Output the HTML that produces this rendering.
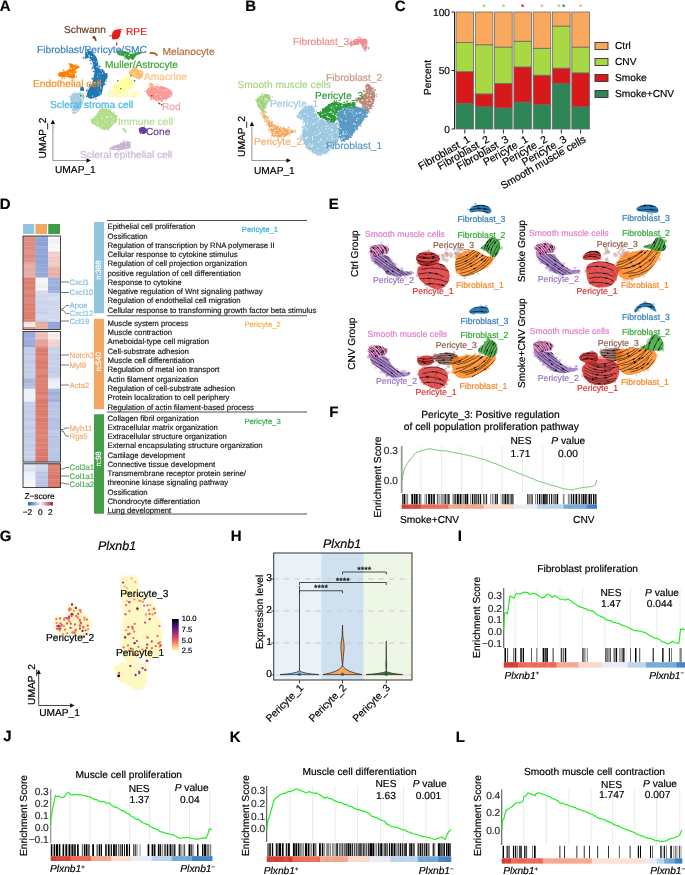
<!DOCTYPE html>
<html><head><meta charset="utf-8"><style>
html,body{margin:0;padding:0;background:#fff;}
svg{display:block;will-change:transform;}
text{font-family:"Liberation Sans", sans-serif;text-rendering:geometricPrecision;stroke-width:0.18px;}
</style></head><body>
<svg width="685" height="875" viewBox="0 0 685 875">
<rect width="685" height="875" fill="#fff"/>
<text x="-0.30" y="10.80" font-size="15" fill="#000" text-anchor="start" font-weight="bold" stroke="#000">A</text>
<text x="245.20" y="11.00" font-size="15" fill="#000" text-anchor="start" font-weight="bold" stroke="#000">B</text>
<text x="394.70" y="11.00" font-size="15" fill="#000" text-anchor="start" font-weight="bold" stroke="#000">C</text>
<text x="-0.30" y="208.80" font-size="15" fill="#000" text-anchor="start" font-weight="bold" stroke="#000">D</text>
<text x="328.80" y="208.80" font-size="15" fill="#000" text-anchor="start" font-weight="bold" stroke="#000">E</text>
<text x="329.20" y="416.80" font-size="15" fill="#000" text-anchor="start" font-weight="bold" stroke="#000">F</text>
<text x="-0.30" y="541.20" font-size="15" fill="#000" text-anchor="start" font-weight="bold" stroke="#000">G</text>
<text x="230.70" y="541.20" font-size="15" fill="#000" text-anchor="start" font-weight="bold" stroke="#000">H</text>
<text x="457.80" y="541.20" font-size="15" fill="#000" text-anchor="start" font-weight="bold" stroke="#000">I</text>
<text x="3.20" y="741.30" font-size="15" fill="#000" text-anchor="start" font-weight="bold" stroke="#000">J</text>
<text x="229.70" y="742.20" font-size="15" fill="#000" text-anchor="start" font-weight="bold" stroke="#000">K</text>
<text x="455.70" y="742.20" font-size="15" fill="#000" text-anchor="start" font-weight="bold" stroke="#000">L</text>
<path d="M84.5 57.7 C84.8 56.4 86.6 52.4 87.7 51.3 C88.8 50.2 89.9 50.8 91.0 51.3 C92.1 51.8 93.3 53.4 94.2 54.5 C95.1 55.6 95.9 56.2 96.6 57.7 C97.3 59.2 97.8 61.6 98.2 63.4 C98.6 65.2 97.9 66.9 99.0 68.2 C100.1 69.5 103.1 70.1 104.6 71.4 C106.1 72.7 107.7 74.6 107.8 76.2 C107.9 77.8 106.2 79.1 105.4 81.0 C104.6 82.9 103.7 85.2 103.0 87.4 C102.3 89.6 102.5 92.3 101.4 93.9 C100.3 95.5 98.5 96.2 96.6 97.0 C94.7 97.8 91.7 99.0 90.1 98.7 C88.5 98.5 87.3 97.1 87.0 95.5 C86.7 93.9 87.7 90.9 88.5 89.0 C89.3 87.1 91.0 86.1 91.8 84.2 C92.6 82.3 93.0 79.9 93.4 77.8 C93.8 75.7 94.2 73.5 94.2 71.4 C94.2 69.3 93.9 66.9 93.4 65.0 C92.9 63.1 91.8 61.3 91.0 60.1 C90.2 58.9 89.3 57.8 88.5 57.7 C87.7 57.6 86.8 59.3 86.1 59.3 C85.4 59.3 84.2 59.0 84.5 57.7 Z" fill="#1F78B4" stroke="none" stroke-width="1"/>
<g fill="#fff" fill-opacity="0.9"><circle cx="95.4" cy="82.7" r="0.4"/><circle cx="89.0" cy="55.5" r="0.7"/><circle cx="93.9" cy="61.2" r="0.5"/><circle cx="91.6" cy="56.6" r="0.7"/><circle cx="100.3" cy="82.8" r="0.7"/><circle cx="94.4" cy="70.5" r="0.6"/><circle cx="97.0" cy="67.7" r="0.4"/><circle cx="86.0" cy="58.4" r="0.6"/><circle cx="99.7" cy="73.8" r="0.5"/><circle cx="92.6" cy="96.1" r="0.7"/><circle cx="100.9" cy="88.0" r="0.7"/><circle cx="88.7" cy="88.9" r="0.6"/><circle cx="105.3" cy="72.5" r="0.7"/><circle cx="89.3" cy="56.6" r="0.7"/><circle cx="99.2" cy="91.9" r="0.5"/><circle cx="97.8" cy="89.4" r="0.4"/><circle cx="97.4" cy="76.7" r="0.5"/><circle cx="100.3" cy="93.7" r="0.5"/><circle cx="86.0" cy="58.3" r="0.4"/><circle cx="94.9" cy="82.8" r="0.6"/><circle cx="99.9" cy="77.4" r="0.4"/><circle cx="97.2" cy="66.4" r="0.6"/><circle cx="94.6" cy="72.9" r="0.5"/><circle cx="94.7" cy="82.9" r="0.5"/><circle cx="102.5" cy="73.3" r="0.7"/><circle cx="94.1" cy="72.7" r="0.5"/><circle cx="101.1" cy="71.1" r="0.5"/><circle cx="98.2" cy="82.8" r="0.7"/><circle cx="96.4" cy="62.0" r="0.6"/><circle cx="97.9" cy="74.1" r="0.4"/><circle cx="87.1" cy="53.2" r="0.6"/><circle cx="93.9" cy="57.6" r="0.4"/><circle cx="93.6" cy="77.8" r="0.4"/></g>
<g fill="#1F78B4"><circle cx="91.6" cy="51.0" r="0.6"/><circle cx="107.0" cy="73.4" r="0.6"/><circle cx="89.5" cy="86.1" r="0.7"/><circle cx="86.8" cy="96.4" r="0.8"/><circle cx="87.2" cy="52.0" r="0.6"/><circle cx="86.6" cy="90.9" r="0.6"/><circle cx="94.0" cy="71.8" r="0.8"/><circle cx="92.5" cy="78.7" r="0.9"/><circle cx="90.0" cy="60.5" r="0.8"/><circle cx="91.0" cy="63.8" r="0.7"/><circle cx="87.9" cy="50.3" r="0.7"/><circle cx="83.4" cy="58.0" r="0.8"/><circle cx="93.1" cy="71.1" r="0.7"/><circle cx="105.8" cy="84.0" r="0.6"/><circle cx="85.9" cy="54.7" r="0.7"/><circle cx="85.8" cy="52.8" r="0.9"/><circle cx="87.8" cy="89.5" r="0.6"/><circle cx="104.5" cy="84.4" r="0.8"/><circle cx="89.7" cy="84.7" r="0.9"/><circle cx="106.5" cy="81.1" r="0.6"/><circle cx="86.6" cy="90.4" r="0.7"/><circle cx="92.5" cy="78.5" r="0.8"/><circle cx="93.2" cy="65.7" r="0.7"/><circle cx="102.5" cy="70.0" r="0.9"/><circle cx="85.7" cy="53.0" r="0.5"/><circle cx="87.9" cy="49.7" r="0.8"/><circle cx="101.4" cy="94.1" r="0.7"/><circle cx="99.6" cy="66.5" r="0.9"/><circle cx="95.9" cy="98.9" r="0.7"/><circle cx="92.1" cy="68.8" r="0.7"/><circle cx="92.3" cy="51.4" r="0.7"/><circle cx="93.1" cy="67.5" r="0.9"/><circle cx="86.3" cy="53.9" r="0.8"/></g>
<path d="M80.5 87.4 C81.0 86.9 83.2 86.9 83.7 87.4 C84.2 88.0 84.2 90.2 83.7 90.7 C83.2 91.2 81.0 91.2 80.5 90.7 C80.0 90.2 80.0 88.0 80.5 87.4 Z" fill="#1F78B4" stroke="none" stroke-width="1"/>
<path d="M58.0 74.6 C58.1 73.9 58.5 72.7 59.6 72.2 C60.7 71.7 63.0 71.8 64.5 71.4 C66.0 71.0 67.6 70.6 68.5 69.8 C69.4 69.0 69.9 67.5 70.0 66.6 C70.1 65.7 69.0 64.7 69.3 64.2 C69.6 63.7 70.9 63.3 71.7 63.4 C72.5 63.5 73.0 64.6 74.1 65.0 C75.2 65.4 77.2 65.4 78.1 65.8 C79.0 66.2 80.0 66.9 79.7 67.4 C79.4 67.9 77.3 68.3 76.5 69.0 C75.7 69.7 75.2 70.2 74.9 71.4 C74.6 72.6 75.2 75.0 74.9 76.2 C74.6 77.4 74.2 78.3 73.3 78.6 C72.4 78.9 70.6 78.1 69.3 77.8 C68.0 77.5 66.6 77.1 65.3 77.0 C63.9 76.9 62.3 77.1 61.2 77.0 C60.1 76.9 59.3 76.6 58.8 76.2 C58.3 75.8 57.9 75.3 58.0 74.6 Z" fill="#FF7F00" stroke="none" stroke-width="1"/>
<g fill="#fff" fill-opacity="0.9"><circle cx="70.1" cy="73.7" r="0.5"/><circle cx="71.8" cy="73.4" r="0.7"/><circle cx="68.2" cy="77.6" r="0.5"/><circle cx="73.8" cy="67.8" r="0.6"/><circle cx="75.1" cy="65.6" r="0.4"/><circle cx="71.2" cy="68.7" r="0.7"/><circle cx="66.2" cy="75.2" r="0.5"/><circle cx="69.5" cy="72.3" r="0.5"/><circle cx="70.0" cy="73.5" r="0.4"/></g>
<g fill="#FF7F00"><circle cx="64.3" cy="78.2" r="0.8"/><circle cx="63.6" cy="70.3" r="0.9"/><circle cx="75.8" cy="64.9" r="0.7"/><circle cx="62.2" cy="78.1" r="0.8"/><circle cx="74.4" cy="77.0" r="0.9"/><circle cx="69.1" cy="63.7" r="0.8"/><circle cx="76.0" cy="71.6" r="0.8"/><circle cx="76.5" cy="76.5" r="0.8"/><circle cx="75.8" cy="72.5" r="0.8"/></g>
<path d="M111.8 34.5 C112.1 33.5 112.5 32.0 113.4 31.2 C114.3 30.4 116.1 29.9 117.4 29.6 C118.8 29.3 121.0 28.8 121.5 29.3 C122.0 29.8 121.0 31.7 120.7 32.8 C120.4 33.9 120.3 35.0 119.9 36.0 C119.5 37.0 119.1 38.0 118.3 38.5 C117.5 39.0 116.0 39.2 115.0 39.3 C114.0 39.4 113.1 39.7 112.6 39.3 C112.1 38.9 111.9 37.7 111.8 36.9 C111.7 36.1 111.5 35.5 111.8 34.5 Z" fill="#E31A1C" stroke="none" stroke-width="1"/>
<g fill="#fff" fill-opacity="0.9"><circle cx="120.6" cy="30.2" r="0.5"/><circle cx="112.9" cy="34.0" r="0.4"/></g>
<g fill="#E31A1C"><circle cx="122.0" cy="29.9" r="0.5"/><circle cx="110.1" cy="35.7" r="0.8"/></g>
<path d="M92.6 37.0 C92.9 36.6 94.0 35.9 94.5 36.0 C95.0 36.1 95.2 36.8 95.5 37.5 C95.8 38.2 96.6 39.9 96.6 40.5 C96.6 41.1 95.9 41.3 95.5 41.0 C95.1 40.7 94.7 39.2 94.2 38.8 C93.8 38.4 93.1 38.8 92.8 38.5 C92.5 38.2 92.3 37.4 92.6 37.0 Z" fill="#6B3A1F" stroke="none" stroke-width="1"/>
<path d="M116.6 51.3 C117.1 50.8 119.2 50.5 120.7 50.5 C122.2 50.5 123.9 50.8 125.5 51.3 C127.1 51.8 128.7 53.4 130.3 53.7 C131.9 54.0 133.5 53.2 135.1 52.9 C136.7 52.6 139.1 52.0 140.0 52.1 C140.9 52.2 141.2 53.2 140.7 53.7 C140.1 54.2 137.8 54.5 136.7 55.3 C135.6 56.1 135.0 57.7 134.3 58.5 C133.6 59.3 133.4 60.1 132.7 60.1 C132.0 60.1 131.1 58.6 130.3 58.5 C129.5 58.4 128.7 59.4 127.9 59.3 C127.1 59.2 126.3 58.2 125.5 57.7 C124.7 57.2 124.1 56.5 123.0 56.1 C121.9 55.7 119.9 55.7 119.0 55.3 C118.1 54.9 117.8 54.4 117.4 53.7 C117.0 53.0 116.0 51.8 116.6 51.3 Z" fill="#33A02C" stroke="none" stroke-width="1"/>
<g fill="#fff" fill-opacity="0.9"><circle cx="123.3" cy="51.1" r="0.4"/><circle cx="129.5" cy="53.8" r="0.5"/><circle cx="125.1" cy="54.4" r="0.5"/><circle cx="129.0" cy="55.5" r="0.7"/><circle cx="124.7" cy="55.1" r="0.5"/><circle cx="120.1" cy="53.0" r="0.6"/></g>
<g fill="#33A02C"><circle cx="127.8" cy="50.7" r="0.6"/><circle cx="125.0" cy="58.8" r="0.7"/><circle cx="129.7" cy="52.3" r="0.6"/><circle cx="120.7" cy="49.8" r="0.8"/><circle cx="140.8" cy="53.4" r="0.6"/><circle cx="128.7" cy="59.2" r="0.9"/></g>
<path d="M149.6 52.5 C149.9 52.2 151.1 52.0 152.0 52.0 C152.9 52.0 154.1 52.2 155.0 52.6 C155.9 53.0 157.3 53.9 157.6 54.5 C157.9 55.1 157.4 56.1 157.0 56.1 C156.6 56.1 155.8 54.9 155.0 54.5 C154.2 54.1 152.8 54.1 152.0 54.0 C151.2 53.9 150.4 54.2 150.0 54.0 C149.6 53.8 149.3 52.8 149.6 52.5 Z" fill="#B15928" stroke="none" stroke-width="1"/>
<path d="M70.9 95.5 C71.6 94.5 72.5 93.4 74.1 93.0 C75.7 92.6 78.8 92.6 80.5 93.0 C82.2 93.4 84.0 94.3 84.5 95.5 C85.0 96.7 84.2 98.4 83.7 100.3 C83.2 102.2 82.2 104.8 81.3 106.7 C80.4 108.6 79.3 110.3 78.1 111.5 C76.9 112.7 75.2 113.9 74.1 114.0 C73.0 114.1 72.0 113.5 71.7 112.3 C71.4 111.1 72.6 108.4 72.5 106.7 C72.4 105.0 71.3 103.2 70.9 101.9 C70.5 100.6 70.1 99.8 70.1 98.7 C70.1 97.6 70.2 96.5 70.9 95.5 Z" fill="#A6CEE3" stroke="none" stroke-width="1"/>
<g fill="#fff" fill-opacity="0.9"><circle cx="79.9" cy="101.0" r="0.5"/><circle cx="82.6" cy="98.7" r="0.5"/><circle cx="81.5" cy="98.0" r="0.7"/><circle cx="83.7" cy="99.4" r="0.5"/><circle cx="74.2" cy="110.9" r="0.5"/><circle cx="82.4" cy="101.2" r="0.6"/><circle cx="72.7" cy="111.5" r="0.7"/><circle cx="75.9" cy="111.5" r="0.7"/><circle cx="76.6" cy="99.8" r="0.4"/></g>
<g fill="#A6CEE3"><circle cx="71.5" cy="106.6" r="0.8"/><circle cx="84.0" cy="104.1" r="0.7"/><circle cx="73.5" cy="93.4" r="0.7"/><circle cx="71.4" cy="108.2" r="0.6"/><circle cx="75.1" cy="91.3" r="0.6"/><circle cx="83.7" cy="93.9" r="0.7"/><circle cx="80.0" cy="92.2" r="0.8"/><circle cx="69.2" cy="96.4" r="0.7"/><circle cx="85.6" cy="95.4" r="0.5"/></g>
<path d="M114.2 84.2 C114.9 83.1 116.1 83.4 117.4 82.6 C118.8 81.8 121.0 80.5 122.3 79.4 C123.6 78.3 124.4 76.5 125.5 76.2 C126.6 75.9 127.6 77.0 128.7 77.8 C129.8 78.6 131.1 79.7 131.9 81.0 C132.7 82.3 133.8 84.5 133.5 85.8 C133.2 87.1 131.6 88.2 130.3 89.0 C129.0 89.8 127.1 90.2 125.5 90.7 C123.9 91.2 122.3 92.0 120.7 92.3 C119.1 92.6 117.0 92.8 115.8 92.3 C114.6 91.8 113.7 90.3 113.4 89.0 C113.1 87.7 113.5 85.3 114.2 84.2 Z" fill="#FFFF99" stroke="none" stroke-width="1"/>
<g fill="#fff" fill-opacity="0.9"><circle cx="126.0" cy="77.9" r="0.6"/><circle cx="119.5" cy="88.1" r="0.6"/><circle cx="116.1" cy="84.5" r="0.6"/><circle cx="120.9" cy="85.7" r="0.5"/><circle cx="121.5" cy="86.9" r="0.4"/><circle cx="119.4" cy="83.7" r="0.7"/><circle cx="118.0" cy="84.6" r="0.7"/><circle cx="126.3" cy="84.8" r="0.4"/><circle cx="120.1" cy="90.3" r="0.7"/></g>
<g fill="#FFFF99"><circle cx="133.6" cy="81.4" r="0.7"/><circle cx="118.4" cy="93.2" r="0.8"/><circle cx="131.2" cy="78.7" r="0.6"/><circle cx="129.8" cy="77.4" r="0.5"/><circle cx="117.0" cy="93.7" r="0.9"/><circle cx="134.6" cy="85.5" r="0.6"/><circle cx="114.2" cy="91.8" r="0.8"/><circle cx="133.2" cy="83.5" r="0.5"/><circle cx="132.3" cy="81.1" r="0.7"/></g>
<path d="M128.7 73.0 C128.7 71.7 130.8 69.1 131.9 68.2 C133.0 67.3 134.0 67.1 135.1 67.4 C136.2 67.7 137.0 69.1 138.3 69.8 C139.6 70.5 142.4 70.3 143.1 71.4 C143.8 72.5 143.0 74.9 142.3 76.2 C141.6 77.5 140.3 79.1 139.1 79.4 C137.9 79.7 136.3 78.3 135.1 77.8 C133.9 77.3 133.0 77.0 131.9 76.2 C130.8 75.4 128.7 74.3 128.7 73.0 Z" fill="#FDBF6F" stroke="none" stroke-width="1"/>
<g fill="#fff" fill-opacity="0.9"><circle cx="141.0" cy="72.6" r="0.7"/><circle cx="135.8" cy="75.5" r="0.6"/><circle cx="133.9" cy="73.4" r="0.7"/><circle cx="132.6" cy="68.5" r="0.7"/><circle cx="131.2" cy="69.7" r="0.5"/></g>
<g fill="#FDBF6F"><circle cx="141.9" cy="76.9" r="0.8"/><circle cx="140.9" cy="70.0" r="0.6"/><circle cx="137.5" cy="69.0" r="0.8"/><circle cx="137.4" cy="67.3" r="0.6"/><circle cx="129.9" cy="68.8" r="0.5"/></g>
<path d="M146.0 91.3 C146.1 90.1 147.3 88.9 148.4 88.1 C149.5 87.3 150.7 86.9 152.4 86.5 C154.2 86.1 156.8 85.6 158.9 85.7 C161.1 85.8 163.3 86.5 165.3 87.3 C167.3 88.1 169.7 89.4 170.9 90.5 C172.1 91.6 172.6 92.6 172.5 93.7 C172.4 94.8 171.3 96.0 170.1 96.9 C168.9 97.8 166.9 98.6 165.3 99.3 C163.7 100.0 162.1 100.9 160.5 101.0 C158.9 101.1 157.3 100.5 155.7 100.1 C154.1 99.7 152.2 99.3 150.8 98.5 C149.5 97.7 148.4 96.5 147.6 95.3 C146.8 94.1 145.9 92.5 146.0 91.3 Z" fill="#FB9A99" stroke="none" stroke-width="1"/>
<g fill="#fff" fill-opacity="0.9"><circle cx="155.3" cy="86.9" r="0.5"/><circle cx="158.0" cy="89.0" r="0.5"/><circle cx="160.6" cy="96.5" r="0.7"/><circle cx="157.3" cy="88.0" r="0.5"/><circle cx="152.6" cy="98.8" r="0.4"/><circle cx="151.6" cy="94.0" r="0.4"/><circle cx="170.5" cy="95.9" r="0.7"/><circle cx="159.1" cy="86.5" r="0.7"/><circle cx="156.2" cy="94.4" r="0.6"/><circle cx="149.5" cy="89.3" r="0.5"/><circle cx="163.2" cy="90.7" r="0.6"/><circle cx="166.2" cy="90.5" r="0.7"/></g>
<g fill="#FB9A99"><circle cx="166.7" cy="98.9" r="0.8"/><circle cx="144.8" cy="91.5" r="0.7"/><circle cx="162.1" cy="101.0" r="0.7"/><circle cx="150.7" cy="86.4" r="0.6"/><circle cx="157.4" cy="84.1" r="0.7"/><circle cx="157.9" cy="101.6" r="0.7"/><circle cx="166.0" cy="99.8" r="0.8"/><circle cx="171.9" cy="96.0" r="0.8"/><circle cx="156.2" cy="100.4" r="0.8"/><circle cx="169.9" cy="97.3" r="0.7"/><circle cx="161.6" cy="101.4" r="0.7"/><circle cx="150.8" cy="99.4" r="0.9"/></g>
<path d="M149.0 84.0 C149.2 83.4 150.2 82.7 151.0 82.8 C151.8 82.9 153.8 83.8 154.0 84.5 C154.2 85.2 153.2 86.5 152.5 86.8 C151.8 87.1 150.6 87.0 150.0 86.5 C149.4 86.0 148.8 84.6 149.0 84.0 Z" fill="#FDBF6F" stroke="none" stroke-width="1"/>
<path d="M91.4 119.4 C91.9 118.5 93.5 118.1 94.6 117.0 C95.7 115.9 97.0 114.2 97.8 113.0 C98.6 111.8 98.7 110.6 99.5 109.8 C100.3 109.0 101.1 108.2 102.7 108.2 C104.3 108.2 107.4 109.0 109.1 109.8 C110.8 110.6 111.9 112.1 113.1 113.0 C114.3 113.9 115.6 114.1 116.3 115.4 C117.0 116.7 117.4 119.7 117.1 121.0 C116.8 122.3 115.5 122.6 114.7 123.4 C113.9 124.2 113.2 124.8 112.3 125.8 C111.4 126.8 110.4 128.4 109.1 129.1 C107.8 129.8 105.9 130.2 104.3 129.9 C102.7 129.6 101.1 128.2 99.5 127.4 C97.9 126.6 95.9 125.8 94.6 125.0 C93.2 124.2 91.9 123.5 91.4 122.6 C90.9 121.7 90.9 120.3 91.4 119.4 Z" fill="#B2DF8A" stroke="none" stroke-width="1"/>
<g fill="#fff" fill-opacity="0.9"><circle cx="101.9" cy="118.4" r="0.7"/><circle cx="107.8" cy="122.0" r="0.5"/><circle cx="107.7" cy="117.3" r="0.7"/><circle cx="106.9" cy="128.7" r="0.5"/><circle cx="111.1" cy="116.7" r="0.7"/><circle cx="113.3" cy="123.5" r="0.4"/><circle cx="97.6" cy="123.2" r="0.7"/><circle cx="94.7" cy="117.5" r="0.4"/><circle cx="112.9" cy="122.9" r="0.4"/><circle cx="102.7" cy="125.2" r="0.5"/><circle cx="101.1" cy="110.1" r="0.4"/><circle cx="105.3" cy="121.4" r="0.5"/><circle cx="112.0" cy="122.5" r="0.6"/><circle cx="113.7" cy="119.1" r="0.5"/><circle cx="111.3" cy="123.2" r="0.4"/><circle cx="106.7" cy="117.0" r="0.7"/></g>
<g fill="#B2DF8A"><circle cx="117.3" cy="116.1" r="0.8"/><circle cx="113.9" cy="112.3" r="0.7"/><circle cx="92.1" cy="123.7" r="0.6"/><circle cx="110.2" cy="110.2" r="0.9"/><circle cx="102.3" cy="107.6" r="0.8"/><circle cx="94.2" cy="116.9" r="0.6"/><circle cx="100.9" cy="108.8" r="0.6"/><circle cx="108.4" cy="130.1" r="0.8"/><circle cx="109.0" cy="108.4" r="0.5"/><circle cx="99.8" cy="128.6" r="0.7"/><circle cx="117.0" cy="116.0" r="0.7"/><circle cx="97.0" cy="113.3" r="0.5"/><circle cx="90.8" cy="119.9" r="0.6"/><circle cx="102.2" cy="129.2" r="0.7"/><circle cx="106.3" cy="108.3" r="0.8"/><circle cx="117.8" cy="119.3" r="0.6"/></g>
<path d="M122.0 128.5 C121.8 127.8 123.2 127.7 124.0 128.2 C124.8 128.7 126.6 130.8 126.8 131.5 C127.0 132.2 125.8 132.8 125.0 132.3 C124.2 131.8 122.2 129.2 122.0 128.5 Z" fill="#B2DF8A" stroke="none" stroke-width="1"/>
<path d="M138.8 129.0 C138.9 128.0 139.6 127.7 140.5 127.4 C141.4 127.1 142.9 126.9 144.0 127.2 C145.1 127.5 146.4 128.1 146.8 129.0 C147.2 129.9 147.1 131.7 146.5 132.5 C145.9 133.3 144.6 133.7 143.5 133.9 C142.4 134.1 140.8 134.3 140.0 133.5 C139.2 132.7 138.7 130.0 138.8 129.0 Z" fill="#6A3D9A" stroke="none" stroke-width="1"/>
<g fill="#fff" fill-opacity="0.9"><circle cx="141.3" cy="133.1" r="0.6"/></g>
<g fill="#6A3D9A"><circle cx="144.1" cy="126.3" r="0.5"/></g>
<path d="M109.1 149.1 C109.0 148.4 111.5 146.8 113.1 146.0 C114.7 145.2 117.0 145.0 118.7 144.3 C120.4 143.6 122.0 142.4 123.5 141.9 C125.0 141.4 126.5 140.8 127.6 141.1 C128.7 141.4 129.5 142.4 130.0 143.5 C130.5 144.6 131.3 146.6 130.8 147.5 C130.3 148.4 128.6 148.7 126.8 149.1 C125.0 149.5 122.4 149.8 120.3 150.0 C118.2 150.2 115.8 150.2 113.9 150.0 C112.0 149.8 109.2 149.8 109.1 149.1 Z" fill="#CAB2D6" stroke="none" stroke-width="1"/>
<g fill="#fff" fill-opacity="0.9"><circle cx="119.8" cy="144.0" r="0.5"/><circle cx="126.6" cy="147.2" r="0.6"/><circle cx="117.6" cy="148.4" r="0.5"/><circle cx="126.2" cy="142.3" r="0.7"/><circle cx="115.5" cy="148.2" r="0.7"/></g>
<g fill="#CAB2D6"><circle cx="120.9" cy="143.0" r="0.8"/><circle cx="118.7" cy="151.0" r="0.8"/><circle cx="123.3" cy="140.6" r="0.8"/><circle cx="129.7" cy="142.6" r="0.7"/><circle cx="130.5" cy="142.5" r="0.7"/></g>
<rect x="116.00" y="42.50" width="1.20" height="3.00" fill="#E31A1C"/>
<rect x="130.00" y="75.00" width="1.40" height="1.40" fill="#33A02C"/>
<rect x="117.00" y="80.00" width="1.40" height="1.40" fill="#33A02C"/>
<rect x="120.00" y="88.00" width="1.40" height="1.40" fill="#33A02C"/>
<rect x="134.00" y="80.00" width="1.40" height="1.40" fill="#1F78B4"/>
<rect x="151.00" y="95.00" width="1.40" height="1.40" fill="#6B3A1F"/>
<rect x="159.00" y="103.00" width="1.40" height="1.40" fill="#E31A1C"/>
<rect x="161.00" y="104.00" width="1.40" height="1.40" fill="#6A3D9A"/>
<rect x="158.00" y="102.50" width="1.40" height="1.40" fill="#33A02C"/>
<rect x="80.00" y="95.00" width="1.40" height="1.40" fill="#33A02C"/>
<text x="64.00" y="33.00" font-size="10.2" fill="#6B3A1F" stroke="#6B3A1F" text-anchor="start">Schwann</text>
<text x="126.00" y="35.00" font-size="10.2" fill="#E31A1C" stroke="#E31A1C" text-anchor="start">RPE</text>
<text x="37.00" y="53.20" font-size="10.2" fill="#3D84C0" stroke="#3D84C0" text-anchor="start">Fibroblast/Pericyte/SMC</text>
<text x="162.50" y="55.00" font-size="10.2" fill="#B86A35" stroke="#B86A35" text-anchor="start">Melanocyte</text>
<text x="105.00" y="67.50" font-size="10.2" fill="#3DA435" stroke="#3DA435" text-anchor="start">Muller/Astrocyte</text>
<text x="144.00" y="80.00" font-size="10.2" fill="#FCC27A" stroke="#FCC27A" text-anchor="start">Amacrine</text>
<text x="33.00" y="87.00" font-size="10.2" fill="#FA8A1E" stroke="#FA8A1E" text-anchor="start">Endothelial cell</text>
<text x="108.00" y="97.00" font-size="10.2" fill="#FFF98E" stroke="#FFF98E" text-anchor="start">Bipolar</text>
<text x="50.00" y="108.30" font-size="10.2" fill="#45B4E4" stroke="#45B4E4" text-anchor="start">Scleral stroma cell</text>
<text x="162.00" y="110.00" font-size="10.2" fill="#F9A3A2" stroke="#F9A3A2" text-anchor="start">Rod</text>
<text x="118.00" y="124.50" font-size="10.2" fill="#B5DE90" stroke="#B5DE90" text-anchor="start">Immune cell</text>
<text x="146.00" y="135.20" font-size="10.2" fill="#6A3D9A" stroke="#6A3D9A" text-anchor="start">Cone</text>
<text x="80.00" y="158.00" font-size="10.2" fill="#CBB6D8" stroke="#CBB6D8" text-anchor="start">Scleral epithelial cell</text>
<line x1="52.90" y1="160.50" x2="52.90" y2="123.00" stroke="#8a8a8a" stroke-width="0.9"/>
<line x1="52.90" y1="160.50" x2="87.00" y2="160.50" stroke="#8a8a8a" stroke-width="0.9"/>
<path d="M50.7 124.0 L52.9 119.5 L55.1 124.0 Z" fill="#111" stroke="none" stroke-width="1"/>
<path d="M86.5 158.3 L91.0 160.5 L86.5 162.7 Z" fill="#111" stroke="none" stroke-width="1"/>
<text x="55.00" y="172.50" font-size="10.2" fill="#000" text-anchor="start" stroke="#000">UMAP_1</text>
<text font-size="10.2" text-anchor="middle" transform="translate(45.5 138) rotate(-90)" stroke="#000">UMAP_2</text>
<path d="M349.3 43.4 C349.2 42.7 349.6 41.8 350.2 41.4 C350.8 41.0 352.1 41.1 352.8 40.8 C353.5 40.4 353.8 39.6 354.6 39.3 C355.4 39.0 356.2 38.9 357.5 38.8 C358.8 38.7 360.7 38.8 362.2 38.8 C363.7 38.8 365.4 38.6 366.3 39.1 C367.2 39.6 367.5 40.7 367.7 41.7 C367.9 42.7 367.5 44.0 367.4 45.2 C367.3 46.4 367.2 47.6 366.9 48.7 C366.6 49.8 366.1 51.2 365.7 51.6 C365.3 52.0 364.9 51.5 364.5 51.0 C364.1 50.5 363.8 49.4 363.4 48.7 C363.0 48.0 362.3 47.6 361.9 46.9 C361.5 46.2 361.4 45.1 361.0 44.6 C360.6 44.1 359.7 43.6 359.3 43.7 C358.9 43.9 359.0 45.4 358.7 45.5 C358.4 45.6 358.1 44.6 357.5 44.6 C356.9 44.6 356.0 45.1 355.2 45.2 C354.4 45.4 353.6 45.4 352.8 45.5 C352.0 45.6 351.1 46.1 350.5 45.8 C349.9 45.4 349.4 44.1 349.3 43.4 Z" fill="#F08C8C" stroke="none" stroke-width="1"/>
<g fill="#fff" fill-opacity="0.9"><circle cx="363.4" cy="47.1" r="0.5"/><circle cx="367.1" cy="44.3" r="0.7"/><circle cx="353.0" cy="45.1" r="0.6"/><circle cx="365.0" cy="45.5" r="0.7"/><circle cx="355.3" cy="40.4" r="0.5"/><circle cx="350.0" cy="42.0" r="0.5"/><circle cx="365.8" cy="49.9" r="0.7"/><circle cx="350.0" cy="42.1" r="0.4"/><circle cx="366.1" cy="40.4" r="0.4"/><circle cx="352.8" cy="42.5" r="0.7"/><circle cx="367.7" cy="41.9" r="0.5"/><circle cx="359.8" cy="43.3" r="0.4"/><circle cx="359.5" cy="43.3" r="0.5"/><circle cx="367.2" cy="46.3" r="0.4"/></g>
<g fill="#F08C8C"><circle cx="351.4" cy="46.2" r="0.6"/><circle cx="357.8" cy="37.4" r="0.7"/><circle cx="360.8" cy="38.0" r="0.7"/><circle cx="359.7" cy="37.1" r="0.7"/><circle cx="368.4" cy="47.7" r="0.7"/><circle cx="350.7" cy="40.0" r="0.7"/><circle cx="368.8" cy="47.5" r="0.6"/><circle cx="368.6" cy="48.6" r="0.9"/></g>
<path d="M256.6 99.0 C257.4 97.7 259.5 96.0 261.4 95.2 C263.3 94.4 266.4 93.9 268.0 94.2 C269.6 94.5 270.6 96.0 270.9 97.1 C271.2 98.2 270.5 99.8 269.9 100.9 C269.3 102.0 267.9 102.4 267.1 103.7 C266.3 105.0 265.7 106.9 265.2 108.5 C264.7 110.1 264.8 112.7 264.2 113.2 C263.6 113.7 262.3 112.2 261.4 111.3 C260.4 110.3 259.3 108.9 258.5 107.5 C257.7 106.1 256.9 104.2 256.6 102.8 C256.3 101.4 255.8 100.3 256.6 99.0 Z" fill="#A3D47F" stroke="none" stroke-width="1"/>
<g fill="#fff" fill-opacity="0.9"><circle cx="268.1" cy="101.2" r="0.5"/><circle cx="263.3" cy="95.2" r="0.6"/><circle cx="264.5" cy="109.2" r="0.5"/><circle cx="264.9" cy="98.5" r="0.7"/><circle cx="259.4" cy="98.0" r="0.4"/><circle cx="268.2" cy="99.7" r="0.4"/><circle cx="270.4" cy="96.9" r="0.7"/><circle cx="260.9" cy="108.8" r="0.5"/><circle cx="261.8" cy="107.1" r="0.4"/><circle cx="260.7" cy="104.7" r="0.5"/><circle cx="266.5" cy="99.2" r="0.7"/><circle cx="266.1" cy="102.0" r="0.6"/><circle cx="267.2" cy="99.6" r="0.7"/><circle cx="264.4" cy="100.7" r="0.6"/><circle cx="261.4" cy="98.0" r="0.6"/><circle cx="259.0" cy="102.7" r="0.7"/></g>
<g fill="#A3D47F"><circle cx="261.3" cy="112.9" r="0.8"/><circle cx="255.7" cy="100.1" r="0.7"/><circle cx="266.3" cy="107.1" r="0.5"/><circle cx="265.9" cy="111.9" r="0.9"/><circle cx="265.9" cy="107.5" r="0.6"/><circle cx="272.1" cy="97.0" r="0.7"/><circle cx="264.2" cy="114.9" r="0.7"/><circle cx="266.1" cy="112.4" r="0.6"/><circle cx="262.2" cy="93.7" r="0.9"/></g>
<path d="M262.5 113.8 C263.4 114.0 266.0 116.0 267.5 117.5 C269.0 119.0 269.8 121.2 271.2 122.5 C272.7 123.8 274.2 124.6 276.2 125.5 C278.3 126.4 281.2 127.3 283.8 128.0 C286.2 128.7 289.2 128.8 291.2 129.5 C293.3 130.2 296.5 131.3 296.2 132.0 C296.0 132.7 291.7 133.0 290.0 133.8 C288.3 134.5 287.9 135.6 286.2 136.2 C284.6 136.9 281.9 137.4 280.0 137.5 C278.1 137.6 276.5 137.6 275.0 137.0 C273.5 136.4 272.1 135.1 271.2 133.8 C270.4 132.4 270.6 130.2 270.0 128.8 C269.4 127.3 268.3 126.5 267.5 125.0 C266.7 123.5 265.9 121.5 265.0 120.0 C264.1 118.5 262.4 117.3 262.0 116.2 C261.6 115.2 261.6 113.5 262.5 113.8 Z" fill="#F5A962" stroke="none" stroke-width="1"/>
<g fill="#fff" fill-opacity="0.9"><circle cx="268.0" cy="119.3" r="0.6"/><circle cx="274.0" cy="126.5" r="0.7"/><circle cx="275.0" cy="130.6" r="0.5"/><circle cx="281.1" cy="136.2" r="0.4"/><circle cx="273.3" cy="132.7" r="0.6"/><circle cx="270.5" cy="127.8" r="0.7"/><circle cx="266.6" cy="119.9" r="0.4"/><circle cx="281.9" cy="129.3" r="0.6"/><circle cx="282.3" cy="128.0" r="0.4"/><circle cx="294.3" cy="131.3" r="0.7"/><circle cx="278.2" cy="128.4" r="0.4"/><circle cx="287.8" cy="129.1" r="0.5"/><circle cx="275.8" cy="127.2" r="0.4"/><circle cx="267.5" cy="120.9" r="0.6"/><circle cx="282.4" cy="130.6" r="0.6"/><circle cx="276.7" cy="134.4" r="0.6"/><circle cx="289.5" cy="129.6" r="0.7"/><circle cx="275.6" cy="130.8" r="0.4"/><circle cx="283.9" cy="131.5" r="0.6"/><circle cx="279.7" cy="127.3" r="0.7"/><circle cx="277.3" cy="130.4" r="0.6"/><circle cx="276.2" cy="136.5" r="0.7"/><circle cx="272.3" cy="128.0" r="0.6"/><circle cx="274.5" cy="136.5" r="0.5"/><circle cx="267.4" cy="123.1" r="0.7"/><circle cx="274.5" cy="132.1" r="0.7"/><circle cx="274.3" cy="134.6" r="0.5"/><circle cx="289.6" cy="132.1" r="0.6"/><circle cx="271.8" cy="127.4" r="0.6"/><circle cx="271.4" cy="132.1" r="0.7"/><circle cx="280.7" cy="132.7" r="0.7"/><circle cx="280.5" cy="128.4" r="0.4"/><circle cx="284.9" cy="132.7" r="0.6"/><circle cx="269.4" cy="121.4" r="0.4"/><circle cx="279.6" cy="132.8" r="0.6"/><circle cx="263.1" cy="115.6" r="0.6"/><circle cx="283.0" cy="127.8" r="0.5"/><circle cx="270.5" cy="124.1" r="0.6"/><circle cx="288.9" cy="131.1" r="0.7"/><circle cx="265.9" cy="118.3" r="0.7"/><circle cx="275.0" cy="132.2" r="0.4"/><circle cx="267.1" cy="119.6" r="0.6"/><circle cx="262.8" cy="115.0" r="0.5"/><circle cx="272.6" cy="128.1" r="0.7"/><circle cx="290.1" cy="130.0" r="0.7"/><circle cx="282.3" cy="136.2" r="0.7"/><circle cx="273.9" cy="134.1" r="0.7"/><circle cx="277.3" cy="134.9" r="0.4"/></g>
<g fill="#F5A962"><circle cx="264.5" cy="121.3" r="0.6"/><circle cx="282.7" cy="138.6" r="0.7"/><circle cx="289.4" cy="135.2" r="0.6"/><circle cx="266.8" cy="115.8" r="0.6"/><circle cx="268.9" cy="130.7" r="0.6"/><circle cx="273.9" cy="136.2" r="0.9"/><circle cx="288.4" cy="127.2" r="0.6"/><circle cx="271.5" cy="135.7" r="0.7"/><circle cx="271.6" cy="121.8" r="0.7"/><circle cx="264.0" cy="113.4" r="0.8"/><circle cx="260.9" cy="114.0" r="0.6"/><circle cx="270.1" cy="129.9" r="0.8"/><circle cx="284.3" cy="137.0" r="0.6"/><circle cx="289.3" cy="127.9" r="0.6"/><circle cx="287.2" cy="128.2" r="0.5"/><circle cx="272.8" cy="122.1" r="0.7"/><circle cx="280.5" cy="126.9" r="0.5"/><circle cx="269.9" cy="132.1" r="0.5"/><circle cx="295.3" cy="129.9" r="0.7"/><circle cx="266.3" cy="125.1" r="0.6"/><circle cx="268.6" cy="129.1" r="0.7"/><circle cx="272.2" cy="122.2" r="0.6"/><circle cx="284.0" cy="127.1" r="0.8"/><circle cx="278.4" cy="139.1" r="0.8"/><circle cx="268.1" cy="117.1" r="0.9"/><circle cx="272.6" cy="135.3" r="0.6"/><circle cx="278.1" cy="125.9" r="0.6"/><circle cx="265.0" cy="115.2" r="0.8"/></g>
<path d="M298.4 113.2 C299.0 111.6 301.4 109.8 303.1 108.5 C304.8 107.2 307.1 105.8 308.8 105.6 C310.6 105.4 312.5 106.2 313.6 107.5 C314.7 108.8 314.7 111.5 315.5 113.2 C316.3 115.0 316.9 116.9 318.3 118.0 C319.7 119.1 321.8 119.3 324.0 119.9 C326.2 120.5 329.4 120.9 331.6 121.8 C333.8 122.7 336.0 123.3 337.3 125.5 C338.6 127.7 339.2 132.2 339.2 135.0 C339.2 137.8 338.6 140.4 337.3 142.6 C336.0 144.8 333.5 146.6 331.6 148.3 C329.7 150.1 328.1 152.2 325.9 153.1 C323.7 154.0 320.8 154.3 318.3 154.0 C315.8 153.7 312.9 152.8 310.7 151.2 C308.5 149.6 306.4 146.9 305.0 144.5 C303.6 142.1 302.5 139.4 302.2 136.9 C301.9 134.4 302.6 131.5 303.1 129.3 C303.6 127.1 305.0 125.3 305.0 123.7 C305.0 122.1 304.1 120.9 303.1 119.9 C302.2 119.0 300.1 119.1 299.3 118.0 C298.5 116.9 297.8 114.8 298.4 113.2 Z" fill="#9CC7E0" stroke="none" stroke-width="1"/>
<g fill="#fff" fill-opacity="0.9"><circle cx="322.8" cy="143.6" r="0.4"/><circle cx="321.2" cy="140.7" r="0.6"/><circle cx="320.0" cy="146.2" r="0.4"/><circle cx="314.6" cy="112.5" r="0.7"/><circle cx="320.5" cy="132.9" r="0.5"/><circle cx="307.7" cy="146.3" r="0.6"/><circle cx="326.0" cy="126.4" r="0.6"/><circle cx="307.8" cy="123.1" r="0.6"/><circle cx="312.6" cy="136.5" r="0.5"/><circle cx="307.8" cy="137.3" r="0.7"/><circle cx="306.3" cy="120.9" r="0.4"/><circle cx="312.7" cy="143.8" r="0.5"/><circle cx="325.0" cy="132.5" r="0.6"/><circle cx="332.6" cy="146.2" r="0.5"/><circle cx="311.3" cy="150.6" r="0.7"/><circle cx="309.8" cy="125.0" r="0.6"/><circle cx="312.6" cy="137.7" r="0.6"/><circle cx="333.6" cy="140.4" r="0.4"/><circle cx="312.1" cy="145.4" r="0.7"/><circle cx="311.7" cy="121.1" r="0.4"/><circle cx="320.3" cy="132.6" r="0.6"/><circle cx="327.8" cy="126.0" r="0.7"/><circle cx="307.6" cy="107.0" r="0.6"/><circle cx="306.3" cy="108.8" r="0.5"/><circle cx="328.5" cy="128.2" r="0.4"/><circle cx="329.5" cy="144.1" r="0.7"/><circle cx="326.5" cy="122.8" r="0.6"/><circle cx="332.1" cy="137.9" r="0.5"/><circle cx="332.5" cy="139.1" r="0.6"/><circle cx="329.8" cy="149.3" r="0.5"/><circle cx="304.3" cy="113.7" r="0.7"/><circle cx="311.4" cy="146.8" r="0.7"/><circle cx="312.1" cy="123.8" r="0.4"/><circle cx="318.1" cy="120.8" r="0.6"/><circle cx="314.5" cy="134.7" r="0.5"/><circle cx="306.3" cy="138.0" r="0.7"/><circle cx="336.1" cy="132.9" r="0.4"/><circle cx="324.2" cy="150.5" r="0.5"/><circle cx="312.6" cy="139.3" r="0.7"/><circle cx="335.9" cy="138.3" r="0.4"/><circle cx="315.8" cy="131.7" r="0.4"/><circle cx="307.2" cy="123.4" r="0.7"/><circle cx="309.4" cy="145.4" r="0.5"/><circle cx="301.9" cy="118.0" r="0.5"/><circle cx="319.1" cy="133.6" r="0.6"/><circle cx="321.7" cy="127.1" r="0.5"/><circle cx="315.1" cy="151.0" r="0.5"/><circle cx="307.6" cy="120.0" r="0.6"/><circle cx="301.2" cy="116.9" r="0.5"/><circle cx="306.9" cy="129.3" r="0.7"/><circle cx="327.8" cy="138.9" r="0.5"/><circle cx="327.5" cy="132.4" r="0.4"/><circle cx="318.6" cy="142.3" r="0.7"/><circle cx="318.0" cy="122.4" r="0.5"/><circle cx="321.0" cy="139.3" r="0.7"/><circle cx="326.1" cy="129.1" r="0.7"/><circle cx="330.6" cy="142.8" r="0.4"/><circle cx="324.8" cy="146.0" r="0.7"/><circle cx="325.3" cy="145.3" r="0.7"/><circle cx="333.3" cy="146.2" r="0.7"/><circle cx="312.5" cy="146.1" r="0.6"/><circle cx="323.1" cy="125.9" r="0.4"/><circle cx="329.8" cy="128.2" r="0.5"/><circle cx="305.1" cy="127.6" r="0.6"/><circle cx="329.4" cy="148.1" r="0.7"/><circle cx="338.5" cy="133.9" r="0.4"/><circle cx="322.1" cy="145.6" r="0.6"/><circle cx="306.9" cy="114.6" r="0.6"/><circle cx="332.9" cy="129.2" r="0.5"/><circle cx="312.3" cy="112.7" r="0.4"/><circle cx="310.3" cy="111.4" r="0.4"/><circle cx="303.1" cy="118.9" r="0.5"/><circle cx="318.5" cy="152.5" r="0.6"/><circle cx="321.9" cy="152.5" r="0.4"/><circle cx="329.7" cy="134.7" r="0.7"/><circle cx="315.0" cy="122.9" r="0.7"/><circle cx="329.8" cy="145.6" r="0.5"/><circle cx="315.8" cy="117.8" r="0.5"/><circle cx="335.0" cy="142.9" r="0.4"/><circle cx="331.7" cy="129.1" r="0.7"/><circle cx="322.5" cy="128.3" r="0.4"/><circle cx="305.6" cy="137.7" r="0.6"/><circle cx="317.9" cy="148.8" r="0.7"/><circle cx="322.8" cy="130.8" r="0.4"/><circle cx="336.7" cy="131.5" r="0.6"/><circle cx="313.3" cy="118.7" r="0.5"/><circle cx="338.0" cy="134.1" r="0.4"/><circle cx="309.7" cy="144.0" r="0.7"/><circle cx="305.7" cy="128.6" r="0.4"/><circle cx="331.5" cy="136.0" r="0.6"/><circle cx="325.4" cy="135.9" r="0.4"/><circle cx="317.2" cy="127.2" r="0.5"/><circle cx="332.4" cy="133.6" r="0.4"/><circle cx="326.2" cy="138.0" r="0.4"/><circle cx="310.3" cy="116.7" r="0.4"/><circle cx="316.9" cy="135.4" r="0.6"/><circle cx="308.5" cy="116.4" r="0.6"/><circle cx="337.9" cy="138.1" r="0.6"/><circle cx="332.1" cy="125.8" r="0.4"/><circle cx="337.7" cy="129.4" r="0.5"/><circle cx="337.1" cy="126.6" r="0.4"/><circle cx="319.6" cy="119.5" r="0.7"/><circle cx="332.5" cy="133.4" r="0.5"/><circle cx="317.3" cy="127.2" r="0.5"/><circle cx="332.9" cy="137.3" r="0.4"/><circle cx="326.6" cy="149.3" r="0.7"/><circle cx="324.4" cy="141.5" r="0.5"/><circle cx="332.7" cy="145.2" r="0.5"/><circle cx="336.6" cy="127.0" r="0.4"/><circle cx="328.4" cy="121.5" r="0.4"/><circle cx="313.1" cy="124.2" r="0.7"/><circle cx="325.3" cy="121.2" r="0.7"/><circle cx="307.5" cy="140.3" r="0.4"/><circle cx="305.6" cy="138.9" r="0.5"/><circle cx="319.5" cy="130.1" r="0.5"/><circle cx="331.8" cy="130.7" r="0.7"/><circle cx="299.8" cy="115.6" r="0.5"/><circle cx="301.2" cy="114.8" r="0.6"/></g>
<g fill="#9CC7E0"><circle cx="316.4" cy="111.4" r="0.7"/><circle cx="333.7" cy="122.2" r="0.7"/><circle cx="321.4" cy="154.7" r="0.6"/><circle cx="331.9" cy="148.7" r="0.8"/><circle cx="329.8" cy="150.4" r="0.6"/><circle cx="338.6" cy="125.2" r="0.9"/><circle cx="338.4" cy="139.7" r="0.6"/><circle cx="320.9" cy="155.2" r="0.7"/><circle cx="306.4" cy="146.5" r="0.6"/><circle cx="328.0" cy="153.1" r="0.6"/><circle cx="299.8" cy="118.5" r="0.5"/><circle cx="307.6" cy="147.7" r="0.8"/><circle cx="319.5" cy="154.2" r="0.8"/><circle cx="301.5" cy="136.9" r="0.6"/><circle cx="297.5" cy="116.4" r="0.8"/><circle cx="309.1" cy="149.4" r="0.9"/><circle cx="308.0" cy="148.1" r="0.8"/><circle cx="303.1" cy="124.6" r="0.5"/><circle cx="326.9" cy="120.6" r="0.8"/><circle cx="302.0" cy="131.1" r="0.7"/><circle cx="302.5" cy="126.9" r="0.8"/><circle cx="313.6" cy="152.3" r="0.8"/><circle cx="322.0" cy="119.2" r="0.9"/><circle cx="304.0" cy="143.5" r="0.7"/><circle cx="303.5" cy="123.9" r="0.6"/><circle cx="324.4" cy="154.2" r="0.6"/><circle cx="305.6" cy="106.8" r="0.6"/><circle cx="298.1" cy="117.4" r="0.9"/><circle cx="302.7" cy="121.1" r="0.7"/><circle cx="303.5" cy="122.1" r="0.5"/><circle cx="331.7" cy="120.9" r="0.6"/><circle cx="303.9" cy="144.1" r="0.6"/><circle cx="340.1" cy="136.4" r="0.9"/><circle cx="333.1" cy="148.5" r="0.9"/><circle cx="297.2" cy="116.1" r="0.9"/><circle cx="307.4" cy="147.9" r="0.6"/><circle cx="300.5" cy="136.1" r="0.6"/><circle cx="305.5" cy="107.1" r="0.5"/><circle cx="301.9" cy="139.3" r="0.6"/><circle cx="301.0" cy="119.2" r="0.8"/><circle cx="339.6" cy="128.7" r="0.8"/><circle cx="326.9" cy="153.6" r="0.7"/><circle cx="306.5" cy="106.6" r="0.5"/><circle cx="315.3" cy="110.4" r="0.6"/><circle cx="303.0" cy="127.6" r="0.8"/><circle cx="308.5" cy="104.3" r="0.5"/><circle cx="312.4" cy="153.0" r="0.5"/><circle cx="311.7" cy="105.4" r="0.7"/><circle cx="303.9" cy="121.8" r="0.7"/><circle cx="314.3" cy="152.9" r="0.7"/><circle cx="336.4" cy="124.5" r="0.6"/><circle cx="302.3" cy="135.5" r="0.7"/><circle cx="339.1" cy="133.5" r="0.8"/><circle cx="300.8" cy="134.3" r="0.5"/><circle cx="304.9" cy="106.5" r="0.6"/><circle cx="319.5" cy="118.0" r="0.7"/><circle cx="317.7" cy="154.4" r="0.8"/><circle cx="306.3" cy="147.0" r="0.9"/><circle cx="301.1" cy="137.8" r="0.7"/><circle cx="333.1" cy="121.4" r="0.8"/><circle cx="336.3" cy="123.9" r="0.8"/><circle cx="320.5" cy="155.0" r="0.5"/><circle cx="324.9" cy="153.4" r="0.7"/><circle cx="317.0" cy="155.2" r="0.8"/><circle cx="317.9" cy="117.1" r="0.6"/><circle cx="335.3" cy="145.7" r="0.6"/><circle cx="318.6" cy="155.3" r="0.6"/><circle cx="302.1" cy="108.0" r="0.8"/><circle cx="302.6" cy="126.3" r="0.5"/></g>
<path d="M339.2 108.5 C340.5 107.4 342.7 106.1 344.9 105.6 C347.1 105.1 350.0 105.3 352.5 105.6 C355.0 105.9 357.9 107.0 360.1 107.5 C362.3 108.0 364.4 107.9 365.8 108.5 C367.2 109.1 368.6 109.9 368.6 111.3 C368.6 112.7 367.1 114.9 365.8 117.0 C364.5 119.1 362.6 121.7 361.0 123.7 C359.4 125.8 357.7 127.4 356.3 129.3 C354.9 131.2 354.1 133.2 352.5 135.0 C350.9 136.8 348.7 138.9 346.8 139.8 C344.9 140.8 342.4 141.5 341.1 140.7 C339.8 139.9 339.5 137.5 339.2 135.0 C338.9 132.5 339.5 128.3 339.2 125.5 C338.9 122.7 337.6 120.2 337.3 118.0 C337.0 115.8 337.0 113.9 337.3 112.3 C337.6 110.7 337.9 109.6 339.2 108.5 Z" fill="#5A9AC5" stroke="none" stroke-width="1"/>
<g fill="#fff" fill-opacity="0.9"><circle cx="345.5" cy="133.9" r="0.7"/><circle cx="343.2" cy="137.7" r="0.5"/><circle cx="355.1" cy="128.2" r="0.6"/><circle cx="358.1" cy="113.6" r="0.5"/><circle cx="346.4" cy="131.7" r="0.6"/><circle cx="343.4" cy="107.7" r="0.7"/><circle cx="364.4" cy="118.6" r="0.6"/><circle cx="353.4" cy="116.0" r="0.5"/><circle cx="340.8" cy="128.4" r="0.7"/><circle cx="346.3" cy="114.8" r="0.4"/><circle cx="351.9" cy="112.1" r="0.5"/><circle cx="340.4" cy="118.4" r="0.4"/><circle cx="345.2" cy="120.9" r="0.5"/><circle cx="359.8" cy="112.7" r="0.7"/><circle cx="363.9" cy="108.6" r="0.6"/><circle cx="345.4" cy="113.7" r="0.4"/><circle cx="341.3" cy="139.4" r="0.6"/><circle cx="342.7" cy="133.7" r="0.7"/><circle cx="353.0" cy="110.7" r="0.5"/><circle cx="346.0" cy="120.8" r="0.6"/><circle cx="339.0" cy="123.2" r="0.4"/><circle cx="356.3" cy="113.3" r="0.7"/><circle cx="355.1" cy="114.9" r="0.5"/><circle cx="339.3" cy="126.8" r="0.4"/><circle cx="361.8" cy="112.0" r="0.4"/><circle cx="363.1" cy="114.7" r="0.6"/><circle cx="354.1" cy="132.6" r="0.4"/><circle cx="350.9" cy="136.0" r="0.5"/><circle cx="344.4" cy="113.6" r="0.6"/><circle cx="344.0" cy="137.9" r="0.7"/><circle cx="344.6" cy="111.8" r="0.6"/><circle cx="353.8" cy="123.8" r="0.7"/><circle cx="366.7" cy="114.2" r="0.6"/><circle cx="367.0" cy="111.8" r="0.5"/><circle cx="343.4" cy="134.1" r="0.6"/><circle cx="340.2" cy="119.1" r="0.4"/><circle cx="341.6" cy="119.8" r="0.6"/><circle cx="359.1" cy="124.9" r="0.4"/><circle cx="341.8" cy="138.8" r="0.7"/><circle cx="359.1" cy="118.7" r="0.4"/><circle cx="349.7" cy="111.2" r="0.5"/><circle cx="355.3" cy="124.5" r="0.6"/><circle cx="350.1" cy="109.5" r="0.5"/><circle cx="347.2" cy="134.0" r="0.5"/><circle cx="349.2" cy="134.0" r="0.4"/><circle cx="343.3" cy="132.0" r="0.6"/><circle cx="338.7" cy="117.0" r="0.4"/><circle cx="360.4" cy="112.9" r="0.5"/><circle cx="345.4" cy="115.4" r="0.4"/><circle cx="356.7" cy="120.2" r="0.7"/><circle cx="352.8" cy="113.7" r="0.4"/><circle cx="352.1" cy="109.5" r="0.5"/><circle cx="340.4" cy="135.3" r="0.6"/><circle cx="340.7" cy="110.4" r="0.5"/><circle cx="362.1" cy="117.7" r="0.4"/><circle cx="344.8" cy="134.2" r="0.4"/><circle cx="357.5" cy="118.5" r="0.6"/><circle cx="347.6" cy="108.5" r="0.5"/><circle cx="346.9" cy="109.0" r="0.4"/><circle cx="356.6" cy="118.9" r="0.4"/><circle cx="343.6" cy="131.6" r="0.5"/><circle cx="355.7" cy="107.4" r="0.5"/><circle cx="343.0" cy="109.1" r="0.6"/><circle cx="338.7" cy="117.7" r="0.4"/><circle cx="340.4" cy="110.5" r="0.4"/></g>
<g fill="#5A9AC5"><circle cx="353.5" cy="105.2" r="0.6"/><circle cx="365.3" cy="108.1" r="0.6"/><circle cx="362.2" cy="106.4" r="0.6"/><circle cx="350.6" cy="137.4" r="0.9"/><circle cx="336.8" cy="119.9" r="0.6"/><circle cx="361.4" cy="123.5" r="0.6"/><circle cx="351.9" cy="135.8" r="0.8"/><circle cx="338.9" cy="129.6" r="0.8"/><circle cx="367.2" cy="116.4" r="0.9"/><circle cx="338.2" cy="128.4" r="0.6"/><circle cx="366.0" cy="117.1" r="0.6"/><circle cx="357.2" cy="129.3" r="0.9"/><circle cx="363.1" cy="107.5" r="0.8"/><circle cx="337.8" cy="110.1" r="0.7"/><circle cx="348.2" cy="139.2" r="0.8"/><circle cx="336.8" cy="111.2" r="0.7"/><circle cx="339.3" cy="136.7" r="0.7"/><circle cx="357.4" cy="128.9" r="0.8"/><circle cx="339.4" cy="107.9" r="0.7"/><circle cx="339.1" cy="137.3" r="0.7"/><circle cx="343.8" cy="140.8" r="0.8"/><circle cx="339.1" cy="130.0" r="0.5"/><circle cx="350.1" cy="104.5" r="0.7"/><circle cx="354.9" cy="104.6" r="0.6"/><circle cx="348.1" cy="105.0" r="0.8"/><circle cx="369.2" cy="112.6" r="0.6"/><circle cx="337.2" cy="111.2" r="0.6"/><circle cx="368.4" cy="111.0" r="0.7"/><circle cx="336.5" cy="111.2" r="0.8"/><circle cx="344.3" cy="141.2" r="0.5"/><circle cx="337.2" cy="123.4" r="0.8"/><circle cx="360.3" cy="125.5" r="0.8"/><circle cx="349.9" cy="104.4" r="0.8"/><circle cx="360.4" cy="125.5" r="0.8"/><circle cx="341.5" cy="141.1" r="0.9"/><circle cx="350.7" cy="137.4" r="0.7"/><circle cx="336.3" cy="112.3" r="0.7"/><circle cx="336.7" cy="111.4" r="0.7"/></g>
<path d="M320.2 111.3 C321.5 109.9 324.0 108.0 325.9 106.6 C327.8 105.2 329.7 103.6 331.6 102.8 C333.5 102.0 335.4 101.6 337.3 101.8 C339.2 102.0 341.1 103.5 343.0 103.7 C344.9 103.9 346.8 103.1 348.7 102.8 C350.6 102.5 353.3 101.3 354.4 101.8 C355.5 102.3 356.2 104.6 355.3 105.6 C354.4 106.5 351.1 107.0 348.7 107.5 C346.3 108.0 343.0 107.5 341.1 108.5 C339.2 109.5 338.1 111.5 337.3 113.2 C336.5 114.9 337.0 117.3 336.4 118.9 C335.8 120.5 334.9 122.4 333.5 122.7 C332.1 123.0 329.7 121.6 327.8 120.8 C325.9 120.0 323.7 119.0 322.1 118.0 C320.5 117.0 318.6 116.2 318.3 115.1 C318.0 114.0 318.9 112.7 320.2 111.3 Z" fill="#2E9A3A" stroke="none" stroke-width="1"/>
<g fill="#fff" fill-opacity="0.9"><circle cx="334.9" cy="112.1" r="0.4"/><circle cx="332.0" cy="110.8" r="0.4"/><circle cx="342.5" cy="105.0" r="0.5"/><circle cx="336.5" cy="116.7" r="0.6"/><circle cx="332.8" cy="114.7" r="0.4"/><circle cx="327.9" cy="116.2" r="0.4"/><circle cx="333.2" cy="109.0" r="0.5"/><circle cx="330.6" cy="111.8" r="0.7"/><circle cx="338.4" cy="103.1" r="0.7"/><circle cx="331.7" cy="112.3" r="0.6"/><circle cx="336.1" cy="106.0" r="0.7"/><circle cx="334.0" cy="108.6" r="0.4"/><circle cx="327.8" cy="117.5" r="0.6"/><circle cx="351.6" cy="103.0" r="0.6"/><circle cx="338.2" cy="111.3" r="0.7"/><circle cx="344.1" cy="107.6" r="0.4"/><circle cx="328.9" cy="117.4" r="0.5"/><circle cx="351.1" cy="102.9" r="0.4"/><circle cx="349.0" cy="106.1" r="0.4"/><circle cx="333.7" cy="106.8" r="0.4"/><circle cx="341.5" cy="105.5" r="0.6"/><circle cx="339.4" cy="106.5" r="0.4"/><circle cx="331.8" cy="107.3" r="0.4"/><circle cx="331.0" cy="107.1" r="0.5"/><circle cx="351.6" cy="106.3" r="0.5"/><circle cx="331.4" cy="107.7" r="0.6"/><circle cx="328.8" cy="117.4" r="0.5"/><circle cx="325.1" cy="113.6" r="0.7"/><circle cx="334.9" cy="110.5" r="0.5"/><circle cx="329.8" cy="112.5" r="0.6"/><circle cx="333.0" cy="113.7" r="0.6"/><circle cx="321.4" cy="111.7" r="0.6"/><circle cx="327.1" cy="116.4" r="0.7"/><circle cx="321.5" cy="110.5" r="0.5"/><circle cx="336.1" cy="114.5" r="0.5"/><circle cx="332.3" cy="106.0" r="0.4"/><circle cx="337.1" cy="113.8" r="0.5"/><circle cx="329.4" cy="120.5" r="0.6"/><circle cx="336.9" cy="105.3" r="0.4"/><circle cx="322.3" cy="114.5" r="0.7"/><circle cx="330.3" cy="118.5" r="0.5"/><circle cx="333.4" cy="114.6" r="0.6"/><circle cx="335.4" cy="115.6" r="0.6"/><circle cx="328.0" cy="112.7" r="0.4"/><circle cx="329.1" cy="112.6" r="0.4"/><circle cx="336.8" cy="115.9" r="0.4"/></g>
<g fill="#2E9A3A"><circle cx="316.7" cy="115.0" r="0.6"/><circle cx="337.5" cy="118.0" r="0.6"/><circle cx="320.5" cy="117.4" r="0.6"/><circle cx="322.3" cy="108.6" r="0.5"/><circle cx="344.1" cy="102.2" r="0.8"/><circle cx="317.7" cy="113.0" r="0.9"/><circle cx="344.4" cy="109.0" r="0.6"/><circle cx="337.9" cy="114.6" r="0.7"/><circle cx="328.8" cy="104.6" r="0.8"/><circle cx="338.7" cy="115.8" r="0.5"/><circle cx="340.5" cy="109.6" r="0.8"/><circle cx="337.1" cy="118.9" r="0.8"/><circle cx="318.0" cy="113.5" r="0.5"/><circle cx="351.8" cy="108.4" r="0.5"/><circle cx="327.0" cy="121.4" r="0.6"/><circle cx="336.6" cy="100.6" r="0.6"/><circle cx="319.0" cy="113.0" r="0.9"/><circle cx="353.8" cy="106.4" r="0.7"/><circle cx="344.4" cy="102.3" r="0.6"/><circle cx="334.4" cy="100.5" r="0.6"/><circle cx="318.6" cy="113.1" r="0.6"/><circle cx="329.1" cy="122.5" r="0.7"/><circle cx="334.5" cy="101.1" r="0.6"/><circle cx="355.0" cy="107.1" r="0.9"/><circle cx="354.1" cy="100.4" r="0.6"/><circle cx="334.4" cy="101.6" r="0.7"/><circle cx="347.2" cy="101.5" r="0.9"/></g>
<path d="M366.7 83.8 C367.3 83.2 368.5 83.8 369.6 84.7 C370.7 85.7 372.4 87.8 373.4 89.5 C374.3 91.2 375.1 93.3 375.3 95.2 C375.5 97.1 374.9 99.0 374.3 100.9 C373.7 102.8 372.4 105.0 371.5 106.6 C370.6 108.2 369.7 110.1 368.6 110.4 C367.5 110.7 365.9 109.5 364.8 108.5 C363.7 107.5 363.1 105.8 362.0 104.7 C360.9 103.6 359.1 102.8 358.2 101.8 C357.2 100.8 356.0 99.8 356.3 99.0 C356.6 98.2 358.7 98.0 360.1 97.1 C361.5 96.1 363.9 94.7 364.8 93.3 C365.8 91.9 365.5 90.1 365.8 88.5 C366.1 86.9 366.1 84.4 366.7 83.8 Z" fill="#BC8A78" stroke="none" stroke-width="1"/>
<g fill="#fff" fill-opacity="0.9"><circle cx="367.8" cy="94.7" r="0.7"/><circle cx="367.5" cy="87.7" r="0.6"/><circle cx="367.3" cy="100.0" r="0.7"/><circle cx="359.4" cy="97.9" r="0.6"/><circle cx="374.3" cy="98.3" r="0.6"/><circle cx="371.9" cy="102.1" r="0.5"/><circle cx="369.1" cy="98.6" r="0.4"/><circle cx="365.6" cy="92.2" r="0.7"/><circle cx="371.0" cy="107.2" r="0.4"/><circle cx="371.6" cy="95.2" r="0.4"/><circle cx="371.1" cy="100.4" r="0.7"/><circle cx="371.2" cy="100.5" r="0.6"/><circle cx="372.5" cy="90.4" r="0.7"/><circle cx="362.6" cy="100.4" r="0.6"/><circle cx="367.8" cy="96.1" r="0.4"/><circle cx="366.2" cy="105.9" r="0.6"/><circle cx="360.5" cy="97.7" r="0.5"/><circle cx="370.4" cy="95.6" r="0.7"/><circle cx="358.6" cy="101.4" r="0.6"/><circle cx="368.4" cy="107.2" r="0.7"/><circle cx="370.8" cy="92.7" r="0.5"/><circle cx="366.7" cy="100.6" r="0.5"/><circle cx="367.6" cy="102.9" r="0.5"/><circle cx="368.2" cy="90.9" r="0.4"/><circle cx="372.8" cy="90.9" r="0.4"/><circle cx="369.6" cy="103.4" r="0.6"/><circle cx="362.0" cy="100.1" r="0.6"/><circle cx="368.5" cy="91.1" r="0.4"/><circle cx="370.1" cy="98.8" r="0.6"/><circle cx="370.0" cy="103.3" r="0.5"/></g>
<g fill="#BC8A78"><circle cx="365.7" cy="85.9" r="0.6"/><circle cx="364.9" cy="91.7" r="0.7"/><circle cx="365.2" cy="86.9" r="0.5"/><circle cx="356.8" cy="102.0" r="0.8"/><circle cx="355.9" cy="98.4" r="0.8"/><circle cx="362.9" cy="106.8" r="0.6"/><circle cx="369.0" cy="111.5" r="0.6"/><circle cx="373.6" cy="87.8" r="0.6"/><circle cx="375.0" cy="89.9" r="0.9"/><circle cx="363.8" cy="91.0" r="0.9"/><circle cx="366.1" cy="110.2" r="0.7"/><circle cx="376.4" cy="94.5" r="0.8"/><circle cx="372.6" cy="106.3" r="0.9"/><circle cx="372.7" cy="88.4" r="0.6"/><circle cx="373.3" cy="103.3" r="0.8"/><circle cx="376.8" cy="96.5" r="0.6"/><circle cx="371.3" cy="108.3" r="0.9"/></g>
<text x="293.00" y="45.00" font-size="10.2" fill="#F08C8C" stroke="#F08C8C" text-anchor="start">Fibroblast_3</text>
<text x="326.00" y="80.50" font-size="10.2" fill="#C49A86" stroke="#C49A86" text-anchor="start">Fibroblast_2</text>
<text x="237.50" y="87.50" font-size="10.2" fill="#A8D68A" stroke="#A8D68A" text-anchor="start">Smooth muscle cells</text>
<text x="315.00" y="99.00" font-size="10.2" fill="#2E9A3A" stroke="#2E9A3A" text-anchor="start">Pericyte_3</text>
<text x="270.00" y="107.00" font-size="10.2" fill="#9DC8E2" stroke="#9DC8E2" text-anchor="start">Pericyte_1</text>
<text x="254.00" y="145.00" font-size="10.2" fill="#F5AE6E" stroke="#F5AE6E" text-anchor="start">Pericyte_2</text>
<text x="326.00" y="149.00" font-size="10.2" fill="#5A9AC5" stroke="#5A9AC5" text-anchor="start">Fibroblast_1</text>
<line x1="251.90" y1="160.50" x2="251.90" y2="125.00" stroke="#8a8a8a" stroke-width="0.9"/>
<line x1="251.90" y1="160.50" x2="287.00" y2="160.50" stroke="#8a8a8a" stroke-width="0.9"/>
<path d="M249.7 126.0 L251.9 121.5 L254.1 126.0 Z" fill="#111" stroke="none" stroke-width="1"/>
<path d="M286.5 158.3 L291.0 160.5 L286.5 162.7 Z" fill="#111" stroke="none" stroke-width="1"/>
<text x="254.00" y="173.50" font-size="10.2" fill="#000" text-anchor="start" stroke="#000">UMAP_1</text>
<text font-size="10.2" text-anchor="middle" transform="translate(244.5 136.5) rotate(-90)" stroke="#000">UMAP_2</text>
<rect x="456.00" y="103.26" width="17.60" height="25.74" fill="#2E8555" stroke="#6b6b6b" stroke-width="0.8"/>
<rect x="456.00" y="71.67" width="17.60" height="31.59" fill="#D7191C" stroke="#6b6b6b" stroke-width="0.8"/>
<rect x="456.00" y="42.42" width="17.60" height="29.25" fill="#A8D844" stroke="#6b6b6b" stroke-width="0.8"/>
<rect x="456.00" y="12.00" width="17.60" height="30.42" fill="#F9A85E" stroke="#6b6b6b" stroke-width="0.8"/>
<rect x="475.30" y="106.77" width="17.60" height="22.23" fill="#2E8555" stroke="#6b6b6b" stroke-width="0.8"/>
<rect x="475.30" y="93.90" width="17.60" height="12.87" fill="#D7191C" stroke="#6b6b6b" stroke-width="0.8"/>
<rect x="475.30" y="44.76" width="17.60" height="49.14" fill="#A8D844" stroke="#6b6b6b" stroke-width="0.8"/>
<rect x="475.30" y="12.00" width="17.60" height="32.76" fill="#F9A85E" stroke="#6b6b6b" stroke-width="0.8"/>
<rect x="494.60" y="107.94" width="17.60" height="21.06" fill="#2E8555" stroke="#6b6b6b" stroke-width="0.8"/>
<rect x="494.60" y="83.37" width="17.60" height="24.57" fill="#D7191C" stroke="#6b6b6b" stroke-width="0.8"/>
<rect x="494.60" y="47.10" width="17.60" height="36.27" fill="#A8D844" stroke="#6b6b6b" stroke-width="0.8"/>
<rect x="494.60" y="12.00" width="17.60" height="35.10" fill="#F9A85E" stroke="#6b6b6b" stroke-width="0.8"/>
<rect x="513.90" y="102.09" width="17.60" height="26.91" fill="#2E8555" stroke="#6b6b6b" stroke-width="0.8"/>
<rect x="513.90" y="66.99" width="17.60" height="35.10" fill="#D7191C" stroke="#6b6b6b" stroke-width="0.8"/>
<rect x="513.90" y="41.25" width="17.60" height="25.74" fill="#A8D844" stroke="#6b6b6b" stroke-width="0.8"/>
<rect x="513.90" y="12.00" width="17.60" height="29.25" fill="#F9A85E" stroke="#6b6b6b" stroke-width="0.8"/>
<rect x="533.20" y="104.43" width="17.60" height="24.57" fill="#2E8555" stroke="#6b6b6b" stroke-width="0.8"/>
<rect x="533.20" y="75.18" width="17.60" height="29.25" fill="#D7191C" stroke="#6b6b6b" stroke-width="0.8"/>
<rect x="533.20" y="48.27" width="17.60" height="26.91" fill="#A8D844" stroke="#6b6b6b" stroke-width="0.8"/>
<rect x="533.20" y="12.00" width="17.60" height="36.27" fill="#F9A85E" stroke="#6b6b6b" stroke-width="0.8"/>
<rect x="552.50" y="83.37" width="17.60" height="45.63" fill="#2E8555" stroke="#6b6b6b" stroke-width="0.8"/>
<rect x="552.50" y="68.16" width="17.60" height="15.21" fill="#D7191C" stroke="#6b6b6b" stroke-width="0.8"/>
<rect x="552.50" y="26.04" width="17.60" height="42.12" fill="#A8D844" stroke="#6b6b6b" stroke-width="0.8"/>
<rect x="552.50" y="12.00" width="17.60" height="14.04" fill="#F9A85E" stroke="#6b6b6b" stroke-width="0.8"/>
<rect x="571.80" y="106.77" width="17.60" height="22.23" fill="#2E8555" stroke="#6b6b6b" stroke-width="0.8"/>
<rect x="571.80" y="72.84" width="17.60" height="33.93" fill="#D7191C" stroke="#6b6b6b" stroke-width="0.8"/>
<rect x="571.80" y="47.10" width="17.60" height="25.74" fill="#A8D844" stroke="#6b6b6b" stroke-width="0.8"/>
<rect x="571.80" y="12.00" width="17.60" height="35.10" fill="#F9A85E" stroke="#6b6b6b" stroke-width="0.8"/>
<line x1="454.50" y1="12.00" x2="454.50" y2="129.00" stroke="#222" stroke-width="1"/>
<line x1="451.50" y1="129.00" x2="454.50" y2="129.00" stroke="#222" stroke-width="1"/>
<text x="450.00" y="132.57" font-size="10.2" fill="#000" text-anchor="end" stroke="#000">0</text>
<line x1="451.50" y1="70.50" x2="454.50" y2="70.50" stroke="#222" stroke-width="1"/>
<text x="450.00" y="74.07" font-size="10.2" fill="#000" text-anchor="end" stroke="#000">50</text>
<line x1="451.50" y1="12.00" x2="454.50" y2="12.00" stroke="#222" stroke-width="1"/>
<text x="450.00" y="15.57" font-size="10.2" fill="#000" text-anchor="end" stroke="#000">100</text>
<text x="0.00" y="0.00" font-size="10.2" fill="#000" text-anchor="middle" transform="translate(430.5 77.5) rotate(-90)" stroke="#000">Percent</text>
<line x1="464.80" y1="129.50" x2="464.80" y2="133.50" stroke="#222" stroke-width="1"/>
<line x1="484.10" y1="129.50" x2="484.10" y2="133.50" stroke="#222" stroke-width="1"/>
<line x1="503.40" y1="129.50" x2="503.40" y2="133.50" stroke="#222" stroke-width="1"/>
<line x1="522.70" y1="129.50" x2="522.70" y2="133.50" stroke="#222" stroke-width="1"/>
<line x1="542.00" y1="129.50" x2="542.00" y2="133.50" stroke="#222" stroke-width="1"/>
<line x1="561.30" y1="129.50" x2="561.30" y2="133.50" stroke="#222" stroke-width="1"/>
<line x1="580.60" y1="129.50" x2="580.60" y2="133.50" stroke="#222" stroke-width="1"/>
<text font-size="10.5" text-anchor="end" transform="translate(470.80 141.3) rotate(-30)" stroke="#000">Fibroblast_1</text>
<text font-size="10.5" text-anchor="end" transform="translate(490.10 141.3) rotate(-30)" stroke="#000">Fibroblast_2</text>
<text font-size="10.5" text-anchor="end" transform="translate(509.40 141.3) rotate(-30)" stroke="#000">Fibroblast_3</text>
<text font-size="10.5" text-anchor="end" transform="translate(528.70 141.3) rotate(-30)" stroke="#000">Pericyte_1</text>
<text font-size="10.5" text-anchor="end" transform="translate(548.00 141.3) rotate(-30)" stroke="#000">Pericyte_2</text>
<text font-size="10.5" text-anchor="end" transform="translate(567.30 141.3) rotate(-30)" stroke="#000">Pericyte_3</text>
<text font-size="10.5" text-anchor="end" transform="translate(586.60 141.3) rotate(-30)" stroke="#000">Smooth muscle cells</text>
<text x="484.10" y="10.40" font-size="8.5" fill="#A8D844" stroke="#A8D844" text-anchor="middle">*</text>
<text x="503.40" y="10.40" font-size="8.5" fill="#A8D844" stroke="#A8D844" text-anchor="middle">*</text>
<text x="522.70" y="10.40" font-size="8.5" fill="#D7191C" stroke="#D7191C" text-anchor="middle">*</text>
<text x="542.00" y="10.40" font-size="8.5" fill="#F9A85E" stroke="#F9A85E" text-anchor="middle">*</text>
<text x="580.60" y="10.40" font-size="8.5" fill="#F9A85E" stroke="#F9A85E" text-anchor="middle">*</text>
<text x="559.00" y="10.40" font-size="8.5" fill="#A8D844" stroke="#A8D844" text-anchor="middle">*</text>
<text x="563.60" y="10.40" font-size="8.5" fill="#2E8555" stroke="#2E8555" text-anchor="middle">*</text>
<rect x="595.00" y="42.50" width="13.00" height="7.00" fill="#F9A85E" stroke="#333" stroke-width="0.9"/>
<text x="615.00" y="49.17" font-size="10.2" fill="#000" text-anchor="start" stroke="#000">Ctrl</text>
<rect x="595.00" y="58.50" width="13.00" height="7.00" fill="#A8D844" stroke="#333" stroke-width="0.9"/>
<text x="615.00" y="65.17" font-size="10.2" fill="#000" text-anchor="start" stroke="#000">CNV</text>
<rect x="595.00" y="74.50" width="13.00" height="7.00" fill="#D7191C" stroke="#333" stroke-width="0.9"/>
<text x="615.00" y="81.17" font-size="10.2" fill="#000" text-anchor="start" stroke="#000">Smoke</text>
<rect x="595.00" y="90.50" width="13.00" height="7.00" fill="#2E8555" stroke="#333" stroke-width="0.9"/>
<text x="615.00" y="97.17" font-size="10.2" fill="#000" text-anchor="start" stroke="#000">Smoke+CNV</text>
<rect x="23.00" y="224.00" width="11.25" height="10.00" fill="#92C5DE"/>
<rect x="35.50" y="224.00" width="11.50" height="10.00" fill="#F4A765"/>
<rect x="48.25" y="224.00" width="11.75" height="10.00" fill="#3E9E48"/>
<rect x="23.00" y="236.00" width="12.80" height="2.90" fill="#e08f83"/>
<rect x="23.00" y="238.60" width="12.80" height="2.90" fill="#de8a7e"/>
<rect x="23.00" y="241.20" width="12.80" height="2.90" fill="#df8d81"/>
<rect x="23.00" y="243.80" width="12.80" height="2.90" fill="#de8a7d"/>
<rect x="23.00" y="246.40" width="12.80" height="2.90" fill="#de897d"/>
<rect x="23.00" y="249.00" width="12.80" height="2.90" fill="#e09286"/>
<rect x="23.00" y="251.60" width="12.80" height="2.90" fill="#e09387"/>
<rect x="23.00" y="254.20" width="12.80" height="2.90" fill="#dd8679"/>
<rect x="23.00" y="256.80" width="12.80" height="2.90" fill="#e08f83"/>
<rect x="23.00" y="259.40" width="12.80" height="2.90" fill="#e08f83"/>
<rect x="23.00" y="262.00" width="12.80" height="2.90" fill="#e5a59c"/>
<rect x="23.00" y="264.60" width="12.80" height="2.90" fill="#e7ada6"/>
<rect x="23.00" y="267.20" width="12.80" height="2.90" fill="#e6a89f"/>
<rect x="23.00" y="269.80" width="12.80" height="2.90" fill="#e7ada5"/>
<rect x="23.00" y="272.40" width="12.80" height="2.90" fill="#e6aba3"/>
<rect x="23.00" y="275.00" width="12.80" height="2.90" fill="#e8b2ab"/>
<rect x="23.00" y="277.60" width="12.80" height="2.90" fill="#dc8072"/>
<rect x="23.00" y="280.20" width="12.80" height="2.90" fill="#db7c6e"/>
<rect x="23.00" y="282.80" width="12.80" height="2.90" fill="#dc8274"/>
<rect x="23.00" y="285.40" width="12.80" height="2.90" fill="#db7e70"/>
<rect x="23.00" y="288.00" width="12.80" height="2.90" fill="#dc7f71"/>
<rect x="23.00" y="290.60" width="12.80" height="2.90" fill="#de897c"/>
<rect x="23.00" y="293.20" width="12.80" height="2.90" fill="#db7e70"/>
<rect x="23.00" y="295.80" width="12.80" height="2.90" fill="#dc8073"/>
<rect x="23.00" y="298.40" width="12.80" height="2.90" fill="#dd8578"/>
<rect x="23.00" y="301.00" width="12.80" height="2.90" fill="#de897c"/>
<rect x="23.00" y="303.60" width="12.80" height="2.90" fill="#db7c6e"/>
<rect x="23.00" y="306.20" width="12.80" height="2.90" fill="#dc8275"/>
<rect x="23.00" y="308.80" width="12.80" height="2.90" fill="#dc7f70"/>
<rect x="23.00" y="311.40" width="12.80" height="2.90" fill="#db7c6e"/>
<rect x="23.00" y="314.00" width="12.80" height="2.90" fill="#dc7f71"/>
<rect x="23.00" y="316.60" width="12.80" height="2.90" fill="#db7b6d"/>
<rect x="23.00" y="319.20" width="12.80" height="2.90" fill="#dd8376"/>
<rect x="23.00" y="321.80" width="12.80" height="2.90" fill="#f4e3e2"/>
<rect x="23.00" y="324.40" width="12.80" height="2.90" fill="#f6e8e8"/>
<rect x="23.00" y="327.00" width="12.80" height="2.80" fill="#e2978c"/>
<rect x="35.50" y="236.00" width="12.80" height="2.90" fill="#98aad9"/>
<rect x="35.50" y="238.60" width="12.80" height="2.90" fill="#8da1d4"/>
<rect x="35.50" y="241.20" width="12.80" height="2.90" fill="#8da2d5"/>
<rect x="35.50" y="243.80" width="12.80" height="2.90" fill="#8ea2d5"/>
<rect x="35.50" y="246.40" width="12.80" height="2.90" fill="#99abd9"/>
<rect x="35.50" y="249.00" width="12.80" height="2.90" fill="#91a5d6"/>
<rect x="35.50" y="251.60" width="12.80" height="2.90" fill="#94a7d7"/>
<rect x="35.50" y="254.20" width="12.80" height="2.90" fill="#8fa3d6"/>
<rect x="35.50" y="256.80" width="12.80" height="2.90" fill="#92a6d7"/>
<rect x="35.50" y="259.40" width="12.80" height="2.90" fill="#91a4d6"/>
<rect x="35.50" y="262.00" width="12.80" height="2.90" fill="#90a4d6"/>
<rect x="35.50" y="264.60" width="12.80" height="2.90" fill="#94a7d7"/>
<rect x="35.50" y="267.20" width="12.80" height="2.90" fill="#94a7d7"/>
<rect x="35.50" y="269.80" width="12.80" height="2.90" fill="#98aad9"/>
<rect x="35.50" y="272.40" width="12.80" height="2.90" fill="#95a8d8"/>
<rect x="35.50" y="275.00" width="12.80" height="2.90" fill="#98abd9"/>
<rect x="35.50" y="277.60" width="12.80" height="2.90" fill="#f4f5fa"/>
<rect x="35.50" y="280.20" width="12.80" height="2.90" fill="#f6f6fa"/>
<rect x="35.50" y="282.80" width="12.80" height="2.90" fill="#f1f3f9"/>
<rect x="35.50" y="285.40" width="12.80" height="2.90" fill="#eaedf6"/>
<rect x="35.50" y="288.00" width="12.80" height="2.90" fill="#f4f5fa"/>
<rect x="35.50" y="290.60" width="12.80" height="2.90" fill="#d3daee"/>
<rect x="35.50" y="293.20" width="12.80" height="2.90" fill="#d2d9ed"/>
<rect x="35.50" y="295.80" width="12.80" height="2.90" fill="#cdd5ec"/>
<rect x="35.50" y="298.40" width="12.80" height="2.90" fill="#cfd7ec"/>
<rect x="35.50" y="301.00" width="12.80" height="2.90" fill="#c8d1ea"/>
<rect x="35.50" y="303.60" width="12.80" height="2.90" fill="#d1d8ed"/>
<rect x="35.50" y="306.20" width="12.80" height="2.90" fill="#cdd5ec"/>
<rect x="35.50" y="308.80" width="12.80" height="2.90" fill="#c9d2ea"/>
<rect x="35.50" y="311.40" width="12.80" height="2.90" fill="#c6cfe9"/>
<rect x="35.50" y="314.00" width="12.80" height="2.90" fill="#d1d9ed"/>
<rect x="35.50" y="316.60" width="12.80" height="2.90" fill="#d3daee"/>
<rect x="35.50" y="319.20" width="12.80" height="2.90" fill="#c6d0e9"/>
<rect x="35.50" y="321.80" width="12.80" height="2.90" fill="#e6a8a0"/>
<rect x="35.50" y="324.40" width="12.80" height="2.90" fill="#e7aea7"/>
<rect x="35.50" y="327.00" width="12.80" height="2.80" fill="#e8b2ab"/>
<rect x="48.00" y="236.00" width="12.80" height="2.90" fill="#f9f7f9"/>
<rect x="48.00" y="238.60" width="12.80" height="2.90" fill="#f7f0f0"/>
<rect x="48.00" y="241.20" width="12.80" height="2.90" fill="#f7eeef"/>
<rect x="48.00" y="243.80" width="12.80" height="2.90" fill="#f9f9fc"/>
<rect x="48.00" y="246.40" width="12.80" height="2.90" fill="#f8f2f3"/>
<rect x="48.00" y="249.00" width="12.80" height="2.90" fill="#f9f9fc"/>
<rect x="48.00" y="251.60" width="12.80" height="2.90" fill="#efccc7"/>
<rect x="48.00" y="254.20" width="12.80" height="2.90" fill="#f0d1ce"/>
<rect x="48.00" y="256.80" width="12.80" height="2.90" fill="#eec9c5"/>
<rect x="48.00" y="259.40" width="12.80" height="2.90" fill="#eec7c3"/>
<rect x="48.00" y="262.00" width="12.80" height="2.90" fill="#efcfcb"/>
<rect x="48.00" y="264.60" width="12.80" height="2.90" fill="#edc7c3"/>
<rect x="48.00" y="267.20" width="12.80" height="2.90" fill="#e8b0a8"/>
<rect x="48.00" y="269.80" width="12.80" height="2.90" fill="#e9b4ac"/>
<rect x="48.00" y="272.40" width="12.80" height="2.90" fill="#e7aba3"/>
<rect x="48.00" y="275.00" width="12.80" height="2.90" fill="#e9b4ad"/>
<rect x="48.00" y="277.60" width="12.80" height="2.90" fill="#9caeda"/>
<rect x="48.00" y="280.20" width="12.80" height="2.90" fill="#9fb0db"/>
<rect x="48.00" y="282.80" width="12.80" height="2.90" fill="#a2b3dc"/>
<rect x="48.00" y="285.40" width="12.80" height="2.90" fill="#9cadda"/>
<rect x="48.00" y="288.00" width="12.80" height="2.90" fill="#9aacd9"/>
<rect x="48.00" y="290.60" width="12.80" height="2.90" fill="#a6b6de"/>
<rect x="48.00" y="293.20" width="12.80" height="2.90" fill="#ccd5eb"/>
<rect x="48.00" y="295.80" width="12.80" height="2.90" fill="#d5dcef"/>
<rect x="48.00" y="298.40" width="12.80" height="2.90" fill="#d5dcee"/>
<rect x="48.00" y="301.00" width="12.80" height="2.90" fill="#cdd5ec"/>
<rect x="48.00" y="303.60" width="12.80" height="2.90" fill="#ced6ec"/>
<rect x="48.00" y="306.20" width="12.80" height="2.90" fill="#cfd7ed"/>
<rect x="48.00" y="308.80" width="12.80" height="2.90" fill="#d1d9ed"/>
<rect x="48.00" y="311.40" width="12.80" height="2.90" fill="#d0d8ed"/>
<rect x="48.00" y="314.00" width="12.80" height="2.90" fill="#d0d8ed"/>
<rect x="48.00" y="316.60" width="12.80" height="2.90" fill="#d1d8ed"/>
<rect x="48.00" y="319.20" width="12.80" height="2.90" fill="#d5dcef"/>
<rect x="48.00" y="321.80" width="12.80" height="2.90" fill="#92a6d7"/>
<rect x="48.00" y="324.40" width="12.80" height="2.90" fill="#91a5d6"/>
<rect x="48.00" y="327.00" width="12.80" height="2.80" fill="#95a8d8"/>
<rect x="23.00" y="236.00" width="37.50" height="93.50" fill="none" stroke="#333" stroke-width="0.9"/>
<rect x="23.00" y="331.50" width="12.80" height="2.90" fill="#97aad8"/>
<rect x="23.00" y="334.10" width="12.80" height="2.90" fill="#98aad9"/>
<rect x="23.00" y="336.70" width="12.80" height="2.90" fill="#a2b2dc"/>
<rect x="23.00" y="339.30" width="12.80" height="2.90" fill="#9badda"/>
<rect x="23.00" y="341.90" width="12.80" height="2.90" fill="#9cadda"/>
<rect x="23.00" y="344.50" width="12.80" height="2.90" fill="#94a7d7"/>
<rect x="23.00" y="347.10" width="12.80" height="2.90" fill="#c2cde8"/>
<rect x="23.00" y="349.70" width="12.80" height="2.90" fill="#c4cee9"/>
<rect x="23.00" y="352.30" width="12.80" height="2.90" fill="#bcc8e6"/>
<rect x="23.00" y="354.90" width="12.80" height="2.90" fill="#c5cfe9"/>
<rect x="23.00" y="357.50" width="12.80" height="2.90" fill="#c5cfe9"/>
<rect x="23.00" y="360.10" width="12.80" height="2.90" fill="#bdc8e6"/>
<rect x="23.00" y="362.70" width="12.80" height="2.90" fill="#c5cfe9"/>
<rect x="23.00" y="365.30" width="12.80" height="2.90" fill="#c3cde8"/>
<rect x="23.00" y="367.90" width="12.80" height="2.90" fill="#c6d0e9"/>
<rect x="23.00" y="370.50" width="12.80" height="2.90" fill="#c1cce7"/>
<rect x="23.00" y="373.10" width="12.80" height="2.90" fill="#c6d0e9"/>
<rect x="23.00" y="375.70" width="12.80" height="2.90" fill="#c7d0e9"/>
<rect x="23.00" y="378.30" width="12.80" height="2.90" fill="#a8b8de"/>
<rect x="23.00" y="380.90" width="12.80" height="2.90" fill="#a9b8df"/>
<rect x="23.00" y="383.50" width="12.80" height="2.90" fill="#b2bfe2"/>
<rect x="23.00" y="386.10" width="12.80" height="2.90" fill="#b6c3e3"/>
<rect x="23.00" y="388.70" width="12.80" height="2.90" fill="#eceff7"/>
<rect x="23.00" y="391.30" width="12.80" height="2.90" fill="#eff1f8"/>
<rect x="23.00" y="393.90" width="12.80" height="2.90" fill="#f1f3f9"/>
<rect x="23.00" y="396.50" width="12.80" height="2.90" fill="#edf0f7"/>
<rect x="23.00" y="399.10" width="12.80" height="2.90" fill="#eef0f8"/>
<rect x="23.00" y="401.70" width="12.80" height="2.90" fill="#c2cde8"/>
<rect x="23.00" y="404.30" width="12.80" height="2.90" fill="#c3cde8"/>
<rect x="23.00" y="406.90" width="12.80" height="2.90" fill="#c6d0e9"/>
<rect x="23.00" y="409.50" width="12.80" height="2.90" fill="#c2cce8"/>
<rect x="23.00" y="412.10" width="12.80" height="2.90" fill="#c3cde8"/>
<rect x="23.00" y="414.70" width="12.80" height="2.90" fill="#c9d2ea"/>
<rect x="23.00" y="417.30" width="12.80" height="2.90" fill="#bec9e6"/>
<rect x="23.00" y="419.90" width="12.80" height="2.90" fill="#c6d0e9"/>
<rect x="23.00" y="422.50" width="12.80" height="2.90" fill="#c8d1ea"/>
<rect x="23.00" y="425.10" width="12.80" height="2.90" fill="#c2cce8"/>
<rect x="23.00" y="427.70" width="12.80" height="2.90" fill="#c1cbe7"/>
<rect x="23.00" y="430.30" width="12.80" height="2.90" fill="#c9d2ea"/>
<rect x="23.00" y="432.90" width="12.80" height="2.90" fill="#c1cce7"/>
<rect x="23.00" y="435.50" width="12.80" height="2.90" fill="#c0cbe7"/>
<rect x="23.00" y="438.10" width="12.80" height="2.90" fill="#c4cee8"/>
<rect x="23.00" y="440.70" width="12.80" height="2.90" fill="#c8d1ea"/>
<rect x="23.00" y="443.30" width="12.80" height="2.90" fill="#bfcae7"/>
<rect x="23.00" y="445.90" width="12.80" height="2.90" fill="#c2cde8"/>
<rect x="23.00" y="448.50" width="12.80" height="2.90" fill="#c2cde8"/>
<rect x="23.00" y="451.10" width="12.80" height="2.90" fill="#cad3ea"/>
<rect x="23.00" y="453.70" width="12.80" height="2.90" fill="#c4cee8"/>
<rect x="23.00" y="456.30" width="12.80" height="2.90" fill="#cad3eb"/>
<rect x="23.00" y="458.90" width="12.80" height="2.90" fill="#c0cbe7"/>
<rect x="23.00" y="461.50" width="12.80" height="0.80" fill="#c2cde8"/>
<rect x="35.50" y="331.50" width="12.80" height="2.90" fill="#ecc2bc"/>
<rect x="35.50" y="334.10" width="12.80" height="2.90" fill="#ebbeb8"/>
<rect x="35.50" y="336.70" width="12.80" height="2.90" fill="#edc5c0"/>
<rect x="35.50" y="339.30" width="12.80" height="2.90" fill="#e4a298"/>
<rect x="35.50" y="341.90" width="12.80" height="2.90" fill="#e5a39a"/>
<rect x="35.50" y="344.50" width="12.80" height="2.90" fill="#e39d93"/>
<rect x="35.50" y="347.10" width="12.80" height="2.90" fill="#dd8476"/>
<rect x="35.50" y="349.70" width="12.80" height="2.90" fill="#da7a6b"/>
<rect x="35.50" y="352.30" width="12.80" height="2.90" fill="#da7a6b"/>
<rect x="35.50" y="354.90" width="12.80" height="2.90" fill="#dd8476"/>
<rect x="35.50" y="357.50" width="12.80" height="2.90" fill="#dc8275"/>
<rect x="35.50" y="360.10" width="12.80" height="2.90" fill="#da7a6b"/>
<rect x="35.50" y="362.70" width="12.80" height="2.90" fill="#db7d6e"/>
<rect x="35.50" y="365.30" width="12.80" height="2.90" fill="#da7a6b"/>
<rect x="35.50" y="367.90" width="12.80" height="2.90" fill="#dc8173"/>
<rect x="35.50" y="370.50" width="12.80" height="2.90" fill="#dd8577"/>
<rect x="35.50" y="373.10" width="12.80" height="2.90" fill="#dc8274"/>
<rect x="35.50" y="375.70" width="12.80" height="2.90" fill="#da7a6c"/>
<rect x="35.50" y="378.30" width="12.80" height="2.90" fill="#dc8275"/>
<rect x="35.50" y="380.90" width="12.80" height="2.90" fill="#dc8173"/>
<rect x="35.50" y="383.50" width="12.80" height="2.90" fill="#dc8072"/>
<rect x="35.50" y="386.10" width="12.80" height="2.90" fill="#dc8072"/>
<rect x="35.50" y="388.70" width="12.80" height="2.90" fill="#dc8072"/>
<rect x="35.50" y="391.30" width="12.80" height="2.90" fill="#da7869"/>
<rect x="35.50" y="393.90" width="12.80" height="2.90" fill="#dd8477"/>
<rect x="35.50" y="396.50" width="12.80" height="2.90" fill="#dd8679"/>
<rect x="35.50" y="399.10" width="12.80" height="2.90" fill="#da7869"/>
<rect x="35.50" y="401.70" width="12.80" height="2.90" fill="#da796a"/>
<rect x="35.50" y="404.30" width="12.80" height="2.90" fill="#da7768"/>
<rect x="35.50" y="406.90" width="12.80" height="2.90" fill="#dc8072"/>
<rect x="35.50" y="409.50" width="12.80" height="2.90" fill="#da7869"/>
<rect x="35.50" y="412.10" width="12.80" height="2.90" fill="#da7869"/>
<rect x="35.50" y="414.70" width="12.80" height="2.90" fill="#dd8376"/>
<rect x="35.50" y="417.30" width="12.80" height="2.90" fill="#db7b6d"/>
<rect x="35.50" y="419.90" width="12.80" height="2.90" fill="#da7a6b"/>
<rect x="35.50" y="422.50" width="12.80" height="2.90" fill="#db7c6e"/>
<rect x="35.50" y="425.10" width="12.80" height="2.90" fill="#dc7f70"/>
<rect x="35.50" y="427.70" width="12.80" height="2.90" fill="#dc8274"/>
<rect x="35.50" y="430.30" width="12.80" height="2.90" fill="#dc8174"/>
<rect x="35.50" y="432.90" width="12.80" height="2.90" fill="#dd8376"/>
<rect x="35.50" y="435.50" width="12.80" height="2.90" fill="#dd8578"/>
<rect x="35.50" y="438.10" width="12.80" height="2.90" fill="#db7d6f"/>
<rect x="35.50" y="440.70" width="12.80" height="2.90" fill="#dc8275"/>
<rect x="35.50" y="443.30" width="12.80" height="2.90" fill="#da7a6b"/>
<rect x="35.50" y="445.90" width="12.80" height="2.90" fill="#dd8679"/>
<rect x="35.50" y="448.50" width="12.80" height="2.90" fill="#da796a"/>
<rect x="35.50" y="451.10" width="12.80" height="2.90" fill="#db7c6d"/>
<rect x="35.50" y="453.70" width="12.80" height="2.90" fill="#da7869"/>
<rect x="35.50" y="456.30" width="12.80" height="2.90" fill="#da796a"/>
<rect x="35.50" y="458.90" width="12.80" height="2.90" fill="#da796a"/>
<rect x="35.50" y="461.50" width="12.80" height="0.80" fill="#db7e6f"/>
<rect x="48.00" y="331.50" width="12.80" height="2.90" fill="#f8f2f3"/>
<rect x="48.00" y="334.10" width="12.80" height="2.90" fill="#f5e7e6"/>
<rect x="48.00" y="336.70" width="12.80" height="2.90" fill="#f7f0f0"/>
<rect x="48.00" y="339.30" width="12.80" height="2.90" fill="#f1d7d4"/>
<rect x="48.00" y="341.90" width="12.80" height="2.90" fill="#f0d1ce"/>
<rect x="48.00" y="344.50" width="12.80" height="2.90" fill="#f0d3d0"/>
<rect x="48.00" y="347.10" width="12.80" height="2.90" fill="#c5cfe9"/>
<rect x="48.00" y="349.70" width="12.80" height="2.90" fill="#ccd5ec"/>
<rect x="48.00" y="352.30" width="12.80" height="2.90" fill="#c8d1ea"/>
<rect x="48.00" y="354.90" width="12.80" height="2.90" fill="#c4cee8"/>
<rect x="48.00" y="357.50" width="12.80" height="2.90" fill="#c3cde8"/>
<rect x="48.00" y="360.10" width="12.80" height="2.90" fill="#cbd4eb"/>
<rect x="48.00" y="362.70" width="12.80" height="2.90" fill="#c6d0e9"/>
<rect x="48.00" y="365.30" width="12.80" height="2.90" fill="#cad3eb"/>
<rect x="48.00" y="367.90" width="12.80" height="2.90" fill="#c4cee9"/>
<rect x="48.00" y="370.50" width="12.80" height="2.90" fill="#c2cce8"/>
<rect x="48.00" y="373.10" width="12.80" height="2.90" fill="#c7d0e9"/>
<rect x="48.00" y="375.70" width="12.80" height="2.90" fill="#cbd4eb"/>
<rect x="48.00" y="378.30" width="12.80" height="2.90" fill="#e4e8f4"/>
<rect x="48.00" y="380.90" width="12.80" height="2.90" fill="#edeff7"/>
<rect x="48.00" y="383.50" width="12.80" height="2.90" fill="#eff1f8"/>
<rect x="48.00" y="386.10" width="12.80" height="2.90" fill="#edf0f7"/>
<rect x="48.00" y="388.70" width="12.80" height="2.90" fill="#a8b8de"/>
<rect x="48.00" y="391.30" width="12.80" height="2.90" fill="#9daeda"/>
<rect x="48.00" y="393.90" width="12.80" height="2.90" fill="#a5b5dd"/>
<rect x="48.00" y="396.50" width="12.80" height="2.90" fill="#a9b8df"/>
<rect x="48.00" y="399.10" width="12.80" height="2.90" fill="#9dafda"/>
<rect x="48.00" y="401.70" width="12.80" height="2.90" fill="#b7c4e4"/>
<rect x="48.00" y="404.30" width="12.80" height="2.90" fill="#b7c4e4"/>
<rect x="48.00" y="406.90" width="12.80" height="2.90" fill="#bbc7e5"/>
<rect x="48.00" y="409.50" width="12.80" height="2.90" fill="#bac6e5"/>
<rect x="48.00" y="412.10" width="12.80" height="2.90" fill="#bac6e5"/>
<rect x="48.00" y="414.70" width="12.80" height="2.90" fill="#bfcae7"/>
<rect x="48.00" y="417.30" width="12.80" height="2.90" fill="#b3c1e3"/>
<rect x="48.00" y="419.90" width="12.80" height="2.90" fill="#b4c1e3"/>
<rect x="48.00" y="422.50" width="12.80" height="2.90" fill="#b5c2e3"/>
<rect x="48.00" y="425.10" width="12.80" height="2.90" fill="#b5c2e3"/>
<rect x="48.00" y="427.70" width="12.80" height="2.90" fill="#b4c1e3"/>
<rect x="48.00" y="430.30" width="12.80" height="2.90" fill="#c1cce8"/>
<rect x="48.00" y="432.90" width="12.80" height="2.90" fill="#c0cbe7"/>
<rect x="48.00" y="435.50" width="12.80" height="2.90" fill="#b5c2e3"/>
<rect x="48.00" y="438.10" width="12.80" height="2.90" fill="#bbc7e5"/>
<rect x="48.00" y="440.70" width="12.80" height="2.90" fill="#b8c4e4"/>
<rect x="48.00" y="443.30" width="12.80" height="2.90" fill="#b8c4e4"/>
<rect x="48.00" y="445.90" width="12.80" height="2.90" fill="#b8c5e4"/>
<rect x="48.00" y="448.50" width="12.80" height="2.90" fill="#bdc8e6"/>
<rect x="48.00" y="451.10" width="12.80" height="2.90" fill="#bcc8e6"/>
<rect x="48.00" y="453.70" width="12.80" height="2.90" fill="#b9c5e4"/>
<rect x="48.00" y="456.30" width="12.80" height="2.90" fill="#b6c3e4"/>
<rect x="48.00" y="458.90" width="12.80" height="2.90" fill="#b8c5e4"/>
<rect x="48.00" y="461.50" width="12.80" height="0.80" fill="#b5c2e3"/>
<rect x="23.00" y="331.50" width="37.50" height="130.50" fill="none" stroke="#333" stroke-width="0.9"/>
<rect x="23.00" y="463.75" width="12.80" height="2.90" fill="#dee3f2"/>
<rect x="23.00" y="466.35" width="12.80" height="2.90" fill="#e0e5f3"/>
<rect x="23.00" y="468.95" width="12.80" height="2.90" fill="#dbe1f1"/>
<rect x="23.00" y="471.55" width="12.80" height="2.90" fill="#edeff7"/>
<rect x="23.00" y="474.15" width="12.80" height="2.90" fill="#eef0f8"/>
<rect x="23.00" y="476.75" width="12.80" height="2.90" fill="#f1f3f9"/>
<rect x="23.00" y="479.35" width="12.80" height="2.90" fill="#f4f5fa"/>
<rect x="23.00" y="481.95" width="12.80" height="2.90" fill="#f7f7fb"/>
<rect x="23.00" y="484.55" width="12.80" height="2.90" fill="#f9f4f5"/>
<rect x="23.00" y="487.15" width="12.80" height="0.65" fill="#f7eeee"/>
<rect x="35.50" y="463.75" width="12.80" height="2.90" fill="#d1d8ed"/>
<rect x="35.50" y="466.35" width="12.80" height="2.90" fill="#ced6ec"/>
<rect x="35.50" y="468.95" width="12.80" height="2.90" fill="#cdd5ec"/>
<rect x="35.50" y="471.55" width="12.80" height="2.90" fill="#b9c5e5"/>
<rect x="35.50" y="474.15" width="12.80" height="2.90" fill="#bcc8e6"/>
<rect x="35.50" y="476.75" width="12.80" height="2.90" fill="#b8c4e4"/>
<rect x="35.50" y="479.35" width="12.80" height="2.90" fill="#bcc8e6"/>
<rect x="35.50" y="481.95" width="12.80" height="2.90" fill="#b9c5e4"/>
<rect x="35.50" y="484.55" width="12.80" height="2.90" fill="#b6c2e3"/>
<rect x="35.50" y="487.15" width="12.80" height="0.65" fill="#bac6e5"/>
<rect x="48.00" y="463.75" width="12.80" height="2.90" fill="#db7c6d"/>
<rect x="48.00" y="466.35" width="12.80" height="2.90" fill="#dd8578"/>
<rect x="48.00" y="468.95" width="12.80" height="2.90" fill="#dc8072"/>
<rect x="48.00" y="471.55" width="12.80" height="2.90" fill="#dc8072"/>
<rect x="48.00" y="474.15" width="12.80" height="2.90" fill="#da796a"/>
<rect x="48.00" y="476.75" width="12.80" height="2.90" fill="#da7869"/>
<rect x="48.00" y="479.35" width="12.80" height="2.90" fill="#dc8173"/>
<rect x="48.00" y="481.95" width="12.80" height="2.90" fill="#da796a"/>
<rect x="48.00" y="484.55" width="12.80" height="2.90" fill="#da7a6c"/>
<rect x="48.00" y="487.15" width="12.80" height="0.65" fill="#dd8275"/>
<rect x="23.00" y="463.75" width="37.50" height="23.75" fill="none" stroke="#333" stroke-width="0.9"/>
<line x1="60.50" y1="282.00" x2="69.00" y2="282.00" stroke="#555" stroke-width="0.8"/>
<text x="69.50" y="284.73" font-size="7.8" fill="#86BEDD" stroke="#86BEDD" text-anchor="start">Cxcl1</text>
<line x1="60.50" y1="292.50" x2="69.00" y2="292.50" stroke="#555" stroke-width="0.8"/>
<text x="69.50" y="295.23" font-size="7.8" fill="#86BEDD" stroke="#86BEDD" text-anchor="start">Cxcl10</text>
<path d="M60.5 309.00 L63 309.00 L66 305.50 L69 305.50" fill="none" stroke="#555" stroke-width="0.8"/>
<text x="69.50" y="308.23" font-size="7.8" fill="#86BEDD" stroke="#86BEDD" text-anchor="start">Apoe</text>
<path d="M60.5 310.00 L63 310.00 L66 313.50 L69 313.50" fill="none" stroke="#555" stroke-width="0.8"/>
<text x="69.50" y="316.23" font-size="7.8" fill="#86BEDD" stroke="#86BEDD" text-anchor="start">Cxcl12</text>
<line x1="60.50" y1="321.00" x2="69.00" y2="321.00" stroke="#555" stroke-width="0.8"/>
<text x="69.50" y="323.73" font-size="7.8" fill="#86BEDD" stroke="#86BEDD" text-anchor="start">Ccl19</text>
<line x1="60.50" y1="355.00" x2="69.00" y2="355.00" stroke="#555" stroke-width="0.8"/>
<text x="69.50" y="357.73" font-size="7.8" fill="#F3AA6A" stroke="#F3AA6A" text-anchor="start">Notch3</text>
<line x1="60.50" y1="365.00" x2="69.00" y2="365.00" stroke="#555" stroke-width="0.8"/>
<text x="69.50" y="367.73" font-size="7.8" fill="#F3AA6A" stroke="#F3AA6A" text-anchor="start">Myl9</text>
<line x1="60.50" y1="385.00" x2="69.00" y2="385.00" stroke="#555" stroke-width="0.8"/>
<text x="69.50" y="387.73" font-size="7.8" fill="#F3AA6A" stroke="#F3AA6A" text-anchor="start">Acta2</text>
<path d="M60.5 429.50 L63 429.50 L66 428.00 L69 428.00" fill="none" stroke="#555" stroke-width="0.8"/>
<text x="69.50" y="430.73" font-size="7.8" fill="#F3AA6A" stroke="#F3AA6A" text-anchor="start">Myh11</text>
<path d="M60.5 431.00 L63 431.00 L66 436.00 L69 436.00" fill="none" stroke="#555" stroke-width="0.8"/>
<text x="69.50" y="438.73" font-size="7.8" fill="#F3AA6A" stroke="#F3AA6A" text-anchor="start">Rgs5</text>
<path d="M60.5 469.00 L63 469.00 L66 467.50 L69 467.50" fill="none" stroke="#555" stroke-width="0.8"/>
<text x="69.50" y="470.23" font-size="7.8" fill="#4CAF50" stroke="#4CAF50" text-anchor="start">Col3a1</text>
<line x1="60.50" y1="476.00" x2="69.00" y2="476.00" stroke="#555" stroke-width="0.8"/>
<text x="69.50" y="478.73" font-size="7.8" fill="#4CAF50" stroke="#4CAF50" text-anchor="start">Col1a1</text>
<path d="M60.5 483.00 L63 483.00 L66 484.00 L69 484.00" fill="none" stroke="#555" stroke-width="0.8"/>
<text x="69.50" y="486.73" font-size="7.8" fill="#4CAF50" stroke="#4CAF50" text-anchor="start">Col1a2</text>
<rect x="94.00" y="222.00" width="10.00" height="91.25" fill="#92C5DE"/>
<rect x="94.00" y="318.75" width="10.00" height="90.50" fill="#F4A765"/>
<rect x="94.00" y="414.25" width="10.00" height="99.50" fill="#44A048"/>
<text font-size="7.7" fill="#fff" text-anchor="middle" transform="translate(100.9 270.2) rotate(-90)" stroke="#fff">n:388</text>
<text font-size="7.7" fill="#fff" text-anchor="middle" transform="translate(100.9 361.5) rotate(-90)" stroke="#fff">n:540</text>
<text font-size="7.7" fill="#fff" text-anchor="middle" transform="translate(100.9 459) rotate(-90)" stroke="#fff">n:98</text>
<text x="107.50" y="229.25" font-size="7.75" fill="#1a1a1a" stroke="#1a1a1a" text-anchor="start">Epithelial cell proliferation</text>
<text x="107.50" y="238.50" font-size="7.75" fill="#1a1a1a" stroke="#1a1a1a" text-anchor="start">Ossification</text>
<text x="107.50" y="247.75" font-size="7.75" fill="#1a1a1a" stroke="#1a1a1a" text-anchor="start">Regulation of transcription by RNA polymerase II</text>
<text x="107.50" y="257.00" font-size="7.75" fill="#1a1a1a" stroke="#1a1a1a" text-anchor="start">Cellular response to cytokine stimulus</text>
<text x="107.50" y="266.25" font-size="7.75" fill="#1a1a1a" stroke="#1a1a1a" text-anchor="start">Regulation of cell projection organization</text>
<text x="107.50" y="275.50" font-size="7.75" fill="#1a1a1a" stroke="#1a1a1a" text-anchor="start">positive regulation of cell differentiation</text>
<text x="107.50" y="284.75" font-size="7.75" fill="#1a1a1a" stroke="#1a1a1a" text-anchor="start">Response to cytokine</text>
<text x="107.50" y="294.00" font-size="7.75" fill="#1a1a1a" stroke="#1a1a1a" text-anchor="start">Negative regulation of Wnt signaling pathway</text>
<text x="107.50" y="303.25" font-size="7.75" fill="#1a1a1a" stroke="#1a1a1a" text-anchor="start">Regulation of endothelial cell migration</text>
<text x="107.50" y="312.50" font-size="7.75" fill="#1a1a1a" stroke="#1a1a1a" text-anchor="start">Cellular response to transforming growth factor beta stimulus</text>
<text x="107.50" y="325.50" font-size="7.75" fill="#1a1a1a" stroke="#1a1a1a" text-anchor="start">Muscle system process</text>
<text x="107.50" y="334.84" font-size="7.75" fill="#1a1a1a" stroke="#1a1a1a" text-anchor="start">Muscle contraction</text>
<text x="107.50" y="344.18" font-size="7.75" fill="#1a1a1a" stroke="#1a1a1a" text-anchor="start">Ameboidal-type cell migration</text>
<text x="107.50" y="353.52" font-size="7.75" fill="#1a1a1a" stroke="#1a1a1a" text-anchor="start">Cell-substrate adhesion</text>
<text x="107.50" y="362.86" font-size="7.75" fill="#1a1a1a" stroke="#1a1a1a" text-anchor="start">Muscle cell differentiation</text>
<text x="107.50" y="372.20" font-size="7.75" fill="#1a1a1a" stroke="#1a1a1a" text-anchor="start">Regulation of metal ion transport</text>
<text x="107.50" y="381.54" font-size="7.75" fill="#1a1a1a" stroke="#1a1a1a" text-anchor="start">Actin filament organization</text>
<text x="107.50" y="390.88" font-size="7.75" fill="#1a1a1a" stroke="#1a1a1a" text-anchor="start">Regulation of cell-substrate adhesion</text>
<text x="107.50" y="400.22" font-size="7.75" fill="#1a1a1a" stroke="#1a1a1a" text-anchor="start">Protein localization to cell periphery</text>
<text x="107.50" y="409.56" font-size="7.75" fill="#1a1a1a" stroke="#1a1a1a" text-anchor="start">Regulation of actin filament-based process</text>
<text x="107.50" y="420.50" font-size="7.75" fill="#1a1a1a" stroke="#1a1a1a" text-anchor="start">Collagen fibril organization</text>
<text x="107.50" y="429.75" font-size="7.75" fill="#1a1a1a" stroke="#1a1a1a" text-anchor="start">Extracellular matrix organization</text>
<text x="107.50" y="439.00" font-size="7.75" fill="#1a1a1a" stroke="#1a1a1a" text-anchor="start">Extracellular structure organization</text>
<text x="107.50" y="448.25" font-size="7.75" fill="#1a1a1a" stroke="#1a1a1a" text-anchor="start">External encapsulating structure organization</text>
<text x="107.50" y="457.50" font-size="7.75" fill="#1a1a1a" stroke="#1a1a1a" text-anchor="start">Cartilage development</text>
<text x="107.50" y="466.75" font-size="7.75" fill="#1a1a1a" stroke="#1a1a1a" text-anchor="start">Connective tissue development</text>
<text x="107.50" y="476.00" font-size="7.75" fill="#1a1a1a" stroke="#1a1a1a" text-anchor="start">Transmembrane receptor protein serine/</text>
<text x="107.50" y="485.25" font-size="7.75" fill="#1a1a1a" stroke="#1a1a1a" text-anchor="start">threonine kinase signaling pathway</text>
<text x="107.50" y="494.50" font-size="7.75" fill="#1a1a1a" stroke="#1a1a1a" text-anchor="start">Ossification</text>
<text x="107.50" y="503.75" font-size="7.75" fill="#1a1a1a" stroke="#1a1a1a" text-anchor="start">Chondrocyte differentiation</text>
<text x="107.50" y="513.00" font-size="7.75" fill="#1a1a1a" stroke="#1a1a1a" text-anchor="start">Lung development</text>
<line x1="107.00" y1="220.50" x2="307.00" y2="220.50" stroke="#3a3a3a" stroke-width="0.9"/>
<line x1="107.00" y1="315.75" x2="307.00" y2="315.75" stroke="#3a3a3a" stroke-width="0.9"/>
<line x1="107.00" y1="412.00" x2="307.00" y2="412.00" stroke="#3a3a3a" stroke-width="0.9"/>
<line x1="107.00" y1="514.00" x2="307.00" y2="514.00" stroke="#3a3a3a" stroke-width="0.9"/>
<text x="241.75" y="232.00" font-size="7.7" fill="#29A9E0" stroke="#29A9E0" text-anchor="start">Pericyte_1</text>
<text x="244.40" y="326.50" font-size="7.7" fill="#F5B041" stroke="#F5B041" text-anchor="start">Pericyte_2</text>
<text x="244.40" y="423.50" font-size="7.7" fill="#2EAA4E" stroke="#2EAA4E" text-anchor="start">Pericyte_3</text>
<text x="39.50" y="499.00" font-size="8.3" fill="#000" text-anchor="middle" stroke="#000">Z−score</text>
<defs><linearGradient id="zg" x1="0" x2="1" y1="0" y2="0"><stop offset="0" stop-color="#2A5DA8"/><stop offset="0.5" stop-color="#f7f7f7"/><stop offset="1" stop-color="#B2182B"/></linearGradient></defs>
<rect x="28.00" y="502.00" width="25.00" height="3.50" fill="url(#zg)"/>
<text x="27.50" y="515.00" font-size="8.3" fill="#000" text-anchor="middle" stroke="#000">−2</text>
<text x="40.20" y="515.00" font-size="8.3" fill="#000" text-anchor="middle" stroke="#000">0</text>
<text x="50.20" y="515.00" font-size="8.3" fill="#000" text-anchor="middle" stroke="#000">2</text>
<clipPath id="vc1"><path d="M469.5 209.2 C470.1 208.2 471.7 206.7 473.9 206.0 C476.1 205.3 480.1 204.7 482.6 204.9 C485.2 205.1 487.7 205.9 489.2 207.0 C490.7 208.1 491.6 210.3 491.4 211.4 C491.2 212.5 489.6 213.6 488.1 213.6 C486.6 213.6 484.6 211.8 482.6 211.4 C480.6 211.0 478.0 211.3 476.0 211.4 C474.0 211.5 471.7 212.5 470.6 212.1 C469.5 211.7 468.9 210.2 469.5 209.2 Z"/></clipPath>
<g fill="#1F77B4" fill-opacity="0.35"><circle cx="479.2" cy="210.0" r="1.7"/><circle cx="479.6" cy="209.3" r="1.5"/><circle cx="472.3" cy="209.4" r="1.5"/><circle cx="475.4" cy="204.1" r="1.6"/><circle cx="484.4" cy="210.7" r="1.1"/><circle cx="467.9" cy="209.6" r="1.0"/><circle cx="472.4" cy="206.0" r="1.0"/><circle cx="479.5" cy="208.5" r="1.7"/><circle cx="480.9" cy="211.0" r="1.4"/><circle cx="484.7" cy="208.7" r="1.2"/></g>
<path d="M469.5 209.2 C470.1 208.2 471.7 206.7 473.9 206.0 C476.1 205.3 480.1 204.7 482.6 204.9 C485.2 205.1 487.7 205.9 489.2 207.0 C490.7 208.1 491.6 210.3 491.4 211.4 C491.2 212.5 489.6 213.6 488.1 213.6 C486.6 213.6 484.6 211.8 482.6 211.4 C480.6 211.0 478.0 211.3 476.0 211.4 C474.0 211.5 471.7 212.5 470.6 212.1 C469.5 211.7 468.9 210.2 469.5 209.2 Z" fill="#1F77B4" stroke="none" stroke-width="1" fill-opacity="0.95"/>
<g clip-path="url(#vc1)" fill="none" stroke="#000" stroke-width="0.55"><path d="M473.0 206.7 Q480.9 204.1 488.8 206.7"/><path d="M469.7 209.5 Q479.2 207.3 488.8 209.5"/><path d="M470.1 212.5 Q479.1 210.3 488.0 212.5"/><path d="M480.2 205.4 L477.5 206.4 L477.4 204.9 Z" fill="#000" stroke="none"/><path d="M485.5 205.8 L482.6 206.2 L482.8 204.7 Z" fill="#000" stroke="none"/><path d="M480.6 208.4 L477.8 209.1 L477.8 207.6 Z" fill="#000" stroke="none"/><path d="M486.8 209.0 L483.9 209.4 L484.2 207.9 Z" fill="#000" stroke="none"/><path d="M485.5 211.9 L482.6 212.3 L482.8 210.8 Z" fill="#000" stroke="none"/></g>
<clipPath id="vc2"><path d="M370.3 253.1 C370.8 252.2 373.2 255.1 376.0 255.5 C378.8 255.9 384.8 254.9 387.3 255.8 C389.9 256.7 389.3 258.8 391.3 261.0 C393.3 263.2 396.8 267.1 399.2 268.9 C401.6 270.6 403.5 271.1 405.7 271.5 C407.9 271.9 411.4 271.0 412.3 271.5 C413.2 272.0 412.3 273.8 411.0 274.5 C409.7 275.2 406.6 275.5 404.4 275.8 C402.2 276.1 400.5 276.8 397.9 276.5 C395.3 276.2 391.5 275.7 388.7 274.2 C385.9 272.7 383.4 269.8 380.8 267.6 C378.2 265.4 374.6 263.4 372.9 261.0 C371.1 258.6 369.8 254.0 370.3 253.1 Z"/></clipPath>
<g fill="#9467BD" fill-opacity="0.35"><circle cx="372.3" cy="260.2" r="1.8"/><circle cx="379.6" cy="253.9" r="1.0"/><circle cx="394.0" cy="263.4" r="1.2"/><circle cx="387.7" cy="256.9" r="1.2"/><circle cx="413.0" cy="273.1" r="1.2"/><circle cx="383.4" cy="259.2" r="1.1"/><circle cx="379.5" cy="267.6" r="1.3"/><circle cx="390.6" cy="266.8" r="1.7"/><circle cx="376.7" cy="255.3" r="1.7"/><circle cx="381.8" cy="255.9" r="1.6"/><circle cx="371.5" cy="257.4" r="1.4"/><circle cx="380.7" cy="263.3" r="1.0"/><circle cx="376.4" cy="261.2" r="1.5"/><circle cx="374.4" cy="261.0" r="1.7"/><circle cx="400.5" cy="277.5" r="1.0"/><circle cx="393.4" cy="271.3" r="1.7"/><circle cx="402.2" cy="270.4" r="1.6"/><circle cx="399.8" cy="275.8" r="1.7"/><circle cx="387.5" cy="272.8" r="1.7"/><circle cx="394.6" cy="268.2" r="1.3"/><circle cx="395.1" cy="267.8" r="1.1"/><circle cx="397.7" cy="278.3" r="1.7"/><circle cx="388.6" cy="274.1" r="1.1"/><circle cx="396.0" cy="264.3" r="1.2"/><circle cx="396.6" cy="276.3" r="1.2"/><circle cx="388.1" cy="273.2" r="1.7"/><circle cx="406.8" cy="274.4" r="1.6"/><circle cx="376.1" cy="263.4" r="1.2"/><circle cx="378.1" cy="262.4" r="1.5"/><circle cx="391.0" cy="259.7" r="1.7"/><circle cx="371.7" cy="252.0" r="1.7"/><circle cx="374.6" cy="263.6" r="1.0"/><circle cx="397.3" cy="269.0" r="1.6"/><circle cx="377.5" cy="264.1" r="1.1"/><circle cx="380.8" cy="260.6" r="1.6"/><circle cx="392.2" cy="267.9" r="1.6"/><circle cx="386.4" cy="272.8" r="1.7"/><circle cx="389.2" cy="268.2" r="1.7"/><circle cx="385.6" cy="266.7" r="1.7"/><circle cx="405.0" cy="277.0" r="1.4"/><circle cx="401.5" cy="273.5" r="1.5"/><circle cx="410.2" cy="274.5" r="1.3"/><circle cx="393.6" cy="272.1" r="1.4"/><circle cx="376.3" cy="260.3" r="1.6"/><circle cx="374.8" cy="255.2" r="1.4"/><circle cx="401.6" cy="274.1" r="1.6"/><circle cx="378.5" cy="265.5" r="1.2"/><circle cx="401.8" cy="268.6" r="1.4"/><circle cx="382.6" cy="261.5" r="1.7"/><circle cx="392.4" cy="266.8" r="1.2"/><circle cx="393.0" cy="264.9" r="1.5"/><circle cx="392.0" cy="262.1" r="1.6"/><circle cx="394.2" cy="264.6" r="1.6"/><circle cx="388.2" cy="273.5" r="1.7"/></g>
<path d="M370.3 253.1 C370.8 252.2 373.2 255.1 376.0 255.5 C378.8 255.9 384.8 254.9 387.3 255.8 C389.9 256.7 389.3 258.8 391.3 261.0 C393.3 263.2 396.8 267.1 399.2 268.9 C401.6 270.6 403.5 271.1 405.7 271.5 C407.9 271.9 411.4 271.0 412.3 271.5 C413.2 272.0 412.3 273.8 411.0 274.5 C409.7 275.2 406.6 275.5 404.4 275.8 C402.2 276.1 400.5 276.8 397.9 276.5 C395.3 276.2 391.5 275.7 388.7 274.2 C385.9 272.7 383.4 269.8 380.8 267.6 C378.2 265.4 374.6 263.4 372.9 261.0 C371.1 258.6 369.8 254.0 370.3 253.1 Z" fill="#9467BD" stroke="none" stroke-width="1" fill-opacity="0.75"/>
<g clip-path="url(#vc2)" fill="none" stroke="#000" stroke-width="0.55"><path d="M374.7 247.0 Q389.9 260.6 408.1 269.8"/><path d="M378.2 251.9 Q392.9 264.2 409.7 273.5"/><path d="M372.7 251.1 Q389.9 265.4 409.5 276.3"/><path d="M371.2 252.4 Q386.4 265.6 404.3 275.1"/><path d="M374.9 257.8 Q386.6 269.0 401.3 275.8"/><path d="M374.7 261.1 Q389.4 273.2 406.1 282.5"/><path d="M372.8 261.9 Q387.9 274.6 405.2 284.0"/><path d="M386.1 256.3 L383.5 255.2 L384.4 254.0 Z" fill="#000" stroke="none"/><path d="M402.5 266.8 L399.7 266.1 L400.4 264.7 Z" fill="#000" stroke="none"/><path d="M400.1 267.9 L397.3 267.0 L398.2 265.7 Z" fill="#000" stroke="none"/><path d="M387.6 262.6 L384.9 261.6 L385.8 260.3 Z" fill="#000" stroke="none"/><path d="M400.2 270.9 L397.4 270.0 L398.2 268.7 Z" fill="#000" stroke="none"/><path d="M394.4 272.3 L391.6 271.5 L392.4 270.2 Z" fill="#000" stroke="none"/><path d="M389.4 272.2 L386.7 271.2 L387.6 269.9 Z" fill="#000" stroke="none"/><path d="M387.6 273.2 L384.9 272.2 L385.8 271.0 Z" fill="#000" stroke="none"/></g>
<clipPath id="vc3"><path d="M370.3 246.6 C371.2 245.2 373.9 245.1 376.0 244.8 C378.1 244.5 380.9 244.4 383.0 245.0 C385.1 245.6 387.9 247.1 388.7 248.5 C389.4 249.9 388.8 252.4 387.5 253.5 C386.2 254.6 382.9 254.5 381.0 255.0 C379.1 255.5 377.4 256.0 376.0 256.5 C374.6 257.0 373.8 258.6 372.9 258.0 C371.9 257.4 370.7 254.9 370.3 253.0 C369.9 251.1 369.4 248.0 370.3 246.6 Z"/></clipPath>
<g fill="#E377C2" fill-opacity="0.35"><circle cx="370.9" cy="251.5" r="1.6"/><circle cx="379.6" cy="254.6" r="1.2"/><circle cx="369.1" cy="252.3" r="1.4"/><circle cx="381.0" cy="245.3" r="1.1"/><circle cx="372.9" cy="257.3" r="1.8"/><circle cx="378.7" cy="256.0" r="1.3"/><circle cx="378.8" cy="251.7" r="1.3"/><circle cx="381.8" cy="243.0" r="1.6"/><circle cx="387.2" cy="245.9" r="1.4"/><circle cx="384.9" cy="249.8" r="1.2"/><circle cx="372.0" cy="251.6" r="1.0"/><circle cx="382.4" cy="249.8" r="1.5"/><circle cx="386.3" cy="247.2" r="1.7"/></g>
<path d="M370.3 246.6 C371.2 245.2 373.9 245.1 376.0 244.8 C378.1 244.5 380.9 244.4 383.0 245.0 C385.1 245.6 387.9 247.1 388.7 248.5 C389.4 249.9 388.8 252.4 387.5 253.5 C386.2 254.6 382.9 254.5 381.0 255.0 C379.1 255.5 377.4 256.0 376.0 256.5 C374.6 257.0 373.8 258.6 372.9 258.0 C371.9 257.4 370.7 254.9 370.3 253.0 C369.9 251.1 369.4 248.0 370.3 246.6 Z" fill="#E377C2" stroke="none" stroke-width="1" fill-opacity="0.75"/>
<g clip-path="url(#vc3)" fill="none" stroke="#000" stroke-width="0.55"><path d="M380.4 240.0 Q387.3 243.3 388.9 250.7"/><path d="M377.9 240.1 Q384.7 244.6 387.6 252.3"/><path d="M376.9 242.0 Q385.8 245.6 387.3 255.0"/><path d="M374.8 242.5 Q382.4 245.7 383.8 253.8"/><path d="M374.0 244.9 Q381.7 249.1 384.0 257.5"/><path d="M373.1 246.5 Q380.4 249.8 381.9 257.6"/><path d="M369.1 245.4 Q377.8 249.6 379.9 259.0"/><path d="M368.9 247.7 Q375.8 252.2 378.7 259.9"/><path d="M366.7 248.4 Q374.7 252.4 376.8 261.2"/><path d="M383.4 244.9 L380.9 243.5 L382.1 242.4 Z" fill="#000" stroke="none"/><path d="M386.6 249.9 L384.5 247.8 L385.9 247.1 Z" fill="#000" stroke="none"/><path d="M383.5 252.2 L381.9 249.9 L383.3 249.3 Z" fill="#000" stroke="none"/><path d="M379.4 248.9 L376.8 247.6 L377.8 246.4 Z" fill="#000" stroke="none"/><path d="M382.8 254.0 L380.8 251.9 L382.1 251.2 Z" fill="#000" stroke="none"/><path d="M375.0 249.5 L372.4 248.2 L373.4 247.1 Z" fill="#000" stroke="none"/><path d="M379.5 257.5 L377.9 255.1 L379.3 254.6 Z" fill="#000" stroke="none"/><path d="M375.6 254.0 L373.3 252.4 L374.5 251.4 Z" fill="#000" stroke="none"/><path d="M372.7 252.9 L370.2 251.5 L371.3 250.4 Z" fill="#000" stroke="none"/><path d="M376.3 259.1 L374.5 256.9 L375.9 256.3 Z" fill="#000" stroke="none"/></g>
<g fill="#C9A29A" fill-opacity="0.55"><circle cx="446.6" cy="249.2" r="1.4"/><circle cx="458.4" cy="253.3" r="2.1"/><circle cx="458.2" cy="249.3" r="2.2"/><circle cx="462.7" cy="249.6" r="2.1"/><circle cx="450.9" cy="254.3" r="2.2"/><circle cx="446.6" cy="254.9" r="2.1"/><circle cx="457.6" cy="254.2" r="2.2"/><circle cx="459.8" cy="255.8" r="1.3"/><circle cx="455.4" cy="254.1" r="1.4"/><circle cx="442.2" cy="254.9" r="1.3"/><circle cx="451.2" cy="256.6" r="1.7"/><circle cx="447.0" cy="255.6" r="1.6"/><circle cx="458.9" cy="255.0" r="2.2"/><circle cx="462.9" cy="257.4" r="1.4"/><circle cx="443.6" cy="259.2" r="2.0"/><circle cx="455.4" cy="252.9" r="1.5"/><circle cx="456.8" cy="255.4" r="1.8"/><circle cx="455.6" cy="257.6" r="1.4"/><circle cx="446.7" cy="260.3" r="2.1"/><circle cx="461.2" cy="249.2" r="1.3"/><circle cx="447.2" cy="253.7" r="1.8"/><circle cx="443.4" cy="255.1" r="1.3"/><circle cx="443.0" cy="256.7" r="1.8"/><circle cx="455.5" cy="253.1" r="1.7"/><circle cx="445.8" cy="252.8" r="1.9"/><circle cx="460.3" cy="249.6" r="1.3"/></g>
<clipPath id="vc4"><path d="M456.3 258.5 C457.6 256.3 460.3 253.4 462.9 251.9 C465.5 250.4 469.0 249.7 471.7 249.7 C474.4 249.7 476.8 250.8 479.3 251.9 C481.9 253.0 484.6 255.4 487.0 256.3 C489.4 257.2 492.9 256.3 493.6 257.4 C494.3 258.5 492.9 261.1 491.4 262.9 C489.9 264.7 487.4 266.8 484.8 268.4 C482.2 270.0 478.9 271.4 476.0 272.7 C473.1 274.0 469.9 275.4 467.3 276.0 C464.8 276.6 462.5 276.7 460.7 276.0 C458.9 275.3 457.2 273.4 456.3 271.6 C455.4 269.8 455.2 267.3 455.2 265.1 C455.2 262.9 455.0 260.7 456.3 258.5 Z"/></clipPath>
<g fill="#FF7F0E" fill-opacity="0.35"><circle cx="487.5" cy="266.6" r="1.6"/><circle cx="462.2" cy="260.6" r="1.2"/><circle cx="487.5" cy="258.9" r="1.5"/><circle cx="495.1" cy="257.6" r="1.4"/><circle cx="471.3" cy="258.9" r="1.1"/><circle cx="456.7" cy="264.8" r="1.4"/><circle cx="482.3" cy="256.8" r="1.6"/><circle cx="466.1" cy="269.7" r="1.6"/><circle cx="465.2" cy="252.0" r="1.3"/><circle cx="484.0" cy="258.8" r="1.1"/><circle cx="483.3" cy="264.9" r="1.7"/><circle cx="471.8" cy="272.0" r="1.2"/><circle cx="466.7" cy="259.8" r="1.7"/><circle cx="491.1" cy="255.2" r="1.3"/><circle cx="468.7" cy="258.7" r="1.3"/><circle cx="469.6" cy="253.6" r="1.5"/><circle cx="487.0" cy="264.1" r="1.7"/><circle cx="477.1" cy="253.1" r="1.6"/><circle cx="490.6" cy="256.2" r="1.0"/><circle cx="475.1" cy="264.2" r="1.5"/><circle cx="476.4" cy="271.6" r="1.1"/><circle cx="456.7" cy="270.0" r="1.7"/><circle cx="456.8" cy="266.9" r="1.1"/><circle cx="484.8" cy="267.4" r="1.2"/><circle cx="462.5" cy="270.9" r="1.4"/><circle cx="485.6" cy="259.6" r="1.3"/><circle cx="474.1" cy="264.0" r="1.6"/><circle cx="470.6" cy="272.7" r="1.5"/><circle cx="475.4" cy="269.2" r="1.6"/><circle cx="471.1" cy="260.4" r="1.1"/><circle cx="469.1" cy="252.8" r="1.2"/><circle cx="471.2" cy="256.5" r="1.8"/><circle cx="458.1" cy="267.3" r="1.6"/><circle cx="472.7" cy="265.4" r="1.7"/><circle cx="461.0" cy="254.3" r="1.2"/><circle cx="483.6" cy="265.7" r="1.2"/><circle cx="461.0" cy="256.2" r="1.1"/><circle cx="485.3" cy="257.1" r="1.4"/><circle cx="487.8" cy="262.2" r="1.2"/><circle cx="467.7" cy="264.3" r="1.8"/><circle cx="473.7" cy="254.4" r="1.0"/><circle cx="469.5" cy="263.7" r="1.4"/><circle cx="464.8" cy="277.7" r="1.5"/><circle cx="473.2" cy="259.0" r="1.6"/><circle cx="483.4" cy="266.1" r="1.1"/><circle cx="459.9" cy="257.5" r="1.2"/><circle cx="490.1" cy="263.3" r="1.5"/><circle cx="475.9" cy="252.3" r="1.6"/><circle cx="473.6" cy="261.9" r="1.8"/><circle cx="478.1" cy="273.7" r="1.2"/><circle cx="486.7" cy="260.3" r="1.7"/><circle cx="457.1" cy="272.7" r="1.2"/><circle cx="476.2" cy="263.6" r="1.1"/><circle cx="488.5" cy="257.1" r="1.2"/><circle cx="456.4" cy="257.0" r="1.4"/><circle cx="483.5" cy="258.6" r="1.5"/></g>
<path d="M456.3 258.5 C457.6 256.3 460.3 253.4 462.9 251.9 C465.5 250.4 469.0 249.7 471.7 249.7 C474.4 249.7 476.8 250.8 479.3 251.9 C481.9 253.0 484.6 255.4 487.0 256.3 C489.4 257.2 492.9 256.3 493.6 257.4 C494.3 258.5 492.9 261.1 491.4 262.9 C489.9 264.7 487.4 266.8 484.8 268.4 C482.2 270.0 478.9 271.4 476.0 272.7 C473.1 274.0 469.9 275.4 467.3 276.0 C464.8 276.6 462.5 276.7 460.7 276.0 C458.9 275.3 457.2 273.4 456.3 271.6 C455.4 269.8 455.2 267.3 455.2 265.1 C455.2 262.9 455.0 260.7 456.3 258.5 Z" fill="#FF7F0E" stroke="none" stroke-width="1" fill-opacity="0.78"/>
<g clip-path="url(#vc4)" fill="none" stroke="#000" stroke-width="0.55"><path d="M451.4 260.1 Q470.6 258.1 481.1 241.9"/><path d="M451.7 263.5 Q470.0 259.5 481.8 245.0"/><path d="M453.4 265.3 Q472.5 261.3 484.7 246.1"/><path d="M453.9 267.7 Q471.3 263.6 482.9 249.9"/><path d="M454.5 270.8 Q474.4 264.1 489.4 249.4"/><path d="M460.1 270.4 Q478.3 265.3 491.2 251.3"/><path d="M460.0 273.5 Q478.2 270.6 489.0 255.7"/><path d="M457.7 277.4 Q478.2 273.4 491.1 257.0"/><path d="M461.5 277.7 Q480.8 274.1 492.7 258.6"/><path d="M465.5 279.0 Q484.7 276.1 495.9 260.4"/><path d="M468.7 254.4 L466.7 256.4 L465.9 255.1 Z" fill="#000" stroke="none"/><path d="M477.1 247.2 L475.8 249.7 L474.6 248.7 Z" fill="#000" stroke="none"/><path d="M479.2 248.1 L477.7 250.6 L476.6 249.5 Z" fill="#000" stroke="none"/><path d="M467.6 260.3 L465.4 262.2 L464.8 260.8 Z" fill="#000" stroke="none"/><path d="M478.2 254.9 L476.6 257.3 L475.6 256.1 Z" fill="#000" stroke="none"/><path d="M472.2 262.7 L470.2 264.7 L469.4 263.4 Z" fill="#000" stroke="none"/><path d="M484.1 254.2 L482.4 256.6 L481.5 255.4 Z" fill="#000" stroke="none"/><path d="M472.9 265.4 L470.8 267.3 L470.1 265.9 Z" fill="#000" stroke="none"/><path d="M483.5 258.6 L481.7 260.9 L480.8 259.6 Z" fill="#000" stroke="none"/><path d="M476.3 267.7 L474.2 269.7 L473.5 268.3 Z" fill="#000" stroke="none"/><path d="M485.8 259.7 L484.4 262.3 L483.3 261.2 Z" fill="#000" stroke="none"/><path d="M474.5 273.6 L472.3 275.4 L471.7 274.0 Z" fill="#000" stroke="none"/><path d="M483.4 272.5 L481.4 274.6 L480.6 273.2 Z" fill="#000" stroke="none"/><path d="M491.1 266.1 L489.7 268.6 L488.6 267.5 Z" fill="#000" stroke="none"/></g>
<clipPath id="vc5"><path d="M489.2 238.8 C490.8 237.7 493.1 237.3 494.7 237.7 C496.3 238.1 498.1 239.4 499.0 241.0 C499.9 242.6 500.3 245.3 500.1 247.5 C499.9 249.7 499.1 252.4 498.0 254.1 C496.9 255.8 495.1 257.4 493.6 257.4 C492.1 257.4 490.7 255.4 489.2 254.1 C487.7 252.8 486.3 250.6 484.8 249.7 C483.3 248.8 480.4 249.5 480.4 248.6 C480.4 247.7 483.3 245.9 484.8 244.3 C486.3 242.7 487.6 239.9 489.2 238.8 Z"/></clipPath>
<g fill="#2CA02C" fill-opacity="0.35"><circle cx="501.8" cy="247.9" r="1.6"/><circle cx="498.2" cy="240.4" r="1.8"/><circle cx="493.3" cy="240.4" r="1.1"/><circle cx="484.2" cy="249.4" r="1.6"/><circle cx="487.0" cy="246.7" r="1.1"/><circle cx="499.8" cy="248.6" r="1.4"/><circle cx="491.7" cy="242.0" r="1.7"/><circle cx="492.7" cy="238.6" r="1.7"/><circle cx="484.1" cy="249.3" r="1.7"/><circle cx="482.8" cy="248.7" r="1.1"/><circle cx="494.0" cy="243.0" r="1.5"/><circle cx="495.9" cy="244.7" r="1.5"/><circle cx="483.1" cy="246.8" r="1.1"/><circle cx="487.6" cy="249.2" r="1.1"/><circle cx="490.7" cy="241.9" r="1.5"/><circle cx="486.3" cy="250.9" r="1.0"/><circle cx="494.3" cy="239.1" r="1.8"/><circle cx="492.6" cy="246.8" r="1.3"/><circle cx="493.2" cy="252.0" r="1.6"/><circle cx="496.2" cy="247.2" r="1.8"/><circle cx="488.1" cy="246.0" r="1.5"/></g>
<path d="M489.2 238.8 C490.8 237.7 493.1 237.3 494.7 237.7 C496.3 238.1 498.1 239.4 499.0 241.0 C499.9 242.6 500.3 245.3 500.1 247.5 C499.9 249.7 499.1 252.4 498.0 254.1 C496.9 255.8 495.1 257.4 493.6 257.4 C492.1 257.4 490.7 255.4 489.2 254.1 C487.7 252.8 486.3 250.6 484.8 249.7 C483.3 248.8 480.4 249.5 480.4 248.6 C480.4 247.7 483.3 245.9 484.8 244.3 C486.3 242.7 487.6 239.9 489.2 238.8 Z" fill="#2CA02C" stroke="none" stroke-width="1" fill-opacity="0.78"/>
<g clip-path="url(#vc5)" fill="none" stroke="#000" stroke-width="0.55"><path d="M480.9 250.5 Q482.2 241.2 488.9 234.7"/><path d="M483.5 251.5 Q485.2 243.4 490.8 237.3"/><path d="M485.3 253.4 Q487.3 243.2 494.3 235.5"/><path d="M486.7 255.8 Q487.9 246.5 494.7 240.1"/><path d="M490.4 254.2 Q491.3 245.6 497.7 239.9"/><path d="M491.7 258.7 Q494.6 248.4 501.2 240.0"/><path d="M494.4 258.2 Q496.9 249.5 502.4 242.4"/><path d="M486.2 243.7 L485.8 246.5 L484.4 245.9 Z" fill="#000" stroke="none"/><path d="M488.3 240.3 L487.5 243.1 L486.1 242.3 Z" fill="#000" stroke="none"/><path d="M488.4 244.2 L487.9 247.0 L486.5 246.4 Z" fill="#000" stroke="none"/><path d="M491.4 239.1 L490.5 241.9 L489.2 241.1 Z" fill="#000" stroke="none"/><path d="M489.4 246.9 L488.9 249.8 L487.5 249.1 Z" fill="#000" stroke="none"/><path d="M492.0 247.6 L491.8 250.5 L490.4 250.0 Z" fill="#000" stroke="none"/><path d="M496.4 241.0 L495.2 243.7 L494.0 242.7 Z" fill="#000" stroke="none"/><path d="M496.8 251.7 L496.4 254.5 L495.0 253.9 Z" fill="#000" stroke="none"/><path d="M501.5 243.6 L500.5 246.3 L499.3 245.5 Z" fill="#000" stroke="none"/></g>
<clipPath id="vc6"><path d="M418.0 268.0 C419.2 266.2 422.2 264.8 425.0 264.0 C427.8 263.2 431.8 262.8 435.0 263.0 C438.2 263.2 441.7 263.5 444.0 265.0 C446.3 266.5 448.2 269.5 449.0 272.0 C449.8 274.5 449.8 277.5 449.0 280.0 C448.2 282.5 446.2 285.5 444.0 287.0 C441.8 288.5 438.7 289.2 436.0 289.0 C433.3 288.8 430.5 287.3 428.0 286.0 C425.5 284.7 422.7 282.8 421.0 281.0 C419.3 279.2 418.5 277.2 418.0 275.0 C417.5 272.8 416.8 269.8 418.0 268.0 Z"/></clipPath>
<g fill="#D62728" fill-opacity="0.35"><circle cx="432.5" cy="267.2" r="1.2"/><circle cx="428.4" cy="275.2" r="1.1"/><circle cx="423.1" cy="280.0" r="1.2"/><circle cx="446.4" cy="282.4" r="1.1"/><circle cx="440.4" cy="289.1" r="1.4"/><circle cx="418.8" cy="267.7" r="1.2"/><circle cx="440.9" cy="266.9" r="1.1"/><circle cx="424.2" cy="280.9" r="1.6"/><circle cx="429.0" cy="280.9" r="1.7"/><circle cx="436.6" cy="267.9" r="1.2"/><circle cx="448.4" cy="281.0" r="1.2"/><circle cx="438.4" cy="263.7" r="1.8"/><circle cx="431.4" cy="276.8" r="1.4"/><circle cx="426.0" cy="268.5" r="1.6"/><circle cx="419.1" cy="269.6" r="1.6"/><circle cx="424.6" cy="269.4" r="1.4"/><circle cx="432.2" cy="283.5" r="1.3"/><circle cx="448.5" cy="276.0" r="1.1"/><circle cx="435.5" cy="280.3" r="1.3"/><circle cx="439.0" cy="284.5" r="1.4"/><circle cx="433.7" cy="286.4" r="1.5"/><circle cx="434.2" cy="289.5" r="1.1"/><circle cx="443.3" cy="266.0" r="1.5"/><circle cx="424.2" cy="274.2" r="1.6"/><circle cx="443.5" cy="284.7" r="1.2"/><circle cx="433.1" cy="267.6" r="1.5"/><circle cx="433.5" cy="262.1" r="1.5"/><circle cx="441.0" cy="278.2" r="1.7"/><circle cx="422.3" cy="265.6" r="1.0"/><circle cx="433.4" cy="274.0" r="1.4"/><circle cx="425.2" cy="285.0" r="1.1"/><circle cx="447.8" cy="278.1" r="1.4"/><circle cx="443.7" cy="268.1" r="1.1"/><circle cx="426.9" cy="262.3" r="1.3"/><circle cx="437.7" cy="276.8" r="1.2"/><circle cx="436.6" cy="263.7" r="1.7"/><circle cx="422.0" cy="268.6" r="1.1"/><circle cx="440.2" cy="285.9" r="1.6"/><circle cx="418.1" cy="273.3" r="1.3"/><circle cx="417.5" cy="275.7" r="1.6"/><circle cx="431.9" cy="283.3" r="1.0"/><circle cx="421.0" cy="272.8" r="1.2"/><circle cx="430.9" cy="263.3" r="1.0"/><circle cx="441.7" cy="267.9" r="1.2"/></g>
<path d="M418.0 268.0 C419.2 266.2 422.2 264.8 425.0 264.0 C427.8 263.2 431.8 262.8 435.0 263.0 C438.2 263.2 441.7 263.5 444.0 265.0 C446.3 266.5 448.2 269.5 449.0 272.0 C449.8 274.5 449.8 277.5 449.0 280.0 C448.2 282.5 446.2 285.5 444.0 287.0 C441.8 288.5 438.7 289.2 436.0 289.0 C433.3 288.8 430.5 287.3 428.0 286.0 C425.5 284.7 422.7 282.8 421.0 281.0 C419.3 279.2 418.5 277.2 418.0 275.0 C417.5 272.8 416.8 269.8 418.0 268.0 Z" fill="#D62728" stroke="none" stroke-width="1" fill-opacity="0.78"/>
<g clip-path="url(#vc6)" fill="none" stroke="#000" stroke-width="0.55"><path d="M420.1 263.9 Q433.0 259.9 444.9 266.4"/><path d="M421.1 269.3 Q436.7 265.7 451.3 272.3"/><path d="M418.5 274.3 Q432.1 270.3 444.5 276.9"/><path d="M416.2 279.3 Q433.1 276.3 449.1 282.6"/><path d="M421.2 285.1 Q435.4 281.2 448.6 287.8"/><path d="M442.6 265.2 L439.7 264.9 L440.3 263.4 Z" fill="#000" stroke="none"/><path d="M432.2 272.9 L429.3 273.5 L429.4 272.0 Z" fill="#000" stroke="none"/><path d="M438.2 274.2 L435.3 274.3 L435.7 272.8 Z" fill="#000" stroke="none"/><path d="M430.9 278.4 L428.0 279.1 L428.1 277.5 Z" fill="#000" stroke="none"/><path d="M431.6 283.6 L428.8 284.5 L428.7 282.9 Z" fill="#000" stroke="none"/><path d="M444.4 285.9 L441.5 285.8 L442.0 284.3 Z" fill="#000" stroke="none"/></g>
<clipPath id="vc7"><path d="M416.0 258.0 C416.0 256.0 418.0 254.1 420.0 253.0 C422.0 251.9 425.3 251.3 428.0 251.5 C430.7 251.7 434.0 252.8 436.0 254.0 C438.0 255.2 440.0 257.3 440.0 259.0 C440.0 260.7 438.0 262.8 436.0 264.0 C434.0 265.2 430.7 265.8 428.0 266.0 C425.3 266.2 422.0 266.3 420.0 265.0 C418.0 263.7 416.0 260.0 416.0 258.0 Z"/></clipPath>
<g fill="#D62728" fill-opacity="0.35"><circle cx="421.3" cy="256.8" r="1.7"/><circle cx="434.0" cy="254.5" r="1.3"/><circle cx="424.1" cy="263.7" r="1.6"/><circle cx="423.0" cy="256.6" r="1.1"/><circle cx="438.7" cy="255.5" r="1.6"/><circle cx="428.5" cy="250.5" r="1.3"/><circle cx="418.2" cy="260.5" r="1.0"/><circle cx="422.7" cy="257.3" r="1.4"/><circle cx="417.8" cy="262.6" r="1.2"/><circle cx="434.3" cy="261.8" r="1.1"/><circle cx="419.7" cy="254.7" r="1.6"/><circle cx="425.3" cy="256.7" r="1.7"/><circle cx="420.3" cy="254.9" r="1.3"/><circle cx="429.8" cy="264.5" r="1.8"/><circle cx="422.3" cy="261.9" r="1.7"/><circle cx="420.1" cy="262.3" r="1.5"/><circle cx="420.6" cy="261.2" r="1.1"/><circle cx="426.0" cy="256.8" r="1.0"/><circle cx="424.7" cy="255.6" r="1.4"/></g>
<path d="M416.0 258.0 C416.0 256.0 418.0 254.1 420.0 253.0 C422.0 251.9 425.3 251.3 428.0 251.5 C430.7 251.7 434.0 252.8 436.0 254.0 C438.0 255.2 440.0 257.3 440.0 259.0 C440.0 260.7 438.0 262.8 436.0 264.0 C434.0 265.2 430.7 265.8 428.0 266.0 C425.3 266.2 422.0 266.3 420.0 265.0 C418.0 263.7 416.0 260.0 416.0 258.0 Z" fill="#D62728" stroke="none" stroke-width="1" fill-opacity="0.85"/>
<g clip-path="url(#vc7)" fill="none" stroke="#000" stroke-width="0.55"><path d="M416.4 252.3 Q427.8 256.5 439.1 252.3"/><path d="M414.9 254.5 Q426.7 260.7 438.5 254.5"/><path d="M414.4 256.6 Q427.0 260.4 439.6 256.6"/><path d="M414.1 258.6 Q427.0 265.4 439.9 258.6"/><path d="M417.7 260.8 Q427.0 265.7 436.3 260.8"/><path d="M416.5 263.0 Q428.0 267.6 439.5 263.0"/><path d="M414.8 264.6 Q426.9 269.3 439.0 264.6"/><path d="M427.8 254.4 L424.9 255.0 L425.0 253.5 Z" fill="#000" stroke="none"/><path d="M433.8 253.8 L431.1 255.0 L430.9 253.5 Z" fill="#000" stroke="none"/><path d="M426.1 257.6 L423.2 258.2 L423.4 256.6 Z" fill="#000" stroke="none"/><path d="M435.0 256.1 L432.5 257.7 L432.1 256.2 Z" fill="#000" stroke="none"/><path d="M425.9 258.5 L423.1 259.1 L423.2 257.5 Z" fill="#000" stroke="none"/><path d="M435.2 257.7 L432.6 258.9 L432.3 257.4 Z" fill="#000" stroke="none"/><path d="M433.7 261.1 L431.2 262.4 L430.8 260.9 Z" fill="#000" stroke="none"/><path d="M428.7 265.3 L425.9 266.0 L425.9 264.5 Z" fill="#000" stroke="none"/><path d="M425.3 266.9 L422.4 267.4 L422.6 265.9 Z" fill="#000" stroke="none"/><path d="M436.7 265.4 L434.2 266.9 L433.8 265.4 Z" fill="#000" stroke="none"/></g>
<clipPath id="vc8"><path d="M636.7 208.1 C637.6 207.1 640.7 205.4 643.2 204.9 C645.8 204.4 649.6 204.4 652.0 204.9 C654.4 205.4 656.6 206.8 657.5 208.1 C658.4 209.4 658.8 211.8 657.5 212.5 C656.2 213.2 652.2 212.7 649.8 212.5 C647.4 212.3 645.2 211.7 643.2 211.4 C641.2 211.1 638.9 211.4 637.8 210.8 C636.7 210.2 635.8 209.1 636.7 208.1 Z"/></clipPath>
<g fill="#1F77B4" fill-opacity="0.35"><circle cx="640.4" cy="210.8" r="1.2"/><circle cx="644.5" cy="205.7" r="1.4"/><circle cx="650.8" cy="209.3" r="1.5"/><circle cx="648.6" cy="212.5" r="1.8"/><circle cx="643.0" cy="206.9" r="1.7"/><circle cx="642.5" cy="211.2" r="1.6"/><circle cx="651.7" cy="214.1" r="1.7"/><circle cx="638.7" cy="210.1" r="1.4"/></g>
<path d="M636.7 208.1 C637.6 207.1 640.7 205.4 643.2 204.9 C645.8 204.4 649.6 204.4 652.0 204.9 C654.4 205.4 656.6 206.8 657.5 208.1 C658.4 209.4 658.8 211.8 657.5 212.5 C656.2 213.2 652.2 212.7 649.8 212.5 C647.4 212.3 645.2 211.7 643.2 211.4 C641.2 211.1 638.9 211.4 637.8 210.8 C636.7 210.2 635.8 209.1 636.7 208.1 Z" fill="#1F77B4" stroke="none" stroke-width="1" fill-opacity="0.95"/>
<g clip-path="url(#vc8)" fill="none" stroke="#000" stroke-width="0.55"><path d="M636.6 206.9 Q647.3 204.2 658.0 206.9"/><path d="M637.4 210.3 Q648.1 208.7 658.8 210.3"/><path d="M646.8 205.5 L644.1 206.4 L644.0 204.9 Z" fill="#000" stroke="none"/><path d="M653.0 205.9 L650.2 206.4 L650.3 204.9 Z" fill="#000" stroke="none"/><path d="M653.3 209.7 L650.4 210.3 L650.5 208.8 Z" fill="#000" stroke="none"/></g>
<clipPath id="vc9"><path d="M535.8 251.6 C536.3 250.7 538.8 253.6 541.8 254.0 C544.8 254.4 551.0 253.4 553.7 254.3 C556.3 255.2 555.8 257.3 557.9 259.5 C559.9 261.7 563.6 265.6 566.1 267.4 C568.7 269.1 570.7 269.6 573.0 270.0 C575.3 270.4 579.0 269.5 579.9 270.0 C580.8 270.5 579.9 272.3 578.5 273.0 C577.2 273.7 573.9 274.0 571.6 274.3 C569.3 274.6 567.5 275.3 564.8 275.0 C562.0 274.7 558.1 274.2 555.1 272.7 C552.1 271.2 549.6 268.3 546.8 266.1 C544.1 263.9 540.4 261.9 538.5 259.5 C536.7 257.1 535.3 252.5 535.8 251.6 Z"/></clipPath>
<g fill="#9467BD" fill-opacity="0.35"><circle cx="555.5" cy="270.8" r="1.4"/><circle cx="546.0" cy="263.5" r="1.6"/><circle cx="552.7" cy="269.2" r="1.2"/><circle cx="549.9" cy="270.4" r="1.7"/><circle cx="554.0" cy="269.0" r="1.5"/><circle cx="573.8" cy="271.6" r="1.1"/><circle cx="551.9" cy="267.9" r="1.2"/><circle cx="562.0" cy="275.4" r="1.8"/><circle cx="554.0" cy="266.9" r="1.3"/><circle cx="559.9" cy="262.8" r="1.3"/><circle cx="552.6" cy="266.5" r="1.6"/><circle cx="542.2" cy="252.5" r="1.7"/><circle cx="545.9" cy="263.0" r="1.1"/><circle cx="544.7" cy="262.8" r="1.3"/><circle cx="542.6" cy="262.8" r="1.8"/><circle cx="557.1" cy="261.0" r="1.6"/><circle cx="560.3" cy="267.6" r="1.5"/><circle cx="555.1" cy="272.4" r="1.6"/><circle cx="541.9" cy="252.9" r="1.1"/><circle cx="551.1" cy="270.2" r="1.2"/><circle cx="572.8" cy="271.3" r="1.6"/><circle cx="553.0" cy="271.6" r="1.7"/><circle cx="553.1" cy="268.9" r="1.2"/><circle cx="552.5" cy="259.7" r="1.5"/><circle cx="549.9" cy="269.9" r="1.2"/><circle cx="538.9" cy="253.5" r="1.3"/><circle cx="558.0" cy="260.7" r="1.3"/><circle cx="559.6" cy="275.7" r="1.2"/><circle cx="553.4" cy="268.9" r="1.1"/><circle cx="546.9" cy="268.2" r="1.8"/><circle cx="549.3" cy="254.6" r="1.3"/><circle cx="563.4" cy="273.9" r="1.7"/><circle cx="564.0" cy="263.4" r="1.5"/><circle cx="552.3" cy="255.9" r="1.5"/><circle cx="561.3" cy="263.7" r="1.0"/><circle cx="562.3" cy="265.9" r="1.7"/><circle cx="541.1" cy="262.4" r="1.8"/><circle cx="578.9" cy="272.3" r="1.6"/><circle cx="559.6" cy="273.3" r="1.2"/><circle cx="547.2" cy="267.2" r="1.1"/><circle cx="560.5" cy="271.2" r="1.4"/><circle cx="574.9" cy="270.7" r="1.4"/><circle cx="577.4" cy="271.4" r="1.1"/><circle cx="551.4" cy="252.3" r="1.0"/><circle cx="542.5" cy="260.2" r="1.7"/><circle cx="563.5" cy="274.3" r="1.1"/><circle cx="564.1" cy="273.6" r="1.6"/><circle cx="550.1" cy="258.2" r="1.5"/><circle cx="547.2" cy="266.1" r="1.6"/><circle cx="542.5" cy="253.1" r="1.6"/><circle cx="567.1" cy="269.8" r="1.3"/><circle cx="548.7" cy="260.8" r="1.1"/><circle cx="555.8" cy="263.5" r="1.8"/><circle cx="550.5" cy="268.9" r="1.2"/><circle cx="574.9" cy="268.1" r="1.4"/><circle cx="554.0" cy="257.3" r="1.4"/><circle cx="567.2" cy="268.0" r="1.2"/></g>
<path d="M535.8 251.6 C536.3 250.7 538.8 253.6 541.8 254.0 C544.8 254.4 551.0 253.4 553.7 254.3 C556.3 255.2 555.8 257.3 557.9 259.5 C559.9 261.7 563.6 265.6 566.1 267.4 C568.7 269.1 570.7 269.6 573.0 270.0 C575.3 270.4 579.0 269.5 579.9 270.0 C580.8 270.5 579.9 272.3 578.5 273.0 C577.2 273.7 573.9 274.0 571.6 274.3 C569.3 274.6 567.5 275.3 564.8 275.0 C562.0 274.7 558.1 274.2 555.1 272.7 C552.1 271.2 549.6 268.3 546.8 266.1 C544.1 263.9 540.4 261.9 538.5 259.5 C536.7 257.1 535.3 252.5 535.8 251.6 Z" fill="#9467BD" stroke="none" stroke-width="1" fill-opacity="0.75"/>
<g clip-path="url(#vc9)" fill="none" stroke="#000" stroke-width="0.55"><path d="M547.9 249.2 Q562.3 261.5 579.1 270.5"/><path d="M538.6 246.0 Q554.1 258.5 571.3 268.4"/><path d="M545.2 253.1 Q556.6 262.7 569.5 269.8"/><path d="M541.7 253.5 Q555.1 266.1 571.6 274.0"/><path d="M540.5 255.8 Q552.6 265.9 566.3 273.5"/><path d="M534.3 254.7 Q551.7 268.6 571.0 279.8"/><path d="M537.2 259.1 Q550.7 270.6 566.2 279.0"/><path d="M556.4 261.7 L553.7 260.7 L554.6 259.4 Z" fill="#000" stroke="none"/><path d="M564.3 266.8 L561.5 266.0 L562.3 264.6 Z" fill="#000" stroke="none"/><path d="M557.0 265.6 L554.2 264.7 L555.1 263.4 Z" fill="#000" stroke="none"/><path d="M560.3 270.0 L557.5 269.2 L558.3 267.9 Z" fill="#000" stroke="none"/><path d="M549.0 265.7 L546.3 264.7 L547.1 263.5 Z" fill="#000" stroke="none"/><path d="M564.6 276.0 L561.8 275.2 L562.6 273.8 Z" fill="#000" stroke="none"/><path d="M561.2 276.2 L558.5 275.4 L559.2 274.1 Z" fill="#000" stroke="none"/></g>
<clipPath id="vc10"><path d="M535.8 245.1 C536.8 243.7 539.6 243.6 541.8 243.3 C544.0 243.0 546.9 242.9 549.1 243.5 C551.4 244.1 554.3 245.6 555.1 247.0 C555.9 248.4 555.2 250.9 553.9 252.0 C552.5 253.1 549.0 253.0 547.0 253.5 C545.0 254.0 543.2 254.5 541.8 255.0 C540.4 255.5 539.5 257.1 538.5 256.5 C537.5 255.9 536.3 253.4 535.8 251.5 C535.3 249.6 534.8 246.5 535.8 245.1 Z"/></clipPath>
<g fill="#E377C2" fill-opacity="0.35"><circle cx="544.7" cy="241.6" r="1.7"/><circle cx="534.4" cy="247.3" r="1.4"/><circle cx="546.2" cy="243.2" r="1.6"/><circle cx="540.8" cy="250.0" r="1.1"/><circle cx="547.0" cy="243.5" r="1.1"/><circle cx="545.7" cy="246.4" r="1.6"/><circle cx="539.6" cy="248.4" r="1.0"/><circle cx="538.9" cy="249.1" r="1.4"/><circle cx="544.5" cy="255.9" r="1.1"/><circle cx="543.3" cy="251.8" r="1.7"/><circle cx="556.3" cy="248.4" r="1.0"/><circle cx="537.4" cy="255.4" r="1.6"/><circle cx="550.4" cy="244.0" r="1.4"/><circle cx="534.9" cy="248.5" r="1.1"/></g>
<path d="M535.8 245.1 C536.8 243.7 539.6 243.6 541.8 243.3 C544.0 243.0 546.9 242.9 549.1 243.5 C551.4 244.1 554.3 245.6 555.1 247.0 C555.9 248.4 555.2 250.9 553.9 252.0 C552.5 253.1 549.0 253.0 547.0 253.5 C545.0 254.0 543.2 254.5 541.8 255.0 C540.4 255.5 539.5 257.1 538.5 256.5 C537.5 255.9 536.3 253.4 535.8 251.5 C535.3 249.6 534.8 246.5 535.8 245.1 Z" fill="#E377C2" stroke="none" stroke-width="1" fill-opacity="0.75"/>
<g clip-path="url(#vc10)" fill="none" stroke="#000" stroke-width="0.55"><path d="M545.1 235.8 Q552.8 240.1 555.3 248.6"/><path d="M544.3 238.5 Q551.6 242.1 553.5 250.1"/><path d="M542.7 239.6 Q550.8 244.1 553.3 253.1"/><path d="M541.1 241.2 Q548.7 245.9 551.5 254.3"/><path d="M540.2 243.0 Q547.0 247.5 549.8 255.2"/><path d="M537.1 243.5 Q544.9 247.8 547.4 256.5"/><path d="M536.1 245.0 Q543.0 249.4 545.7 257.1"/><path d="M535.4 247.4 Q542.7 251.4 545.0 259.5"/><path d="M532.4 246.9 Q540.9 250.4 542.3 259.4"/><path d="M549.9 242.7 L547.4 241.3 L548.4 240.2 Z" fill="#000" stroke="none"/><path d="M553.1 248.4 L551.3 246.1 L552.7 245.5 Z" fill="#000" stroke="none"/><path d="M551.7 248.8 L549.6 246.8 L550.9 246.0 Z" fill="#000" stroke="none"/><path d="M546.6 245.6 L544.0 244.2 L545.1 243.1 Z" fill="#000" stroke="none"/><path d="M550.3 251.3 L548.3 249.2 L549.6 248.4 Z" fill="#000" stroke="none"/><path d="M545.8 248.0 L543.4 246.5 L544.5 245.5 Z" fill="#000" stroke="none"/><path d="M546.7 254.1 L544.8 251.9 L546.1 251.3 Z" fill="#000" stroke="none"/><path d="M541.1 249.2 L538.6 247.8 L539.7 246.7 Z" fill="#000" stroke="none"/><path d="M541.2 255.2 L539.2 253.1 L540.6 252.4 Z" fill="#000" stroke="none"/></g>
<g fill="#C9A29A" fill-opacity="0.55"><circle cx="621.5" cy="255.4" r="2.1"/><circle cx="621.9" cy="246.9" r="2.1"/><circle cx="625.1" cy="255.9" r="1.2"/><circle cx="624.6" cy="253.3" r="1.9"/><circle cx="631.5" cy="261.4" r="1.3"/><circle cx="625.9" cy="253.6" r="2.0"/><circle cx="614.6" cy="253.8" r="1.6"/><circle cx="607.3" cy="251.7" r="1.9"/><circle cx="606.0" cy="248.4" r="2.0"/><circle cx="622.7" cy="255.4" r="1.3"/><circle cx="607.3" cy="251.5" r="2.2"/><circle cx="619.7" cy="261.4" r="1.4"/><circle cx="615.6" cy="255.2" r="2.0"/><circle cx="607.5" cy="260.7" r="1.7"/><circle cx="604.9" cy="253.5" r="1.6"/><circle cx="622.9" cy="261.5" r="1.7"/><circle cx="623.3" cy="252.8" r="2.0"/><circle cx="606.9" cy="258.5" r="1.4"/><circle cx="620.4" cy="249.8" r="1.5"/><circle cx="608.6" cy="252.2" r="1.8"/><circle cx="618.6" cy="252.8" r="1.8"/><circle cx="627.6" cy="252.3" r="1.8"/><circle cx="617.5" cy="262.4" r="1.5"/><circle cx="623.5" cy="250.3" r="1.5"/><circle cx="624.5" cy="255.8" r="1.5"/><circle cx="605.8" cy="259.9" r="1.6"/></g>
<clipPath id="vc11"><path d="M617.0 262.9 C618.5 260.3 622.1 256.1 625.7 254.1 C629.4 252.1 634.5 251.5 638.9 250.8 C643.3 250.1 648.4 249.9 652.0 249.7 C655.6 249.5 659.5 248.6 660.8 249.7 C662.1 250.8 660.8 253.7 659.7 256.3 C658.6 258.9 656.6 262.2 654.2 265.1 C651.8 268.0 648.7 271.6 645.4 273.8 C642.1 276.0 637.8 277.3 634.5 278.2 C631.2 279.1 628.2 279.7 625.7 279.3 C623.2 278.9 620.7 277.6 619.2 276.0 C617.8 274.4 617.4 271.6 617.0 269.4 C616.6 267.2 615.5 265.4 617.0 262.9 Z"/></clipPath>
<g fill="#FF7F0E" fill-opacity="0.35"><circle cx="649.2" cy="262.2" r="1.5"/><circle cx="638.3" cy="255.5" r="1.6"/><circle cx="619.9" cy="258.0" r="1.7"/><circle cx="616.7" cy="271.2" r="1.5"/><circle cx="641.4" cy="258.9" r="1.1"/><circle cx="653.5" cy="251.0" r="1.6"/><circle cx="625.4" cy="254.4" r="1.4"/><circle cx="644.1" cy="251.8" r="1.6"/><circle cx="632.4" cy="279.7" r="1.6"/><circle cx="628.9" cy="276.5" r="1.6"/><circle cx="627.7" cy="256.1" r="1.0"/><circle cx="640.7" cy="256.2" r="1.2"/><circle cx="627.1" cy="252.1" r="1.4"/><circle cx="628.0" cy="257.3" r="1.2"/><circle cx="639.3" cy="277.1" r="1.1"/><circle cx="644.1" cy="266.0" r="1.6"/><circle cx="640.6" cy="269.9" r="1.7"/><circle cx="652.1" cy="256.4" r="1.0"/><circle cx="652.6" cy="255.5" r="1.4"/><circle cx="632.7" cy="272.2" r="1.8"/><circle cx="639.2" cy="266.7" r="1.3"/><circle cx="626.1" cy="279.6" r="1.1"/><circle cx="619.9" cy="266.7" r="1.1"/><circle cx="656.7" cy="249.8" r="1.5"/><circle cx="652.5" cy="265.2" r="1.1"/><circle cx="640.2" cy="253.9" r="1.4"/><circle cx="631.9" cy="264.5" r="1.2"/><circle cx="648.7" cy="261.7" r="1.4"/><circle cx="618.8" cy="264.1" r="1.4"/><circle cx="621.4" cy="257.8" r="1.3"/><circle cx="659.7" cy="248.4" r="1.4"/><circle cx="643.2" cy="270.7" r="1.5"/><circle cx="619.1" cy="265.1" r="1.8"/><circle cx="639.8" cy="267.2" r="1.6"/><circle cx="653.6" cy="247.7" r="1.1"/><circle cx="654.8" cy="261.4" r="1.3"/><circle cx="651.8" cy="256.5" r="1.5"/><circle cx="640.1" cy="259.0" r="1.5"/><circle cx="636.7" cy="255.6" r="1.7"/><circle cx="627.1" cy="263.8" r="1.6"/><circle cx="630.9" cy="255.7" r="1.5"/><circle cx="627.4" cy="265.3" r="1.2"/><circle cx="656.9" cy="253.9" r="1.2"/><circle cx="629.4" cy="258.8" r="1.6"/><circle cx="640.8" cy="250.3" r="1.6"/><circle cx="626.7" cy="255.0" r="1.3"/><circle cx="632.0" cy="278.3" r="1.8"/><circle cx="633.5" cy="252.3" r="1.6"/><circle cx="652.4" cy="259.1" r="1.6"/><circle cx="633.1" cy="257.3" r="1.5"/><circle cx="650.4" cy="263.7" r="1.7"/><circle cx="615.7" cy="264.5" r="1.3"/><circle cx="659.5" cy="259.2" r="1.7"/><circle cx="621.8" cy="271.7" r="1.8"/><circle cx="636.7" cy="260.2" r="1.1"/><circle cx="628.0" cy="279.2" r="1.1"/><circle cx="623.8" cy="259.4" r="1.0"/><circle cx="629.7" cy="253.8" r="1.1"/><circle cx="640.2" cy="265.9" r="1.5"/><circle cx="651.4" cy="265.4" r="1.8"/><circle cx="639.1" cy="253.1" r="1.3"/><circle cx="642.2" cy="257.6" r="1.6"/><circle cx="643.8" cy="276.1" r="1.4"/><circle cx="624.1" cy="279.4" r="1.8"/><circle cx="650.2" cy="254.8" r="1.0"/><circle cx="625.5" cy="274.6" r="1.4"/><circle cx="646.2" cy="263.3" r="1.1"/><circle cx="644.6" cy="260.1" r="1.4"/><circle cx="644.8" cy="258.4" r="1.3"/><circle cx="634.9" cy="265.8" r="1.4"/><circle cx="630.9" cy="278.4" r="1.2"/><circle cx="657.2" cy="253.2" r="1.4"/></g>
<path d="M617.0 262.9 C618.5 260.3 622.1 256.1 625.7 254.1 C629.4 252.1 634.5 251.5 638.9 250.8 C643.3 250.1 648.4 249.9 652.0 249.7 C655.6 249.5 659.5 248.6 660.8 249.7 C662.1 250.8 660.8 253.7 659.7 256.3 C658.6 258.9 656.6 262.2 654.2 265.1 C651.8 268.0 648.7 271.6 645.4 273.8 C642.1 276.0 637.8 277.3 634.5 278.2 C631.2 279.1 628.2 279.7 625.7 279.3 C623.2 278.9 620.7 277.6 619.2 276.0 C617.8 274.4 617.4 271.6 617.0 269.4 C616.6 267.2 615.5 265.4 617.0 262.9 Z" fill="#FF7F0E" stroke="none" stroke-width="1" fill-opacity="0.78"/>
<g clip-path="url(#vc11)" fill="none" stroke="#000" stroke-width="0.55"><path d="M613.5 263.7 Q638.5 259.0 654.0 238.8"/><path d="M612.6 266.7 Q634.9 261.4 649.7 243.9"/><path d="M613.0 269.7 Q636.6 263.2 653.2 245.1"/><path d="M619.5 269.0 Q641.8 267.6 653.1 248.4"/><path d="M624.5 268.9 Q642.1 265.9 652.8 251.6"/><path d="M622.6 273.9 Q643.8 268.9 657.8 252.3"/><path d="M627.3 273.5 Q646.9 273.8 655.5 256.2"/><path d="M628.7 276.4 Q651.3 273.9 663.8 254.9"/><path d="M625.2 281.5 Q646.4 278.5 658.6 260.9"/><path d="M624.2 285.4 Q646.3 283.5 658.1 264.6"/><path d="M631.1 257.9 L628.8 259.8 L628.2 258.4 Z" fill="#000" stroke="none"/><path d="M642.9 251.0 L641.3 253.4 L640.3 252.2 Z" fill="#000" stroke="none"/><path d="M632.7 261.6 L630.6 263.6 L629.9 262.2 Z" fill="#000" stroke="none"/><path d="M646.5 251.6 L644.9 254.0 L643.9 252.8 Z" fill="#000" stroke="none"/><path d="M635.4 265.2 L633.1 267.0 L632.5 265.6 Z" fill="#000" stroke="none"/><path d="M641.1 262.6 L639.1 264.7 L638.3 263.4 Z" fill="#000" stroke="none"/><path d="M642.2 265.9 L640.2 268.0 L639.4 266.7 Z" fill="#000" stroke="none"/><path d="M651.5 258.9 L649.9 261.3 L648.9 260.1 Z" fill="#000" stroke="none"/><path d="M656.4 263.8 L654.9 266.3 L653.9 265.1 Z" fill="#000" stroke="none"/><path d="M655.4 265.2 L654.1 267.8 L652.9 266.7 Z" fill="#000" stroke="none"/></g>
<clipPath id="vc12"><path d="M656.4 237.7 C658.0 237.0 660.4 237.9 661.9 238.8 C663.4 239.7 664.6 241.4 665.1 243.2 C665.6 245.0 666.6 248.4 665.1 249.7 C663.6 251.0 659.3 251.0 656.4 250.8 C653.5 250.6 649.8 249.3 647.6 248.6 C645.4 247.9 642.5 247.4 643.2 246.5 C643.9 245.6 649.8 244.7 652.0 243.2 C654.2 241.7 654.8 238.4 656.4 237.7 Z"/></clipPath>
<g fill="#2CA02C" fill-opacity="0.35"><circle cx="666.7" cy="246.4" r="1.1"/><circle cx="660.0" cy="236.7" r="1.7"/><circle cx="661.1" cy="249.1" r="1.7"/><circle cx="655.9" cy="251.8" r="1.5"/><circle cx="653.9" cy="242.3" r="1.3"/><circle cx="661.8" cy="239.6" r="1.5"/><circle cx="661.3" cy="247.6" r="1.4"/><circle cx="646.1" cy="246.8" r="1.5"/><circle cx="665.6" cy="241.4" r="1.7"/><circle cx="664.8" cy="240.7" r="1.8"/><circle cx="657.2" cy="252.2" r="1.6"/><circle cx="654.7" cy="244.0" r="1.0"/><circle cx="663.5" cy="244.9" r="1.4"/><circle cx="660.5" cy="240.0" r="1.2"/><circle cx="656.2" cy="239.8" r="1.3"/></g>
<path d="M656.4 237.7 C658.0 237.0 660.4 237.9 661.9 238.8 C663.4 239.7 664.6 241.4 665.1 243.2 C665.6 245.0 666.6 248.4 665.1 249.7 C663.6 251.0 659.3 251.0 656.4 250.8 C653.5 250.6 649.8 249.3 647.6 248.6 C645.4 247.9 642.5 247.4 643.2 246.5 C643.9 245.6 649.8 244.7 652.0 243.2 C654.2 241.7 654.8 238.4 656.4 237.7 Z" fill="#2CA02C" stroke="none" stroke-width="1" fill-opacity="0.78"/>
<g clip-path="url(#vc12)" fill="none" stroke="#000" stroke-width="0.55"><path d="M643.8 247.5 Q649.8 241.6 651.0 233.3"/><path d="M647.4 246.8 Q652.7 240.9 654.3 233.2"/><path d="M650.0 248.3 Q655.3 242.6 656.8 235.0"/><path d="M650.4 251.8 Q655.8 245.1 658.0 236.9"/><path d="M654.1 251.3 Q659.3 245.5 660.9 238.0"/><path d="M654.9 254.4 Q661.1 247.4 663.1 238.3"/><path d="M658.4 254.7 Q663.9 249.0 665.3 241.1"/><path d="M660.3 255.4 Q665.6 248.3 668.2 239.9"/><path d="M648.8 240.7 L648.1 243.5 L646.7 242.7 Z" fill="#000" stroke="none"/><path d="M650.5 236.1 L650.3 239.0 L648.9 238.5 Z" fill="#000" stroke="none"/><path d="M655.0 240.8 L654.4 243.7 L653.1 243.0 Z" fill="#000" stroke="none"/><path d="M655.3 244.3 L654.6 247.1 L653.3 246.3 Z" fill="#000" stroke="none"/><path d="M659.9 247.4 L659.1 250.2 L657.8 249.4 Z" fill="#000" stroke="none"/><path d="M664.4 244.8 L664.1 247.7 L662.7 247.1 Z" fill="#000" stroke="none"/><path d="M664.7 248.5 L664.0 251.3 L662.6 250.6 Z" fill="#000" stroke="none"/></g>
<clipPath id="vc13"><path d="M587.0 266.0 C588.3 263.3 591.8 262.7 595.0 262.0 C598.2 261.3 602.7 261.5 606.0 262.0 C609.3 262.5 613.0 263.3 615.0 265.0 C617.0 266.7 617.8 269.5 618.0 272.0 C618.2 274.5 617.3 277.7 616.0 280.0 C614.7 282.3 612.7 284.8 610.0 286.0 C607.3 287.2 603.2 287.7 600.0 287.5 C596.8 287.3 593.2 286.6 591.0 285.0 C588.8 283.4 587.7 281.2 587.0 278.0 C586.3 274.8 585.7 268.7 587.0 266.0 Z"/></clipPath>
<g fill="#D62728" fill-opacity="0.35"><circle cx="614.8" cy="274.4" r="1.5"/><circle cx="589.2" cy="269.0" r="1.2"/><circle cx="615.3" cy="275.0" r="1.3"/><circle cx="599.0" cy="286.2" r="1.2"/><circle cx="612.7" cy="280.9" r="1.4"/><circle cx="597.8" cy="272.9" r="1.4"/><circle cx="596.0" cy="278.4" r="1.3"/><circle cx="595.6" cy="282.8" r="1.4"/><circle cx="601.6" cy="285.9" r="1.4"/><circle cx="598.2" cy="286.5" r="1.8"/><circle cx="612.5" cy="271.8" r="1.5"/><circle cx="610.9" cy="268.7" r="1.6"/><circle cx="608.4" cy="272.8" r="1.5"/><circle cx="592.9" cy="282.7" r="1.4"/><circle cx="599.6" cy="282.6" r="1.2"/><circle cx="606.5" cy="266.5" r="1.3"/><circle cx="605.4" cy="284.2" r="1.7"/><circle cx="598.7" cy="277.4" r="1.6"/><circle cx="611.7" cy="282.0" r="1.5"/><circle cx="593.8" cy="280.8" r="1.4"/><circle cx="589.8" cy="283.0" r="1.3"/><circle cx="594.6" cy="276.7" r="1.4"/><circle cx="602.3" cy="264.9" r="1.5"/><circle cx="616.3" cy="279.6" r="1.2"/><circle cx="613.2" cy="272.4" r="1.1"/><circle cx="606.2" cy="273.6" r="1.4"/><circle cx="618.4" cy="270.4" r="1.6"/><circle cx="587.6" cy="268.9" r="1.6"/><circle cx="609.2" cy="284.4" r="1.3"/><circle cx="594.6" cy="270.6" r="1.4"/><circle cx="585.8" cy="271.0" r="1.5"/><circle cx="590.2" cy="269.2" r="1.7"/><circle cx="617.7" cy="267.4" r="1.1"/><circle cx="612.8" cy="281.8" r="1.2"/><circle cx="602.1" cy="280.5" r="1.0"/><circle cx="592.4" cy="280.8" r="1.6"/><circle cx="596.8" cy="285.9" r="1.2"/><circle cx="601.6" cy="269.3" r="1.4"/><circle cx="613.4" cy="276.8" r="1.5"/><circle cx="592.8" cy="278.3" r="1.1"/><circle cx="618.7" cy="270.1" r="1.4"/><circle cx="600.1" cy="284.4" r="1.7"/><circle cx="608.7" cy="265.1" r="1.3"/></g>
<path d="M587.0 266.0 C588.3 263.3 591.8 262.7 595.0 262.0 C598.2 261.3 602.7 261.5 606.0 262.0 C609.3 262.5 613.0 263.3 615.0 265.0 C617.0 266.7 617.8 269.5 618.0 272.0 C618.2 274.5 617.3 277.7 616.0 280.0 C614.7 282.3 612.7 284.8 610.0 286.0 C607.3 287.2 603.2 287.7 600.0 287.5 C596.8 287.3 593.2 286.6 591.0 285.0 C588.8 283.4 587.7 281.2 587.0 278.0 C586.3 274.8 585.7 268.7 587.0 266.0 Z" fill="#D62728" stroke="none" stroke-width="1" fill-opacity="0.78"/>
<g clip-path="url(#vc13)" fill="none" stroke="#000" stroke-width="0.55"><path d="M592.3 263.0 Q603.5 259.5 613.8 265.2"/><path d="M585.3 267.9 Q600.0 263.5 613.5 270.7"/><path d="M589.0 273.7 Q601.3 270.9 612.8 276.1"/><path d="M589.0 278.4 Q601.8 274.7 613.6 280.9"/><path d="M585.2 283.3 Q601.2 280.1 616.3 286.4"/><path d="M608.9 263.0 L606.0 263.0 L606.4 261.5 Z" fill="#000" stroke="none"/><path d="M598.8 266.3 L596.0 267.0 L596.1 265.5 Z" fill="#000" stroke="none"/><path d="M605.9 267.6 L603.0 267.7 L603.3 266.2 Z" fill="#000" stroke="none"/><path d="M606.2 273.8 L603.3 274.0 L603.6 272.5 Z" fill="#000" stroke="none"/><path d="M608.1 278.5 L605.2 278.5 L605.6 277.0 Z" fill="#000" stroke="none"/><path d="M609.0 283.9 L606.1 284.0 L606.4 282.5 Z" fill="#000" stroke="none"/></g>
<clipPath id="vc14"><path d="M583.0 256.0 C583.7 254.8 585.7 252.8 588.0 252.0 C590.3 251.2 594.8 250.5 597.0 251.0 C599.2 251.5 600.7 253.6 601.0 255.0 C601.3 256.4 600.8 258.7 599.0 259.5 C597.2 260.3 592.5 260.0 590.0 260.0 C587.5 260.0 585.2 260.2 584.0 259.5 C582.8 258.8 582.3 257.2 583.0 256.0 Z"/></clipPath>
<g fill="#D62728" fill-opacity="0.35"><circle cx="591.3" cy="255.7" r="1.2"/><circle cx="600.5" cy="258.8" r="1.5"/><circle cx="595.5" cy="258.0" r="1.4"/><circle cx="590.1" cy="254.1" r="1.4"/><circle cx="591.3" cy="255.9" r="1.4"/><circle cx="598.3" cy="260.6" r="1.2"/><circle cx="594.6" cy="252.7" r="1.2"/><circle cx="596.0" cy="258.0" r="1.6"/><circle cx="591.0" cy="254.2" r="1.4"/></g>
<path d="M583.0 256.0 C583.7 254.8 585.7 252.8 588.0 252.0 C590.3 251.2 594.8 250.5 597.0 251.0 C599.2 251.5 600.7 253.6 601.0 255.0 C601.3 256.4 600.8 258.7 599.0 259.5 C597.2 260.3 592.5 260.0 590.0 260.0 C587.5 260.0 585.2 260.2 584.0 259.5 C582.8 258.8 582.3 257.2 583.0 256.0 Z" fill="#D62728" stroke="none" stroke-width="1" fill-opacity="0.85"/>
<g clip-path="url(#vc14)" fill="none" stroke="#000" stroke-width="0.55"><path d="M585.1 252.5 Q592.2 249.6 599.2 252.5"/><path d="M584.9 254.2 Q592.8 248.8 600.7 254.2"/><path d="M583.9 256.5 Q593.2 252.3 602.5 256.5"/><path d="M581.8 258.9 Q591.3 253.8 600.9 258.9"/><path d="M591.5 251.0 L588.9 252.1 L588.7 250.6 Z" fill="#000" stroke="none"/><path d="M598.5 252.2 L595.6 252.1 L596.0 250.7 Z" fill="#000" stroke="none"/><path d="M591.3 251.5 L588.8 253.0 L588.4 251.5 Z" fill="#000" stroke="none"/><path d="M599.6 253.5 L596.8 253.0 L597.5 251.6 Z" fill="#000" stroke="none"/><path d="M591.6 256.3 L588.9 257.3 L588.8 255.7 Z" fill="#000" stroke="none"/><path d="M596.5 257.1 L593.6 257.3 L593.9 255.7 Z" fill="#000" stroke="none"/></g>
<clipPath id="vc15"><path d="M469.5 310.3 C470.4 309.2 473.3 307.6 476.0 307.0 C478.7 306.4 483.7 306.3 485.9 307.0 C488.1 307.7 489.2 310.3 489.2 311.4 C489.2 312.5 488.1 313.2 485.9 313.6 C483.7 314.0 478.6 313.6 476.0 313.6 C473.4 313.6 471.7 314.2 470.6 313.6 C469.5 313.1 468.6 311.4 469.5 310.3 Z"/></clipPath>
<g fill="#1F77B4" fill-opacity="0.35"><circle cx="475.5" cy="311.1" r="1.5"/><circle cx="483.1" cy="307.3" r="1.1"/><circle cx="485.6" cy="308.5" r="1.8"/><circle cx="480.7" cy="306.1" r="1.5"/><circle cx="473.7" cy="313.6" r="1.6"/><circle cx="485.5" cy="305.6" r="1.0"/><circle cx="486.4" cy="306.5" r="1.2"/></g>
<path d="M469.5 310.3 C470.4 309.2 473.3 307.6 476.0 307.0 C478.7 306.4 483.7 306.3 485.9 307.0 C488.1 307.7 489.2 310.3 489.2 311.4 C489.2 312.5 488.1 313.2 485.9 313.6 C483.7 314.0 478.6 313.6 476.0 313.6 C473.4 313.6 471.7 314.2 470.6 313.6 C469.5 313.1 468.6 311.4 469.5 310.3 Z" fill="#1F77B4" stroke="none" stroke-width="1" fill-opacity="0.95"/>
<g clip-path="url(#vc15)" fill="none" stroke="#000" stroke-width="0.55"><path d="M468.3 308.3 Q478.6 305.5 488.9 308.3"/><path d="M470.5 312.1 Q478.6 310.6 486.6 312.1"/><path d="M484.2 307.3 L481.4 307.7 L481.5 306.2 Z" fill="#000" stroke="none"/><path d="M483.7 311.6 L480.9 312.1 L481.0 310.6 Z" fill="#000" stroke="none"/></g>
<clipPath id="vc16"><path d="M368.8 354.1 C369.3 353.2 371.6 356.1 374.4 356.5 C377.2 356.9 383.0 355.9 385.5 356.8 C388.0 357.7 387.4 359.8 389.4 362.0 C391.3 364.2 394.8 368.1 397.1 369.9 C399.5 371.6 401.4 372.1 403.5 372.5 C405.6 372.9 409.1 372.0 410.0 372.5 C410.8 373.0 410.0 374.8 408.7 375.5 C407.4 376.2 404.4 376.5 402.2 376.8 C400.1 377.1 398.4 377.8 395.8 377.5 C393.3 377.2 389.6 376.7 386.8 375.2 C384.0 373.7 381.7 370.8 379.1 368.6 C376.5 366.4 373.1 364.4 371.3 362.0 C369.6 359.6 368.3 355.0 368.8 354.1 Z"/></clipPath>
<g fill="#9467BD" fill-opacity="0.35"><circle cx="377.6" cy="359.7" r="1.7"/><circle cx="375.2" cy="358.6" r="1.2"/><circle cx="404.9" cy="371.3" r="1.8"/><circle cx="397.0" cy="369.3" r="1.3"/><circle cx="384.1" cy="366.6" r="1.0"/><circle cx="383.6" cy="361.1" r="1.1"/><circle cx="393.6" cy="377.2" r="1.1"/><circle cx="389.4" cy="365.8" r="1.6"/><circle cx="368.3" cy="357.3" r="1.4"/><circle cx="400.5" cy="373.0" r="1.6"/><circle cx="373.5" cy="356.5" r="1.0"/><circle cx="394.0" cy="377.2" r="1.0"/><circle cx="371.9" cy="360.0" r="1.2"/><circle cx="371.9" cy="357.6" r="1.5"/><circle cx="374.4" cy="356.7" r="1.4"/><circle cx="383.8" cy="356.2" r="1.5"/><circle cx="389.7" cy="362.7" r="1.4"/><circle cx="375.5" cy="361.3" r="1.0"/><circle cx="384.5" cy="366.9" r="1.8"/><circle cx="372.8" cy="362.6" r="1.6"/><circle cx="383.6" cy="371.5" r="1.7"/><circle cx="402.2" cy="371.3" r="1.7"/><circle cx="375.2" cy="362.9" r="1.7"/><circle cx="394.1" cy="378.4" r="1.7"/><circle cx="392.9" cy="376.5" r="1.8"/><circle cx="385.0" cy="367.6" r="1.1"/><circle cx="381.4" cy="368.7" r="1.2"/><circle cx="387.0" cy="375.6" r="1.8"/><circle cx="378.7" cy="362.1" r="1.6"/><circle cx="375.8" cy="367.4" r="1.3"/><circle cx="388.5" cy="371.9" r="1.7"/><circle cx="381.1" cy="363.0" r="1.3"/><circle cx="402.2" cy="378.6" r="1.2"/><circle cx="392.6" cy="370.6" r="1.8"/><circle cx="369.4" cy="354.8" r="1.0"/><circle cx="387.5" cy="374.7" r="1.5"/><circle cx="391.5" cy="375.6" r="1.3"/><circle cx="368.1" cy="356.5" r="1.1"/><circle cx="394.1" cy="374.7" r="1.3"/><circle cx="399.7" cy="376.3" r="1.4"/><circle cx="393.1" cy="375.7" r="1.5"/><circle cx="388.3" cy="359.3" r="1.5"/><circle cx="389.8" cy="366.1" r="1.0"/><circle cx="397.6" cy="379.2" r="1.6"/><circle cx="379.9" cy="364.6" r="1.4"/><circle cx="384.8" cy="365.2" r="1.3"/><circle cx="373.5" cy="363.7" r="1.5"/><circle cx="380.1" cy="362.2" r="1.7"/><circle cx="372.8" cy="355.8" r="1.7"/><circle cx="386.9" cy="368.7" r="1.0"/><circle cx="407.5" cy="373.8" r="1.2"/><circle cx="388.0" cy="360.4" r="1.7"/><circle cx="381.3" cy="371.9" r="1.7"/></g>
<path d="M368.8 354.1 C369.3 353.2 371.6 356.1 374.4 356.5 C377.2 356.9 383.0 355.9 385.5 356.8 C388.0 357.7 387.4 359.8 389.4 362.0 C391.3 364.2 394.8 368.1 397.1 369.9 C399.5 371.6 401.4 372.1 403.5 372.5 C405.6 372.9 409.1 372.0 410.0 372.5 C410.8 373.0 410.0 374.8 408.7 375.5 C407.4 376.2 404.4 376.5 402.2 376.8 C400.1 377.1 398.4 377.8 395.8 377.5 C393.3 377.2 389.6 376.7 386.8 375.2 C384.0 373.7 381.7 370.8 379.1 368.6 C376.5 366.4 373.1 364.4 371.3 362.0 C369.6 359.6 368.3 355.0 368.8 354.1 Z" fill="#9467BD" stroke="none" stroke-width="1" fill-opacity="0.75"/>
<g clip-path="url(#vc16)" fill="none" stroke="#000" stroke-width="0.55"><path d="M375.9 350.3 Q394.3 360.3 410.3 373.9"/><path d="M371.2 350.4 Q388.5 359.4 403.2 372.3"/><path d="M369.2 352.3 Q389.3 364.2 407.7 378.6"/><path d="M368.4 354.7 Q384.5 363.1 398.1 375.1"/><path d="M370.8 359.8 Q385.6 366.8 397.4 378.1"/><path d="M369.9 361.9 Q386.5 371.1 401.0 383.2"/><path d="M394.6 361.8 L391.8 360.9 L392.7 359.6 Z" fill="#000" stroke="none"/><path d="M399.6 372.4 L396.9 371.4 L397.8 370.1 Z" fill="#000" stroke="none"/><path d="M382.9 366.5 L380.1 365.7 L380.9 364.4 Z" fill="#000" stroke="none"/><path d="M393.2 374.3 L390.6 373.1 L391.6 371.9 Z" fill="#000" stroke="none"/></g>
<clipPath id="vc17"><path d="M368.8 347.6 C369.7 346.2 372.3 346.1 374.4 345.8 C376.5 345.5 379.2 345.4 381.2 346.0 C383.3 346.6 386.1 348.1 386.8 349.5 C387.6 350.9 386.9 353.4 385.7 354.5 C384.4 355.6 381.2 355.5 379.3 356.0 C377.4 356.5 375.7 357.0 374.4 357.5 C373.1 358.0 372.3 359.6 371.3 359.0 C370.4 358.4 369.2 355.9 368.8 354.0 C368.4 352.1 367.9 349.0 368.8 347.6 Z"/></clipPath>
<g fill="#E377C2" fill-opacity="0.35"><circle cx="375.3" cy="354.9" r="1.2"/><circle cx="373.7" cy="345.5" r="1.6"/><circle cx="387.1" cy="349.0" r="1.3"/><circle cx="369.4" cy="346.2" r="1.5"/><circle cx="372.4" cy="356.9" r="1.2"/><circle cx="386.1" cy="349.9" r="1.4"/><circle cx="371.2" cy="348.8" r="1.3"/><circle cx="372.9" cy="356.3" r="1.0"/><circle cx="380.9" cy="357.6" r="1.3"/><circle cx="371.0" cy="345.9" r="1.1"/><circle cx="384.3" cy="354.2" r="1.0"/><circle cx="376.8" cy="354.1" r="1.3"/><circle cx="367.6" cy="351.0" r="1.3"/></g>
<path d="M368.8 347.6 C369.7 346.2 372.3 346.1 374.4 345.8 C376.5 345.5 379.2 345.4 381.2 346.0 C383.3 346.6 386.1 348.1 386.8 349.5 C387.6 350.9 386.9 353.4 385.7 354.5 C384.4 355.6 381.2 355.5 379.3 356.0 C377.4 356.5 375.7 357.0 374.4 357.5 C373.1 358.0 372.3 359.6 371.3 359.0 C370.4 358.4 369.2 355.9 368.8 354.0 C368.4 352.1 367.9 349.0 368.8 347.6 Z" fill="#E377C2" stroke="none" stroke-width="1" fill-opacity="0.75"/>
<g clip-path="url(#vc17)" fill="none" stroke="#000" stroke-width="0.55"><path d="M377.5 340.0 Q385.6 343.0 386.7 351.6"/><path d="M375.5 340.2 Q384.1 345.6 387.4 355.2"/><path d="M375.4 343.7 Q382.6 347.1 384.3 354.9"/><path d="M373.5 343.9 Q381.3 347.3 382.9 355.7"/><path d="M371.0 343.6 Q380.6 348.1 382.8 358.5"/><path d="M371.1 347.2 Q379.4 350.5 380.7 359.3"/><path d="M367.4 346.5 Q376.5 351.1 379.0 361.0"/><path d="M367.3 348.6 Q375.7 352.8 377.8 362.0"/><path d="M364.3 348.6 Q372.7 352.2 374.2 361.1"/><path d="M385.9 347.9 L384.0 345.8 L385.4 345.1 Z" fill="#000" stroke="none"/><path d="M381.8 348.8 L379.3 347.2 L380.5 346.2 Z" fill="#000" stroke="none"/><path d="M383.8 353.1 L382.0 350.8 L383.5 350.2 Z" fill="#000" stroke="none"/><path d="M382.6 354.0 L380.9 351.7 L382.3 351.2 Z" fill="#000" stroke="none"/><path d="M378.0 348.7 L375.5 347.3 L376.6 346.2 Z" fill="#000" stroke="none"/><path d="M378.2 352.5 L375.8 350.9 L377.0 349.9 Z" fill="#000" stroke="none"/><path d="M379.7 355.1 L377.6 353.0 L379.0 352.3 Z" fill="#000" stroke="none"/><path d="M374.9 352.4 L372.4 350.9 L373.5 349.8 Z" fill="#000" stroke="none"/><path d="M378.2 358.4 L376.3 356.1 L377.8 355.5 Z" fill="#000" stroke="none"/><path d="M373.1 352.8 L370.5 351.5 L371.6 350.4 Z" fill="#000" stroke="none"/><path d="M376.5 357.9 L374.5 355.8 L375.8 355.1 Z" fill="#000" stroke="none"/></g>
<clipPath id="vc18"><path d="M432.3 356.3 C433.0 354.7 439.9 353.6 443.2 353.0 C446.5 352.4 449.4 352.4 452.0 353.0 C454.6 353.6 457.8 354.7 458.5 356.3 C459.2 357.9 458.1 361.4 456.3 362.9 C454.5 364.4 450.5 365.1 447.6 365.1 C444.7 365.1 441.4 364.4 438.8 362.9 C436.2 361.4 431.6 357.9 432.3 356.3 Z"/></clipPath>
<g fill="#8C564B" fill-opacity="0.35"><circle cx="435.3" cy="354.7" r="1.7"/><circle cx="457.8" cy="358.6" r="1.1"/><circle cx="440.9" cy="354.9" r="1.5"/><circle cx="452.0" cy="363.5" r="1.3"/><circle cx="444.1" cy="358.5" r="1.3"/><circle cx="444.0" cy="362.0" r="1.6"/><circle cx="440.2" cy="360.1" r="1.1"/><circle cx="431.7" cy="357.2" r="1.3"/><circle cx="439.9" cy="356.9" r="1.2"/><circle cx="455.6" cy="357.1" r="1.1"/><circle cx="453.4" cy="354.7" r="1.6"/><circle cx="454.2" cy="352.3" r="1.2"/><circle cx="439.8" cy="363.4" r="1.6"/><circle cx="439.4" cy="358.3" r="1.3"/><circle cx="444.5" cy="363.8" r="1.2"/><circle cx="448.5" cy="366.4" r="1.8"/><circle cx="434.0" cy="355.9" r="1.4"/></g>
<path d="M432.3 356.3 C433.0 354.7 439.9 353.6 443.2 353.0 C446.5 352.4 449.4 352.4 452.0 353.0 C454.6 353.6 457.8 354.7 458.5 356.3 C459.2 357.9 458.1 361.4 456.3 362.9 C454.5 364.4 450.5 365.1 447.6 365.1 C444.7 365.1 441.4 364.4 438.8 362.9 C436.2 361.4 431.6 357.9 432.3 356.3 Z" fill="#8C564B" stroke="none" stroke-width="1" fill-opacity="0.75"/>
<g clip-path="url(#vc18)" fill="none" stroke="#000" stroke-width="0.55"><path d="M431.6 354.4 Q443.1 351.4 454.6 354.4"/><path d="M436.5 356.6 Q446.5 353.7 456.6 356.6"/><path d="M430.7 358.8 Q445.4 356.6 460.2 358.8"/><path d="M434.7 361.1 Q446.5 358.7 458.3 361.1"/><path d="M431.1 363.7 Q445.7 361.4 460.3 363.7"/><path d="M442.4 352.9 L439.6 353.8 L439.6 352.2 Z" fill="#000" stroke="none"/><path d="M448.3 353.2 L445.5 353.7 L445.6 352.2 Z" fill="#000" stroke="none"/><path d="M452.0 355.5 L449.2 356.0 L449.4 354.4 Z" fill="#000" stroke="none"/><path d="M453.7 358.1 L450.9 358.6 L451.0 357.1 Z" fill="#000" stroke="none"/><path d="M445.1 359.9 L442.3 360.8 L442.3 359.3 Z" fill="#000" stroke="none"/><path d="M452.8 360.2 L450.0 360.8 L450.1 359.2 Z" fill="#000" stroke="none"/><path d="M441.4 362.7 L438.7 363.6 L438.6 362.1 Z" fill="#000" stroke="none"/><path d="M456.7 363.2 L453.9 363.7 L454.0 362.2 Z" fill="#000" stroke="none"/></g>
<clipPath id="vc19"><path d="M452.0 360.7 C453.4 358.9 457.1 357.2 460.7 356.3 C464.3 355.4 469.5 355.2 473.9 355.2 C478.3 355.2 483.4 355.9 487.0 356.3 C490.6 356.7 495.1 355.9 495.8 357.4 C496.5 358.9 493.6 362.7 491.4 365.1 C489.2 367.5 485.9 369.6 482.6 371.6 C479.3 373.6 475.4 376.0 471.7 377.1 C468.0 378.2 463.6 378.8 460.7 378.2 C457.8 377.6 455.6 375.6 454.2 373.8 C452.8 372.0 452.4 369.5 452.0 367.3 C451.6 365.1 450.6 362.5 452.0 360.7 Z"/></clipPath>
<g fill="#FF7F0E" fill-opacity="0.35"><circle cx="475.1" cy="353.8" r="1.1"/><circle cx="487.5" cy="368.2" r="1.4"/><circle cx="466.4" cy="373.5" r="1.4"/><circle cx="482.2" cy="365.7" r="1.4"/><circle cx="477.7" cy="367.4" r="1.7"/><circle cx="485.9" cy="369.8" r="1.5"/><circle cx="472.7" cy="363.3" r="1.8"/><circle cx="457.9" cy="368.4" r="1.1"/><circle cx="486.0" cy="366.4" r="1.6"/><circle cx="464.7" cy="377.1" r="1.0"/><circle cx="460.7" cy="373.0" r="1.7"/><circle cx="487.2" cy="360.6" r="1.1"/><circle cx="475.2" cy="354.1" r="1.4"/><circle cx="466.2" cy="356.0" r="1.7"/><circle cx="494.7" cy="356.6" r="1.4"/><circle cx="463.1" cy="371.4" r="1.1"/><circle cx="465.9" cy="364.3" r="1.4"/><circle cx="470.8" cy="369.3" r="1.8"/><circle cx="489.6" cy="359.4" r="1.2"/><circle cx="472.0" cy="370.6" r="1.5"/><circle cx="454.3" cy="358.9" r="1.6"/><circle cx="461.3" cy="359.7" r="1.6"/><circle cx="492.9" cy="360.3" r="1.1"/><circle cx="484.3" cy="366.0" r="1.6"/><circle cx="486.7" cy="367.0" r="1.2"/><circle cx="475.1" cy="371.1" r="1.3"/><circle cx="480.6" cy="357.2" r="1.8"/><circle cx="460.1" cy="359.3" r="1.8"/><circle cx="489.3" cy="368.5" r="1.1"/><circle cx="452.9" cy="372.9" r="1.4"/><circle cx="471.4" cy="371.4" r="1.5"/><circle cx="483.2" cy="363.1" r="1.5"/><circle cx="472.1" cy="358.7" r="1.4"/><circle cx="482.5" cy="368.0" r="1.1"/><circle cx="450.2" cy="363.9" r="1.2"/><circle cx="460.8" cy="359.2" r="1.3"/><circle cx="485.0" cy="369.8" r="1.3"/><circle cx="466.2" cy="355.1" r="1.5"/><circle cx="452.6" cy="371.6" r="1.7"/><circle cx="481.9" cy="369.6" r="1.6"/><circle cx="479.3" cy="363.0" r="1.0"/><circle cx="492.9" cy="363.9" r="1.0"/><circle cx="465.6" cy="362.7" r="1.8"/><circle cx="468.9" cy="360.6" r="1.6"/><circle cx="454.6" cy="361.4" r="1.3"/><circle cx="455.9" cy="369.3" r="1.3"/><circle cx="488.3" cy="362.4" r="1.8"/><circle cx="459.4" cy="367.5" r="1.2"/><circle cx="450.7" cy="361.3" r="1.7"/><circle cx="463.9" cy="366.4" r="1.4"/><circle cx="462.7" cy="367.6" r="1.1"/><circle cx="466.7" cy="360.9" r="1.7"/><circle cx="485.4" cy="354.7" r="1.1"/><circle cx="457.5" cy="368.5" r="1.5"/><circle cx="478.9" cy="356.8" r="1.8"/></g>
<path d="M452.0 360.7 C453.4 358.9 457.1 357.2 460.7 356.3 C464.3 355.4 469.5 355.2 473.9 355.2 C478.3 355.2 483.4 355.9 487.0 356.3 C490.6 356.7 495.1 355.9 495.8 357.4 C496.5 358.9 493.6 362.7 491.4 365.1 C489.2 367.5 485.9 369.6 482.6 371.6 C479.3 373.6 475.4 376.0 471.7 377.1 C468.0 378.2 463.6 378.8 460.7 378.2 C457.8 377.6 455.6 375.6 454.2 373.8 C452.8 372.0 452.4 369.5 452.0 367.3 C451.6 365.1 450.6 362.5 452.0 360.7 Z" fill="#FF7F0E" stroke="none" stroke-width="1" fill-opacity="0.78"/>
<g clip-path="url(#vc19)" fill="none" stroke="#000" stroke-width="0.55"><path d="M449.2 363.9 Q467.3 360.5 478.5 346.0"/><path d="M453.7 363.9 Q473.9 360.8 485.9 344.2"/><path d="M457.0 364.8 Q477.1 361.3 489.4 345.0"/><path d="M455.7 369.0 Q478.2 365.2 491.7 346.9"/><path d="M452.2 373.8 Q471.9 367.6 486.4 352.9"/><path d="M460.0 372.3 Q480.0 369.9 491.3 353.1"/><path d="M462.9 373.1 Q482.0 371.3 492.2 355.1"/><path d="M465.3 375.0 Q481.0 371.3 491.5 359.0"/><path d="M460.3 381.3 Q481.3 375.2 496.2 359.2"/><path d="M467.5 379.3 Q486.6 377.8 496.6 361.4"/><path d="M461.3 360.1 L459.0 361.9 L458.4 360.5 Z" fill="#000" stroke="none"/><path d="M474.4 350.7 L472.9 353.2 L471.9 352.1 Z" fill="#000" stroke="none"/><path d="M481.6 353.4 L479.9 355.8 L478.9 354.6 Z" fill="#000" stroke="none"/><path d="M487.8 351.7 L486.4 354.3 L485.3 353.2 Z" fill="#000" stroke="none"/><path d="M482.6 356.6 L481.0 359.0 L480.0 357.8 Z" fill="#000" stroke="none"/><path d="M476.5 367.1 L474.4 369.1 L473.7 367.7 Z" fill="#000" stroke="none"/><path d="M485.7 360.0 L484.2 362.5 L483.2 361.4 Z" fill="#000" stroke="none"/><path d="M477.3 369.1 L475.1 371.0 L474.4 369.6 Z" fill="#000" stroke="none"/><path d="M474.8 375.5 L472.6 377.5 L472.0 376.1 Z" fill="#000" stroke="none"/><path d="M486.4 368.2 L484.7 370.4 L483.7 369.2 Z" fill="#000" stroke="none"/><path d="M482.8 374.9 L480.7 376.8 L480.0 375.5 Z" fill="#000" stroke="none"/></g>
<clipPath id="vc20"><path d="M487.0 339.9 C488.6 339.0 490.9 339.0 492.5 339.9 C494.1 340.8 496.2 343.2 496.9 345.4 C497.6 347.6 497.8 351.0 496.9 353.0 C496.0 355.0 493.8 357.2 491.4 357.4 C489.0 357.6 484.8 355.4 482.6 354.1 C480.4 352.8 478.2 351.1 478.2 349.7 C478.2 348.2 481.1 347.0 482.6 345.4 C484.1 343.8 485.4 340.8 487.0 339.9 Z"/></clipPath>
<g fill="#2CA02C" fill-opacity="0.35"><circle cx="492.1" cy="342.9" r="1.5"/><circle cx="495.1" cy="353.5" r="1.2"/><circle cx="488.5" cy="339.0" r="1.3"/><circle cx="496.2" cy="345.5" r="1.1"/><circle cx="484.3" cy="342.3" r="1.3"/><circle cx="490.2" cy="352.0" r="1.1"/><circle cx="488.3" cy="339.1" r="1.4"/><circle cx="494.5" cy="343.5" r="1.7"/><circle cx="481.7" cy="346.4" r="1.6"/><circle cx="488.4" cy="353.3" r="1.8"/><circle cx="492.0" cy="342.7" r="1.2"/><circle cx="487.1" cy="343.9" r="1.4"/><circle cx="480.1" cy="353.5" r="1.8"/><circle cx="494.4" cy="350.9" r="1.4"/><circle cx="478.8" cy="351.7" r="1.1"/><circle cx="479.2" cy="350.7" r="1.5"/><circle cx="494.4" cy="355.7" r="1.1"/><circle cx="487.4" cy="338.5" r="1.7"/></g>
<path d="M487.0 339.9 C488.6 339.0 490.9 339.0 492.5 339.9 C494.1 340.8 496.2 343.2 496.9 345.4 C497.6 347.6 497.8 351.0 496.9 353.0 C496.0 355.0 493.8 357.2 491.4 357.4 C489.0 357.6 484.8 355.4 482.6 354.1 C480.4 352.8 478.2 351.1 478.2 349.7 C478.2 348.2 481.1 347.0 482.6 345.4 C484.1 343.8 485.4 340.8 487.0 339.9 Z" fill="#2CA02C" stroke="none" stroke-width="1" fill-opacity="0.78"/>
<g clip-path="url(#vc20)" fill="none" stroke="#000" stroke-width="0.55"><path d="M478.7 352.0 Q479.7 344.0 485.6 338.5"/><path d="M481.1 351.9 Q481.9 343.4 488.2 337.8"/><path d="M484.1 352.9 Q485.4 346.0 490.2 340.9"/><path d="M484.8 356.8 Q487.4 348.0 493.0 340.6"/><path d="M488.7 355.3 Q490.2 347.4 495.7 341.5"/><path d="M489.8 357.8 Q492.5 348.6 498.4 340.9"/><path d="M493.2 357.6 Q495.0 350.1 500.0 344.2"/><path d="M481.3 343.8 L480.8 346.6 L479.4 345.9 Z" fill="#000" stroke="none"/><path d="M484.5 339.5 L483.3 342.2 L482.1 341.2 Z" fill="#000" stroke="none"/><path d="M487.9 348.7 L487.5 351.6 L486.1 350.9 Z" fill="#000" stroke="none"/><path d="M494.6 342.6 L493.6 345.3 L492.3 344.4 Z" fill="#000" stroke="none"/><path d="M492.4 350.7 L492.0 353.6 L490.6 353.0 Z" fill="#000" stroke="none"/></g>
<clipPath id="vc21"><path d="M419.0 370.0 C420.3 368.3 423.8 367.5 427.0 367.0 C430.2 366.5 434.8 366.3 438.0 367.0 C441.2 367.7 444.3 369.2 446.0 371.0 C447.7 372.8 448.2 375.7 448.0 378.0 C447.8 380.3 446.7 383.2 445.0 385.0 C443.3 386.8 440.5 388.7 438.0 389.0 C435.5 389.3 432.5 388.0 430.0 387.0 C427.5 386.0 424.8 384.7 423.0 383.0 C421.2 381.3 419.7 379.2 419.0 377.0 C418.3 374.8 417.7 371.7 419.0 370.0 Z"/></clipPath>
<g fill="#D62728" fill-opacity="0.35"><circle cx="437.9" cy="366.2" r="1.2"/><circle cx="431.2" cy="386.9" r="1.8"/><circle cx="436.5" cy="371.7" r="1.0"/><circle cx="435.4" cy="375.6" r="1.7"/><circle cx="423.8" cy="370.3" r="1.0"/><circle cx="445.7" cy="369.0" r="1.0"/><circle cx="436.0" cy="371.4" r="1.5"/><circle cx="447.1" cy="384.4" r="1.2"/><circle cx="437.0" cy="372.5" r="1.6"/><circle cx="439.4" cy="388.2" r="1.3"/><circle cx="448.5" cy="380.1" r="1.2"/><circle cx="438.3" cy="373.1" r="1.1"/><circle cx="425.0" cy="367.6" r="1.6"/><circle cx="426.0" cy="374.4" r="1.7"/><circle cx="444.3" cy="386.7" r="1.8"/><circle cx="436.9" cy="389.3" r="1.5"/><circle cx="436.2" cy="373.4" r="1.3"/><circle cx="435.8" cy="371.4" r="1.5"/><circle cx="445.5" cy="383.7" r="1.2"/><circle cx="417.9" cy="374.5" r="1.3"/><circle cx="444.9" cy="379.2" r="1.4"/><circle cx="437.0" cy="379.4" r="1.5"/><circle cx="435.4" cy="379.4" r="1.2"/><circle cx="421.1" cy="376.4" r="1.7"/><circle cx="448.2" cy="372.6" r="1.5"/><circle cx="434.1" cy="376.8" r="1.1"/><circle cx="424.5" cy="372.2" r="1.2"/><circle cx="423.4" cy="367.1" r="1.4"/><circle cx="422.7" cy="381.7" r="1.5"/><circle cx="437.6" cy="377.5" r="1.5"/><circle cx="426.8" cy="377.1" r="1.6"/><circle cx="424.1" cy="384.1" r="1.5"/><circle cx="435.1" cy="385.0" r="1.2"/><circle cx="429.3" cy="376.2" r="1.6"/><circle cx="440.7" cy="369.8" r="1.8"/></g>
<path d="M419.0 370.0 C420.3 368.3 423.8 367.5 427.0 367.0 C430.2 366.5 434.8 366.3 438.0 367.0 C441.2 367.7 444.3 369.2 446.0 371.0 C447.7 372.8 448.2 375.7 448.0 378.0 C447.8 380.3 446.7 383.2 445.0 385.0 C443.3 386.8 440.5 388.7 438.0 389.0 C435.5 389.3 432.5 388.0 430.0 387.0 C427.5 386.0 424.8 384.7 423.0 383.0 C421.2 381.3 419.7 379.2 419.0 377.0 C418.3 374.8 417.7 371.7 419.0 370.0 Z" fill="#D62728" stroke="none" stroke-width="1" fill-opacity="0.78"/>
<g clip-path="url(#vc21)" fill="none" stroke="#000" stroke-width="0.55"><path d="M424.6 368.4 Q435.8 364.6 446.1 370.6"/><path d="M422.4 373.8 Q435.3 368.8 446.9 376.2"/><path d="M416.8 378.7 Q431.3 374.0 444.6 381.5"/><path d="M418.2 384.3 Q433.7 379.1 447.8 387.2"/><path d="M434.6 371.8 L431.8 372.6 L431.8 371.0 Z" fill="#000" stroke="none"/><path d="M429.3 376.9 L426.5 377.7 L426.5 376.1 Z" fill="#000" stroke="none"/><path d="M441.8 380.0 L439.0 379.7 L439.6 378.2 Z" fill="#000" stroke="none"/><path d="M430.0 382.2 L427.2 383.1 L427.1 381.6 Z" fill="#000" stroke="none"/><path d="M443.3 385.0 L440.4 384.7 L441.0 383.3 Z" fill="#000" stroke="none"/></g>
<clipPath id="vc22"><path d="M417.0 360.0 C417.3 358.5 419.7 356.7 422.0 356.0 C424.3 355.3 429.0 355.2 431.0 356.0 C433.0 356.8 434.2 359.5 434.0 361.0 C433.8 362.5 432.3 364.3 430.0 365.0 C427.7 365.7 422.2 365.8 420.0 365.0 C417.8 364.2 416.7 361.5 417.0 360.0 Z"/></clipPath>
<g fill="#D62728" fill-opacity="0.35"><circle cx="424.4" cy="362.3" r="1.4"/><circle cx="418.4" cy="358.6" r="1.4"/><circle cx="426.3" cy="360.1" r="1.4"/><circle cx="431.6" cy="361.8" r="1.3"/><circle cx="435.0" cy="361.8" r="1.2"/><circle cx="426.5" cy="365.3" r="1.0"/><circle cx="428.6" cy="360.3" r="1.2"/><circle cx="418.3" cy="357.0" r="1.4"/></g>
<path d="M417.0 360.0 C417.3 358.5 419.7 356.7 422.0 356.0 C424.3 355.3 429.0 355.2 431.0 356.0 C433.0 356.8 434.2 359.5 434.0 361.0 C433.8 362.5 432.3 364.3 430.0 365.0 C427.7 365.7 422.2 365.8 420.0 365.0 C417.8 364.2 416.7 361.5 417.0 360.0 Z" fill="#D62728" stroke="none" stroke-width="1" fill-opacity="0.85"/>
<g clip-path="url(#vc22)" fill="none" stroke="#000" stroke-width="0.55"><path d="M416.1 357.2 Q424.8 361.0 433.4 357.2"/><path d="M416.4 359.4 Q425.7 363.8 434.9 359.4"/><path d="M418.7 361.4 Q426.4 365.0 434.1 361.4"/><path d="M418.2 364.2 Q426.9 369.3 435.6 364.2"/><path d="M425.6 359.1 L422.7 359.8 L422.8 358.3 Z" fill="#000" stroke="none"/><path d="M425.1 361.6 L422.2 362.1 L422.4 360.6 Z" fill="#000" stroke="none"/><path d="M426.6 363.3 L423.8 363.8 L423.9 362.3 Z" fill="#000" stroke="none"/><path d="M431.2 366.2 L428.6 367.5 L428.3 366.0 Z" fill="#000" stroke="none"/></g>
<clipPath id="vc23"><path d="M634.5 310.3 C635.0 309.0 636.9 306.2 638.9 304.9 C640.9 303.6 644.1 302.7 646.5 302.7 C648.9 302.7 651.5 303.4 653.1 304.9 C654.8 306.3 656.4 310.5 656.4 311.4 C656.4 312.3 654.8 311.0 653.1 310.3 C651.5 309.6 648.7 307.4 646.5 307.0 C644.3 306.6 641.8 307.2 640.0 308.1 C638.2 309.0 636.5 312.1 635.6 312.5 C634.7 312.9 634.0 311.6 634.5 310.3 Z"/></clipPath>
<g fill="#1F77B4" fill-opacity="0.35"><circle cx="640.7" cy="307.5" r="1.8"/><circle cx="649.9" cy="304.0" r="1.3"/><circle cx="644.9" cy="302.2" r="1.7"/><circle cx="645.0" cy="303.5" r="1.4"/><circle cx="653.4" cy="304.5" r="1.5"/><circle cx="637.4" cy="307.7" r="1.6"/><circle cx="638.4" cy="310.2" r="1.5"/><circle cx="644.3" cy="307.7" r="1.1"/><circle cx="634.7" cy="309.6" r="1.1"/><circle cx="646.6" cy="303.4" r="1.2"/><circle cx="652.4" cy="306.9" r="1.1"/></g>
<path d="M634.5 310.3 C635.0 309.0 636.9 306.2 638.9 304.9 C640.9 303.6 644.1 302.7 646.5 302.7 C648.9 302.7 651.5 303.4 653.1 304.9 C654.8 306.3 656.4 310.5 656.4 311.4 C656.4 312.3 654.8 311.0 653.1 310.3 C651.5 309.6 648.7 307.4 646.5 307.0 C644.3 306.6 641.8 307.2 640.0 308.1 C638.2 309.0 636.5 312.1 635.6 312.5 C634.7 312.9 634.0 311.6 634.5 310.3 Z" fill="#1F77B4" stroke="none" stroke-width="1" fill-opacity="0.95"/>
<g clip-path="url(#vc23)" fill="none" stroke="#000" stroke-width="0.55"><path d="M637.9 304.5 Q646.5 302.2 655.0 304.5"/><path d="M636.8 307.4 Q647.3 305.6 657.8 307.4"/><path d="M634.9 311.2 Q644.4 308.2 653.9 311.2"/><path d="M652.7 306.7 L649.9 307.3 L650.0 305.8 Z" fill="#000" stroke="none"/><path d="M643.8 309.7 L641.1 310.6 L641.0 309.1 Z" fill="#000" stroke="none"/><path d="M651.7 310.5 L648.8 310.8 L649.1 309.2 Z" fill="#000" stroke="none"/></g>
<clipPath id="vc24"><path d="M533.8 349.6 C534.3 348.7 536.8 351.6 539.7 352.0 C542.6 352.4 548.7 351.4 551.3 352.3 C553.9 353.2 553.4 355.3 555.4 357.5 C557.5 359.7 561.1 363.6 563.6 365.4 C566.0 367.1 568.0 367.6 570.3 368.0 C572.5 368.4 576.2 367.5 577.1 368.0 C578.0 368.5 577.1 370.3 575.7 371.0 C574.4 371.7 571.2 372.0 568.9 372.3 C566.7 372.6 564.9 373.3 562.2 373.0 C559.5 372.7 555.7 372.2 552.8 370.7 C549.8 369.2 547.3 366.3 544.6 364.1 C541.9 361.9 538.3 359.9 536.5 357.5 C534.7 355.1 533.3 350.5 533.8 349.6 Z"/></clipPath>
<g fill="#9467BD" fill-opacity="0.35"><circle cx="575.4" cy="366.4" r="1.3"/><circle cx="556.6" cy="357.4" r="1.3"/><circle cx="554.6" cy="361.6" r="1.1"/><circle cx="550.9" cy="354.4" r="1.5"/><circle cx="552.2" cy="366.3" r="1.3"/><circle cx="543.8" cy="355.8" r="1.8"/><circle cx="554.5" cy="367.8" r="1.1"/><circle cx="542.3" cy="351.1" r="1.0"/><circle cx="566.5" cy="365.8" r="1.0"/><circle cx="555.8" cy="369.5" r="1.5"/><circle cx="535.0" cy="352.7" r="1.4"/><circle cx="560.0" cy="360.2" r="1.5"/><circle cx="558.5" cy="365.3" r="1.3"/><circle cx="570.9" cy="368.8" r="1.6"/><circle cx="543.5" cy="364.4" r="1.4"/><circle cx="543.1" cy="355.9" r="1.6"/><circle cx="546.6" cy="359.9" r="1.3"/><circle cx="561.7" cy="368.3" r="1.6"/><circle cx="570.0" cy="367.5" r="1.8"/><circle cx="553.0" cy="359.8" r="1.5"/><circle cx="551.5" cy="362.9" r="1.4"/><circle cx="545.0" cy="360.6" r="1.8"/><circle cx="577.8" cy="369.3" r="1.2"/><circle cx="535.0" cy="355.8" r="1.8"/><circle cx="563.6" cy="370.2" r="1.7"/><circle cx="540.2" cy="361.4" r="1.1"/><circle cx="549.7" cy="361.2" r="1.7"/><circle cx="545.5" cy="365.9" r="1.1"/><circle cx="559.3" cy="363.7" r="1.6"/><circle cx="545.6" cy="362.7" r="1.5"/><circle cx="577.0" cy="366.2" r="1.0"/><circle cx="561.5" cy="371.0" r="1.4"/><circle cx="543.9" cy="360.5" r="1.4"/><circle cx="548.4" cy="363.5" r="1.1"/><circle cx="543.8" cy="350.8" r="1.0"/><circle cx="556.6" cy="367.8" r="1.3"/><circle cx="576.8" cy="366.3" r="1.1"/><circle cx="550.0" cy="358.0" r="1.3"/><circle cx="548.9" cy="352.0" r="1.3"/><circle cx="548.5" cy="367.1" r="1.3"/><circle cx="565.1" cy="370.6" r="1.7"/><circle cx="549.0" cy="356.6" r="1.5"/><circle cx="554.7" cy="370.7" r="1.5"/><circle cx="542.9" cy="364.5" r="1.3"/><circle cx="544.6" cy="356.1" r="1.8"/><circle cx="548.3" cy="354.3" r="1.4"/><circle cx="563.5" cy="373.4" r="1.1"/><circle cx="547.4" cy="367.4" r="1.4"/><circle cx="564.5" cy="366.1" r="1.1"/><circle cx="534.2" cy="352.5" r="1.2"/><circle cx="540.4" cy="355.5" r="1.1"/><circle cx="535.6" cy="351.4" r="1.4"/><circle cx="555.7" cy="361.9" r="1.3"/><circle cx="550.2" cy="370.3" r="1.1"/><circle cx="552.2" cy="362.4" r="1.1"/><circle cx="557.5" cy="367.7" r="1.5"/></g>
<path d="M533.8 349.6 C534.3 348.7 536.8 351.6 539.7 352.0 C542.6 352.4 548.7 351.4 551.3 352.3 C553.9 353.2 553.4 355.3 555.4 357.5 C557.5 359.7 561.1 363.6 563.6 365.4 C566.0 367.1 568.0 367.6 570.3 368.0 C572.5 368.4 576.2 367.5 577.1 368.0 C578.0 368.5 577.1 370.3 575.7 371.0 C574.4 371.7 571.2 372.0 568.9 372.3 C566.7 372.6 564.9 373.3 562.2 373.0 C559.5 372.7 555.7 372.2 552.8 370.7 C549.8 369.2 547.3 366.3 544.6 364.1 C541.9 361.9 538.3 359.9 536.5 357.5 C534.7 355.1 533.3 350.5 533.8 349.6 Z" fill="#9467BD" stroke="none" stroke-width="1" fill-opacity="0.75"/>
<g clip-path="url(#vc24)" fill="none" stroke="#000" stroke-width="0.55"><path d="M543.1 345.8 Q557.4 358.5 574.4 367.3"/><path d="M538.2 345.5 Q552.8 358.1 569.7 367.1"/><path d="M543.6 351.6 Q554.5 361.6 567.7 368.1"/><path d="M538.8 351.4 Q553.5 364.3 570.8 373.3"/><path d="M536.7 352.7 Q553.8 366.6 572.9 377.5"/><path d="M537.3 356.1 Q549.4 367.7 564.6 374.8"/><path d="M531.6 354.8 Q547.2 368.4 565.5 378.0"/><path d="M553.4 354.2 L550.7 353.1 L551.6 351.9 Z" fill="#000" stroke="none"/><path d="M550.2 355.0 L547.5 353.9 L548.4 352.7 Z" fill="#000" stroke="none"/><path d="M562.0 362.7 L559.2 361.9 L560.0 360.6 Z" fill="#000" stroke="none"/><path d="M562.7 365.5 L559.9 364.8 L560.7 363.4 Z" fill="#000" stroke="none"/><path d="M551.2 361.3 L548.5 360.2 L549.4 359.0 Z" fill="#000" stroke="none"/><path d="M564.6 369.9 L561.8 369.2 L562.6 367.8 Z" fill="#000" stroke="none"/><path d="M553.5 365.3 L550.7 364.3 L551.6 363.1 Z" fill="#000" stroke="none"/><path d="M557.9 371.4 L555.1 370.7 L555.9 369.3 Z" fill="#000" stroke="none"/><path d="M557.8 373.8 L555.1 373.0 L555.9 371.7 Z" fill="#000" stroke="none"/></g>
<clipPath id="vc25"><path d="M533.8 343.1 C534.8 341.7 537.5 341.6 539.7 341.3 C541.9 341.0 544.7 340.9 546.9 341.5 C549.1 342.1 552.0 343.6 552.8 345.0 C553.5 346.4 552.8 348.9 551.5 350.0 C550.2 351.1 546.8 351.0 544.8 351.5 C542.8 352.0 541.1 352.5 539.7 353.0 C538.3 353.5 537.5 355.1 536.5 354.5 C535.5 353.9 534.2 351.4 533.8 349.5 C533.4 347.6 532.8 344.5 533.8 343.1 Z"/></clipPath>
<g fill="#E377C2" fill-opacity="0.35"><circle cx="545.9" cy="347.7" r="1.4"/><circle cx="541.3" cy="342.4" r="1.2"/><circle cx="550.0" cy="348.2" r="1.0"/><circle cx="546.7" cy="342.4" r="1.8"/><circle cx="536.0" cy="348.0" r="1.4"/><circle cx="535.6" cy="343.9" r="1.1"/><circle cx="546.6" cy="350.8" r="1.2"/><circle cx="553.6" cy="346.6" r="1.4"/><circle cx="542.5" cy="352.1" r="1.6"/><circle cx="538.9" cy="340.5" r="1.6"/><circle cx="549.0" cy="349.6" r="1.1"/><circle cx="548.9" cy="342.3" r="1.6"/><circle cx="546.1" cy="350.3" r="1.1"/></g>
<path d="M533.8 343.1 C534.8 341.7 537.5 341.6 539.7 341.3 C541.9 341.0 544.7 340.9 546.9 341.5 C549.1 342.1 552.0 343.6 552.8 345.0 C553.5 346.4 552.8 348.9 551.5 350.0 C550.2 351.1 546.8 351.0 544.8 351.5 C542.8 352.0 541.1 352.5 539.7 353.0 C538.3 353.5 537.5 355.1 536.5 354.5 C535.5 353.9 534.2 351.4 533.8 349.5 C533.4 347.6 532.8 344.5 533.8 343.1 Z" fill="#E377C2" stroke="none" stroke-width="1" fill-opacity="0.75"/>
<g clip-path="url(#vc25)" fill="none" stroke="#000" stroke-width="0.55"><path d="M544.4 336.0 Q551.7 341.0 554.9 349.3"/><path d="M543.2 337.5 Q550.7 340.1 551.6 348.0"/><path d="M541.8 339.2 Q549.1 343.9 551.9 352.0"/><path d="M539.8 340.8 Q546.8 343.4 547.7 350.8"/><path d="M537.1 340.6 Q544.4 344.0 546.0 351.8"/><path d="M534.7 341.2 Q543.2 344.5 544.5 353.5"/><path d="M533.8 343.4 Q541.9 346.7 543.3 355.3"/><path d="M532.2 343.8 Q540.1 347.6 542.0 356.2"/><path d="M531.3 346.7 Q539.0 351.4 541.8 359.9"/><path d="M554.3 347.7 L552.4 345.6 L553.7 344.9 Z" fill="#000" stroke="none"/><path d="M548.7 340.9 L546.1 339.7 L547.1 338.5 Z" fill="#000" stroke="none"/><path d="M551.5 346.5 L549.9 344.1 L551.3 343.6 Z" fill="#000" stroke="none"/><path d="M548.4 345.2 L546.0 343.6 L547.2 342.6 Z" fill="#000" stroke="none"/><path d="M551.3 350.3 L549.4 348.2 L550.7 347.5 Z" fill="#000" stroke="none"/><path d="M539.6 347.2 L537.0 345.9 L538.0 344.8 Z" fill="#000" stroke="none"/><path d="M542.9 353.2 L541.2 350.9 L542.6 350.3 Z" fill="#000" stroke="none"/><path d="M540.5 356.6 L538.4 354.5 L539.8 353.8 Z" fill="#000" stroke="none"/></g>
<clipPath id="vc26"><path d="M599.4 351.9 C599.4 349.9 604.9 349.2 608.2 348.6 C611.5 348.1 616.7 347.7 619.2 348.6 C621.8 349.5 623.9 352.1 623.5 354.1 C623.1 356.1 619.5 359.6 617.0 360.7 C614.5 361.8 611.1 362.2 608.2 360.7 C605.3 359.2 599.4 353.9 599.4 351.9 Z"/></clipPath>
<g fill="#8C564B" fill-opacity="0.35"><circle cx="614.4" cy="356.3" r="1.4"/><circle cx="612.1" cy="351.5" r="1.2"/><circle cx="601.8" cy="354.4" r="1.3"/><circle cx="613.9" cy="357.5" r="1.2"/><circle cx="614.5" cy="350.8" r="1.6"/><circle cx="603.1" cy="356.2" r="1.6"/><circle cx="619.9" cy="355.1" r="1.7"/><circle cx="607.5" cy="350.9" r="1.5"/><circle cx="601.0" cy="349.4" r="1.1"/><circle cx="615.7" cy="352.8" r="1.7"/><circle cx="620.1" cy="355.2" r="1.3"/><circle cx="606.4" cy="347.4" r="1.1"/><circle cx="621.9" cy="351.4" r="1.0"/><circle cx="619.2" cy="353.9" r="1.8"/><circle cx="615.6" cy="347.0" r="1.7"/><circle cx="606.9" cy="357.5" r="1.1"/></g>
<path d="M599.4 351.9 C599.4 349.9 604.9 349.2 608.2 348.6 C611.5 348.1 616.7 347.7 619.2 348.6 C621.8 349.5 623.9 352.1 623.5 354.1 C623.1 356.1 619.5 359.6 617.0 360.7 C614.5 361.8 611.1 362.2 608.2 360.7 C605.3 359.2 599.4 353.9 599.4 351.9 Z" fill="#8C564B" stroke="none" stroke-width="1" fill-opacity="0.75"/>
<g clip-path="url(#vc26)" fill="none" stroke="#000" stroke-width="0.55"><path d="M602.2 349.5 Q611.0 352.2 619.8 349.5"/><path d="M601.2 352.5 Q611.7 354.1 622.1 352.5"/><path d="M597.7 355.0 Q609.3 356.6 620.9 355.0"/><path d="M599.8 357.1 Q611.6 358.8 623.4 357.1"/><path d="M600.0 359.2 Q611.7 361.9 623.4 359.2"/><path d="M615.5 350.6 L612.8 351.6 L612.6 350.1 Z" fill="#000" stroke="none"/><path d="M609.6 353.3 L606.8 353.9 L606.8 352.4 Z" fill="#000" stroke="none"/><path d="M616.6 353.1 L613.9 354.1 L613.8 352.5 Z" fill="#000" stroke="none"/><path d="M606.6 355.8 L603.8 356.4 L603.9 354.9 Z" fill="#000" stroke="none"/><path d="M611.4 360.6 L608.6 361.2 L608.6 359.7 Z" fill="#000" stroke="none"/><path d="M617.6 360.2 L614.9 361.2 L614.7 359.7 Z" fill="#000" stroke="none"/></g>
<clipPath id="vc27"><path d="M617.0 351.9 C618.8 349.1 623.5 349.2 627.9 348.6 C632.3 348.1 638.8 348.2 643.2 348.6 C647.6 349.0 652.0 349.2 654.2 350.8 C656.4 352.4 657.1 355.8 656.4 358.5 C655.7 361.2 652.7 364.9 649.8 367.3 C646.9 369.7 642.5 371.4 638.9 372.7 C635.2 374.0 630.8 375.1 627.9 374.9 C625.0 374.7 623.1 373.2 621.3 371.6 C619.5 370.0 617.7 368.4 617.0 365.1 C616.3 361.8 615.2 354.6 617.0 351.9 Z"/></clipPath>
<g fill="#FF7F0E" fill-opacity="0.35"><circle cx="637.3" cy="348.7" r="1.1"/><circle cx="637.1" cy="362.9" r="1.2"/><circle cx="640.3" cy="356.0" r="1.6"/><circle cx="634.5" cy="351.8" r="1.2"/><circle cx="642.3" cy="349.5" r="1.7"/><circle cx="624.6" cy="359.0" r="1.1"/><circle cx="623.1" cy="352.0" r="1.4"/><circle cx="642.8" cy="350.9" r="1.2"/><circle cx="641.2" cy="353.9" r="1.0"/><circle cx="624.2" cy="356.0" r="1.5"/><circle cx="641.7" cy="365.6" r="1.4"/><circle cx="625.1" cy="353.8" r="1.1"/><circle cx="617.5" cy="364.2" r="1.1"/><circle cx="642.1" cy="346.8" r="1.3"/><circle cx="630.7" cy="356.0" r="1.1"/><circle cx="634.5" cy="361.2" r="1.2"/><circle cx="636.7" cy="370.9" r="1.3"/><circle cx="647.7" cy="370.2" r="1.3"/><circle cx="647.1" cy="357.2" r="1.1"/><circle cx="633.2" cy="350.0" r="1.6"/><circle cx="625.9" cy="361.7" r="1.6"/><circle cx="646.5" cy="367.6" r="1.6"/><circle cx="640.8" cy="366.6" r="1.4"/><circle cx="628.0" cy="352.4" r="1.4"/><circle cx="628.5" cy="368.2" r="1.5"/><circle cx="615.1" cy="352.9" r="1.5"/><circle cx="632.2" cy="367.2" r="1.4"/><circle cx="619.8" cy="367.5" r="1.8"/><circle cx="619.0" cy="365.3" r="1.5"/><circle cx="641.6" cy="361.9" r="1.4"/><circle cx="633.9" cy="371.2" r="1.5"/><circle cx="618.1" cy="353.0" r="1.2"/><circle cx="624.8" cy="361.3" r="1.7"/><circle cx="646.4" cy="364.4" r="1.7"/><circle cx="656.9" cy="355.4" r="1.5"/><circle cx="647.7" cy="355.5" r="1.2"/><circle cx="642.2" cy="369.0" r="1.8"/><circle cx="646.5" cy="355.1" r="1.1"/><circle cx="622.5" cy="354.4" r="1.5"/><circle cx="629.0" cy="351.1" r="1.1"/><circle cx="644.8" cy="371.3" r="1.1"/><circle cx="630.7" cy="362.8" r="1.6"/><circle cx="648.6" cy="368.9" r="1.3"/><circle cx="636.3" cy="375.1" r="1.0"/><circle cx="618.6" cy="366.0" r="1.8"/><circle cx="621.5" cy="352.3" r="1.4"/><circle cx="649.2" cy="363.7" r="1.5"/><circle cx="617.2" cy="352.6" r="1.5"/><circle cx="646.4" cy="349.4" r="1.1"/><circle cx="628.6" cy="359.2" r="1.3"/><circle cx="622.4" cy="348.8" r="1.5"/><circle cx="641.7" cy="357.7" r="1.7"/><circle cx="641.0" cy="365.2" r="1.7"/><circle cx="634.0" cy="349.2" r="1.4"/><circle cx="624.7" cy="367.8" r="1.3"/><circle cx="620.5" cy="354.7" r="1.4"/><circle cx="646.1" cy="350.2" r="1.5"/></g>
<path d="M617.0 351.9 C618.8 349.1 623.5 349.2 627.9 348.6 C632.3 348.1 638.8 348.2 643.2 348.6 C647.6 349.0 652.0 349.2 654.2 350.8 C656.4 352.4 657.1 355.8 656.4 358.5 C655.7 361.2 652.7 364.9 649.8 367.3 C646.9 369.7 642.5 371.4 638.9 372.7 C635.2 374.0 630.8 375.1 627.9 374.9 C625.0 374.7 623.1 373.2 621.3 371.6 C619.5 370.0 617.7 368.4 617.0 365.1 C616.3 361.8 615.2 354.6 617.0 351.9 Z" fill="#FF7F0E" stroke="none" stroke-width="1" fill-opacity="0.78"/>
<g clip-path="url(#vc27)" fill="none" stroke="#000" stroke-width="0.55"><path d="M614.3 354.7 Q633.0 349.6 646.0 335.3"/><path d="M614.2 357.9 Q634.2 354.3 646.4 338.2"/><path d="M616.5 359.9 Q632.9 357.1 642.9 343.8"/><path d="M617.6 361.5 Q636.0 356.7 648.6 342.5"/><path d="M617.4 364.7 Q638.1 361.2 650.5 344.4"/><path d="M620.8 365.6 Q637.7 364.4 646.4 349.9"/><path d="M618.0 370.5 Q637.4 364.1 651.8 349.7"/><path d="M620.4 372.3 Q639.2 366.9 652.6 352.6"/><path d="M628.7 369.7 Q642.6 369.3 649.3 357.1"/><path d="M630.4 372.1 Q644.0 370.0 652.1 358.8"/><path d="M630.1 375.4 Q645.8 374.0 654.1 360.7"/><path d="M628.7 378.8 Q647.1 377.0 657.0 361.4"/><path d="M629.4 352.8 L627.2 354.7 L626.6 353.3 Z" fill="#000" stroke="none"/><path d="M639.3 345.9 L637.7 348.3 L636.7 347.1 Z" fill="#000" stroke="none"/><path d="M630.4 355.1 L628.3 357.0 L627.6 355.7 Z" fill="#000" stroke="none"/><path d="M641.4 349.5 L639.7 351.8 L638.7 350.6 Z" fill="#000" stroke="none"/><path d="M635.2 358.4 L633.2 360.4 L632.4 359.0 Z" fill="#000" stroke="none"/><path d="M647.0 348.7 L645.7 351.3 L644.5 350.2 Z" fill="#000" stroke="none"/><path d="M636.2 360.8 L634.2 362.8 L633.4 361.5 Z" fill="#000" stroke="none"/><path d="M640.5 357.4 L638.9 359.8 L637.9 358.6 Z" fill="#000" stroke="none"/><path d="M636.6 361.9 L634.6 364.0 L633.8 362.6 Z" fill="#000" stroke="none"/><path d="M643.7 356.9 L641.9 359.2 L641.0 358.0 Z" fill="#000" stroke="none"/><path d="M638.9 367.5 L636.6 369.2 L636.0 367.8 Z" fill="#000" stroke="none"/><path d="M645.1 363.0 L643.5 365.5 L642.5 364.3 Z" fill="#000" stroke="none"/><path d="M643.8 367.0 L641.9 369.1 L641.1 367.8 Z" fill="#000" stroke="none"/><path d="M649.2 362.4 L647.7 364.9 L646.7 363.8 Z" fill="#000" stroke="none"/><path d="M640.4 372.9 L638.0 374.6 L637.5 373.2 Z" fill="#000" stroke="none"/><path d="M652.1 367.8 L650.6 370.3 L649.5 369.2 Z" fill="#000" stroke="none"/></g>
<clipPath id="vc28"><path d="M652.0 335.5 C653.8 334.2 656.8 334.4 658.6 335.5 C660.4 336.6 662.3 339.9 663.0 342.1 C663.7 344.3 664.1 347.2 663.0 348.6 C661.9 350.1 659.0 350.6 656.4 350.8 C653.8 351.0 650.1 350.2 647.6 349.7 C645.1 349.2 641.1 348.7 641.1 347.6 C641.1 346.5 645.8 345.2 647.6 343.2 C649.4 341.2 650.2 336.8 652.0 335.5 Z"/></clipPath>
<g fill="#2CA02C" fill-opacity="0.35"><circle cx="648.1" cy="339.7" r="1.0"/><circle cx="651.5" cy="334.7" r="1.2"/><circle cx="659.1" cy="339.2" r="1.1"/><circle cx="650.2" cy="344.7" r="1.1"/><circle cx="648.9" cy="344.2" r="1.6"/><circle cx="645.7" cy="348.0" r="1.1"/><circle cx="662.8" cy="344.0" r="1.1"/><circle cx="660.2" cy="350.5" r="1.1"/><circle cx="648.3" cy="348.8" r="1.6"/><circle cx="653.8" cy="341.0" r="1.3"/><circle cx="660.2" cy="348.6" r="1.8"/><circle cx="657.4" cy="337.7" r="1.0"/><circle cx="662.2" cy="348.6" r="1.6"/><circle cx="647.7" cy="342.0" r="1.7"/><circle cx="641.5" cy="347.4" r="1.6"/><circle cx="651.1" cy="351.9" r="1.5"/><circle cx="649.7" cy="339.1" r="1.4"/><circle cx="662.7" cy="350.0" r="1.8"/></g>
<path d="M652.0 335.5 C653.8 334.2 656.8 334.4 658.6 335.5 C660.4 336.6 662.3 339.9 663.0 342.1 C663.7 344.3 664.1 347.2 663.0 348.6 C661.9 350.1 659.0 350.6 656.4 350.8 C653.8 351.0 650.1 350.2 647.6 349.7 C645.1 349.2 641.1 348.7 641.1 347.6 C641.1 346.5 645.8 345.2 647.6 343.2 C649.4 341.2 650.2 336.8 652.0 335.5 Z" fill="#2CA02C" stroke="none" stroke-width="1" fill-opacity="0.78"/>
<g clip-path="url(#vc28)" fill="none" stroke="#000" stroke-width="0.55"><path d="M642.8 350.2 Q645.2 340.0 652.0 332.1"/><path d="M647.7 350.4 Q649.0 340.6 656.2 333.8"/><path d="M652.8 352.6 Q654.5 343.6 660.7 336.9"/><path d="M656.6 356.1 Q659.0 346.2 665.6 338.5"/><path d="M645.3 342.5 L645.0 345.4 L643.6 344.8 Z" fill="#000" stroke="none"/><path d="M650.7 333.6 L649.7 336.3 L648.4 335.4 Z" fill="#000" stroke="none"/><path d="M650.5 341.2 L650.1 344.1 L648.7 343.4 Z" fill="#000" stroke="none"/><path d="M653.7 336.4 L652.7 339.1 L651.4 338.2 Z" fill="#000" stroke="none"/><path d="M655.3 344.7 L654.9 347.5 L653.5 346.9 Z" fill="#000" stroke="none"/><path d="M659.6 338.1 L658.6 340.7 L657.3 339.8 Z" fill="#000" stroke="none"/><path d="M659.5 347.9 L659.1 350.8 L657.6 350.2 Z" fill="#000" stroke="none"/></g>
<clipPath id="vc29"><path d="M582.0 368.0 C582.8 365.2 586.8 362.6 590.0 361.0 C593.2 359.4 597.3 358.6 601.0 358.5 C604.7 358.4 609.0 359.1 612.0 360.5 C615.0 361.9 618.0 364.2 619.0 367.0 C620.0 369.8 619.2 374.3 618.0 377.0 C616.8 379.7 614.8 381.7 612.0 383.0 C609.2 384.3 604.3 384.8 601.0 385.0 C597.7 385.2 594.7 385.2 592.0 384.0 C589.3 382.8 586.7 380.7 585.0 378.0 C583.3 375.3 581.2 370.8 582.0 368.0 Z"/></clipPath>
<g fill="#D62728" fill-opacity="0.35"><circle cx="609.3" cy="367.0" r="1.6"/><circle cx="594.6" cy="375.5" r="1.1"/><circle cx="593.0" cy="373.6" r="1.5"/><circle cx="599.0" cy="357.6" r="1.4"/><circle cx="615.5" cy="364.8" r="1.2"/><circle cx="605.5" cy="363.6" r="1.1"/><circle cx="583.0" cy="375.6" r="1.7"/><circle cx="611.6" cy="374.5" r="1.7"/><circle cx="614.8" cy="364.7" r="1.3"/><circle cx="606.3" cy="375.7" r="1.3"/><circle cx="583.7" cy="366.5" r="1.2"/><circle cx="605.9" cy="376.5" r="1.5"/><circle cx="595.2" cy="384.4" r="1.4"/><circle cx="612.8" cy="362.1" r="1.3"/><circle cx="612.8" cy="365.4" r="1.6"/><circle cx="604.6" cy="376.5" r="1.0"/><circle cx="595.4" cy="365.0" r="1.8"/><circle cx="604.2" cy="377.7" r="1.4"/><circle cx="605.6" cy="368.4" r="1.2"/><circle cx="591.9" cy="363.4" r="1.6"/><circle cx="600.8" cy="386.7" r="1.6"/><circle cx="607.4" cy="379.1" r="1.2"/><circle cx="600.9" cy="357.0" r="1.4"/><circle cx="584.9" cy="367.0" r="1.4"/><circle cx="586.1" cy="376.3" r="1.8"/><circle cx="593.0" cy="378.9" r="1.7"/><circle cx="611.2" cy="380.5" r="1.6"/><circle cx="597.3" cy="374.0" r="1.7"/><circle cx="603.4" cy="357.3" r="1.4"/><circle cx="615.7" cy="378.1" r="1.4"/><circle cx="589.2" cy="377.9" r="1.7"/><circle cx="597.7" cy="382.4" r="1.0"/><circle cx="593.1" cy="365.8" r="1.2"/><circle cx="607.0" cy="380.8" r="1.5"/><circle cx="591.8" cy="368.7" r="1.6"/><circle cx="615.8" cy="372.7" r="1.6"/><circle cx="613.6" cy="372.4" r="1.5"/><circle cx="615.0" cy="381.9" r="1.1"/><circle cx="613.4" cy="362.3" r="1.7"/><circle cx="611.0" cy="361.5" r="1.1"/><circle cx="607.0" cy="375.5" r="1.1"/><circle cx="585.0" cy="377.9" r="1.4"/><circle cx="617.5" cy="370.0" r="1.3"/><circle cx="589.6" cy="382.3" r="1.3"/><circle cx="593.2" cy="374.5" r="1.3"/><circle cx="600.2" cy="381.0" r="1.0"/><circle cx="586.7" cy="363.5" r="1.7"/><circle cx="595.5" cy="368.3" r="1.7"/><circle cx="615.2" cy="363.8" r="1.6"/><circle cx="594.6" cy="379.9" r="1.5"/><circle cx="582.9" cy="370.8" r="1.3"/><circle cx="598.8" cy="373.4" r="1.6"/><circle cx="596.5" cy="372.3" r="1.7"/><circle cx="607.9" cy="362.4" r="1.1"/></g>
<path d="M582.0 368.0 C582.8 365.2 586.8 362.6 590.0 361.0 C593.2 359.4 597.3 358.6 601.0 358.5 C604.7 358.4 609.0 359.1 612.0 360.5 C615.0 361.9 618.0 364.2 619.0 367.0 C620.0 369.8 619.2 374.3 618.0 377.0 C616.8 379.7 614.8 381.7 612.0 383.0 C609.2 384.3 604.3 384.8 601.0 385.0 C597.7 385.2 594.7 385.2 592.0 384.0 C589.3 382.8 586.7 380.7 585.0 378.0 C583.3 375.3 581.2 370.8 582.0 368.0 Z" fill="#D62728" stroke="none" stroke-width="1" fill-opacity="0.78"/>
<g clip-path="url(#vc29)" fill="none" stroke="#000" stroke-width="0.55"><path d="M584.5 358.4 Q598.1 368.5 613.5 361.3"/><path d="M585.3 360.9 Q599.6 369.8 615.5 363.9"/><path d="M587.6 363.3 Q602.8 370.9 619.2 366.5"/><path d="M587.4 365.9 Q599.5 373.8 612.9 368.5"/><path d="M584.5 367.6 Q597.4 375.7 611.6 370.4"/><path d="M584.3 370.0 Q599.7 379.0 616.6 373.2"/><path d="M583.8 372.5 Q597.6 382.6 613.1 375.4"/><path d="M581.1 374.8 Q598.1 383.5 616.4 378.3"/><path d="M583.4 376.8 Q599.4 385.4 616.7 380.2"/><path d="M585.7 379.7 Q599.5 386.7 614.3 382.6"/><path d="M586.4 382.7 Q598.3 391.0 611.7 385.2"/><path d="M606.6 363.7 L604.0 364.9 L603.7 363.4 Z" fill="#000" stroke="none"/><path d="M607.2 366.0 L604.4 367.0 L604.3 365.5 Z" fill="#000" stroke="none"/><path d="M599.9 367.5 L597.0 367.7 L597.3 366.1 Z" fill="#000" stroke="none"/><path d="M615.5 367.4 L612.9 368.5 L612.6 367.0 Z" fill="#000" stroke="none"/><path d="M596.9 370.1 L594.0 370.1 L594.4 368.6 Z" fill="#000" stroke="none"/><path d="M607.1 370.2 L604.5 371.4 L604.3 369.8 Z" fill="#000" stroke="none"/><path d="M604.3 372.3 L601.6 373.3 L601.5 371.7 Z" fill="#000" stroke="none"/><path d="M599.0 375.2 L596.1 375.5 L596.4 374.0 Z" fill="#000" stroke="none"/><path d="M606.8 375.4 L604.0 376.3 L604.0 374.7 Z" fill="#000" stroke="none"/><path d="M598.0 378.3 L595.1 378.6 L595.4 377.1 Z" fill="#000" stroke="none"/><path d="M607.7 377.5 L605.1 378.8 L604.8 377.3 Z" fill="#000" stroke="none"/><path d="M594.7 379.5 L591.8 379.7 L592.2 378.1 Z" fill="#000" stroke="none"/><path d="M610.2 381.7 L607.6 382.8 L607.4 381.2 Z" fill="#000" stroke="none"/><path d="M600.8 384.1 L597.9 384.5 L598.1 383.0 Z" fill="#000" stroke="none"/><path d="M606.9 384.0 L604.1 384.9 L604.1 383.4 Z" fill="#000" stroke="none"/><path d="M597.7 387.4 L594.8 387.6 L595.1 386.1 Z" fill="#000" stroke="none"/><path d="M605.5 387.2 L602.8 388.3 L602.6 386.8 Z" fill="#000" stroke="none"/></g>
<clipPath id="vc30"><path d="M579.0 358.0 C578.7 356.3 581.5 354.0 584.0 353.0 C586.5 352.0 591.7 351.5 594.0 352.0 C596.3 352.5 597.7 354.3 598.0 356.0 C598.3 357.7 598.0 360.8 596.0 362.0 C594.0 363.2 588.8 363.7 586.0 363.0 C583.2 362.3 579.3 359.7 579.0 358.0 Z"/></clipPath>
<g fill="#D62728" fill-opacity="0.35"><circle cx="596.2" cy="358.3" r="1.8"/><circle cx="595.4" cy="358.2" r="1.5"/><circle cx="586.6" cy="363.6" r="1.7"/><circle cx="592.6" cy="355.4" r="1.6"/><circle cx="586.7" cy="360.4" r="1.4"/><circle cx="591.5" cy="363.8" r="1.7"/><circle cx="588.0" cy="355.8" r="1.6"/><circle cx="592.3" cy="351.4" r="1.4"/><circle cx="583.4" cy="359.7" r="1.1"/><circle cx="583.9" cy="353.8" r="1.2"/><circle cx="590.0" cy="362.9" r="1.5"/></g>
<path d="M579.0 358.0 C578.7 356.3 581.5 354.0 584.0 353.0 C586.5 352.0 591.7 351.5 594.0 352.0 C596.3 352.5 597.7 354.3 598.0 356.0 C598.3 357.7 598.0 360.8 596.0 362.0 C594.0 363.2 588.8 363.7 586.0 363.0 C583.2 362.3 579.3 359.7 579.0 358.0 Z" fill="#D62728" stroke="none" stroke-width="1" fill-opacity="0.85"/>
<g clip-path="url(#vc30)" fill="none" stroke="#000" stroke-width="0.55"><path d="M578.9 353.3 Q588.4 348.6 598.0 353.3"/><path d="M581.3 355.0 Q590.1 351.7 598.9 355.0"/><path d="M579.5 357.5 Q588.6 352.9 597.6 357.5"/><path d="M580.0 359.7 Q589.8 356.6 599.5 359.7"/><path d="M579.3 361.7 Q588.6 356.1 597.8 361.7"/><path d="M590.3 353.3 L587.6 354.2 L587.5 352.7 Z" fill="#000" stroke="none"/><path d="M589.1 358.1 L586.4 359.1 L586.3 357.5 Z" fill="#000" stroke="none"/><path d="M593.7 359.7 L590.8 359.8 L591.2 358.3 Z" fill="#000" stroke="none"/></g>
<text x="365.00" y="237.04" font-size="8.7" fill="#E07BCB" stroke="#E07BCB" text-anchor="start">Smooth muscle cells</text>
<text x="457.50" y="222.04" font-size="8.7" fill="#2F7DBA" stroke="#2F7DBA" text-anchor="start">Fibroblast_3</text>
<text x="457.50" y="237.54" font-size="8.7" fill="#34A534" stroke="#34A534" text-anchor="start">Fibroblast_2</text>
<text x="433.00" y="247.54" font-size="8.7" fill="#8C5A48" stroke="#8C5A48" text-anchor="start">Pericyte_3</text>
<text x="373.00" y="282.55" font-size="8.7" fill="#9C72C4" stroke="#9C72C4" text-anchor="start">Pericyte_2</text>
<text x="412.50" y="294.05" font-size="8.7" fill="#D83535" stroke="#D83535" text-anchor="start">Pericyte_1</text>
<text x="456.00" y="288.05" font-size="8.7" fill="#FA8625" stroke="#FA8625" text-anchor="start">Fibroblast_1</text>
<text x="529.00" y="235.74" font-size="8.7" fill="#E07BCB" stroke="#E07BCB" text-anchor="start">Smooth muscle cells</text>
<text x="622.00" y="221.44" font-size="8.7" fill="#2F7DBA" stroke="#2F7DBA" text-anchor="start">Fibroblast_3</text>
<text x="622.00" y="236.24" font-size="8.7" fill="#34A534" stroke="#34A534" text-anchor="start">Fibroblast_2</text>
<text x="596.70" y="246.54" font-size="8.7" fill="#8C5A48" stroke="#8C5A48" text-anchor="start">Pericyte_3</text>
<text x="537.80" y="282.05" font-size="8.7" fill="#9C72C4" stroke="#9C72C4" text-anchor="start">Pericyte_2</text>
<text x="576.50" y="293.55" font-size="8.7" fill="#D83535" stroke="#D83535" text-anchor="start">Pericyte_1</text>
<text x="621.00" y="287.65" font-size="8.7" fill="#FA8625" stroke="#FA8625" text-anchor="start">Fibroblast_1</text>
<text x="367.50" y="336.75" font-size="8.7" fill="#E07BCB" stroke="#E07BCB" text-anchor="start">Smooth muscle cells</text>
<text x="460.50" y="323.75" font-size="8.7" fill="#2F7DBA" stroke="#2F7DBA" text-anchor="start">Fibroblast_3</text>
<text x="460.50" y="338.05" font-size="8.7" fill="#34A534" stroke="#34A534" text-anchor="start">Fibroblast_2</text>
<text x="435.75" y="348.05" font-size="8.7" fill="#8C5A48" stroke="#8C5A48" text-anchor="start">Pericyte_3</text>
<text x="376.00" y="383.75" font-size="8.7" fill="#9C72C4" stroke="#9C72C4" text-anchor="start">Pericyte_2</text>
<text x="415.50" y="395.05" font-size="8.7" fill="#D83535" stroke="#D83535" text-anchor="start">Pericyte_1</text>
<text x="459.50" y="389.05" font-size="8.7" fill="#FA8625" stroke="#FA8625" text-anchor="start">Fibroblast_1</text>
<text x="529.70" y="334.05" font-size="8.7" fill="#E07BCB" stroke="#E07BCB" text-anchor="start">Smooth muscle cells</text>
<text x="622.00" y="319.94" font-size="8.7" fill="#2F7DBA" stroke="#2F7DBA" text-anchor="start">Fibroblast_3</text>
<text x="622.00" y="335.35" font-size="8.7" fill="#34A534" stroke="#34A534" text-anchor="start">Fibroblast_2</text>
<text x="597.80" y="345.55" font-size="8.7" fill="#8C5A48" stroke="#8C5A48" text-anchor="start">Pericyte_3</text>
<text x="537.80" y="380.65" font-size="8.7" fill="#9C72C4" stroke="#9C72C4" text-anchor="start">Pericyte_2</text>
<text x="577.00" y="391.05" font-size="8.7" fill="#D83535" stroke="#D83535" text-anchor="start">Pericyte_1</text>
<text x="621.00" y="384.75" font-size="8.7" fill="#FA8625" stroke="#FA8625" text-anchor="start">Fibroblast_1</text>
<text font-size="10.1" text-anchor="middle" transform="translate(358.2 253.6) rotate(-90)" stroke="#000">Ctrl Group</text>
<text font-size="10.1" text-anchor="middle" transform="translate(525.2 251.2) rotate(-90)" stroke="#000">Smoke Group</text>
<text font-size="10.1" text-anchor="middle" transform="translate(354.7 343.7) rotate(-90)" stroke="#000">CNV Group</text>
<text font-size="10.1" text-anchor="middle" transform="translate(525.4 343.2) rotate(-90)" stroke="#000">Smoke+CNV Group</text>
<line x1="421.00" y1="446.00" x2="421.00" y2="493.00" stroke="#e6e6e6" stroke-width="0.8"/>
<line x1="441.30" y1="446.00" x2="441.30" y2="493.00" stroke="#e6e6e6" stroke-width="0.8"/>
<line x1="461.60" y1="446.00" x2="461.60" y2="493.00" stroke="#e6e6e6" stroke-width="0.8"/>
<line x1="481.90" y1="446.00" x2="481.90" y2="493.00" stroke="#e6e6e6" stroke-width="0.8"/>
<line x1="502.20" y1="446.00" x2="502.20" y2="493.00" stroke="#e6e6e6" stroke-width="0.8"/>
<line x1="522.50" y1="446.00" x2="522.50" y2="493.00" stroke="#e6e6e6" stroke-width="0.8"/>
<line x1="542.80" y1="446.00" x2="542.80" y2="493.00" stroke="#e6e6e6" stroke-width="0.8"/>
<line x1="563.10" y1="446.00" x2="563.10" y2="493.00" stroke="#e6e6e6" stroke-width="0.8"/>
<line x1="583.40" y1="446.00" x2="583.40" y2="493.00" stroke="#e6e6e6" stroke-width="0.8"/>
<line x1="401.70" y1="446.00" x2="401.70" y2="493.00" stroke="#9a9a9a" stroke-width="1.8"/>
<text x="398.00" y="453.57" font-size="10.2" fill="#2b2b2b" stroke="#2b2b2b" text-anchor="end">0.3</text>
<text x="398.00" y="483.57" font-size="10.2" fill="#2b2b2b" stroke="#2b2b2b" text-anchor="end">0.0</text>
<path d="M402.00 480.00 L402.40 477.40 L403.23 473.97 L404.07 470.63 L404.90 467.30 L405.73 466.21 L406.57 464.96 L407.40 463.71 L408.23 462.44 L409.07 461.19 L409.90 459.94 L410.79 458.82 L411.67 457.75 L412.56 456.68 L413.44 455.53 L414.33 454.46 L415.21 453.39 L416.10 452.49 L417.00 452.20 L417.90 451.92 L418.80 451.64 L419.70 451.35 L420.60 451.06 L421.50 450.69 L422.40 450.40 L423.23 450.23 L424.07 450.05 L424.90 449.87 L425.73 449.69 L426.57 449.43 L427.40 449.25 L428.23 449.08 L429.07 448.83 L429.90 448.65 L430.72 448.81 L431.54 449.07 L432.37 449.23 L433.19 449.38 L434.01 449.60 L434.83 449.76 L435.66 449.91 L436.48 449.92 L437.30 450.07 L438.13 450.15 L438.97 450.45 L439.80 450.54 L440.63 450.62 L441.47 450.54 L442.30 450.62 L443.13 450.70 L443.97 450.79 L444.80 450.87 L445.63 450.95 L446.47 450.98 L447.30 451.06 L448.13 451.23 L448.97 451.68 L449.80 451.85 L450.63 452.02 L451.47 452.10 L452.30 452.27 L453.13 452.44 L453.97 452.65 L454.80 452.81 L455.63 452.98 L456.47 453.07 L457.30 453.23 L458.13 453.40 L458.97 453.39 L459.80 453.56 L460.63 453.73 L461.47 453.98 L462.30 454.15 L463.13 454.32 L463.97 454.53 L464.80 454.70 L465.63 454.87 L466.47 454.92 L467.30 455.08 L468.13 455.25 L468.97 455.67 L469.80 455.84 L470.63 456.00 L471.47 455.99 L472.30 456.16 L473.13 456.41 L473.97 456.59 L474.80 456.84 L475.63 457.08 L476.47 457.53 L477.30 457.78 L478.13 458.02 L478.97 458.06 L479.80 458.31 L480.63 458.55 L481.47 459.04 L482.30 459.29 L483.13 459.54 L483.97 459.64 L484.80 459.89 L485.64 460.20 L486.49 460.54 L487.33 460.85 L488.18 461.16 L489.02 461.41 L489.87 461.72 L490.71 462.03 L491.56 462.38 L492.40 462.70 L493.24 463.01 L494.09 463.23 L494.93 463.54 L495.78 463.85 L496.62 464.12 L497.47 464.43 L498.31 464.74 L499.16 465.30 L500.00 465.61 L500.84 465.96 L501.69 466.12 L502.53 466.47 L503.38 466.82 L504.22 467.33 L505.06 467.68 L505.91 468.03 L506.75 468.21 L507.59 468.56 L508.44 468.91 L509.28 469.49 L510.12 469.84 L510.97 470.19 L511.81 470.52 L512.66 470.87 L513.50 471.22 L514.34 471.51 L515.19 471.85 L516.03 472.19 L516.88 472.53 L517.72 472.87 L518.56 473.20 L519.41 473.49 L520.25 473.82 L521.09 474.16 L521.94 474.54 L522.78 474.88 L523.62 475.22 L524.47 475.37 L525.31 475.71 L526.16 476.05 L527.00 476.49 L527.84 476.83 L528.69 477.17 L529.53 477.61 L530.38 477.95 L531.22 478.29 L532.06 478.44 L532.91 478.77 L533.75 479.11 L534.59 479.66 L535.44 480.00 L536.28 480.34 L537.12 480.67 L537.97 481.00 L538.81 481.34 L539.66 481.54 L540.50 481.87 L541.34 482.12 L542.19 482.36 L543.03 482.61 L543.88 482.86 L544.72 483.14 L545.56 483.39 L546.41 483.64 L547.25 483.87 L548.09 484.12 L548.94 484.37 L549.78 484.80 L550.62 485.05 L551.47 485.30 L552.31 485.37 L553.16 485.62 L554.00 485.87 L554.86 486.00 L555.73 486.25 L556.59 486.49 L557.45 486.76 L558.32 487.01 L559.18 487.25 L560.05 487.68 L560.91 487.93 L561.77 488.17 L562.64 488.50 L563.50 488.75 L564.31 488.89 L565.12 488.88 L565.93 489.02 L566.74 489.16 L567.55 489.30 L568.36 489.44 L569.17 489.58 L569.98 489.74 L570.79 489.88 L571.60 490.02 L572.45 489.87 L573.31 489.67 L574.16 489.47 L575.02 489.12 L575.87 488.92 L576.73 488.72 L577.58 488.63 L578.44 488.43 L579.29 488.23 L580.15 488.02 L581.00 487.82 L581.84 487.72 L582.68 487.65 L583.52 487.56 L584.35 487.47 L585.19 487.24 L586.03 487.15 L586.87 487.06 L587.71 486.96 L588.55 486.87 L589.38 486.78 L590.22 486.74 L591.06 486.65 L591.90 486.55 L592.80 486.20 L593.70 485.68 L594.60 485.15 L595.50 484.45 L596.80 480.00" fill="none" stroke="#5DB85D" stroke-width="0.9" stroke-linejoin="round"/>
<path fill="#000" d="M402.30 494.0h1.00v10.5h-1.00zM403.75 494.0h1.61v10.5h-1.61zM411.36 494.0h1.75v10.5h-1.75zM413.84 494.0h1.74v10.5h-1.74zM416.04 494.0h1.61v10.5h-1.61zM418.80 494.0h0.94v10.5h-0.94zM420.52 494.0h0.69v10.5h-0.69zM426.34 494.0h0.64v10.5h-0.64zM428.13 494.0h1.75v10.5h-1.75zM430.66 494.0h1.70v10.5h-1.70zM433.24 494.0h1.60v10.5h-1.60zM441.60 494.0h0.72v10.5h-0.72zM444.52 494.0h1.30v10.5h-1.30zM446.66 494.0h0.82v10.5h-0.82zM448.22 494.0h1.32v10.5h-1.32zM452.73 494.0h0.61v10.5h-0.61zM455.26 494.0h1.01v10.5h-1.01zM457.01 494.0h1.77v10.5h-1.77zM459.64 494.0h1.83v10.5h-1.83zM464.65 494.0h1.28v10.5h-1.28zM466.39 494.0h1.87v10.5h-1.87zM471.88 494.0h1.41v10.5h-1.41zM474.27 494.0h1.27v10.5h-1.27zM476.31 494.0h0.66v10.5h-0.66zM480.06 494.0h1.10v10.5h-1.10zM494.80 494.0h1.01v10.5h-1.01zM496.55 494.0h1.32v10.5h-1.32zM502.43 494.0h1.04v10.5h-1.04zM504.48 494.0h1.84v10.5h-1.84zM506.95 494.0h0.80v10.5h-0.80zM508.33 494.0h0.96v10.5h-0.96zM510.54 494.0h1.17v10.5h-1.17zM512.36 494.0h1.10v10.5h-1.10zM529.51 494.0h0.84v10.5h-0.84zM536.93 494.0h0.84v10.5h-0.84zM538.91 494.0h1.41v10.5h-1.41zM541.44 494.0h0.95v10.5h-0.95zM543.06 494.0h1.76v10.5h-1.76zM545.27 494.0h1.48v10.5h-1.48zM547.40 494.0h0.65v10.5h-0.65zM549.06 494.0h0.81v10.5h-0.81zM551.10 494.0h1.13v10.5h-1.13zM554.58 494.0h1.06v10.5h-1.06zM556.61 494.0h1.52v10.5h-1.52zM570.79 494.0h1.06v10.5h-1.06zM572.79 494.0h1.44v10.5h-1.44zM575.47 494.0h1.75v10.5h-1.75zM581.32 494.0h0.71v10.5h-0.71zM582.59 494.0h1.66v10.5h-1.66zM584.76 494.0h1.15v10.5h-1.15zM586.34 494.0h0.87v10.5h-0.87zM588.45 494.0h1.76v10.5h-1.76zM590.72 494.0h1.15v10.5h-1.15zM592.97 494.0h1.45v10.5h-1.45zM595.20 494.0h1.24v10.5h-1.24z"/>
<path fill="#888" d="M406.38 494.0h1.77v10.5h-1.77zM424.53 494.0h0.93v10.5h-0.93zM439.26 494.0h1.13v10.5h-1.13zM462.41 494.0h1.55v10.5h-1.55zM490.17 494.0h0.92v10.5h-0.92zM491.83 494.0h1.67v10.5h-1.67zM500.66 494.0h0.74v10.5h-0.74zM562.90 494.0h1.61v10.5h-1.61zM567.85 494.0h1.82v10.5h-1.82z"/>
<path fill="#555" d="M436.89 494.0h1.44v10.5h-1.44zM442.74 494.0h0.78v10.5h-0.78zM470.10 494.0h0.70v10.5h-0.70zM527.01 494.0h1.63v10.5h-1.63zM531.25 494.0h1.64v10.5h-1.64zM535.15 494.0h0.70v10.5h-0.70zM553.29 494.0h0.70v10.5h-0.70z"/>
<path fill="#2a2a2a" d="M453.80 494.0h0.83v10.5h-0.83zM477.59 494.0h1.66v10.5h-1.66zM483.26 494.0h1.24v10.5h-1.24zM485.70 494.0h1.41v10.5h-1.41zM578.52 494.0h1.61v10.5h-1.61z"/>
<rect x="401.70" y="504.50" width="19.80" height="4.30" fill="#D33A2F"/><rect x="421.20" y="504.50" width="27.60" height="4.30" fill="#EC6550"/><rect x="448.50" y="504.50" width="35.40" height="4.30" fill="#F3A487"/><rect x="483.60" y="504.50" width="30.53" height="4.30" fill="#FAD8CA"/><rect x="513.83" y="504.50" width="23.70" height="4.30" fill="#E9EBF6"/><rect x="537.23" y="504.50" width="26.63" height="4.30" fill="#BAD3EA"/><rect x="563.55" y="504.50" width="23.70" height="4.30" fill="#6FA6D6"/><rect x="586.95" y="504.50" width="10.05" height="4.30" fill="#3A7EC1"/>
<rect x="401.70" y="504.50" width="2.65" height="4.30" fill="#fff" fill-opacity="0.00"/><rect x="404.35" y="504.50" width="3.56" height="4.30" fill="#fff" fill-opacity="0.06"/><rect x="407.90" y="504.50" width="3.51" height="4.30" fill="#fff" fill-opacity="0.07"/><rect x="411.41" y="504.50" width="3.33" height="4.30" fill="#fff" fill-opacity="0.10"/><rect x="414.74" y="504.50" width="2.44" height="4.30" fill="#fff" fill-opacity="0.04"/><rect x="417.18" y="504.50" width="1.51" height="4.30" fill="#fff" fill-opacity="0.07"/><rect x="418.69" y="504.50" width="2.95" height="4.30" fill="#fff" fill-opacity="0.06"/><rect x="421.64" y="504.50" width="3.99" height="4.30" fill="#fff" fill-opacity="0.02"/><rect x="425.64" y="504.50" width="2.07" height="4.30" fill="#fff" fill-opacity="0.07"/><rect x="427.71" y="504.50" width="3.53" height="4.30" fill="#fff" fill-opacity="0.05"/><rect x="431.24" y="504.50" width="1.64" height="4.30" fill="#fff" fill-opacity="0.04"/><rect x="432.87" y="504.50" width="3.57" height="4.30" fill="#fff" fill-opacity="0.05"/><rect x="436.44" y="504.50" width="2.65" height="4.30" fill="#fff" fill-opacity="0.04"/><rect x="439.09" y="504.50" width="3.07" height="4.30" fill="#fff" fill-opacity="0.06"/><rect x="442.16" y="504.50" width="3.23" height="4.30" fill="#fff" fill-opacity="0.09"/><rect x="445.40" y="504.50" width="3.38" height="4.30" fill="#fff" fill-opacity="0.04"/><rect x="448.78" y="504.50" width="2.13" height="4.30" fill="#fff" fill-opacity="0.08"/><rect x="450.90" y="504.50" width="3.48" height="4.30" fill="#fff" fill-opacity="0.09"/><rect x="454.38" y="504.50" width="2.00" height="4.30" fill="#fff" fill-opacity="0.08"/><rect x="456.38" y="504.50" width="3.73" height="4.30" fill="#fff" fill-opacity="0.01"/><rect x="460.11" y="504.50" width="2.27" height="4.30" fill="#fff" fill-opacity="0.06"/><rect x="462.38" y="504.50" width="1.87" height="4.30" fill="#fff" fill-opacity="0.08"/><rect x="464.24" y="504.50" width="2.16" height="4.30" fill="#fff" fill-opacity="0.07"/><rect x="466.40" y="504.50" width="2.24" height="4.30" fill="#fff" fill-opacity="0.02"/><rect x="468.64" y="504.50" width="2.02" height="4.30" fill="#fff" fill-opacity="0.05"/><rect x="470.66" y="504.50" width="3.28" height="4.30" fill="#fff" fill-opacity="0.02"/><rect x="473.94" y="504.50" width="3.22" height="4.30" fill="#fff" fill-opacity="0.03"/><rect x="477.16" y="504.50" width="3.12" height="4.30" fill="#fff" fill-opacity="0.04"/><rect x="480.28" y="504.50" width="1.98" height="4.30" fill="#fff" fill-opacity="0.01"/><rect x="482.27" y="504.50" width="1.64" height="4.30" fill="#fff" fill-opacity="0.07"/><rect x="483.91" y="504.50" width="2.53" height="4.30" fill="#fff" fill-opacity="0.01"/><rect x="486.45" y="504.50" width="3.70" height="4.30" fill="#fff" fill-opacity="0.07"/><rect x="490.15" y="504.50" width="1.55" height="4.30" fill="#fff" fill-opacity="0.07"/><rect x="491.70" y="504.50" width="2.99" height="4.30" fill="#fff" fill-opacity="0.04"/><rect x="494.69" y="504.50" width="2.75" height="4.30" fill="#fff" fill-opacity="0.10"/><rect x="497.44" y="504.50" width="2.43" height="4.30" fill="#fff" fill-opacity="0.06"/><rect x="499.87" y="504.50" width="3.09" height="4.30" fill="#fff" fill-opacity="0.04"/><rect x="502.96" y="504.50" width="2.37" height="4.30" fill="#fff" fill-opacity="0.08"/><rect x="505.33" y="504.50" width="3.09" height="4.30" fill="#fff" fill-opacity="0.05"/><rect x="508.42" y="504.50" width="2.78" height="4.30" fill="#fff" fill-opacity="0.02"/><rect x="511.20" y="504.50" width="3.47" height="4.30" fill="#fff" fill-opacity="0.00"/><rect x="514.68" y="504.50" width="3.11" height="4.30" fill="#fff" fill-opacity="0.05"/><rect x="517.78" y="504.50" width="2.05" height="4.30" fill="#fff" fill-opacity="0.06"/><rect x="519.84" y="504.50" width="2.96" height="4.30" fill="#fff" fill-opacity="0.01"/><rect x="522.79" y="504.50" width="2.73" height="4.30" fill="#fff" fill-opacity="0.02"/><rect x="525.52" y="504.50" width="3.50" height="4.30" fill="#fff" fill-opacity="0.03"/><rect x="529.02" y="504.50" width="2.32" height="4.30" fill="#fff" fill-opacity="0.02"/><rect x="531.34" y="504.50" width="1.62" height="4.30" fill="#fff" fill-opacity="0.02"/><rect x="532.96" y="504.50" width="1.88" height="4.30" fill="#fff" fill-opacity="0.06"/><rect x="534.84" y="504.50" width="3.62" height="4.30" fill="#fff" fill-opacity="0.02"/><rect x="538.46" y="504.50" width="1.78" height="4.30" fill="#fff" fill-opacity="0.05"/><rect x="540.24" y="504.50" width="1.79" height="4.30" fill="#fff" fill-opacity="0.04"/><rect x="542.02" y="504.50" width="3.40" height="4.30" fill="#fff" fill-opacity="0.02"/><rect x="545.43" y="504.50" width="3.25" height="4.30" fill="#fff" fill-opacity="0.05"/><rect x="548.68" y="504.50" width="1.71" height="4.30" fill="#fff" fill-opacity="0.02"/><rect x="550.39" y="504.50" width="3.00" height="4.30" fill="#fff" fill-opacity="0.01"/><rect x="553.39" y="504.50" width="2.01" height="4.30" fill="#fff" fill-opacity="0.06"/><rect x="555.40" y="504.50" width="3.55" height="4.30" fill="#fff" fill-opacity="0.05"/><rect x="558.94" y="504.50" width="3.16" height="4.30" fill="#fff" fill-opacity="0.00"/><rect x="562.10" y="504.50" width="2.26" height="4.30" fill="#fff" fill-opacity="0.03"/><rect x="564.36" y="504.50" width="3.78" height="4.30" fill="#fff" fill-opacity="0.04"/><rect x="568.14" y="504.50" width="3.46" height="4.30" fill="#fff" fill-opacity="0.00"/><rect x="571.60" y="504.50" width="2.75" height="4.30" fill="#fff" fill-opacity="0.09"/><rect x="574.35" y="504.50" width="3.43" height="4.30" fill="#fff" fill-opacity="0.06"/><rect x="577.78" y="504.50" width="1.96" height="4.30" fill="#fff" fill-opacity="0.09"/><rect x="579.73" y="504.50" width="1.70" height="4.30" fill="#fff" fill-opacity="0.10"/><rect x="581.43" y="504.50" width="3.44" height="4.30" fill="#fff" fill-opacity="0.07"/><rect x="584.87" y="504.50" width="2.83" height="4.30" fill="#fff" fill-opacity="0.02"/><rect x="587.70" y="504.50" width="2.35" height="4.30" fill="#fff" fill-opacity="0.07"/><rect x="590.05" y="504.50" width="3.14" height="4.30" fill="#fff" fill-opacity="0.04"/><rect x="593.19" y="504.50" width="3.50" height="4.30" fill="#fff" fill-opacity="0.01"/>
<text x="490.50" y="417.61" font-size="10.3" fill="#000" text-anchor="middle" stroke="#000">Pericyte_3: Positive regulation</text>
<text x="491.30" y="430.11" font-size="10.3" fill="#000" text-anchor="middle" stroke="#000">of cell population proliferation pathway</text>
<text x="521.00" y="444.07" font-size="10.2" fill="#000" text-anchor="middle" stroke="#000">NES</text>
<text x="520.50" y="456.57" font-size="10.2" fill="#000" text-anchor="middle" stroke="#000">1.71</text>
<text x="568.00" y="456.57" font-size="10.2" fill="#000" text-anchor="middle" stroke="#000">0.00</text>
<text x="400.00" y="522.57" font-size="10.2" fill="#000" text-anchor="start" stroke="#000">Smoke+CNV</text>
<text x="594.60" y="522.57" font-size="10.2" fill="#000" text-anchor="end" stroke="#000">CNV</text>
<text font-size="10.2" text-anchor="middle" transform="translate(381.1 477) rotate(-90)" stroke="#000">Enrichment Score</text>
<text x="551.30" y="444.07" font-size="10.2" stroke="#000"><tspan font-style="italic">P</tspan> value</text>
<text x="117.1" y="550.08" font-size="12.5" font-style="italic" text-anchor="middle" stroke="#000">Plxnb1</text>
<path d="M67.5 610.3 C67.6 608.8 68.3 606.4 69.1 605.4 C69.9 604.4 71.2 604.3 72.3 604.2 C73.4 604.1 74.3 604.4 75.5 605.0 C76.7 605.6 78.4 606.9 79.5 607.9 C80.6 608.9 81.4 609.9 81.9 611.1 C82.5 612.3 81.8 614.0 82.8 615.1 C83.8 616.2 86.4 616.6 87.6 617.5 C88.8 618.4 89.6 619.4 90.0 620.7 C90.4 622.0 90.1 623.9 90.0 625.5 C89.9 627.1 89.6 628.9 89.2 630.3 C88.8 631.6 88.3 632.5 87.6 633.6 C86.9 634.7 86.3 636.3 85.2 636.8 C84.1 637.3 82.7 637.3 81.1 636.8 C79.5 636.3 77.2 634.3 75.5 633.6 C73.8 632.9 72.0 632.9 70.7 632.7 C69.4 632.6 68.4 631.9 67.5 632.7 C66.6 633.5 66.2 637.2 65.1 637.6 C64.0 638.0 62.5 636.4 61.1 635.2 C59.8 634.0 58.1 631.6 57.0 630.3 C55.9 628.9 55.0 628.4 54.6 627.1 C54.2 625.8 54.3 623.8 54.6 622.3 C54.9 620.8 55.4 619.1 56.2 618.3 C57.0 617.5 58.3 617.5 59.5 617.5 C60.7 617.5 62.3 618.3 63.5 618.3 C64.7 618.3 65.9 618.2 66.7 617.5 C67.5 616.8 68.2 615.5 68.3 614.3 C68.4 613.1 67.4 611.8 67.5 610.3 Z" fill="#FFF8C2" stroke="none" stroke-width="1"/>
<path d="M121.5 578.0 C122.2 576.1 123.9 576.7 126.0 576.5 C128.1 576.3 132.2 576.4 134.0 577.0 C135.8 577.6 136.2 578.2 137.0 580.0 C137.8 581.8 138.0 585.5 138.5 588.0 C139.0 590.5 138.9 593.6 140.0 595.0 C141.1 596.4 143.1 595.9 145.0 596.5 C146.9 597.1 149.7 595.9 151.5 598.6 C153.3 601.3 154.3 608.2 155.7 612.9 C157.1 617.6 158.9 622.2 160.0 627.0 C161.1 631.8 161.9 637.6 162.0 641.4 C162.1 645.2 161.3 647.6 160.5 650.0 C159.7 652.4 158.8 654.2 157.0 655.7 C155.2 657.2 151.8 658.0 150.0 659.0 C148.2 660.0 147.2 660.2 146.5 662.0 C145.8 663.8 146.1 667.0 146.0 670.0 C145.9 673.0 146.5 676.9 146.0 680.0 C145.5 683.1 144.8 687.1 143.0 688.6 C141.2 690.1 137.5 689.8 135.0 689.0 C132.5 688.2 130.7 685.5 128.0 684.0 C125.3 682.5 121.0 682.2 119.0 680.0 C117.0 677.8 116.1 673.4 115.7 671.0 C115.3 668.6 115.3 666.7 116.5 665.5 C117.7 664.3 121.2 664.9 123.0 664.0 C124.8 663.1 126.8 661.4 127.0 660.0 C127.2 658.6 124.8 658.2 124.0 655.7 C123.2 653.2 122.7 649.8 122.5 645.0 C122.3 640.2 122.7 632.4 122.9 627.0 C123.1 621.6 123.5 617.6 123.6 612.9 C123.7 608.2 123.9 602.8 123.6 598.6 C123.3 594.5 122.3 591.4 122.0 588.0 C121.7 584.6 120.8 579.9 121.5 578.0 Z" fill="#FFF8C2" stroke="none" stroke-width="1"/>
<g fill="#FFF8C2"><circle cx="53.6" cy="628.1" r="0.8"/><circle cx="66.4" cy="608.4" r="0.8"/><circle cx="53.8" cy="626.4" r="0.7"/><circle cx="91.2" cy="627.0" r="0.7"/><circle cx="66.4" cy="616.9" r="0.6"/><circle cx="74.9" cy="634.0" r="0.7"/><circle cx="56.3" cy="630.3" r="0.9"/><circle cx="91.3" cy="620.9" r="0.8"/><circle cx="71.7" cy="634.6" r="0.8"/><circle cx="69.2" cy="604.6" r="0.7"/><circle cx="70.3" cy="633.6" r="0.6"/><circle cx="84.2" cy="638.0" r="0.9"/><circle cx="86.2" cy="615.3" r="1.0"/><circle cx="67.8" cy="632.8" r="1.0"/><circle cx="59.1" cy="634.7" r="1.0"/><circle cx="73.8" cy="604.3" r="0.9"/><circle cx="74.4" cy="604.7" r="0.9"/><circle cx="89.9" cy="631.4" r="0.9"/><circle cx="61.3" cy="616.4" r="0.9"/><circle cx="91.6" cy="626.9" r="0.7"/><circle cx="81.1" cy="609.5" r="1.0"/><circle cx="67.5" cy="609.0" r="0.7"/><circle cx="70.6" cy="604.7" r="0.8"/><circle cx="87.2" cy="636.4" r="1.0"/><circle cx="90.6" cy="624.2" r="1.1"/><circle cx="66.8" cy="615.5" r="1.0"/><circle cx="64.5" cy="617.3" r="0.9"/><circle cx="90.6" cy="624.5" r="0.8"/><circle cx="57.1" cy="616.7" r="0.9"/><circle cx="62.3" cy="616.9" r="0.9"/><circle cx="90.9" cy="623.1" r="1.0"/><circle cx="67.9" cy="605.6" r="1.1"/><circle cx="58.5" cy="616.6" r="0.7"/><circle cx="74.4" cy="634.9" r="0.9"/><circle cx="83.7" cy="614.4" r="0.9"/><circle cx="90.2" cy="624.1" r="1.0"/><circle cx="68.2" cy="634.5" r="0.7"/><circle cx="61.6" cy="636.6" r="0.8"/><circle cx="90.3" cy="630.7" r="0.6"/><circle cx="73.0" cy="634.4" r="1.0"/><circle cx="64.0" cy="637.9" r="0.7"/><circle cx="53.3" cy="623.1" r="0.8"/><circle cx="82.8" cy="637.9" r="1.1"/><circle cx="67.7" cy="614.9" r="0.8"/><circle cx="61.4" cy="635.7" r="1.1"/><circle cx="54.5" cy="628.5" r="0.9"/><circle cx="82.2" cy="610.6" r="0.7"/><circle cx="77.9" cy="635.9" r="0.9"/><circle cx="75.3" cy="634.5" r="0.9"/><circle cx="83.6" cy="637.3" r="0.7"/><circle cx="53.8" cy="627.2" r="1.0"/><circle cx="54.9" cy="620.0" r="0.7"/><circle cx="87.7" cy="616.2" r="0.9"/><circle cx="88.3" cy="633.5" r="1.1"/><circle cx="89.3" cy="631.0" r="0.7"/><circle cx="78.2" cy="635.8" r="0.8"/><circle cx="84.8" cy="615.0" r="0.9"/><circle cx="54.9" cy="629.3" r="1.0"/><circle cx="68.2" cy="605.1" r="0.7"/></g>
<g fill="#FFF8C2"><circle cx="147.5" cy="595.5" r="0.8"/><circle cx="144.3" cy="688.3" r="1.1"/><circle cx="147.6" cy="675.0" r="0.8"/><circle cx="155.9" cy="613.4" r="0.7"/><circle cx="161.5" cy="630.3" r="0.9"/><circle cx="143.8" cy="687.8" r="0.7"/><circle cx="143.9" cy="687.9" r="0.8"/><circle cx="122.4" cy="646.8" r="0.9"/><circle cx="121.1" cy="629.5" r="0.8"/><circle cx="121.8" cy="616.0" r="0.8"/><circle cx="146.3" cy="673.7" r="0.7"/><circle cx="118.1" cy="677.8" r="1.0"/><circle cx="123.1" cy="618.7" r="0.9"/><circle cx="125.9" cy="659.1" r="1.1"/><circle cx="122.0" cy="600.9" r="0.8"/><circle cx="121.8" cy="663.6" r="0.7"/><circle cx="116.8" cy="675.0" r="0.6"/><circle cx="121.8" cy="636.4" r="0.9"/><circle cx="134.8" cy="689.9" r="0.6"/><circle cx="161.7" cy="633.3" r="0.8"/><circle cx="122.5" cy="651.0" r="1.0"/><circle cx="154.8" cy="606.8" r="0.7"/><circle cx="159.9" cy="621.3" r="0.9"/><circle cx="115.0" cy="667.0" r="0.9"/><circle cx="114.7" cy="668.8" r="1.1"/><circle cx="149.8" cy="659.7" r="0.9"/><circle cx="114.3" cy="669.8" r="1.0"/><circle cx="126.7" cy="576.1" r="0.6"/><circle cx="146.4" cy="676.6" r="1.0"/><circle cx="161.3" cy="632.3" r="0.8"/><circle cx="147.2" cy="673.9" r="0.7"/><circle cx="128.4" cy="576.0" r="0.7"/><circle cx="144.9" cy="685.7" r="0.8"/><circle cx="134.4" cy="576.8" r="1.0"/><circle cx="130.6" cy="686.5" r="0.7"/><circle cx="138.4" cy="584.2" r="0.9"/><circle cx="121.2" cy="682.4" r="0.7"/><circle cx="162.4" cy="637.4" r="1.0"/><circle cx="156.2" cy="613.1" r="0.9"/><circle cx="143.1" cy="595.7" r="0.9"/><circle cx="134.0" cy="688.8" r="0.9"/><circle cx="132.6" cy="688.6" r="0.6"/><circle cx="121.8" cy="636.4" r="1.1"/><circle cx="160.4" cy="652.9" r="0.7"/><circle cx="115.4" cy="667.0" r="0.9"/><circle cx="122.7" cy="599.2" r="1.0"/><circle cx="120.9" cy="588.8" r="1.0"/><circle cx="121.7" cy="628.9" r="1.0"/><circle cx="120.8" cy="663.4" r="0.7"/><circle cx="157.5" cy="618.2" r="0.6"/><circle cx="123.0" cy="608.8" r="0.7"/><circle cx="124.1" cy="657.4" r="0.6"/><circle cx="140.4" cy="589.7" r="1.1"/><circle cx="159.0" cy="619.5" r="1.0"/><circle cx="146.4" cy="682.7" r="0.8"/><circle cx="124.6" cy="684.0" r="0.7"/><circle cx="141.0" cy="593.8" r="0.6"/><circle cx="155.6" cy="611.5" r="0.7"/><circle cx="122.2" cy="594.4" r="0.8"/><circle cx="138.2" cy="579.6" r="0.7"/><circle cx="146.5" cy="595.3" r="0.8"/><circle cx="122.6" cy="597.9" r="0.7"/><circle cx="122.2" cy="652.1" r="0.9"/><circle cx="121.5" cy="584.3" r="1.0"/><circle cx="150.8" cy="658.8" r="0.7"/><circle cx="122.2" cy="663.0" r="1.1"/><circle cx="122.2" cy="653.4" r="0.6"/><circle cx="159.1" cy="653.4" r="1.0"/><circle cx="146.8" cy="670.3" r="0.7"/><circle cx="159.8" cy="622.0" r="0.7"/><circle cx="161.9" cy="645.4" r="0.7"/><circle cx="160.3" cy="653.2" r="0.7"/><circle cx="146.6" cy="671.8" r="0.8"/><circle cx="120.3" cy="581.9" r="0.7"/><circle cx="157.1" cy="657.3" r="1.0"/><circle cx="116.9" cy="674.6" r="1.0"/><circle cx="157.3" cy="618.0" r="0.9"/><circle cx="123.3" cy="600.0" r="1.0"/><circle cx="116.9" cy="663.9" r="0.8"/><circle cx="139.6" cy="587.1" r="0.9"/><circle cx="121.6" cy="629.7" r="0.7"/><circle cx="138.4" cy="583.1" r="0.6"/><circle cx="121.0" cy="583.9" r="0.8"/><circle cx="120.6" cy="588.3" r="0.7"/><circle cx="142.7" cy="688.8" r="0.7"/><circle cx="147.2" cy="665.6" r="0.8"/><circle cx="115.2" cy="673.4" r="0.9"/><circle cx="152.2" cy="659.6" r="1.0"/><circle cx="121.1" cy="579.5" r="0.8"/><circle cx="125.8" cy="660.3" r="0.7"/><circle cx="127.2" cy="684.5" r="0.8"/><circle cx="155.5" cy="610.2" r="1.0"/><circle cx="160.4" cy="623.2" r="0.6"/><circle cx="157.0" cy="616.8" r="0.8"/><circle cx="158.5" cy="620.3" r="1.1"/><circle cx="160.2" cy="622.3" r="0.9"/><circle cx="160.2" cy="627.4" r="0.7"/><circle cx="123.3" cy="604.5" r="0.7"/><circle cx="162.6" cy="646.1" r="0.7"/><circle cx="136.9" cy="690.5" r="0.7"/><circle cx="123.7" cy="655.5" r="1.1"/><circle cx="119.8" cy="681.2" r="0.8"/><circle cx="123.3" cy="609.5" r="1.0"/><circle cx="122.0" cy="597.8" r="1.0"/><circle cx="147.5" cy="595.7" r="0.8"/><circle cx="116.9" cy="664.3" r="0.7"/><circle cx="146.5" cy="675.6" r="0.9"/><circle cx="144.9" cy="685.2" r="0.9"/><circle cx="117.1" cy="675.2" r="0.8"/><circle cx="123.4" cy="577.1" r="0.8"/><circle cx="131.7" cy="575.9" r="0.6"/><circle cx="122.6" cy="663.7" r="0.6"/><circle cx="118.3" cy="679.8" r="0.8"/><circle cx="122.3" cy="645.6" r="1.0"/><circle cx="159.6" cy="625.7" r="1.0"/><circle cx="122.2" cy="630.0" r="1.1"/><circle cx="120.7" cy="590.3" r="0.9"/><circle cx="125.4" cy="576.7" r="1.0"/><circle cx="158.7" cy="618.9" r="1.0"/><circle cx="120.9" cy="643.8" r="0.7"/><circle cx="121.9" cy="646.0" r="0.8"/><circle cx="137.6" cy="689.7" r="0.9"/><circle cx="146.2" cy="671.7" r="0.9"/><circle cx="124.6" cy="660.9" r="0.6"/><circle cx="146.8" cy="669.9" r="0.8"/><circle cx="146.9" cy="669.0" r="1.1"/><circle cx="161.4" cy="633.4" r="0.7"/><circle cx="138.1" cy="579.5" r="1.1"/><circle cx="121.3" cy="590.5" r="0.9"/><circle cx="125.0" cy="575.5" r="1.0"/><circle cx="122.2" cy="652.8" r="1.0"/><circle cx="146.3" cy="665.8" r="0.6"/><circle cx="125.4" cy="575.2" r="0.7"/><circle cx="162.1" cy="648.2" r="0.7"/><circle cx="155.0" cy="610.5" r="0.7"/><circle cx="121.5" cy="627.7" r="0.6"/><circle cx="132.6" cy="575.3" r="0.9"/><circle cx="146.5" cy="596.3" r="0.9"/><circle cx="122.2" cy="643.9" r="0.7"/><circle cx="121.5" cy="634.4" r="1.0"/><circle cx="121.9" cy="605.3" r="0.8"/><circle cx="123.2" cy="601.9" r="1.0"/><circle cx="121.4" cy="643.5" r="0.6"/><circle cx="120.5" cy="583.1" r="0.9"/><circle cx="121.4" cy="636.8" r="1.1"/><circle cx="158.0" cy="655.3" r="0.9"/><circle cx="121.5" cy="637.2" r="0.7"/><circle cx="127.8" cy="685.6" r="1.0"/><circle cx="121.6" cy="650.1" r="1.0"/><circle cx="122.4" cy="595.6" r="0.7"/><circle cx="154.7" cy="608.5" r="0.8"/><circle cx="125.1" cy="576.5" r="0.8"/><circle cx="140.4" cy="594.8" r="0.9"/><circle cx="146.6" cy="669.6" r="1.0"/><circle cx="159.4" cy="652.0" r="1.1"/><circle cx="153.3" cy="657.7" r="1.0"/><circle cx="122.8" cy="611.8" r="0.7"/><circle cx="147.0" cy="596.5" r="0.8"/><circle cx="146.4" cy="681.4" r="0.7"/><circle cx="160.1" cy="623.1" r="1.0"/><circle cx="155.9" cy="611.1" r="0.6"/><circle cx="146.0" cy="684.1" r="0.7"/><circle cx="122.4" cy="622.9" r="1.0"/><circle cx="124.1" cy="656.4" r="1.0"/><circle cx="146.9" cy="667.5" r="0.6"/><circle cx="129.8" cy="685.4" r="1.1"/><circle cx="121.5" cy="593.6" r="0.9"/><circle cx="121.1" cy="646.2" r="0.9"/><circle cx="162.3" cy="632.8" r="1.0"/><circle cx="117.4" cy="676.4" r="0.8"/><circle cx="156.6" cy="656.2" r="0.7"/><circle cx="122.3" cy="620.5" r="0.9"/><circle cx="147.8" cy="668.1" r="0.7"/><circle cx="144.4" cy="595.0" r="0.6"/><circle cx="121.9" cy="623.7" r="1.0"/><circle cx="138.5" cy="582.3" r="0.7"/><circle cx="121.0" cy="641.6" r="0.9"/><circle cx="122.9" cy="682.4" r="0.8"/><circle cx="136.8" cy="578.6" r="0.8"/><circle cx="161.4" cy="645.8" r="1.0"/><circle cx="121.1" cy="634.5" r="0.7"/><circle cx="116.7" cy="677.0" r="0.8"/><circle cx="114.8" cy="670.4" r="1.0"/><circle cx="122.0" cy="681.9" r="0.9"/><circle cx="144.9" cy="684.3" r="1.0"/><circle cx="121.7" cy="638.3" r="0.7"/><circle cx="147.7" cy="661.5" r="0.8"/><circle cx="121.9" cy="629.0" r="0.7"/><circle cx="140.2" cy="592.2" r="1.0"/><circle cx="138.0" cy="582.4" r="0.9"/><circle cx="121.8" cy="648.7" r="0.9"/><circle cx="123.9" cy="657.9" r="1.0"/><circle cx="123.1" cy="650.5" r="0.9"/><circle cx="133.3" cy="575.6" r="1.1"/><circle cx="121.9" cy="602.5" r="0.7"/><circle cx="122.1" cy="625.1" r="0.8"/><circle cx="121.9" cy="607.1" r="1.0"/><circle cx="121.1" cy="583.8" r="1.0"/><circle cx="122.1" cy="591.8" r="1.0"/><circle cx="161.6" cy="627.1" r="1.0"/><circle cx="152.4" cy="598.8" r="1.0"/><circle cx="136.3" cy="577.9" r="0.9"/><circle cx="123.3" cy="656.6" r="0.8"/><circle cx="151.2" cy="658.9" r="0.7"/><circle cx="117.7" cy="678.4" r="0.9"/><circle cx="120.5" cy="582.8" r="0.8"/><circle cx="159.6" cy="624.3" r="1.0"/><circle cx="159.5" cy="621.7" r="0.7"/></g>
<path d="M143.0 600.0 C143.7 598.7 145.8 598.7 147.0 599.0 C148.2 599.3 149.6 600.7 150.0 602.0 C150.4 603.3 150.2 605.7 149.5 607.0 C148.8 608.3 147.1 610.0 146.0 610.0 C144.9 610.0 143.5 608.7 143.0 607.0 C142.5 605.3 142.3 601.3 143.0 600.0 Z" fill="#fff" stroke="none" stroke-width="1" fill-opacity="0.85"/>
<path d="M136.0 657.0 C136.7 655.9 139.2 655.4 141.0 655.5 C142.8 655.6 146.1 656.4 147.0 657.5 C147.9 658.6 147.5 660.9 146.5 662.0 C145.5 663.1 142.6 664.0 141.0 664.0 C139.4 664.0 137.8 663.2 137.0 662.0 C136.2 660.8 135.3 658.1 136.0 657.0 Z" fill="#fff" stroke="none" stroke-width="1" fill-opacity="0.85"/>
<g fill="#fff" fill-opacity="0.9"><circle cx="132.1" cy="612.0" r="0.9"/><circle cx="125.0" cy="617.6" r="0.6"/><circle cx="133.3" cy="593.1" r="0.9"/><circle cx="127.7" cy="625.8" r="1.0"/><circle cx="134.9" cy="619.7" r="0.9"/><circle cx="127.0" cy="636.0" r="0.9"/><circle cx="128.4" cy="601.1" r="0.8"/><circle cx="160.4" cy="630.6" r="0.7"/><circle cx="135.9" cy="661.3" r="1.0"/><circle cx="131.5" cy="648.0" r="0.6"/><circle cx="137.1" cy="603.9" r="0.7"/><circle cx="144.4" cy="643.1" r="1.0"/><circle cx="141.8" cy="633.0" r="0.9"/><circle cx="150.3" cy="636.3" r="0.7"/><circle cx="134.8" cy="671.8" r="1.0"/><circle cx="146.8" cy="627.8" r="0.9"/><circle cx="150.4" cy="632.1" r="0.8"/><circle cx="154.6" cy="646.1" r="0.9"/><circle cx="142.2" cy="618.1" r="0.8"/><circle cx="125.4" cy="585.5" r="0.8"/><circle cx="147.0" cy="640.4" r="0.7"/><circle cx="144.3" cy="655.9" r="0.5"/><circle cx="132.6" cy="645.1" r="0.9"/><circle cx="142.6" cy="622.7" r="0.9"/><circle cx="146.0" cy="621.0" r="0.6"/><circle cx="143.1" cy="646.1" r="0.6"/><circle cx="154.5" cy="622.5" r="0.6"/><circle cx="140.8" cy="649.5" r="0.8"/><circle cx="139.7" cy="633.3" r="1.0"/><circle cx="130.7" cy="593.1" r="1.1"/><circle cx="121.8" cy="580.1" r="0.5"/><circle cx="127.4" cy="645.4" r="0.9"/><circle cx="143.9" cy="641.1" r="0.8"/><circle cx="136.7" cy="666.6" r="0.9"/><circle cx="147.0" cy="657.0" r="1.1"/><circle cx="144.6" cy="622.3" r="1.1"/><circle cx="138.5" cy="650.0" r="0.9"/><circle cx="138.7" cy="680.6" r="0.7"/><circle cx="126.4" cy="590.0" r="1.0"/><circle cx="125.6" cy="662.3" r="1.1"/><circle cx="129.5" cy="636.3" r="0.5"/><circle cx="136.8" cy="638.7" r="0.9"/><circle cx="139.2" cy="619.1" r="0.8"/><circle cx="143.0" cy="686.5" r="0.8"/><circle cx="158.9" cy="634.9" r="0.6"/><circle cx="145.6" cy="610.8" r="0.6"/><circle cx="144.5" cy="671.3" r="1.1"/><circle cx="148.5" cy="617.6" r="1.1"/><circle cx="129.2" cy="632.7" r="1.1"/><circle cx="142.6" cy="671.2" r="0.8"/><circle cx="144.4" cy="625.8" r="0.9"/><circle cx="147.9" cy="640.1" r="0.6"/><circle cx="127.2" cy="612.6" r="1.0"/><circle cx="131.5" cy="611.9" r="0.7"/><circle cx="125.6" cy="610.3" r="0.6"/><circle cx="84.8" cy="633.7" r="0.8"/><circle cx="69.5" cy="607.3" r="0.9"/><circle cx="59.8" cy="621.9" r="0.8"/><circle cx="68.1" cy="628.0" r="0.8"/><circle cx="78.2" cy="624.8" r="0.6"/><circle cx="77.7" cy="616.6" r="0.9"/><circle cx="63.9" cy="619.4" r="1.0"/><circle cx="63.5" cy="622.8" r="0.5"/></g>
<circle cx="76.0" cy="630.6" r="1.15" fill="#F26B52"/><circle cx="60.0" cy="618.5" r="1.15" fill="#E0506A"/><circle cx="84.0" cy="636.7" r="1.15" fill="#6E1F80"/><circle cx="76.3" cy="616.0" r="1.15" fill="#F26B52"/><circle cx="86.6" cy="634.1" r="1.15" fill="#6E1F80"/><circle cx="65.0" cy="629.7" r="1.15" fill="#F26B52"/><circle cx="74.9" cy="624.5" r="1.15" fill="#E0506A"/><circle cx="59.7" cy="630.3" r="1.15" fill="#F26B52"/><circle cx="69.5" cy="608.4" r="1.15" fill="#F26B52"/><circle cx="85.7" cy="630.3" r="1.15" fill="#E0506A"/><circle cx="59.1" cy="628.5" r="1.15" fill="#F26B52"/><circle cx="68.6" cy="619.3" r="1.15" fill="#F78B5E"/><circle cx="82.6" cy="631.0" r="1.15" fill="#6E1F80"/><circle cx="60.5" cy="623.5" r="1.15" fill="#E0506A"/><circle cx="74.4" cy="632.7" r="1.15" fill="#B8377A"/><circle cx="69.3" cy="621.4" r="1.15" fill="#F26B52"/><circle cx="67.3" cy="633.2" r="1.15" fill="#F78B5E"/><circle cx="80.8" cy="622.9" r="1.15" fill="#F26B52"/><circle cx="57.2" cy="628.8" r="1.15" fill="#E0506A"/><circle cx="71.9" cy="614.6" r="1.15" fill="#F78B5E"/><circle cx="61.9" cy="625.1" r="1.15" fill="#E0506A"/><circle cx="63.9" cy="626.2" r="1.15" fill="#F78B5E"/><circle cx="57.6" cy="628.7" r="1.15" fill="#E0506A"/><circle cx="68.2" cy="618.3" r="1.15" fill="#B8377A"/><circle cx="79.9" cy="628.6" r="1.15" fill="#B8377A"/><circle cx="57.1" cy="626.1" r="1.15" fill="#E0506A"/><circle cx="60.4" cy="626.4" r="1.15" fill="#F26B52"/><circle cx="69.7" cy="609.7" r="1.15" fill="#F78B5E"/><circle cx="83.2" cy="626.9" r="1.15" fill="#F26B52"/><circle cx="83.5" cy="627.7" r="1.15" fill="#F26B52"/><circle cx="79.7" cy="625.4" r="1.15" fill="#F26B52"/><circle cx="64.1" cy="619.8" r="1.15" fill="#F26B52"/><circle cx="80.3" cy="610.5" r="1.15" fill="#E0506A"/><circle cx="84.5" cy="617.7" r="1.15" fill="#F78B5E"/><circle cx="67.0" cy="623.5" r="1.15" fill="#E0506A"/><circle cx="75.5" cy="629.9" r="1.15" fill="#F26B52"/><circle cx="78.1" cy="614.0" r="1.15" fill="#E0506A"/><circle cx="58.8" cy="625.9" r="1.15" fill="#6E1F80"/><circle cx="72.4" cy="632.7" r="1.15" fill="#F26B52"/><circle cx="74.4" cy="631.6" r="1.15" fill="#F78B5E"/><circle cx="87.0" cy="619.5" r="1.15" fill="#F26B52"/><circle cx="69.0" cy="617.9" r="1.15" fill="#E0506A"/><circle cx="72.5" cy="632.4" r="1.15" fill="#F78B5E"/><circle cx="70.8" cy="623.7" r="1.15" fill="#E0506A"/><circle cx="60.3" cy="628.6" r="1.15" fill="#B8377A"/><circle cx="79.5" cy="610.2" r="1.15" fill="#F78B5E"/><circle cx="64.4" cy="618.2" r="1.15" fill="#F78B5E"/><circle cx="71.6" cy="616.0" r="1.15" fill="#F26B52"/><circle cx="87.7" cy="625.7" r="1.15" fill="#E0506A"/><circle cx="79.6" cy="619.7" r="1.15" fill="#E0506A"/><circle cx="72.0" cy="604.5" r="1.15" fill="#6E1F80"/><circle cx="72.8" cy="614.4" r="1.15" fill="#E0506A"/><circle cx="56.6" cy="623.0" r="1.15" fill="#F78B5E"/><circle cx="80.7" cy="612.2" r="1.15" fill="#F78B5E"/><circle cx="56.3" cy="618.8" r="1.15" fill="#F26B52"/><circle cx="88.2" cy="629.3" r="1.15" fill="#F78B5E"/><circle cx="77.8" cy="617.5" r="1.15" fill="#F26B52"/><circle cx="80.9" cy="623.4" r="1.15" fill="#E0506A"/><circle cx="80.2" cy="621.4" r="1.15" fill="#F26B52"/><circle cx="66.4" cy="618.0" r="1.15" fill="#E0506A"/><circle cx="73.9" cy="610.8" r="1.15" fill="#F78B5E"/><circle cx="80.3" cy="626.0" r="1.15" fill="#F26B52"/><circle cx="71.7" cy="614.2" r="1.15" fill="#6E1F80"/><circle cx="82.2" cy="636.7" r="1.15" fill="#F26B52"/><circle cx="69.1" cy="610.3" r="1.15" fill="#F26B52"/><circle cx="75.9" cy="608.0" r="1.15" fill="#6E1F80"/><circle cx="69.3" cy="616.4" r="1.15" fill="#B8377A"/><circle cx="84.6" cy="619.7" r="1.15" fill="#F78B5E"/><circle cx="70.5" cy="627.8" r="1.15" fill="#B8377A"/><circle cx="70.6" cy="609.2" r="1.15" fill="#F26B52"/><circle cx="140.6" cy="600.8" r="1.15" fill="#F8905F"/><circle cx="129.3" cy="592.8" r="1.15" fill="#FDB07A"/><circle cx="144.0" cy="599.6" r="1.15" fill="#FDB07A"/><circle cx="143.0" cy="601.8" r="1.15" fill="#F8905F"/><circle cx="129.2" cy="602.0" r="1.15" fill="#FDB07A"/><circle cx="127.0" cy="588.1" r="1.15" fill="#FDB07A"/><circle cx="134.4" cy="599.4" r="1.15" fill="#F8905F"/><circle cx="126.6" cy="591.6" r="1.15" fill="#FDB07A"/><circle cx="124.7" cy="586.4" r="1.15" fill="#FDB07A"/><circle cx="135.4" cy="582.0" r="1.15" fill="#FDB07A"/><circle cx="131.8" cy="595.9" r="1.15" fill="#FDB07A"/><circle cx="123.0" cy="582.6" r="1.15" fill="#B8377A"/><circle cx="150.1" cy="605.0" r="1.15" fill="#FDB07A"/><circle cx="126.8" cy="601.1" r="1.15" fill="#FDB07A"/><circle cx="131.5" cy="578.4" r="1.15" fill="#FDB07A"/><circle cx="129.4" cy="602.2" r="1.15" fill="#B8377A"/><circle cx="138.9" cy="594.8" r="1.15" fill="#F8905F"/><circle cx="139.4" cy="600.9" r="1.15" fill="#F8905F"/><circle cx="128.0" cy="634.2" r="1.15" fill="#F46A5A"/><circle cx="137.5" cy="654.0" r="1.15" fill="#F46A5A"/><circle cx="147.3" cy="644.7" r="1.15" fill="#A8327D"/><circle cx="154.9" cy="613.2" r="1.15" fill="#F46A5A"/><circle cx="130.7" cy="648.6" r="1.15" fill="#A8327D"/><circle cx="123.6" cy="647.4" r="1.15" fill="#F46A5A"/><circle cx="136.9" cy="641.0" r="1.15" fill="#D6456B"/><circle cx="144.2" cy="605.7" r="1.15" fill="#F46A5A"/><circle cx="151.8" cy="641.5" r="1.15" fill="#D6456B"/><circle cx="146.8" cy="648.0" r="1.15" fill="#D6456B"/><circle cx="134.2" cy="631.6" r="1.15" fill="#F46A5A"/><circle cx="145.9" cy="614.5" r="1.15" fill="#F98E62"/><circle cx="125.1" cy="637.4" r="1.15" fill="#4A1270"/><circle cx="159.8" cy="646.5" r="1.15" fill="#F46A5A"/><circle cx="126.1" cy="605.2" r="1.15" fill="#F46A5A"/><circle cx="132.3" cy="627.0" r="1.15" fill="#D6456B"/><circle cx="158.6" cy="643.4" r="1.15" fill="#D6456B"/><circle cx="128.2" cy="634.6" r="1.15" fill="#F46A5A"/><circle cx="134.7" cy="623.8" r="1.15" fill="#F46A5A"/><circle cx="137.8" cy="609.5" r="1.15" fill="#F98E62"/><circle cx="147.5" cy="637.5" r="1.15" fill="#A8327D"/><circle cx="134.6" cy="643.2" r="1.15" fill="#4A1270"/><circle cx="125.5" cy="614.3" r="1.15" fill="#D6456B"/><circle cx="154.3" cy="608.7" r="1.15" fill="#F46A5A"/><circle cx="133.8" cy="654.9" r="1.15" fill="#F46A5A"/><circle cx="126.3" cy="630.2" r="1.15" fill="#F98E62"/><circle cx="149.5" cy="614.0" r="1.15" fill="#F46A5A"/><circle cx="128.0" cy="645.4" r="1.15" fill="#F46A5A"/><circle cx="138.4" cy="646.9" r="1.15" fill="#F46A5A"/><circle cx="160.8" cy="645.3" r="1.15" fill="#D6456B"/><circle cx="149.7" cy="619.2" r="1.15" fill="#A8327D"/><circle cx="157.6" cy="636.0" r="1.15" fill="#F46A5A"/><circle cx="128.3" cy="627.1" r="1.15" fill="#D6456B"/><circle cx="147.6" cy="637.2" r="1.15" fill="#F98E62"/><circle cx="142.5" cy="649.6" r="1.15" fill="#F46A5A"/><circle cx="151.9" cy="648.2" r="1.15" fill="#F46A5A"/><circle cx="137.3" cy="608.5" r="1.15" fill="#4A1270"/><circle cx="152.5" cy="614.5" r="1.15" fill="#F98E62"/><circle cx="159.5" cy="626.1" r="1.15" fill="#F46A5A"/><circle cx="129.6" cy="633.7" r="1.15" fill="#D6456B"/><circle cx="129.5" cy="611.1" r="1.15" fill="#F46A5A"/><circle cx="155.7" cy="646.2" r="1.15" fill="#F46A5A"/><circle cx="145.1" cy="622.6" r="1.15" fill="#D6456B"/><circle cx="147.5" cy="605.4" r="1.15" fill="#F46A5A"/><circle cx="153.8" cy="608.9" r="1.15" fill="#F46A5A"/><circle cx="132.8" cy="628.9" r="1.15" fill="#F46A5A"/><circle cx="148.8" cy="610.1" r="1.15" fill="#F46A5A"/><circle cx="160.0" cy="642.3" r="1.15" fill="#F46A5A"/><circle cx="133.4" cy="638.1" r="1.15" fill="#F46A5A"/><circle cx="128.8" cy="650.7" r="1.15" fill="#F46A5A"/><circle cx="139.2" cy="671.9" r="1.15" fill="#A8327D"/><circle cx="146.7" cy="660.7" r="1.15" fill="#A8327D"/><circle cx="142.6" cy="668.2" r="1.15" fill="#A8327D"/><circle cx="130.3" cy="666.0" r="1.15" fill="#A8327D"/><circle cx="139.3" cy="673.2" r="1.15" fill="#A8327D"/><circle cx="145.3" cy="669.9" r="1.15" fill="#A8327D"/><circle cx="135.6" cy="675.0" r="1.15" fill="#7B2382"/><circle cx="147.3" cy="661.0" r="1.15" fill="#A8327D"/><circle cx="119.0" cy="673.0" r="1.15" fill="#E0506A"/>
<circle cx="118.7" cy="675.8" r="1.4" fill="#000"/>
<defs><linearGradient id="mg" x1="0" x2="0" y1="0" y2="1"><stop offset="0.000" stop-color="#000004"/><stop offset="0.100" stop-color="#150E37"/><stop offset="0.200" stop-color="#3B0F70"/><stop offset="0.300" stop-color="#641A80"/><stop offset="0.400" stop-color="#8C2981"/><stop offset="0.500" stop-color="#B73779"/><stop offset="0.600" stop-color="#DE4968"/><stop offset="0.700" stop-color="#F76F5C"/><stop offset="0.800" stop-color="#FE9F6D"/><stop offset="0.900" stop-color="#FECE91"/><stop offset="1.000" stop-color="#FCFDBF"/></linearGradient></defs>
<rect x="172.00" y="619.00" width="6.70" height="31.70" fill="url(#mg)"/>
<text x="181.70" y="621.26" font-size="7.6" fill="#000" text-anchor="start" stroke="#000">10.0</text>
<text x="181.70" y="631.96" font-size="7.6" fill="#000" text-anchor="start" stroke="#000">7.5</text>
<text x="181.70" y="642.66" font-size="7.6" fill="#000" text-anchor="start" stroke="#000">5.0</text>
<text x="181.70" y="652.96" font-size="7.6" fill="#000" text-anchor="start" stroke="#000">2.5</text>
<text x="46.00" y="641.07" font-size="10.2" fill="#000" text-anchor="start" stroke="#000">Pericyte_2</text>
<text x="120.30" y="596.57" font-size="10.2" fill="#000" text-anchor="start" stroke="#000">Pericyte_3</text>
<text x="116.00" y="655.57" font-size="10.2" fill="#000" text-anchor="start" stroke="#000">Pericyte_1</text>
<line x1="38.70" y1="705.50" x2="38.70" y2="673.00" stroke="#333" stroke-width="0.9"/>
<line x1="38.70" y1="705.50" x2="70.60" y2="705.50" stroke="#333" stroke-width="0.9"/>
<path d="M36.5 674.0 L38.7 669.5 L40.9 674.0 Z" fill="#111" stroke="none" stroke-width="1"/>
<path d="M70.1 703.3 L74.6 705.5 L70.1 707.7 Z" fill="#111" stroke="none" stroke-width="1"/>
<text x="39.20" y="715.57" font-size="10.2" fill="#000" text-anchor="start" stroke="#000">UMAP_1</text>
<text font-size="10.2" text-anchor="middle" transform="translate(35.0 684.5) rotate(-90)" stroke="#000">UMAP_2</text>
<text x="342" y="548.08" font-size="12.5" font-style="italic" text-anchor="middle" stroke="#000">Plxnb1</text>
<rect x="273.70" y="553.00" width="47.55" height="127.00" fill="#EAF2F8"/>
<rect x="321.25" y="553.00" width="42.50" height="127.00" fill="#CFE0EF"/>
<rect x="363.75" y="553.00" width="48.25" height="127.00" fill="#EEF6E6"/>
<line x1="273.70" y1="643.00" x2="412.00" y2="643.00" stroke="#c4c4c4" stroke-width="0.9" stroke-dasharray="5 5.5"/>
<line x1="273.70" y1="611.00" x2="412.00" y2="611.00" stroke="#c4c4c4" stroke-width="0.9" stroke-dasharray="5 5.5"/>
<line x1="273.70" y1="579.00" x2="412.00" y2="579.00" stroke="#c4c4c4" stroke-width="0.9" stroke-dasharray="5 5.5"/>
<line x1="273.70" y1="675.00" x2="412.00" y2="675.00" stroke="#d0d0d0" stroke-width="0.8"/>
<line x1="271.00" y1="675.00" x2="273.70" y2="675.00" stroke="#333" stroke-width="0.8"/>
<text x="271.80" y="677.27" font-size="10.2" fill="#000" text-anchor="end" stroke="#000">0</text>
<line x1="271.00" y1="643.00" x2="273.70" y2="643.00" stroke="#333" stroke-width="0.8"/>
<text x="271.80" y="645.27" font-size="10.2" fill="#000" text-anchor="end" stroke="#000">1</text>
<line x1="271.00" y1="611.00" x2="273.70" y2="611.00" stroke="#333" stroke-width="0.8"/>
<text x="271.80" y="613.27" font-size="10.2" fill="#000" text-anchor="end" stroke="#000">2</text>
<line x1="271.00" y1="579.00" x2="273.70" y2="579.00" stroke="#333" stroke-width="0.8"/>
<text x="271.80" y="581.27" font-size="10.2" fill="#000" text-anchor="end" stroke="#000">3</text>
<text font-size="10.2" text-anchor="middle" transform="translate(262.6 611.9) rotate(-90)" stroke="#000">Expression level</text>
<path d="M280 674.6 Q296 673.5 299.5 670.8 Q303 673.5 318.75 674.6 Z" fill="#8EC4E6" stroke="#222" stroke-width="0.7"/>
<line x1="299.50" y1="671.00" x2="299.50" y2="586.00" stroke="#222" stroke-width="0.8"/>
<path d="M323 674.6 Q338 672 341.5 667 L342.5 665 L343.5 667 Q347 672 362 674.6 Z" fill="#F6A55E" stroke="#222" stroke-width="0.7"/>
<path d="M342.5 665 C341.5 660 341.8 655 341 650 C340.5 645 341.5 640 342.2 636 L342.5 625 L342.8 636 C343.5 640 344.5 645 344 650 C343.2 655 343.5 660 342.5 665 Z" fill="#F6A55E" stroke="#222" stroke-width="0.7"/>
<path d="M366 674.6 Q382 673.5 386.25 671.5 Q390.5 673.5 402.5 674.6 Z" fill="#2E8B2E" stroke="#222" stroke-width="0.7"/>
<path d="M386.25 671.5 C385.6 667 385.7 663 386 660 L386.25 641 L386.5 660 C386.8 663 386.9 667 386.25 671.5 Z" fill="#2E8B2E" stroke="#222" stroke-width="0.6"/>
<circle cx="299.5" cy="674.3" r="1.2" fill="none" stroke="#222" stroke-width="0.7"/>
<circle cx="342.5" cy="674.3" r="1.2" fill="none" stroke="#222" stroke-width="0.7"/>
<circle cx="386.25" cy="674.3" r="1.2" fill="none" stroke="#222" stroke-width="0.7"/>
<rect x="273.70" y="553.00" width="138.30" height="127.00" fill="none" stroke="#333" stroke-width="1"/>
<path d="M299.5 593.25 L299.5 590.75 L342.5 590.75 L342.5 593.25" fill="none" stroke="#222" stroke-width="0.8"/>
<text x="321.00" y="591.40" font-size="9" fill="#000" text-anchor="middle" stroke="#000">****</text>
<path d="M299.5 585.0 L299.5 582.5 L386.25 582.5 L386.25 585.0" fill="none" stroke="#222" stroke-width="0.8"/>
<text x="342.88" y="583.90" font-size="9" fill="#000" text-anchor="middle" stroke="#000">****</text>
<path d="M342.5 574.5 L342.5 572 L386.25 572 L386.25 574.5" fill="none" stroke="#222" stroke-width="0.8"/>
<text x="364.38" y="573.15" font-size="9" fill="#000" text-anchor="middle" stroke="#000">****</text>
<line x1="299.50" y1="680.00" x2="299.50" y2="683.50" stroke="#333" stroke-width="0.9"/>
<text font-size="10.2" text-anchor="end" transform="translate(304.00 688.5) rotate(-45)" stroke="#000">Pericyte_1</text>
<line x1="342.50" y1="680.00" x2="342.50" y2="683.50" stroke="#333" stroke-width="0.9"/>
<text font-size="10.2" text-anchor="end" transform="translate(347.00 688.5) rotate(-45)" stroke="#000">Pericyte_2</text>
<line x1="386.25" y1="680.00" x2="386.25" y2="683.50" stroke="#333" stroke-width="0.9"/>
<text font-size="10.2" text-anchor="end" transform="translate(390.75 688.5) rotate(-45)" stroke="#000">Pericyte_3</text>
<line x1="515.00" y1="588.00" x2="515.00" y2="648.00" stroke="#e6e6e6" stroke-width="0.8"/>
<line x1="537.50" y1="588.00" x2="537.50" y2="648.00" stroke="#e6e6e6" stroke-width="0.8"/>
<line x1="560.00" y1="588.00" x2="560.00" y2="648.00" stroke="#e6e6e6" stroke-width="0.8"/>
<line x1="582.70" y1="588.00" x2="582.70" y2="648.00" stroke="#e6e6e6" stroke-width="0.8"/>
<line x1="605.00" y1="588.00" x2="605.00" y2="648.00" stroke="#e6e6e6" stroke-width="0.8"/>
<line x1="630.70" y1="588.00" x2="630.70" y2="648.00" stroke="#e6e6e6" stroke-width="0.8"/>
<line x1="656.90" y1="588.00" x2="656.90" y2="648.00" stroke="#e6e6e6" stroke-width="0.8"/>
<line x1="680.00" y1="588.00" x2="680.00" y2="648.00" stroke="#e6e6e6" stroke-width="0.8"/>
<line x1="503.75" y1="588.00" x2="503.75" y2="648.00" stroke="#333" stroke-width="0.9"/>
<text x="502.00" y="599.32" font-size="10.2" fill="#2b2b2b" stroke="#2b2b2b" text-anchor="end">0.3</text>
<text x="502.00" y="611.57" font-size="10.2" fill="#2b2b2b" stroke="#2b2b2b" text-anchor="end">0.2</text>
<text x="502.00" y="623.07" font-size="10.2" fill="#2b2b2b" stroke="#2b2b2b" text-anchor="end">0.1</text>
<text x="502.00" y="634.82" font-size="10.2" fill="#2b2b2b" stroke="#2b2b2b" text-anchor="end">0.0</text>
<text x="502.00" y="647.32" font-size="10.2" fill="#2b2b2b" stroke="#2b2b2b" text-anchor="end">−0.1</text>
<path d="M503.75 630.00 L504.50 613.75 L505.38 612.84 L506.25 612.46 L507.50 613.96 L508.33 607.99 L509.17 601.91 L510.00 595.82 L510.94 596.57 L511.88 597.01 L512.81 597.44 L513.75 598.20 L514.58 596.79 L515.42 595.37 L516.25 593.35 L517.19 593.54 L518.12 593.73 L519.06 593.89 L520.00 594.07 L520.83 593.62 L521.67 593.29 L522.50 592.83 L523.33 592.37 L524.17 592.49 L525.00 592.03 L525.83 592.45 L526.67 592.20 L527.50 592.61 L528.33 593.03 L529.17 594.10 L530.00 594.51 L530.83 594.18 L531.67 593.76 L532.50 593.43 L533.33 593.72 L534.17 593.43 L535.00 593.73 L535.83 594.02 L536.67 594.75 L537.50 595.04 L538.33 595.54 L539.17 595.94 L540.00 596.44 L540.83 596.94 L541.67 597.40 L542.50 597.90 L543.33 597.32 L544.17 597.38 L545.00 596.80 L545.83 596.21 L546.67 594.64 L547.50 594.05 L548.33 594.43 L549.17 594.72 L550.00 595.10 L550.83 595.47 L551.67 596.86 L552.50 597.23 L553.33 596.90 L554.17 595.98 L555.00 595.64 L555.83 596.25 L556.67 596.64 L557.50 597.24 L558.33 597.85 L559.17 598.61 L560.00 599.21 L560.82 599.21 L561.64 599.25 L562.46 599.25 L563.28 599.25 L564.10 599.90 L564.92 599.90 L565.74 599.90 L566.56 599.08 L567.38 599.08 L568.20 599.08 L569.05 599.63 L569.90 600.18 L570.75 600.72 L571.60 601.67 L572.45 602.21 L573.30 602.76 L574.15 603.26 L575.00 603.80 L575.88 604.28 L576.76 605.20 L577.64 605.67 L578.52 606.15 L579.40 606.50 L580.28 606.97 L581.16 607.45 L582.04 607.39 L582.92 607.87 L583.80 608.34 L584.61 608.39 L585.42 608.60 L586.23 608.81 L587.04 609.71 L587.86 609.93 L588.67 610.14 L589.48 610.52 L590.29 610.73 L591.10 610.94 L592.01 610.47 L592.93 611.05 L593.84 611.64 L594.76 613.00 L595.67 613.59 L596.59 614.17 L597.50 614.91 L598.33 615.36 L599.15 615.81 L599.98 616.03 L600.81 616.48 L601.64 616.94 L602.46 616.92 L603.29 617.37 L604.12 617.83 L604.95 618.92 L605.77 619.37 L606.60 619.83 L607.45 620.08 L608.29 620.40 L609.14 620.72 L609.98 620.46 L610.83 620.78 L611.68 621.10 L612.52 621.92 L613.37 622.24 L614.22 622.56 L615.06 622.42 L615.91 622.74 L616.75 623.07 L617.60 623.20 L618.51 623.51 L619.43 623.82 L620.34 624.46 L621.26 624.78 L622.17 625.09 L623.09 625.40 L624.00 625.72 L624.84 626.04 L625.68 626.43 L626.52 626.76 L627.35 627.08 L628.19 627.68 L629.03 628.00 L629.87 628.32 L630.71 628.85 L631.55 629.18 L632.38 629.50 L633.22 629.96 L634.06 630.28 L634.90 630.61 L635.82 630.69 L636.73 630.76 L637.65 630.82 L638.57 630.91 L639.48 630.98 L640.40 631.04 L641.20 631.24 L642.00 631.66 L642.80 632.08 L643.60 631.96 L644.40 632.38 L645.20 632.80 L646.00 633.08 L646.80 633.49 L647.60 633.91 L648.40 634.82 L649.20 635.24 L650.00 635.66 L650.80 635.99 L651.60 636.41 L652.40 636.83 L653.20 637.39 L654.12 637.79 L655.03 638.19 L655.95 637.95 L656.87 638.35 L657.78 638.75 L658.70 639.26 L659.53 639.65 L660.37 640.03 L661.20 641.21 L662.03 641.60 L662.87 641.98 L663.70 642.01 L664.53 642.39 L665.37 642.78 L666.20 643.26 L667.03 643.65 L667.87 644.03 L668.70 643.76 L669.62 643.06 L670.55 642.36 L671.48 641.99 L672.40 641.29 L673.30 641.59 L674.20 642.45 L675.10 642.75 L676.02 643.00 L676.95 642.96 L677.88 643.21 L678.80 643.46 L679.70 636.49 L680.60 629.14 L681.42 629.36 L682.23 628.70 L683.05 628.92 L683.87 629.13 L684.68 629.63 L685.50 629.90" fill="none" stroke="#19EE19" stroke-width="1.15" stroke-linejoin="round"/>
<path fill="#000" d="M504.50 648.0h1.48v14.2h-1.48zM507.35 648.0h0.73v14.2h-0.73z"/>
<path fill="#000" d="M513.50 648.0h0.73v14.2h-0.73zM515.10 648.0h1.10v14.2h-1.10z"/>
<path fill="#000" d="M520.30 648.0h1.47v14.2h-1.47zM522.68 648.0h1.30v14.2h-1.30z"/>
<path fill="#2a2a2a" d="M531.00 648.0h0.75v14.2h-0.75z"/>
<path fill="#2a2a2a" d="M536.50 648.0h0.80v14.2h-0.80z"/>
<path fill="#000" d="M542.67 648.0h1.68v14.2h-1.68zM544.86 648.0h0.91v14.2h-0.91zM546.32 648.0h1.55v14.2h-1.55z"/>
<path fill="#000" d="M552.70 648.0h0.83v14.2h-0.83z"/>
<path fill="#000" d="M560.80 648.0h0.93v14.2h-0.93zM564.85 648.0h1.35v14.2h-1.35z"/>
<path fill="#555" d="M562.73 648.0h1.18v14.2h-1.18z"/>
<path fill="#000" d="M582.40 648.0h1.11v14.2h-1.11z"/>
<path fill="#888" d="M584.15 648.0h1.42v14.2h-1.42z"/>
<path fill="#555" d="M586.83 648.0h0.78v14.2h-0.78z"/>
<path fill="#000" d="M605.40 648.0h1.07v14.2h-1.07z"/>
<path fill="#2a2a2a" d="M607.39 648.0h1.07v14.2h-1.07zM609.55 648.0h1.25v14.2h-1.25z"/>
<path fill="#555" d="M613.53 648.0h1.28v14.2h-1.28z"/>
<path fill="#000" d="M615.59 648.0h1.50v14.2h-1.50zM619.61 648.0h0.69v14.2h-0.69z"/>
<path fill="#2a2a2a" d="M621.60 648.0h1.01v14.2h-1.01z"/>
<path fill="#000" d="M623.18 648.0h1.29v14.2h-1.29zM626.93 648.0h0.07v14.2h-0.07z"/>
<path fill="#000" d="M630.17 648.0h0.61v14.2h-0.61zM635.02 648.0h1.45v14.2h-1.45zM639.45 648.0h0.71v14.2h-0.71z"/>
<path fill="#000" d="M652.70 648.0h1.01v14.2h-1.01z"/>
<path fill="#000" d="M662.20 648.0h1.34v14.2h-1.34z"/>
<path fill="#000" d="M668.90 648.0h0.94v14.2h-0.94zM671.08 648.0h0.52v14.2h-0.52z"/>
<path fill="#2a2a2a" d="M679.70 648.0h0.87v14.2h-0.87z"/>
<path fill="#000" d="M681.12 648.0h0.38v14.2h-0.38z"/>
<rect x="503.75" y="662.20" width="14.88" height="5.40" fill="#D33A2F"/><rect x="518.33" y="662.20" width="38.57" height="5.40" fill="#EC6550"/><rect x="556.60" y="662.20" width="22.17" height="5.40" fill="#F3A487"/><rect x="578.47" y="662.20" width="23.99" height="5.40" fill="#FAD8CA"/><rect x="602.16" y="662.20" width="25.82" height="5.40" fill="#E9EBF6"/><rect x="627.68" y="662.20" width="18.52" height="5.40" fill="#BAD3EA"/><rect x="645.90" y="662.20" width="31.28" height="5.40" fill="#6FA6D6"/><rect x="676.89" y="662.20" width="9.41" height="5.40" fill="#3A7EC1"/>
<rect x="503.75" y="662.20" width="3.49" height="5.40" fill="#fff" fill-opacity="0.01"/><rect x="507.24" y="662.20" width="2.12" height="5.40" fill="#fff" fill-opacity="0.05"/><rect x="509.36" y="662.20" width="4.00" height="5.40" fill="#fff" fill-opacity="0.01"/><rect x="513.36" y="662.20" width="1.62" height="5.40" fill="#fff" fill-opacity="0.03"/><rect x="514.98" y="662.20" width="1.61" height="5.40" fill="#fff" fill-opacity="0.04"/><rect x="516.59" y="662.20" width="2.85" height="5.40" fill="#fff" fill-opacity="0.04"/><rect x="519.43" y="662.20" width="1.85" height="5.40" fill="#fff" fill-opacity="0.00"/><rect x="521.29" y="662.20" width="3.51" height="5.40" fill="#fff" fill-opacity="0.04"/><rect x="524.80" y="662.20" width="2.70" height="5.40" fill="#fff" fill-opacity="0.05"/><rect x="527.50" y="662.20" width="3.21" height="5.40" fill="#fff" fill-opacity="0.09"/><rect x="530.71" y="662.20" width="3.57" height="5.40" fill="#fff" fill-opacity="0.07"/><rect x="534.28" y="662.20" width="2.35" height="5.40" fill="#fff" fill-opacity="0.02"/><rect x="536.62" y="662.20" width="1.72" height="5.40" fill="#fff" fill-opacity="0.09"/><rect x="538.35" y="662.20" width="1.64" height="5.40" fill="#fff" fill-opacity="0.06"/><rect x="539.99" y="662.20" width="3.77" height="5.40" fill="#fff" fill-opacity="0.03"/><rect x="543.77" y="662.20" width="2.47" height="5.40" fill="#fff" fill-opacity="0.04"/><rect x="546.24" y="662.20" width="3.86" height="5.40" fill="#fff" fill-opacity="0.07"/><rect x="550.10" y="662.20" width="3.60" height="5.40" fill="#fff" fill-opacity="0.00"/><rect x="553.70" y="662.20" width="3.33" height="5.40" fill="#fff" fill-opacity="0.05"/><rect x="557.02" y="662.20" width="2.50" height="5.40" fill="#fff" fill-opacity="0.08"/><rect x="559.53" y="662.20" width="3.34" height="5.40" fill="#fff" fill-opacity="0.09"/><rect x="562.86" y="662.20" width="3.35" height="5.40" fill="#fff" fill-opacity="0.09"/><rect x="566.21" y="662.20" width="2.57" height="5.40" fill="#fff" fill-opacity="0.06"/><rect x="568.78" y="662.20" width="3.46" height="5.40" fill="#fff" fill-opacity="0.05"/><rect x="572.24" y="662.20" width="1.84" height="5.40" fill="#fff" fill-opacity="0.06"/><rect x="574.09" y="662.20" width="3.68" height="5.40" fill="#fff" fill-opacity="0.09"/><rect x="577.76" y="662.20" width="1.81" height="5.40" fill="#fff" fill-opacity="0.04"/><rect x="579.58" y="662.20" width="2.07" height="5.40" fill="#fff" fill-opacity="0.03"/><rect x="581.65" y="662.20" width="3.90" height="5.40" fill="#fff" fill-opacity="0.04"/><rect x="585.55" y="662.20" width="2.28" height="5.40" fill="#fff" fill-opacity="0.03"/><rect x="587.83" y="662.20" width="2.60" height="5.40" fill="#fff" fill-opacity="0.07"/><rect x="590.43" y="662.20" width="2.36" height="5.40" fill="#fff" fill-opacity="0.02"/><rect x="592.79" y="662.20" width="2.07" height="5.40" fill="#fff" fill-opacity="0.03"/><rect x="594.85" y="662.20" width="3.77" height="5.40" fill="#fff" fill-opacity="0.02"/><rect x="598.62" y="662.20" width="3.39" height="5.40" fill="#fff" fill-opacity="0.01"/><rect x="602.00" y="662.20" width="3.46" height="5.40" fill="#fff" fill-opacity="0.03"/><rect x="605.47" y="662.20" width="3.45" height="5.40" fill="#fff" fill-opacity="0.04"/><rect x="608.92" y="662.20" width="1.70" height="5.40" fill="#fff" fill-opacity="0.01"/><rect x="610.61" y="662.20" width="3.50" height="5.40" fill="#fff" fill-opacity="0.05"/><rect x="614.11" y="662.20" width="2.71" height="5.40" fill="#fff" fill-opacity="0.04"/><rect x="616.83" y="662.20" width="3.23" height="5.40" fill="#fff" fill-opacity="0.05"/><rect x="620.06" y="662.20" width="1.66" height="5.40" fill="#fff" fill-opacity="0.06"/><rect x="621.71" y="662.20" width="2.28" height="5.40" fill="#fff" fill-opacity="0.08"/><rect x="624.00" y="662.20" width="2.87" height="5.40" fill="#fff" fill-opacity="0.08"/><rect x="626.87" y="662.20" width="1.80" height="5.40" fill="#fff" fill-opacity="0.07"/><rect x="628.67" y="662.20" width="3.03" height="5.40" fill="#fff" fill-opacity="0.09"/><rect x="631.69" y="662.20" width="3.71" height="5.40" fill="#fff" fill-opacity="0.06"/><rect x="635.40" y="662.20" width="2.98" height="5.40" fill="#fff" fill-opacity="0.08"/><rect x="638.39" y="662.20" width="2.16" height="5.40" fill="#fff" fill-opacity="0.05"/><rect x="640.54" y="662.20" width="3.47" height="5.40" fill="#fff" fill-opacity="0.06"/><rect x="644.01" y="662.20" width="2.86" height="5.40" fill="#fff" fill-opacity="0.09"/><rect x="646.87" y="662.20" width="3.94" height="5.40" fill="#fff" fill-opacity="0.03"/><rect x="650.81" y="662.20" width="1.69" height="5.40" fill="#fff" fill-opacity="0.06"/><rect x="652.49" y="662.20" width="1.87" height="5.40" fill="#fff" fill-opacity="0.10"/><rect x="654.36" y="662.20" width="2.69" height="5.40" fill="#fff" fill-opacity="0.05"/><rect x="657.05" y="662.20" width="3.54" height="5.40" fill="#fff" fill-opacity="0.09"/><rect x="660.59" y="662.20" width="1.86" height="5.40" fill="#fff" fill-opacity="0.05"/><rect x="662.45" y="662.20" width="1.95" height="5.40" fill="#fff" fill-opacity="0.05"/><rect x="664.40" y="662.20" width="1.83" height="5.40" fill="#fff" fill-opacity="0.09"/><rect x="666.23" y="662.20" width="2.39" height="5.40" fill="#fff" fill-opacity="0.04"/><rect x="668.62" y="662.20" width="3.74" height="5.40" fill="#fff" fill-opacity="0.08"/><rect x="672.37" y="662.20" width="2.34" height="5.40" fill="#fff" fill-opacity="0.05"/><rect x="674.71" y="662.20" width="3.16" height="5.40" fill="#fff" fill-opacity="0.02"/><rect x="677.87" y="662.20" width="1.84" height="5.40" fill="#fff" fill-opacity="0.09"/><rect x="679.71" y="662.20" width="1.91" height="5.40" fill="#fff" fill-opacity="0.07"/><rect x="681.61" y="662.20" width="3.34" height="5.40" fill="#fff" fill-opacity="0.06"/><rect x="684.96" y="662.20" width="1.04" height="5.40" fill="#fff" fill-opacity="0.09"/>
<text x="587.60" y="571.77" font-size="10.2" fill="#000" text-anchor="middle" stroke="#000">Fibroblast proliferation</text>
<text x="611.00" y="596.37" font-size="10.2" fill="#000" text-anchor="middle" stroke="#000">NES</text>
<text x="611.00" y="606.57" font-size="10.2" fill="#000" text-anchor="middle" stroke="#000">1.47</text>
<text x="659.60" y="606.57" font-size="10.2" fill="#000" text-anchor="middle" stroke="#000">0.044</text>
<text font-size="10.2" text-anchor="middle" transform="translate(479.85 617.4) rotate(-90)" stroke="#000">Enrichment Score</text>
<text x="645.00" y="596.17" font-size="10.2" stroke="#000"><tspan font-style="italic">P</tspan> value</text>
<text x="504.50" y="678.57" font-size="10.2" text-anchor="start" font-style="italic" stroke="#000">Plxnb1<tspan font-size="6" dy="-3.5" font-style="normal">+</tspan></text>
<text x="684.00" y="678.57" font-size="10.2" text-anchor="end" font-style="italic" stroke="#000">Plxnb1<tspan font-size="6" dy="-3.5" font-style="normal">−</tspan></text>
<line x1="70.00" y1="789.20" x2="70.00" y2="843.00" stroke="#e6e6e6" stroke-width="0.8"/>
<line x1="90.00" y1="789.20" x2="90.00" y2="843.00" stroke="#e6e6e6" stroke-width="0.8"/>
<line x1="110.00" y1="789.20" x2="110.00" y2="843.00" stroke="#e6e6e6" stroke-width="0.8"/>
<line x1="129.60" y1="789.20" x2="129.60" y2="843.00" stroke="#e6e6e6" stroke-width="0.8"/>
<line x1="149.40" y1="789.20" x2="149.40" y2="843.00" stroke="#e6e6e6" stroke-width="0.8"/>
<line x1="169.60" y1="789.20" x2="169.60" y2="843.00" stroke="#e6e6e6" stroke-width="0.8"/>
<line x1="189.50" y1="789.20" x2="189.50" y2="843.00" stroke="#e6e6e6" stroke-width="0.8"/>
<line x1="209.70" y1="789.20" x2="209.70" y2="843.00" stroke="#e6e6e6" stroke-width="0.8"/>
<line x1="50.70" y1="789.20" x2="50.70" y2="843.00" stroke="#999" stroke-width="1.3"/>
<text x="48.80" y="794.82" font-size="10.2" fill="#2b2b2b" stroke="#2b2b2b" text-anchor="end">0.3</text>
<text x="48.80" y="806.57" font-size="10.2" fill="#2b2b2b" stroke="#2b2b2b" text-anchor="end">0.2</text>
<text x="48.80" y="819.07" font-size="10.2" fill="#2b2b2b" stroke="#2b2b2b" text-anchor="end">0.1</text>
<text x="48.80" y="831.07" font-size="10.2" fill="#2b2b2b" stroke="#2b2b2b" text-anchor="end">0.0</text>
<text x="48.80" y="843.07" font-size="10.2" fill="#2b2b2b" stroke="#2b2b2b" text-anchor="end">−0.1</text>
<path d="M50.50 825.00 L50.75 820.00 L51.62 814.87 L52.50 809.87 L53.50 804.87 L54.50 799.70 L55.50 795.45 L56.50 796.08 L57.50 796.63 L58.33 796.38 L59.17 796.13 L60.00 796.71 L60.83 797.12 L61.67 797.54 L62.50 797.59 L63.33 797.17 L64.17 796.75 L65.00 796.46 L66.25 793.21 L67.08 793.04 L67.92 792.73 L68.75 792.56 L69.58 793.39 L70.42 794.04 L71.25 794.87 L72.19 794.75 L73.12 795.00 L74.06 794.88 L75.00 794.75 L75.83 794.58 L76.67 794.58 L77.50 794.58 L78.33 794.81 L79.17 794.81 L80.00 794.81 L80.83 794.84 L81.67 795.01 L82.50 795.18 L83.33 795.54 L84.17 795.71 L85.00 795.87 L85.83 795.77 L86.67 796.10 L87.50 796.43 L88.33 796.45 L89.17 796.79 L90.00 797.12 L90.83 797.45 L91.67 797.78 L92.50 798.11 L93.33 799.08 L94.17 799.41 L95.00 799.75 L95.83 799.43 L96.67 799.72 L97.50 800.01 L98.33 800.84 L99.17 801.13 L100.00 801.42 L100.83 801.59 L101.67 801.80 L102.50 802.01 L103.33 801.60 L104.17 801.81 L105.00 802.02 L105.83 803.02 L106.67 803.23 L107.50 803.44 L108.33 802.82 L109.17 803.03 L110.00 803.24 L110.83 804.70 L111.67 805.24 L112.50 805.78 L113.33 806.29 L114.17 806.83 L115.00 807.38 L115.83 807.05 L116.67 807.42 L117.50 807.79 L118.33 808.72 L119.17 809.08 L120.00 809.45 L120.81 809.92 L121.62 810.39 L122.42 810.86 L123.23 810.66 L124.04 811.13 L124.85 811.60 L125.65 812.67 L126.46 813.14 L127.27 813.61 L128.08 813.48 L128.88 813.95 L129.69 814.42 L130.50 815.75 L131.31 816.23 L132.12 816.71 L132.92 816.94 L133.73 817.42 L134.54 817.89 L135.35 818.69 L136.15 819.17 L136.96 819.64 L137.77 819.10 L138.58 819.58 L139.38 820.06 L140.19 820.82 L141.00 821.30 L141.80 821.69 L142.60 822.41 L143.40 822.80 L144.20 823.20 L145.00 823.57 L145.80 823.96 L146.60 824.36 L147.40 824.28 L148.20 824.67 L149.00 825.06 L149.80 826.23 L150.61 826.67 L151.42 827.10 L152.22 827.50 L153.03 827.94 L153.84 828.37 L154.65 828.21 L155.45 828.65 L156.26 829.09 L157.07 829.36 L157.88 829.80 L158.68 830.23 L159.49 831.25 L160.30 831.68 L161.11 831.92 L161.92 831.87 L162.72 832.11 L163.53 832.35 L164.34 832.87 L165.15 833.11 L165.95 833.35 L166.76 833.40 L167.57 833.64 L168.38 833.88 L169.18 834.01 L169.99 834.25 L170.80 834.48 L171.68 834.42 L172.56 834.77 L173.44 835.12 L174.32 835.60 L175.20 835.95 L176.08 836.30 L176.96 837.00 L177.84 837.35 L178.72 837.70 L179.60 838.35 L180.47 838.26 L181.34 838.17 L182.21 837.75 L183.08 837.66 L183.95 837.57 L184.82 837.83 L185.69 837.74 L186.56 837.65 L187.43 837.33 L188.30 837.24 L189.18 837.47 L190.06 838.08 L190.94 838.31 L191.82 838.54 L192.70 838.52 L193.58 838.75 L194.46 838.98 L195.34 838.84 L196.22 839.07 L197.10 839.30 L197.97 838.96 L198.84 838.82 L199.71 838.68 L200.58 838.46 L201.45 838.32 L202.32 838.18 L203.19 838.01 L204.06 837.87 L204.93 837.73 L205.80 838.50 L206.70 836.75 L207.60 835.00 L208.45 831.96 L209.30 828.91 L210.20 829.18 L211.10 829.31 L212.00 829.30" fill="none" stroke="#19EE19" stroke-width="1.15" stroke-linejoin="round"/>
<path fill="#000" d="M50.81 844.2h1.56v11.9h-1.56zM53.57 844.2h1.67v11.9h-1.67zM56.02 844.2h1.95v11.9h-1.95zM58.76 844.2h1.58v11.9h-1.58zM62.57 844.2h1.59v11.9h-1.59zM65.37 844.2h1.90v11.9h-1.90zM68.46 844.2h1.65v11.9h-1.65zM70.66 844.2h0.93v11.9h-0.93zM72.06 844.2h1.44v11.9h-1.44zM74.19 844.2h1.58v11.9h-1.58zM77.07 844.2h1.63v11.9h-1.63zM81.88 844.2h0.74v11.9h-0.74zM83.87 844.2h1.37v11.9h-1.37zM85.79 844.2h1.72v11.9h-1.72zM88.37 844.2h1.16v11.9h-1.16zM92.22 844.2h1.81v11.9h-1.81zM98.71 844.2h1.35v11.9h-1.35zM100.67 844.2h1.32v11.9h-1.32zM107.89 844.2h1.69v11.9h-1.69zM110.70 844.2h1.18v11.9h-1.18zM113.05 844.2h1.83v11.9h-1.83zM115.42 844.2h1.39v11.9h-1.39zM119.74 844.2h0.94v11.9h-0.94zM121.61 844.2h1.34v11.9h-1.34zM123.99 844.2h0.93v11.9h-0.93zM126.01 844.2h1.81v11.9h-1.81zM128.86 844.2h1.21v11.9h-1.21zM147.61 844.2h1.71v11.9h-1.71zM151.59 844.2h1.85v11.9h-1.85zM154.07 844.2h1.39v11.9h-1.39zM157.85 844.2h1.68v11.9h-1.68zM160.10 844.2h1.07v11.9h-1.07zM164.45 844.2h1.23v11.9h-1.23zM166.76 844.2h1.54v11.9h-1.54zM169.54 844.2h1.93v11.9h-1.93zM172.45 844.2h0.96v11.9h-0.96zM174.15 844.2h1.25v11.9h-1.25zM188.57 844.2h1.93v11.9h-1.93zM191.30 844.2h1.05v11.9h-1.05zM197.14 844.2h1.31v11.9h-1.31zM202.06 844.2h1.36v11.9h-1.36zM204.09 844.2h1.98v11.9h-1.98zM206.71 844.2h0.81v11.9h-0.81z"/>
<path fill="#2a2a2a" d="M96.60 844.2h1.09v11.9h-1.09zM105.07 844.2h1.77v11.9h-1.77zM117.95 844.2h0.73v11.9h-0.73zM133.22 844.2h1.18v11.9h-1.18zM178.59 844.2h1.98v11.9h-1.98z"/>
<path fill="#555" d="M134.88 844.2h1.16v11.9h-1.16zM136.59 844.2h0.82v11.9h-0.82zM162.34 844.2h0.82v11.9h-0.82zM181.54 844.2h0.81v11.9h-0.81zM183.55 844.2h1.60v11.9h-1.60zM208.07 844.2h0.81v11.9h-0.81z"/>
<path fill="#888" d="M139.56 844.2h0.95v11.9h-0.95zM193.31 844.2h0.81v11.9h-0.81zM209.52 844.2h1.74v11.9h-1.74z"/>
<rect x="50.70" y="856.10" width="20.49" height="4.90" fill="#D33A2F"/><rect x="70.89" y="856.10" width="20.49" height="4.90" fill="#EC6550"/><rect x="91.08" y="856.10" width="20.49" height="4.90" fill="#F3A487"/><rect x="111.26" y="856.10" width="20.49" height="4.90" fill="#FAD8CA"/><rect x="131.45" y="856.10" width="20.49" height="4.90" fill="#E9EBF6"/><rect x="151.64" y="856.10" width="20.49" height="4.90" fill="#BAD3EA"/><rect x="171.82" y="856.10" width="20.49" height="4.90" fill="#6FA6D6"/><rect x="192.01" y="856.10" width="20.49" height="4.90" fill="#3A7EC1"/>
<rect x="50.70" y="856.10" width="2.38" height="4.90" fill="#fff" fill-opacity="0.00"/><rect x="53.08" y="856.10" width="2.73" height="4.90" fill="#fff" fill-opacity="0.01"/><rect x="55.81" y="856.10" width="2.89" height="4.90" fill="#fff" fill-opacity="0.09"/><rect x="58.70" y="856.10" width="3.45" height="4.90" fill="#fff" fill-opacity="0.06"/><rect x="62.16" y="856.10" width="1.73" height="4.90" fill="#fff" fill-opacity="0.10"/><rect x="63.88" y="856.10" width="2.41" height="4.90" fill="#fff" fill-opacity="0.09"/><rect x="66.29" y="856.10" width="1.86" height="4.90" fill="#fff" fill-opacity="0.03"/><rect x="68.16" y="856.10" width="3.87" height="4.90" fill="#fff" fill-opacity="0.07"/><rect x="72.03" y="856.10" width="1.97" height="4.90" fill="#fff" fill-opacity="0.05"/><rect x="73.99" y="856.10" width="2.86" height="4.90" fill="#fff" fill-opacity="0.03"/><rect x="76.85" y="856.10" width="2.05" height="4.90" fill="#fff" fill-opacity="0.01"/><rect x="78.90" y="856.10" width="2.77" height="4.90" fill="#fff" fill-opacity="0.04"/><rect x="81.67" y="856.10" width="2.37" height="4.90" fill="#fff" fill-opacity="0.05"/><rect x="84.05" y="856.10" width="2.37" height="4.90" fill="#fff" fill-opacity="0.04"/><rect x="86.41" y="856.10" width="3.41" height="4.90" fill="#fff" fill-opacity="0.01"/><rect x="89.82" y="856.10" width="1.74" height="4.90" fill="#fff" fill-opacity="0.04"/><rect x="91.56" y="856.10" width="2.22" height="4.90" fill="#fff" fill-opacity="0.05"/><rect x="93.78" y="856.10" width="3.65" height="4.90" fill="#fff" fill-opacity="0.09"/><rect x="97.43" y="856.10" width="3.54" height="4.90" fill="#fff" fill-opacity="0.09"/><rect x="100.98" y="856.10" width="2.08" height="4.90" fill="#fff" fill-opacity="0.03"/><rect x="103.05" y="856.10" width="1.78" height="4.90" fill="#fff" fill-opacity="0.03"/><rect x="104.83" y="856.10" width="2.15" height="4.90" fill="#fff" fill-opacity="0.02"/><rect x="106.98" y="856.10" width="2.33" height="4.90" fill="#fff" fill-opacity="0.09"/><rect x="109.32" y="856.10" width="2.79" height="4.90" fill="#fff" fill-opacity="0.09"/><rect x="112.10" y="856.10" width="2.82" height="4.90" fill="#fff" fill-opacity="0.07"/><rect x="114.92" y="856.10" width="3.18" height="4.90" fill="#fff" fill-opacity="0.06"/><rect x="118.10" y="856.10" width="3.81" height="4.90" fill="#fff" fill-opacity="0.06"/><rect x="121.91" y="856.10" width="2.76" height="4.90" fill="#fff" fill-opacity="0.02"/><rect x="124.67" y="856.10" width="1.75" height="4.90" fill="#fff" fill-opacity="0.04"/><rect x="126.41" y="856.10" width="2.52" height="4.90" fill="#fff" fill-opacity="0.01"/><rect x="128.93" y="856.10" width="3.88" height="4.90" fill="#fff" fill-opacity="0.00"/><rect x="132.81" y="856.10" width="2.60" height="4.90" fill="#fff" fill-opacity="0.02"/><rect x="135.41" y="856.10" width="2.52" height="4.90" fill="#fff" fill-opacity="0.08"/><rect x="137.94" y="856.10" width="3.91" height="4.90" fill="#fff" fill-opacity="0.04"/><rect x="141.85" y="856.10" width="3.28" height="4.90" fill="#fff" fill-opacity="0.09"/><rect x="145.13" y="856.10" width="2.23" height="4.90" fill="#fff" fill-opacity="0.04"/><rect x="147.35" y="856.10" width="2.58" height="4.90" fill="#fff" fill-opacity="0.08"/><rect x="149.93" y="856.10" width="2.26" height="4.90" fill="#fff" fill-opacity="0.09"/><rect x="152.19" y="856.10" width="1.96" height="4.90" fill="#fff" fill-opacity="0.07"/><rect x="154.16" y="856.10" width="3.08" height="4.90" fill="#fff" fill-opacity="0.00"/><rect x="157.23" y="856.10" width="2.32" height="4.90" fill="#fff" fill-opacity="0.08"/><rect x="159.55" y="856.10" width="2.50" height="4.90" fill="#fff" fill-opacity="0.01"/><rect x="162.06" y="856.10" width="2.68" height="4.90" fill="#fff" fill-opacity="0.05"/><rect x="164.73" y="856.10" width="2.67" height="4.90" fill="#fff" fill-opacity="0.04"/><rect x="167.40" y="856.10" width="3.85" height="4.90" fill="#fff" fill-opacity="0.07"/><rect x="171.25" y="856.10" width="2.61" height="4.90" fill="#fff" fill-opacity="0.04"/><rect x="173.86" y="856.10" width="3.42" height="4.90" fill="#fff" fill-opacity="0.02"/><rect x="177.28" y="856.10" width="2.71" height="4.90" fill="#fff" fill-opacity="0.08"/><rect x="179.99" y="856.10" width="1.73" height="4.90" fill="#fff" fill-opacity="0.01"/><rect x="181.72" y="856.10" width="1.63" height="4.90" fill="#fff" fill-opacity="0.07"/><rect x="183.34" y="856.10" width="3.50" height="4.90" fill="#fff" fill-opacity="0.07"/><rect x="186.84" y="856.10" width="3.05" height="4.90" fill="#fff" fill-opacity="0.00"/><rect x="189.89" y="856.10" width="2.41" height="4.90" fill="#fff" fill-opacity="0.05"/><rect x="192.30" y="856.10" width="2.34" height="4.90" fill="#fff" fill-opacity="0.03"/><rect x="194.64" y="856.10" width="2.43" height="4.90" fill="#fff" fill-opacity="0.02"/><rect x="197.07" y="856.10" width="1.68" height="4.90" fill="#fff" fill-opacity="0.06"/><rect x="198.75" y="856.10" width="1.56" height="4.90" fill="#fff" fill-opacity="0.04"/><rect x="200.31" y="856.10" width="2.50" height="4.90" fill="#fff" fill-opacity="0.08"/><rect x="202.81" y="856.10" width="3.27" height="4.90" fill="#fff" fill-opacity="0.05"/><rect x="206.08" y="856.10" width="1.52" height="4.90" fill="#fff" fill-opacity="0.07"/><rect x="207.59" y="856.10" width="3.31" height="4.90" fill="#fff" fill-opacity="0.06"/><rect x="210.90" y="856.10" width="1.30" height="4.90" fill="#fff" fill-opacity="0.05"/>
<text x="128.80" y="778.37" font-size="10.2" fill="#000" text-anchor="middle" stroke="#000">Muscle cell proliferation</text>
<text x="139.20" y="792.32" font-size="10.2" fill="#000" text-anchor="middle" stroke="#000">NES</text>
<text x="139.50" y="803.07" font-size="10.2" fill="#000" text-anchor="middle" stroke="#000">1.37</text>
<text x="189.80" y="803.17" font-size="10.2" fill="#000" text-anchor="middle" stroke="#000">0.04</text>
<text font-size="10.2" text-anchor="middle" transform="translate(26.85 815.5) rotate(-90)" stroke="#000">Enrichment Score</text>
<text x="174.70" y="791.17" font-size="10.2" stroke="#000"><tspan font-style="italic">P</tspan> value</text>
<text x="50.00" y="872.32" font-size="10.2" text-anchor="start" font-style="italic" stroke="#000">Plxnb1<tspan font-size="6" dy="-3.5" font-style="normal">+</tspan></text>
<text x="215.00" y="872.07" font-size="10.2" text-anchor="end" font-style="italic" stroke="#000">Plxnb1<tspan font-size="6" dy="-3.5" font-style="normal">−</tspan></text>
<line x1="290.00" y1="786.00" x2="290.00" y2="842.00" stroke="#e6e6e6" stroke-width="0.8"/>
<line x1="312.50" y1="786.00" x2="312.50" y2="842.00" stroke="#e6e6e6" stroke-width="0.8"/>
<line x1="335.00" y1="786.00" x2="335.00" y2="842.00" stroke="#e6e6e6" stroke-width="0.8"/>
<line x1="357.50" y1="786.00" x2="357.50" y2="842.00" stroke="#e6e6e6" stroke-width="0.8"/>
<line x1="380.60" y1="786.00" x2="380.60" y2="842.00" stroke="#e6e6e6" stroke-width="0.8"/>
<line x1="403.40" y1="786.00" x2="403.40" y2="842.00" stroke="#e6e6e6" stroke-width="0.8"/>
<line x1="425.80" y1="786.00" x2="425.80" y2="842.00" stroke="#e6e6e6" stroke-width="0.8"/>
<line x1="448.30" y1="786.00" x2="448.30" y2="842.00" stroke="#e6e6e6" stroke-width="0.8"/>
<line x1="266.70" y1="786.00" x2="266.70" y2="842.00" stroke="#333" stroke-width="0.9"/>
<text x="265.20" y="794.32" font-size="10.2" fill="#2b2b2b" stroke="#2b2b2b" text-anchor="end">0.3</text>
<text x="265.20" y="806.82" font-size="10.2" fill="#2b2b2b" stroke="#2b2b2b" text-anchor="end">0.2</text>
<text x="265.20" y="819.82" font-size="10.2" fill="#2b2b2b" stroke="#2b2b2b" text-anchor="end">0.1</text>
<text x="265.20" y="831.82" font-size="10.2" fill="#2b2b2b" stroke="#2b2b2b" text-anchor="end">0.0</text>
<path d="M266.75 830.00 L267.50 822.50 L268.75 818.47 L269.58 815.55 L270.42 812.63 L271.25 810.00 L272.08 807.09 L272.92 804.17 L273.75 800.88 L274.58 799.63 L275.42 798.38 L276.25 797.85 L277.19 797.23 L278.12 796.60 L279.06 795.33 L280.00 794.70 L280.94 794.27 L281.88 794.18 L282.81 793.75 L283.75 793.31 L284.69 793.41 L285.62 793.09 L286.56 792.78 L287.50 791.89 L288.33 791.64 L289.17 791.39 L290.00 791.76 L290.83 791.51 L291.67 791.26 L292.50 790.75 L293.44 790.32 L294.38 789.88 L295.31 789.24 L296.25 788.80 L297.19 789.12 L298.12 789.52 L299.06 789.83 L300.00 790.14 L300.83 790.51 L301.67 790.93 L302.50 791.34 L303.33 791.51 L304.17 791.93 L305.00 792.35 L305.83 792.92 L306.67 792.80 L307.50 792.67 L308.33 791.89 L309.17 791.77 L310.00 791.64 L310.83 792.49 L311.67 792.70 L312.50 792.91 L313.33 792.97 L314.17 793.18 L315.00 793.39 L315.83 792.81 L316.67 793.15 L317.50 793.48 L318.33 794.07 L319.17 794.40 L320.00 794.73 L320.83 795.48 L321.67 795.98 L322.50 796.48 L323.33 797.35 L324.17 797.85 L325.00 798.35 L325.83 797.48 L326.67 797.31 L327.50 797.15 L328.33 797.96 L329.17 798.29 L330.00 798.63 L330.83 798.69 L331.67 799.02 L332.50 799.35 L333.33 800.15 L334.17 800.48 L335.00 800.81 L335.83 801.30 L336.67 801.64 L337.50 801.97 L338.33 802.12 L339.17 802.45 L340.00 802.79 L340.83 802.44 L341.67 802.72 L342.50 803.00 L343.33 803.90 L344.17 804.18 L345.00 804.45 L345.83 804.38 L346.67 804.65 L347.50 804.93 L348.33 805.70 L349.17 806.04 L350.00 806.37 L350.83 806.30 L351.67 806.63 L352.50 806.97 L353.33 807.78 L354.17 808.11 L355.00 808.45 L355.83 808.87 L356.67 809.20 L357.50 809.53 L358.33 809.61 L359.17 809.86 L360.00 810.11 L360.83 810.36 L361.67 810.61 L362.50 810.86 L363.33 811.10 L364.17 811.35 L365.00 811.60 L365.83 811.87 L366.67 812.39 L367.50 812.91 L368.33 812.98 L369.17 813.50 L370.00 814.02 L370.83 815.43 L371.67 815.95 L372.50 816.47 L373.33 816.42 L374.17 816.94 L375.00 817.46 L375.83 817.32 L376.67 817.68 L377.50 818.03 L378.33 818.84 L379.17 819.20 L380.00 819.55 L380.83 819.89 L381.67 820.24 L382.50 820.59 L383.33 820.71 L384.17 821.07 L385.00 821.42 L385.82 823.01 L386.64 823.76 L387.46 824.51 L388.28 824.32 L389.10 825.07 L389.99 825.32 L390.89 826.44 L391.78 826.69 L392.68 826.94 L393.57 826.80 L394.46 827.05 L395.36 827.30 L396.25 827.15 L397.11 827.45 L397.98 827.75 L398.84 828.24 L399.70 828.54 L400.56 828.84 L401.43 829.25 L402.29 829.55 L403.15 829.85 L404.01 829.78 L404.88 830.08 L405.74 830.38 L406.60 831.39 L407.42 831.65 L408.25 831.91 L409.07 832.04 L409.89 832.30 L410.72 832.56 L411.54 833.18 L412.36 833.44 L413.19 833.70 L414.01 833.79 L414.84 834.05 L415.66 834.31 L416.48 834.52 L417.31 834.78 L418.13 835.04 L418.95 835.53 L419.78 835.79 L420.60 836.05 L421.42 836.18 L422.25 836.39 L423.07 836.59 L423.89 836.48 L424.72 836.69 L425.54 836.89 L426.36 836.98 L427.19 837.19 L428.01 837.40 L428.84 837.58 L429.66 837.79 L430.48 838.00 L431.31 838.52 L432.13 838.73 L432.95 838.93 L433.78 839.26 L434.60 839.47 L435.47 839.21 L436.34 838.85 L437.21 838.59 L438.09 838.33 L438.96 838.09 L439.83 837.83 L440.70 837.57 L441.58 837.14 L442.46 837.60 L443.34 838.06 L444.22 838.95 L445.10 839.41 L445.97 837.48 L446.83 835.18 L447.70 833.25 L448.70 831.78 L449.70 830.86 L450.70 829.30" fill="none" stroke="#19EE19" stroke-width="1.15" stroke-linejoin="round"/>
<path fill="#555" d="M267.28 843.2h1.49v13.0h-1.49zM300.26 843.2h0.88v13.0h-0.88zM327.27 843.2h1.49v13.0h-1.49zM355.63 843.2h1.95v13.0h-1.95zM386.26 843.2h1.67v13.0h-1.67zM396.39 843.2h0.72v13.0h-0.72zM397.56 843.2h1.71v13.0h-1.71zM412.92 843.2h1.98v13.0h-1.98zM434.30 843.2h0.91v13.0h-0.91z"/>
<path fill="#000" d="M269.25 843.2h1.52v13.0h-1.52zM271.85 843.2h1.35v13.0h-1.35zM275.80 843.2h1.11v13.0h-1.11zM279.01 843.2h2.04v13.0h-2.04zM281.88 843.2h1.72v13.0h-1.72zM288.04 843.2h1.79v13.0h-1.79zM292.92 843.2h1.90v13.0h-1.90zM295.38 843.2h1.61v13.0h-1.61zM297.73 843.2h1.74v13.0h-1.74zM304.94 843.2h2.04v13.0h-2.04zM307.66 843.2h1.80v13.0h-1.80zM312.92 843.2h1.63v13.0h-1.63zM315.44 843.2h0.85v13.0h-0.85zM319.03 843.2h1.78v13.0h-1.78zM321.79 843.2h1.59v13.0h-1.59zM335.72 843.2h0.97v13.0h-0.97zM337.12 843.2h0.83v13.0h-0.83zM338.89 843.2h0.71v13.0h-0.71zM340.57 843.2h0.82v13.0h-0.82zM342.31 843.2h0.89v13.0h-0.89zM345.54 843.2h1.24v13.0h-1.24zM347.48 843.2h1.65v13.0h-1.65zM349.56 843.2h1.38v13.0h-1.38zM351.67 843.2h1.16v13.0h-1.16zM353.87 843.2h0.84v13.0h-0.84zM358.42 843.2h1.26v13.0h-1.26zM362.66 843.2h1.12v13.0h-1.12zM364.48 843.2h0.87v13.0h-0.87zM368.17 843.2h1.35v13.0h-1.35zM370.00 843.2h2.00v13.0h-2.00zM372.33 843.2h2.02v13.0h-2.02zM378.11 843.2h1.31v13.0h-1.31zM380.25 843.2h1.72v13.0h-1.72zM384.39 843.2h1.37v13.0h-1.37zM388.90 843.2h1.27v13.0h-1.27zM391.01 843.2h1.77v13.0h-1.77zM393.52 843.2h1.99v13.0h-1.99zM399.88 843.2h1.25v13.0h-1.25zM401.88 843.2h0.99v13.0h-0.99zM403.68 843.2h1.01v13.0h-1.01zM405.21 843.2h1.64v13.0h-1.64zM408.93 843.2h0.85v13.0h-0.85zM410.32 843.2h2.08v13.0h-2.08zM417.58 843.2h1.17v13.0h-1.17zM419.61 843.2h1.46v13.0h-1.46zM424.21 843.2h1.17v13.0h-1.17zM425.97 843.2h1.43v13.0h-1.43zM428.38 843.2h0.99v13.0h-0.99zM432.68 843.2h1.14v13.0h-1.14zM437.87 843.2h2.01v13.0h-2.01zM440.36 843.2h1.32v13.0h-1.32zM442.42 843.2h1.16v13.0h-1.16zM443.96 843.2h0.98v13.0h-0.98zM446.01 843.2h1.19v13.0h-1.19zM447.64 843.2h2.08v13.0h-2.08zM450.33 843.2h0.67v13.0h-0.67z"/>
<path fill="#2a2a2a" d="M277.33 843.2h1.29v13.0h-1.29zM285.73 843.2h1.64v13.0h-1.64zM301.61 843.2h0.77v13.0h-0.77zM343.88 843.2h0.82v13.0h-0.82zM360.12 843.2h1.64v13.0h-1.64zM366.22 843.2h1.02v13.0h-1.02zM382.45 843.2h0.94v13.0h-0.94zM421.56 843.2h1.74v13.0h-1.74z"/>
<path fill="#888" d="M302.95 843.2h1.08v13.0h-1.08zM310.42 843.2h1.73v13.0h-1.73zM324.10 843.2h0.99v13.0h-0.99zM326.07 843.2h0.81v13.0h-0.81zM329.58 843.2h1.42v13.0h-1.42zM331.96 843.2h1.81v13.0h-1.81zM334.46 843.2h0.79v13.0h-0.79zM375.39 843.2h1.88v13.0h-1.88z"/>
<rect x="266.70" y="856.30" width="26.10" height="5.70" fill="#D33A2F"/><rect x="292.50" y="856.30" width="27.94" height="5.70" fill="#EC6550"/><rect x="320.15" y="856.30" width="27.94" height="5.70" fill="#F3A487"/><rect x="347.79" y="856.30" width="22.42" height="5.70" fill="#FAD8CA"/><rect x="369.91" y="856.30" width="20.57" height="5.70" fill="#E9EBF6"/><rect x="390.18" y="856.30" width="27.95" height="5.70" fill="#BAD3EA"/><rect x="417.83" y="856.30" width="20.57" height="5.70" fill="#6FA6D6"/><rect x="438.10" y="856.30" width="13.20" height="5.70" fill="#3A7EC1"/>
<rect x="266.70" y="856.30" width="3.88" height="5.70" fill="#fff" fill-opacity="0.02"/><rect x="270.58" y="856.30" width="3.82" height="5.70" fill="#fff" fill-opacity="0.06"/><rect x="274.40" y="856.30" width="3.35" height="5.70" fill="#fff" fill-opacity="0.02"/><rect x="277.75" y="856.30" width="1.62" height="5.70" fill="#fff" fill-opacity="0.05"/><rect x="279.37" y="856.30" width="3.96" height="5.70" fill="#fff" fill-opacity="0.03"/><rect x="283.32" y="856.30" width="3.96" height="5.70" fill="#fff" fill-opacity="0.10"/><rect x="287.28" y="856.30" width="2.68" height="5.70" fill="#fff" fill-opacity="0.05"/><rect x="289.96" y="856.30" width="3.86" height="5.70" fill="#fff" fill-opacity="0.00"/><rect x="293.82" y="856.30" width="2.95" height="5.70" fill="#fff" fill-opacity="0.02"/><rect x="296.76" y="856.30" width="3.36" height="5.70" fill="#fff" fill-opacity="0.05"/><rect x="300.12" y="856.30" width="3.04" height="5.70" fill="#fff" fill-opacity="0.04"/><rect x="303.16" y="856.30" width="3.68" height="5.70" fill="#fff" fill-opacity="0.08"/><rect x="306.84" y="856.30" width="1.56" height="5.70" fill="#fff" fill-opacity="0.06"/><rect x="308.41" y="856.30" width="2.04" height="5.70" fill="#fff" fill-opacity="0.09"/><rect x="310.45" y="856.30" width="3.78" height="5.70" fill="#fff" fill-opacity="0.08"/><rect x="314.23" y="856.30" width="3.17" height="5.70" fill="#fff" fill-opacity="0.09"/><rect x="317.40" y="856.30" width="2.12" height="5.70" fill="#fff" fill-opacity="0.03"/><rect x="319.52" y="856.30" width="3.78" height="5.70" fill="#fff" fill-opacity="0.07"/><rect x="323.30" y="856.30" width="2.23" height="5.70" fill="#fff" fill-opacity="0.08"/><rect x="325.53" y="856.30" width="3.16" height="5.70" fill="#fff" fill-opacity="0.00"/><rect x="328.69" y="856.30" width="3.84" height="5.70" fill="#fff" fill-opacity="0.07"/><rect x="332.53" y="856.30" width="3.33" height="5.70" fill="#fff" fill-opacity="0.01"/><rect x="335.86" y="856.30" width="1.54" height="5.70" fill="#fff" fill-opacity="0.01"/><rect x="337.40" y="856.30" width="3.40" height="5.70" fill="#fff" fill-opacity="0.00"/><rect x="340.80" y="856.30" width="2.22" height="5.70" fill="#fff" fill-opacity="0.03"/><rect x="343.02" y="856.30" width="2.52" height="5.70" fill="#fff" fill-opacity="0.03"/><rect x="345.55" y="856.30" width="1.74" height="5.70" fill="#fff" fill-opacity="0.05"/><rect x="347.29" y="856.30" width="1.67" height="5.70" fill="#fff" fill-opacity="0.04"/><rect x="348.96" y="856.30" width="2.21" height="5.70" fill="#fff" fill-opacity="0.01"/><rect x="351.17" y="856.30" width="1.73" height="5.70" fill="#fff" fill-opacity="0.07"/><rect x="352.90" y="856.30" width="1.69" height="5.70" fill="#fff" fill-opacity="0.05"/><rect x="354.58" y="856.30" width="3.05" height="5.70" fill="#fff" fill-opacity="0.09"/><rect x="357.63" y="856.30" width="3.03" height="5.70" fill="#fff" fill-opacity="0.08"/><rect x="360.66" y="856.30" width="3.68" height="5.70" fill="#fff" fill-opacity="0.01"/><rect x="364.34" y="856.30" width="1.63" height="5.70" fill="#fff" fill-opacity="0.08"/><rect x="365.97" y="856.30" width="2.18" height="5.70" fill="#fff" fill-opacity="0.05"/><rect x="368.14" y="856.30" width="2.30" height="5.70" fill="#fff" fill-opacity="0.02"/><rect x="370.44" y="856.30" width="2.48" height="5.70" fill="#fff" fill-opacity="0.05"/><rect x="372.93" y="856.30" width="3.56" height="5.70" fill="#fff" fill-opacity="0.02"/><rect x="376.49" y="856.30" width="1.75" height="5.70" fill="#fff" fill-opacity="0.06"/><rect x="378.24" y="856.30" width="3.66" height="5.70" fill="#fff" fill-opacity="0.04"/><rect x="381.90" y="856.30" width="2.23" height="5.70" fill="#fff" fill-opacity="0.09"/><rect x="384.13" y="856.30" width="3.59" height="5.70" fill="#fff" fill-opacity="0.00"/><rect x="387.71" y="856.30" width="1.78" height="5.70" fill="#fff" fill-opacity="0.06"/><rect x="389.49" y="856.30" width="2.50" height="5.70" fill="#fff" fill-opacity="0.05"/><rect x="391.99" y="856.30" width="2.53" height="5.70" fill="#fff" fill-opacity="0.01"/><rect x="394.52" y="856.30" width="3.41" height="5.70" fill="#fff" fill-opacity="0.09"/><rect x="397.93" y="856.30" width="3.02" height="5.70" fill="#fff" fill-opacity="0.03"/><rect x="400.96" y="856.30" width="3.25" height="5.70" fill="#fff" fill-opacity="0.03"/><rect x="404.20" y="856.30" width="1.77" height="5.70" fill="#fff" fill-opacity="0.06"/><rect x="405.98" y="856.30" width="2.94" height="5.70" fill="#fff" fill-opacity="0.09"/><rect x="408.91" y="856.30" width="2.54" height="5.70" fill="#fff" fill-opacity="0.01"/><rect x="411.45" y="856.30" width="2.92" height="5.70" fill="#fff" fill-opacity="0.01"/><rect x="414.37" y="856.30" width="2.19" height="5.70" fill="#fff" fill-opacity="0.10"/><rect x="416.56" y="856.30" width="2.43" height="5.70" fill="#fff" fill-opacity="0.04"/><rect x="418.99" y="856.30" width="3.90" height="5.70" fill="#fff" fill-opacity="0.01"/><rect x="422.90" y="856.30" width="3.42" height="5.70" fill="#fff" fill-opacity="0.07"/><rect x="426.32" y="856.30" width="3.79" height="5.70" fill="#fff" fill-opacity="0.01"/><rect x="430.10" y="856.30" width="2.63" height="5.70" fill="#fff" fill-opacity="0.04"/><rect x="432.73" y="856.30" width="1.53" height="5.70" fill="#fff" fill-opacity="0.02"/><rect x="434.26" y="856.30" width="1.85" height="5.70" fill="#fff" fill-opacity="0.01"/><rect x="436.11" y="856.30" width="3.26" height="5.70" fill="#fff" fill-opacity="0.07"/><rect x="439.37" y="856.30" width="2.47" height="5.70" fill="#fff" fill-opacity="0.08"/><rect x="441.84" y="856.30" width="3.58" height="5.70" fill="#fff" fill-opacity="0.08"/><rect x="445.42" y="856.30" width="2.01" height="5.70" fill="#fff" fill-opacity="0.04"/><rect x="447.43" y="856.30" width="1.88" height="5.70" fill="#fff" fill-opacity="0.00"/><rect x="449.31" y="856.30" width="1.69" height="5.70" fill="#fff" fill-opacity="0.06"/>
<text x="359.50" y="774.77" font-size="10.2" fill="#000" text-anchor="middle" stroke="#000">Muscle cell differentiation</text>
<text x="386.00" y="787.37" font-size="10.2" fill="#000" text-anchor="middle" stroke="#000">NES</text>
<text x="386.00" y="798.77" font-size="10.2" fill="#000" text-anchor="middle" stroke="#000">1.63</text>
<text x="428.50" y="798.77" font-size="10.2" fill="#000" text-anchor="middle" stroke="#000">0.001</text>
<text font-size="10.2" text-anchor="middle" transform="translate(248.6 815.5) rotate(-90)" stroke="#000">Enrichment Score</text>
<text x="412.70" y="787.37" font-size="10.2" stroke="#000"><tspan font-style="italic">P</tspan> value</text>
<text x="263.75" y="874.32" font-size="10.2" text-anchor="start" font-style="italic" stroke="#000">Plxnb1<tspan font-size="6" dy="-3.5" font-style="normal">+</tspan></text>
<text x="453.50" y="874.07" font-size="10.2" text-anchor="end" font-style="italic" stroke="#000">Plxnb1<tspan font-size="6" dy="-3.5" font-style="normal">−</tspan></text>
<line x1="523.75" y1="789.50" x2="523.75" y2="845.00" stroke="#e6e6e6" stroke-width="0.8"/>
<line x1="546.25" y1="789.50" x2="546.25" y2="845.00" stroke="#e6e6e6" stroke-width="0.8"/>
<line x1="568.75" y1="789.50" x2="568.75" y2="845.00" stroke="#e6e6e6" stroke-width="0.8"/>
<line x1="591.00" y1="789.50" x2="591.00" y2="845.00" stroke="#e6e6e6" stroke-width="0.8"/>
<line x1="612.70" y1="789.50" x2="612.70" y2="845.00" stroke="#e6e6e6" stroke-width="0.8"/>
<line x1="634.70" y1="789.50" x2="634.70" y2="845.00" stroke="#e6e6e6" stroke-width="0.8"/>
<line x1="656.50" y1="789.50" x2="656.50" y2="845.00" stroke="#e6e6e6" stroke-width="0.8"/>
<line x1="679.80" y1="789.50" x2="679.80" y2="845.00" stroke="#e6e6e6" stroke-width="0.8"/>
<line x1="501.75" y1="789.50" x2="501.75" y2="845.00" stroke="#333" stroke-width="0.9"/>
<text x="500.30" y="798.57" font-size="10.2" fill="#2b2b2b" stroke="#2b2b2b" text-anchor="end">0.4</text>
<text x="500.30" y="816.07" font-size="10.2" fill="#2b2b2b" stroke="#2b2b2b" text-anchor="end">0.2</text>
<text x="500.30" y="833.57" font-size="10.2" fill="#2b2b2b" stroke="#2b2b2b" text-anchor="end">0.0</text>
<path d="M501.75 830.00 L502.50 820.00 L503.75 819.49 L505.00 813.74 L506.25 809.99 L507.08 809.65 L507.92 809.23 L508.75 808.81 L510.00 807.84 L510.83 807.42 L511.67 807.01 L512.50 806.05 L513.33 805.22 L514.17 804.39 L515.00 803.55 L515.94 803.24 L516.88 802.93 L517.81 803.02 L518.75 802.71 L519.58 802.71 L520.42 802.48 L521.25 802.48 L522.12 801.86 L523.00 801.10 L523.75 797.35 L524.58 796.51 L525.42 795.73 L526.25 794.90 L527.12 793.90 L528.00 792.81 L528.81 793.19 L529.62 793.56 L530.44 793.76 L531.25 794.13 L532.19 794.38 L533.12 795.14 L534.06 795.39 L535.00 795.64 L536.25 793.43 L537.08 793.27 L537.92 793.10 L538.75 792.71 L539.64 793.06 L540.54 793.42 L541.43 793.72 L542.32 794.08 L543.21 794.43 L544.11 794.46 L545.00 794.82 L545.83 795.20 L546.67 795.68 L547.50 796.05 L548.33 796.43 L549.17 796.48 L550.00 796.86 L550.83 797.23 L551.67 798.25 L552.50 798.63 L553.33 799.00 L554.17 798.90 L555.00 799.28 L555.83 799.78 L556.67 800.27 L557.50 800.77 L558.33 801.27 L559.17 802.53 L560.00 803.03 L560.83 803.24 L561.67 802.74 L562.50 802.95 L563.33 803.16 L564.17 804.07 L565.00 804.28 L565.81 804.60 L566.62 804.53 L567.42 804.86 L568.23 805.19 L569.04 805.67 L569.85 806.00 L570.65 806.33 L571.46 806.51 L572.27 806.83 L573.08 807.16 L573.88 806.99 L574.69 807.32 L575.50 807.65 L576.33 808.58 L577.16 808.92 L577.99 809.26 L578.83 809.10 L579.66 809.45 L580.49 809.79 L581.32 810.29 L582.15 810.64 L582.98 810.98 L583.82 811.01 L584.65 811.36 L585.48 811.70 L586.31 811.96 L587.14 812.30 L587.97 812.65 L588.81 813.33 L589.64 813.67 L590.47 814.01 L591.30 813.97 L592.11 814.31 L592.93 814.66 L593.74 815.41 L594.55 815.76 L595.37 816.11 L596.18 816.97 L596.99 817.31 L597.81 817.66 L598.62 818.17 L599.43 818.52 L600.25 818.86 L601.06 818.58 L601.87 818.92 L602.69 819.27 L603.50 819.27 L604.30 819.63 L605.10 819.99 L605.90 820.61 L606.70 820.97 L607.50 821.33 L608.30 821.37 L609.10 821.73 L609.90 822.09 L610.70 822.62 L611.50 822.98 L612.30 823.34 L613.10 824.14 L613.90 824.50 L614.70 824.86 L615.50 825.21 L616.30 825.57 L617.10 825.93 L617.90 825.65 L618.70 826.01 L619.50 826.37 L620.30 827.23 L621.10 827.59 L621.93 827.92 L622.77 828.18 L623.60 828.51 L624.43 828.85 L625.27 829.15 L626.10 829.49 L626.93 829.82 L627.77 829.87 L628.60 830.20 L629.43 830.53 L630.27 831.15 L631.10 831.48 L631.93 831.82 L632.77 831.83 L633.60 832.16 L634.43 832.50 L635.27 833.47 L636.10 833.80 L636.93 834.14 L637.77 834.43 L638.60 834.76 L639.41 835.06 L640.22 835.34 L641.02 835.64 L641.83 835.94 L642.64 836.00 L643.45 836.30 L644.25 836.60 L645.06 837.50 L645.87 837.80 L646.68 838.10 L647.48 837.76 L648.29 838.06 L649.10 838.36 L649.91 838.39 L650.72 838.60 L651.52 838.82 L652.33 839.22 L653.14 839.44 L653.95 839.65 L654.75 840.46 L655.56 840.68 L656.37 840.89 L657.18 840.28 L657.98 840.49 L658.79 840.71 L659.60 841.59 L660.48 841.48 L661.35 841.37 L662.23 841.44 L663.10 841.33 L663.98 841.22 L664.85 841.01 L665.73 840.90 L666.60 840.79 L667.48 839.98 L668.37 839.60 L669.25 839.21 L670.13 838.81 L671.02 838.43 L671.90 838.05 L672.77 838.23 L673.63 837.94 L674.50 837.66 L675.37 837.20 L676.23 836.91 L677.10 836.63 L678.00 836.14 L678.90 835.54 L679.80 834.94 L680.90 832.05 L682.00 830.20" fill="none" stroke="#19EE19" stroke-width="1.15" stroke-linejoin="round"/>
<path fill="#000" d="M502.61 845.8h1.41v12.5h-1.41zM506.60 845.8h1.13v12.5h-1.13zM508.51 845.8h1.04v12.5h-1.04zM512.92 845.8h1.26v12.5h-1.26zM515.09 845.8h1.15v12.5h-1.15zM519.29 845.8h1.40v12.5h-1.40zM521.27 845.8h0.75v12.5h-0.75zM524.19 845.8h1.31v12.5h-1.31zM533.98 845.8h1.68v12.5h-1.68zM536.49 845.8h0.01v12.5h-0.01z"/>
<path fill="#888" d="M517.05 845.8h1.11v12.5h-1.11z"/>
<path fill="#555" d="M526.05 845.8h1.09v12.5h-1.09zM532.01 845.8h0.75v12.5h-0.75z"/>
<path fill="#000" d="M559.50 845.8h0.80v12.5h-0.80z"/>
<path fill="#000" d="M564.00 845.8h0.80v12.5h-0.80z"/>
<path fill="#000" d="M576.50 845.8h0.80v12.5h-0.80z"/>
<path fill="#000" d="M583.80 845.8h0.80v12.5h-0.80z"/>
<path fill="#000" d="M589.20 845.8h0.80v12.5h-0.80z"/>
<path fill="#000" d="M597.30 845.8h0.80v12.5h-0.80z"/>
<path fill="#000" d="M608.10 845.8h0.80v12.5h-0.80z"/>
<path fill="#2a2a2a" d="M618.90 845.8h0.77v12.5h-0.77z"/>
<path fill="#000" d="M629.70 845.8h0.80v12.5h-0.80z"/>
<path fill="#000" d="M637.80 845.8h1.19v12.5h-1.19zM639.99 845.8h0.99v12.5h-0.99z"/>
<path fill="#000" d="M650.00 845.8h0.96v12.5h-0.96zM652.32 845.8h0.60v12.5h-0.60z"/>
<path fill="#000" d="M660.32 845.8h1.24v12.5h-1.24zM664.12 845.8h0.92v12.5h-0.92zM670.31 845.8h1.49v12.5h-1.49z"/>
<path fill="#888" d="M662.73 845.8h0.83v12.5h-0.83zM665.96 845.8h1.03v12.5h-1.03zM673.33 845.8h0.97v12.5h-0.97zM681.06 845.8h0.44v12.5h-0.44z"/>
<path fill="#2a2a2a" d="M675.24 845.8h0.63v12.5h-0.63z"/>
<path fill="#555" d="M676.57 845.8h0.70v12.5h-0.70zM678.83 845.8h1.48v12.5h-1.48z"/>
<rect x="501.75" y="858.30" width="9.31" height="5.30" fill="#D33A2F"/><rect x="510.76" y="858.30" width="32.74" height="5.30" fill="#EC6550"/><rect x="543.21" y="858.30" width="48.97" height="5.30" fill="#F7A78C"/><rect x="591.88" y="858.30" width="54.38" height="5.30" fill="#FCE0D5"/><rect x="645.95" y="858.30" width="11.11" height="5.30" fill="#E9EBF6"/><rect x="656.76" y="858.30" width="7.51" height="5.30" fill="#BAD3EA"/><rect x="663.98" y="858.30" width="11.11" height="5.30" fill="#6FA6D6"/><rect x="674.79" y="858.30" width="7.51" height="5.30" fill="#3A7EC1"/>
<rect x="501.75" y="858.30" width="2.87" height="5.30" fill="#fff" fill-opacity="0.00"/><rect x="504.62" y="858.30" width="3.58" height="5.30" fill="#fff" fill-opacity="0.09"/><rect x="508.20" y="858.30" width="2.91" height="5.30" fill="#fff" fill-opacity="0.02"/><rect x="511.11" y="858.30" width="1.82" height="5.30" fill="#fff" fill-opacity="0.06"/><rect x="512.92" y="858.30" width="3.24" height="5.30" fill="#fff" fill-opacity="0.06"/><rect x="516.16" y="858.30" width="3.60" height="5.30" fill="#fff" fill-opacity="0.00"/><rect x="519.76" y="858.30" width="1.52" height="5.30" fill="#fff" fill-opacity="0.01"/><rect x="521.28" y="858.30" width="2.28" height="5.30" fill="#fff" fill-opacity="0.00"/><rect x="523.55" y="858.30" width="2.10" height="5.30" fill="#fff" fill-opacity="0.02"/><rect x="525.66" y="858.30" width="3.53" height="5.30" fill="#fff" fill-opacity="0.05"/><rect x="529.19" y="858.30" width="2.00" height="5.30" fill="#fff" fill-opacity="0.05"/><rect x="531.19" y="858.30" width="1.89" height="5.30" fill="#fff" fill-opacity="0.10"/><rect x="533.08" y="858.30" width="1.73" height="5.30" fill="#fff" fill-opacity="0.02"/><rect x="534.80" y="858.30" width="2.93" height="5.30" fill="#fff" fill-opacity="0.09"/><rect x="537.73" y="858.30" width="3.14" height="5.30" fill="#fff" fill-opacity="0.01"/><rect x="540.87" y="858.30" width="3.02" height="5.30" fill="#fff" fill-opacity="0.07"/><rect x="543.89" y="858.30" width="3.83" height="5.30" fill="#fff" fill-opacity="0.06"/><rect x="547.73" y="858.30" width="2.13" height="5.30" fill="#fff" fill-opacity="0.08"/><rect x="549.85" y="858.30" width="3.25" height="5.30" fill="#fff" fill-opacity="0.09"/><rect x="553.10" y="858.30" width="2.00" height="5.30" fill="#fff" fill-opacity="0.08"/><rect x="555.10" y="858.30" width="2.70" height="5.30" fill="#fff" fill-opacity="0.02"/><rect x="557.80" y="858.30" width="2.14" height="5.30" fill="#fff" fill-opacity="0.01"/><rect x="559.94" y="858.30" width="3.74" height="5.30" fill="#fff" fill-opacity="0.01"/><rect x="563.68" y="858.30" width="3.08" height="5.30" fill="#fff" fill-opacity="0.03"/><rect x="566.76" y="858.30" width="2.13" height="5.30" fill="#fff" fill-opacity="0.04"/><rect x="568.89" y="858.30" width="3.62" height="5.30" fill="#fff" fill-opacity="0.01"/><rect x="572.50" y="858.30" width="2.48" height="5.30" fill="#fff" fill-opacity="0.03"/><rect x="574.98" y="858.30" width="2.71" height="5.30" fill="#fff" fill-opacity="0.06"/><rect x="577.69" y="858.30" width="3.66" height="5.30" fill="#fff" fill-opacity="0.06"/><rect x="581.36" y="858.30" width="3.63" height="5.30" fill="#fff" fill-opacity="0.09"/><rect x="584.99" y="858.30" width="3.53" height="5.30" fill="#fff" fill-opacity="0.00"/><rect x="588.52" y="858.30" width="1.66" height="5.30" fill="#fff" fill-opacity="0.05"/><rect x="590.18" y="858.30" width="1.99" height="5.30" fill="#fff" fill-opacity="0.04"/><rect x="592.17" y="858.30" width="2.82" height="5.30" fill="#fff" fill-opacity="0.05"/><rect x="595.00" y="858.30" width="3.42" height="5.30" fill="#fff" fill-opacity="0.08"/><rect x="598.41" y="858.30" width="2.04" height="5.30" fill="#fff" fill-opacity="0.06"/><rect x="600.46" y="858.30" width="2.68" height="5.30" fill="#fff" fill-opacity="0.04"/><rect x="603.14" y="858.30" width="3.31" height="5.30" fill="#fff" fill-opacity="0.07"/><rect x="606.46" y="858.30" width="3.27" height="5.30" fill="#fff" fill-opacity="0.04"/><rect x="609.72" y="858.30" width="1.71" height="5.30" fill="#fff" fill-opacity="0.06"/><rect x="611.43" y="858.30" width="2.13" height="5.30" fill="#fff" fill-opacity="0.03"/><rect x="613.57" y="858.30" width="1.75" height="5.30" fill="#fff" fill-opacity="0.01"/><rect x="615.32" y="858.30" width="2.61" height="5.30" fill="#fff" fill-opacity="0.10"/><rect x="617.93" y="858.30" width="3.04" height="5.30" fill="#fff" fill-opacity="0.03"/><rect x="620.97" y="858.30" width="3.88" height="5.30" fill="#fff" fill-opacity="0.02"/><rect x="624.84" y="858.30" width="3.19" height="5.30" fill="#fff" fill-opacity="0.01"/><rect x="628.03" y="858.30" width="3.89" height="5.30" fill="#fff" fill-opacity="0.09"/><rect x="631.92" y="858.30" width="3.59" height="5.30" fill="#fff" fill-opacity="0.04"/><rect x="635.52" y="858.30" width="2.63" height="5.30" fill="#fff" fill-opacity="0.05"/><rect x="638.15" y="858.30" width="3.81" height="5.30" fill="#fff" fill-opacity="0.06"/><rect x="641.95" y="858.30" width="2.12" height="5.30" fill="#fff" fill-opacity="0.09"/><rect x="644.07" y="858.30" width="2.55" height="5.30" fill="#fff" fill-opacity="0.07"/><rect x="646.63" y="858.30" width="3.86" height="5.30" fill="#fff" fill-opacity="0.08"/><rect x="650.48" y="858.30" width="1.81" height="5.30" fill="#fff" fill-opacity="0.08"/><rect x="652.30" y="858.30" width="2.63" height="5.30" fill="#fff" fill-opacity="0.10"/><rect x="654.92" y="858.30" width="2.44" height="5.30" fill="#fff" fill-opacity="0.02"/><rect x="657.37" y="858.30" width="1.79" height="5.30" fill="#fff" fill-opacity="0.10"/><rect x="659.16" y="858.30" width="2.58" height="5.30" fill="#fff" fill-opacity="0.00"/><rect x="661.74" y="858.30" width="2.75" height="5.30" fill="#fff" fill-opacity="0.10"/><rect x="664.49" y="858.30" width="2.03" height="5.30" fill="#fff" fill-opacity="0.09"/><rect x="666.52" y="858.30" width="3.99" height="5.30" fill="#fff" fill-opacity="0.02"/><rect x="670.51" y="858.30" width="2.02" height="5.30" fill="#fff" fill-opacity="0.01"/><rect x="672.53" y="858.30" width="1.75" height="5.30" fill="#fff" fill-opacity="0.00"/><rect x="674.28" y="858.30" width="2.04" height="5.30" fill="#fff" fill-opacity="0.08"/><rect x="676.32" y="858.30" width="2.59" height="5.30" fill="#fff" fill-opacity="0.04"/><rect x="678.91" y="858.30" width="3.06" height="5.30" fill="#fff" fill-opacity="0.01"/>
<text x="594.50" y="774.77" font-size="10.2" fill="#000" text-anchor="middle" stroke="#000">Smooth muscle cell contraction</text>
<text x="611.60" y="787.82" font-size="10.2" fill="#000" text-anchor="middle" stroke="#000">NES</text>
<text x="611.75" y="798.07" font-size="10.2" fill="#000" text-anchor="middle" stroke="#000">1.747</text>
<text x="657.60" y="797.87" font-size="10.2" fill="#000" text-anchor="middle" stroke="#000">0.007</text>
<text font-size="10.2" text-anchor="middle" transform="translate(481.1 815.5) rotate(-90)" stroke="#000">Enrichment Score</text>
<text x="643.00" y="786.87" font-size="10.2" stroke="#000"><tspan font-style="italic">P</tspan> value</text>
<text x="503.25" y="874.32" font-size="10.2" text-anchor="start" font-style="italic" stroke="#000">Plxnb1<tspan font-size="6" dy="-3.5" font-style="normal">+</tspan></text>
<text x="685.00" y="874.07" font-size="10.2" text-anchor="end" font-style="italic" stroke="#000">Plxnb1<tspan font-size="6" dy="-3.5" font-style="normal">−</tspan></text>
</svg></body></html>
